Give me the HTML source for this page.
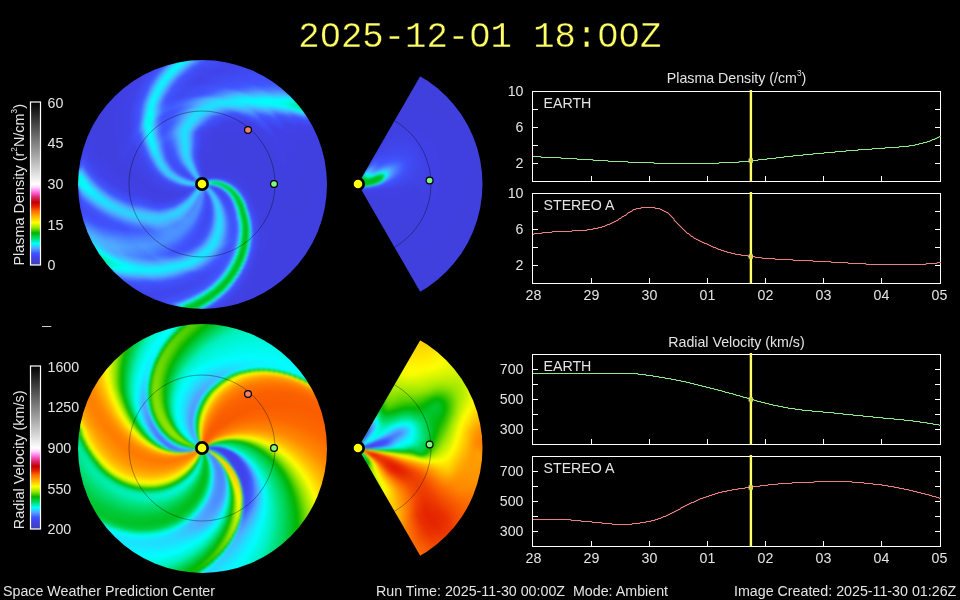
<!DOCTYPE html>
<html><head><meta charset="utf-8"><title>WSA-Enlil</title>
<style>
html,body{margin:0;padding:0;background:#000}
body{width:960px;height:600px;position:relative;overflow:hidden;font-family:"Liberation Sans", sans-serif}
.t{font-family:"Liberation Sans", sans-serif;font-size:14.2px;fill:#e4e4e4}
.f{font-family:"Liberation Sans", sans-serif;font-size:14.25px;fill:#e4e4e4}
.d{position:absolute;width:0;height:0}
.d i{position:absolute;border-radius:50%;width:calc(2*var(--r));height:calc(2*var(--r));left:calc(-1*var(--r));top:calc(-1*var(--r))}
.c{position:absolute;width:249px;height:249px;border-radius:50%;overflow:hidden}
.b{filter:blur(1.2px)}
.w{position:absolute;width:126px;height:250px;overflow:hidden;clip-path:circle(124.5px at 0 125px)}
.w>.d{clip-path:polygon(0 0,72.17px -125px,140px -125px,140px 125px,72.17px 125px)}

</style></head><body>
<div class="c" style="left:77.5px;top:59.5px"><div class="d b" style="left:124.5px;top:124.5px"><i style="--r:126.5px;background:conic-gradient(#4047ee 0deg,#4040e1 8deg,#4040df 14.5deg,#4042e9 32.5deg,#4157ff 43deg,#477aff 45.5deg,#4ea1ff 47deg,#48b3ff 47.5deg,#0bf3ff 49deg,#00fcf0 49.5deg,#00efb6 50.5deg,#00e794 51.5deg,#00e690 52deg,#00e899 52.5deg,#00efb5 53deg,#00f8e0 53.5deg,#0df1ff 54deg,#4fa6ff 55deg,#4469ff 56deg,#4053fe 56.5deg,#4041e7 59deg,#4040df 65.5deg,#4040e3 178deg,#404bf4 181.5deg,#4051fb 182deg,#4468ff 182.5deg,#4d98ff 183deg,#24d9ff 183.5deg,#00f3c8 184deg,#00db68 184.5deg,#00c836 185deg,#00be1c 185.5deg,#00bc16 186deg,#00bd19 186.5deg,#00c226 187deg,#00cc41 187.5deg,#00dc6a 188deg,#00edb0 188.5deg,#03fbff 189deg,#35c6ff 189.5deg,#4d99ff 190deg,#4676ff 190.5deg,#425cff 191deg,#404ef7 192deg,#4040e3 198deg,#4040df 205deg,#4043ea 220deg,#4052fd 225deg,#4364ff 226deg,#4ea1ff 228deg,#47b4ff 228.5deg,#01feff 230.5deg,#00f6d8 231.5deg,#00f2c5 232.5deg,#00f2c4 233deg,#00f6d8 234deg,#01feff 235deg,#4cafff 237.5deg,#4a8bff 239.5deg,#4a87ff 240deg,#4d9bff 245deg,#4b8fff 247.5deg,#4052fd 252deg,#4040e6 258deg,#4040e5 259.5deg,#4049f1 265deg,#4159ff 267deg,#4fa6ff 269deg,#01feff 271deg,#00f7dc 272deg,#00f6d7 272.5deg,#00f7dd 273deg,#05faff 274deg,#48b2ff 275.5deg,#4d9aff 276deg,#415bff 277.5deg,#404ef7 278.5deg,#4040e5 282.5deg,#4040df 299deg,#4040df 310deg,#4040e3 339deg,#404df6 345.5deg,#4053fe 346.5deg,#4984ff 348deg,#4bb0ff 349deg,#12ecff 350.5deg,#05faff 351.5deg,#10eeff 352.5deg,#42b9ff 354deg,#4fa4ff 354.5deg,#425dff 356.5deg,#4050fa 357.5deg,#4047ee 360deg)"></i><i style="--r:125px;background:conic-gradient(#425cff 0deg,#404ff9 2deg,#4042e8 13deg,#4041e7 15.5deg,#4050fa 34.5deg,#425cff 38.5deg,#4880ff 42deg,#4caeff 44.5deg,#00fffd 47.5deg,#00f2c3 49deg,#00e99e 50.5deg,#00e896 51.5deg,#00e899 52deg,#00efb7 53deg,#00fbee 54deg,#0af4ff 54.5deg,#4dadff 56deg,#425fff 58deg,#404ff9 59deg,#4040e5 63deg,#4040df 78deg,#4040e3 171.5deg,#404cf6 177.5deg,#4054ff 178.5deg,#487fff 179.5deg,#4d9bff 180deg,#3dbeff 180.5deg,#19e5ff 181deg,#00fae9 181.5deg,#00e074 182.5deg,#00c939 183.5deg,#00be1b 184.5deg,#00bc15 185.5deg,#00c021 187deg,#00ca3c 188deg,#00db68 189deg,#00e589 189.5deg,#00f9e3 190.5deg,#0cf3ff 191deg,#41baff 192deg,#4ea1ff 192.5deg,#446bff 194deg,#4054ff 195deg,#4046ed 201.5deg,#4043ea 206deg,#404df6 216.5deg,#415aff 219.5deg,#4e9eff 223.5deg,#50a8ff 224deg,#06f9ff 227.5deg,#00fef8 228deg,#00f2c4 230deg,#00eca9 232deg,#00eba7 232.5deg,#00eeb3 234.5deg,#00fbeb 237.5deg,#01feff 238.5deg,#23daff 241.5deg,#4ab0ff 247deg,#4fa5ff 248deg,#4052fd 254.5deg,#4044ec 261deg,#4044ec 261.5deg,#404df6 265.5deg,#4053fe 266.5deg,#4880ff 268deg,#50a9ff 269deg,#01feff 271deg,#00f8de 272deg,#00f7d9 272.5deg,#00f8df 273deg,#06f9ff 274deg,#47b3ff 275.5deg,#4d9bff 276deg,#425dff 277.5deg,#404ef7 278.5deg,#4040e4 283deg,#4040df 299.5deg,#4040e5 331deg,#4050fa 341deg,#415aff 342.5deg,#4fa5ff 346deg,#31cbff 347.5deg,#0df1ff 349.5deg,#05faff 351deg,#14eaff 353deg,#50aaff 356deg,#425cff 360deg)"></i><i style="--r:123.5px;background:conic-gradient(#4159ff 0deg,#404af2 5deg,#4043ea 14.5deg,#4053fe 34.5deg,#446cff 38.5deg,#4d9aff 42deg,#4dadff 43deg,#00fefb 46.5deg,#00f0bc 48.5deg,#00eba5 50deg,#00eaa3 50.5deg,#00edac 51.5deg,#00f4cd 52.5deg,#01feff 53.5deg,#4eacff 55.5deg,#4158ff 58deg,#4043ea 61.5deg,#4040df 70deg,#4040e3 168.5deg,#404af3 175deg,#4053fe 176.5deg,#4676ff 177.5deg,#4fabff 178.5deg,#0df1ff 179.5deg,#00f7dc 180deg,#00df73 181deg,#00cb3c 182deg,#00bf1e 183deg,#00bc16 184deg,#00be1b 185.5deg,#00ca3b 187deg,#00e27a 188.5deg,#00fdf5 190deg,#14eaff 190.5deg,#44b7ff 191.5deg,#4ea1ff 192deg,#456fff 193.5deg,#4158ff 194.5deg,#404af3 198.5deg,#4045ec 205.5deg,#404ef7 215.5deg,#4057ff 218deg,#4c97ff 222deg,#4fabff 223deg,#06f9ff 226.5deg,#00fbeb 227.5deg,#00f1c1 229.5deg,#00eeb3 231.5deg,#00f2c2 233.5deg,#00fefb 236.5deg,#29d3ff 240.5deg,#4bafff 246deg,#4ea0ff 247.5deg,#4052fd 254deg,#4047ef 259.5deg,#4051fb 264.5deg,#425dff 265.5deg,#4fa6ff 268deg,#05faff 270.5deg,#00f8e2 272deg,#00f8e0 272.5deg,#00fcf2 273.5deg,#03fcff 274deg,#46b5ff 276deg,#4ea1ff 276.5deg,#425eff 278.5deg,#4050fa 279.5deg,#4040e6 284.5deg,#4040df 301deg,#4040e6 329deg,#4052fc 339.5deg,#4363ff 341deg,#50a9ff 344.5deg,#15e8ff 347.5deg,#05faff 349.5deg,#0ef0ff 351.5deg,#35c7ff 354deg,#4fa7ff 355.5deg,#4260ff 359.5deg,#4159ff 360deg)"></i><i style="--r:122px;background:conic-gradient(#4052fc 0deg,#4044eb 10.5deg,#4043ea 13deg,#404ff9 30.5deg,#4158ff 35deg,#4881ff 39.5deg,#50aaff 42deg,#04fbff 45.5deg,#00f1bf 48deg,#00edaf 49.5deg,#00efb7 50.5deg,#00f5d3 51.5deg,#02fdff 52.5deg,#4ab0ff 54.5deg,#4a8cff 55.5deg,#4053fe 57.5deg,#4040e5 62.5deg,#4040df 80.5deg,#4040e3 167.5deg,#404ef7 174.5deg,#4158ff 175.5deg,#4d9aff 177deg,#42b9ff 177.5deg,#00fefd 178.5deg,#00e68d 179.5deg,#00da66 180deg,#00c734 181deg,#00be1b 182deg,#00bc16 183deg,#00bf1e 184.5deg,#00cd42 186deg,#00dd6c 187deg,#00e58c 187.5deg,#00f8df 188.5deg,#06f8ff 189deg,#4fabff 190.5deg,#4676ff 192deg,#4054ff 193.5deg,#4047ee 200.5deg,#4045ec 204deg,#404df6 214deg,#4159ff 217deg,#4d9aff 221deg,#4caeff 222deg,#06f9ff 225.5deg,#00fbed 226.5deg,#00f3c8 228.5deg,#00f1be 230deg,#00f3cb 232deg,#01feff 235deg,#2dcfff 239deg,#47b4ff 244.5deg,#4fa2ff 246.5deg,#4053fe 253.5deg,#404cf4 257.5deg,#4053fd 262deg,#4672ff 264deg,#4bafff 266.5deg,#0df1ff 269deg,#00fdf8 270deg,#00fae6 271.5deg,#00fbee 272.5deg,#05faff 273.5deg,#46b5ff 276deg,#4fa5ff 276.5deg,#4056ff 279.5deg,#4043ea 284.5deg,#4040df 297.5deg,#4040df 304deg,#4041e7 328.5deg,#4051fb 338deg,#425eff 339.5deg,#4fa2ff 343deg,#41baff 344deg,#13ebff 346.5deg,#05faff 348.5deg,#11edff 350.5deg,#43b8ff 353.5deg,#4fa3ff 354.5deg,#425dff 358.5deg,#4052fc 360deg)"></i><i style="--r:120.5px;background:conic-gradient(#404ef8 0deg,#4043ea 12deg,#4050f9 30deg,#4158ff 34deg,#477aff 38deg,#4fa7ff 41deg,#00ffff 45deg,#00f4cc 47deg,#00f0bc 48.5deg,#00f1c1 49.5deg,#00f7db 50.5deg,#03fbff 51.5deg,#47b4ff 53.5deg,#4ea2ff 54deg,#4056ff 56.5deg,#4041e8 61deg,#4040df 71.5deg,#4040e3 166deg,#404af2 172.5deg,#4053fd 174deg,#4673ff 175deg,#4fa7ff 176deg,#12ecff 177deg,#00f9e4 177.5deg,#00e178 178.5deg,#00cc3f 179.5deg,#00c020 180.5deg,#00bc16 182deg,#00c122 183.5deg,#00d04b 185deg,#00e178 186deg,#00fcf3 187.5deg,#12ebff 188deg,#43b8ff 189deg,#4ea1ff 189.5deg,#4363ff 191.5deg,#4053fe 192.5deg,#4045ec 201.5deg,#4045ec 203deg,#404ff8 213.5deg,#415bff 216deg,#4fa6ff 220.5deg,#2bd1ff 222.5deg,#00fefc 225deg,#00f6d6 227deg,#00f3ca 229deg,#00f7da 231deg,#00fefd 233deg,#34c8ff 238deg,#4bafff 244deg,#4b8eff 247.5deg,#4054ff 252.5deg,#404cf5 257deg,#4054ff 261.5deg,#4b8fff 264.5deg,#50a8ff 265.5deg,#0af4ff 268.5deg,#02fdff 269deg,#00fbed 270.5deg,#00fcf2 271.5deg,#04faff 272.5deg,#33c9ff 274.5deg,#50a9ff 275.5deg,#415aff 278.5deg,#4048f0 281.5deg,#4040e2 289.5deg,#4040df 303deg,#4041e7 327.5deg,#4052fc 337deg,#4261ff 338.5deg,#4fa7ff 342deg,#17e6ff 345deg,#06f9ff 347deg,#06f9ff 347.5deg,#13ebff 349.5deg,#50a8ff 353deg,#4261ff 357deg,#4052fd 358.5deg,#404ef8 360deg)"></i><i style="--r:119px;background:conic-gradient(#404cf5 0deg,#4043e9 11deg,#4050fa 29.5deg,#415aff 33.5deg,#487eff 37.5deg,#4daeff 40.5deg,#00fefc 44.5deg,#00f5d1 46.5deg,#00f3c8 48deg,#00f6d5 49deg,#06f9ff 50.5deg,#4fa5ff 53deg,#415bff 55.5deg,#404af3 57.5deg,#4040e2 63deg,#4040df 103deg,#4040df 103.5deg,#4040e3 165deg,#404ef7 172deg,#4158ff 173deg,#4d9aff 174.5deg,#43b8ff 175deg,#00ffff 176deg,#00e791 177deg,#00db68 177.5deg,#00c836 178.5deg,#00bf1c 179.5deg,#00bc16 180.5deg,#00bf1e 182deg,#00cc40 183.5deg,#00db69 184.5deg,#00e487 185deg,#02fdff 186.5deg,#4bb0ff 188deg,#4779ff 189.5deg,#4056ff 191deg,#4046ee 199deg,#4045ec 202deg,#404ef8 212deg,#4158ff 214.5deg,#4e9fff 219deg,#50a9ff 219.5deg,#07f7ff 223.5deg,#00ffff 224deg,#00f7dd 226deg,#00f6d4 227.5deg,#00fae8 230deg,#02fdff 231.5deg,#38c4ff 236.5deg,#4caeff 243deg,#4c94ff 246deg,#4053fe 252deg,#404cf5 256deg,#4053fe 260.5deg,#487fff 263deg,#4fa2ff 264.5deg,#4bafff 265deg,#11edff 267.5deg,#02fdff 268.5deg,#00fcf3 270deg,#05faff 271.5deg,#30ccff 273.5deg,#4caeff 274.5deg,#4054ff 278deg,#4042e8 283.5deg,#4040df 300deg,#4040df 302deg,#4041e7 326.5deg,#4050fb 335.5deg,#415cff 337deg,#4fabff 341deg,#15e9ff 344deg,#06f9ff 346deg,#10eeff 348deg,#42b9ff 351deg,#4fa4ff 352deg,#425eff 356deg,#4050fa 358deg,#404cf5 360deg)"></i><i style="--r:117.5px;background:conic-gradient(#404af2 0deg,#4042e9 10deg,#4050fa 28.5deg,#4159ff 32.5deg,#4983ff 37deg,#50aaff 39.5deg,#05faff 43.5deg,#00fbef 44.5deg,#00f6d5 46.5deg,#00f6d4 47deg,#00f8df 48deg,#00fefa 49deg,#15e8ff 50deg,#4fa7ff 52deg,#4054ff 55deg,#4041e7 60deg,#4040df 72deg,#4040df 104deg,#4040e3 163.5deg,#404df6 170.5deg,#4054ff 171.5deg,#4b91ff 173deg,#4dadff 173.5deg,#0df2ff 174.5deg,#00f7dc 175deg,#00e075 176deg,#00cb3f 177deg,#00c020 178deg,#00bc17 179.5deg,#00c021 181deg,#00cf48 182.5deg,#00df73 183.5deg,#00fae8 185deg,#0bf3ff 185.5deg,#50a9ff 187deg,#4675ff 188.5deg,#4054ff 190deg,#4046ed 198.5deg,#4045ec 200.5deg,#404ff8 211deg,#415aff 213.5deg,#4ea2ff 218deg,#4fabff 218.5deg,#08f6ff 222.5deg,#00fef8 223.5deg,#00f8e1 225.5deg,#00f8df 226deg,#00fae9 228deg,#00ffff 229.5deg,#3ebdff 235.5deg,#4dadff 242deg,#4880ff 247deg,#4054fe 251deg,#404cf5 255deg,#4057ff 260deg,#4b91ff 263deg,#50a9ff 264deg,#0fefff 267deg,#00fefc 268.5deg,#00fefa 269deg,#00ffff 270deg,#16e8ff 271.5deg,#48b3ff 273.5deg,#4fa4ff 274deg,#4158ff 277deg,#4042e9 282.5deg,#4040df 297.5deg,#4040df 301deg,#4041e7 325deg,#4051fb 334.5deg,#425fff 336deg,#4fa4ff 339.5deg,#40bbff 340.5deg,#12ebff 343deg,#06f9ff 345deg,#13ebff 347deg,#46b5ff 350deg,#50aaff 350.5deg,#4362ff 354.5deg,#4052fd 356deg,#404af2 360deg)"></i><i style="--r:116px;background:conic-gradient(#4048f0 0deg,#4042e9 9deg,#404ff9 27deg,#4159ff 31.5deg,#4881ff 36deg,#4fa7ff 38.5deg,#2fcdff 40.5deg,#04faff 43deg,#00fbeb 44.5deg,#00f8e1 46deg,#00fae9 47deg,#01feff 48deg,#33c9ff 50deg,#50a9ff 51deg,#4158ff 54deg,#4044ea 58deg,#4040df 69deg,#4040e3 162deg,#404cf5 169deg,#4052fd 170deg,#415cff 170.5deg,#4e9fff 172deg,#3dbeff 172.5deg,#00fdf7 173.5deg,#00e58b 174.5deg,#00da65 175deg,#00c835 176deg,#00bf1c 177deg,#00bd17 178deg,#00bf1e 179.5deg,#00cc40 181deg,#00db68 182deg,#00e485 182.5deg,#00ffff 184deg,#48b3ff 185.5deg,#4e9dff 186deg,#456dff 187.5deg,#4053fd 189deg,#4045ec 198.5deg,#4045ec 199.5deg,#404ef7 209.5deg,#4057ff 212deg,#4c92ff 216deg,#4dadff 217.5deg,#0af5ff 221.5deg,#00fffd 222.5deg,#00faea 224.5deg,#00fae9 225deg,#00fdf7 227deg,#04fbff 228deg,#41b9ff 234deg,#4facff 241deg,#4987ff 245.5deg,#4053fe 250.5deg,#404cf5 254.5deg,#4054ff 259deg,#4a8cff 262deg,#4fa3ff 263deg,#3fbcff 264deg,#0ef1ff 266.5deg,#01feff 268deg,#01feff 268.5deg,#0df1ff 270deg,#37c5ff 272deg,#50a8ff 273deg,#4054fe 276.5deg,#4041e8 282.5deg,#4040df 298deg,#4040df 300deg,#4041e7 324deg,#4052fc 333.5deg,#4362ff 335deg,#50a8ff 338.5deg,#17e7ff 341.5deg,#06f8ff 343.5deg,#10eeff 345.5deg,#36c5ff 348deg,#4fa5ff 349.5deg,#425eff 353.5deg,#4050fa 355.5deg,#4048f0 360deg)"></i><i style="--r:114.5px;background:conic-gradient(#4047ee 0deg,#4042e9 8deg,#404ef8 25.5deg,#4158ff 30.5deg,#4881ff 35deg,#4caeff 38deg,#01feff 42.5deg,#00fae7 44.5deg,#00f9e5 45deg,#00fdf5 46.5deg,#02fdff 47deg,#30ccff 49deg,#4daeff 50deg,#4053fe 53.5deg,#4040e6 59deg,#4040df 74.5deg,#4040e3 161deg,#404df7 168deg,#4054ff 169deg,#4c92ff 170.5deg,#4caeff 171deg,#0cf3ff 172deg,#00f7da 172.5deg,#00df74 173.5deg,#00cb3e 174.5deg,#00c020 175.5deg,#00bd17 177deg,#00c122 178.5deg,#00d04a 180deg,#00e075 181deg,#00fbec 182.5deg,#0ef0ff 183deg,#3ebdff 184deg,#4fa6ff 184.5deg,#4366ff 186.5deg,#4054ff 187.5deg,#4046ed 196deg,#4045ec 198deg,#404ef8 208.5deg,#4159ff 211deg,#4fa6ff 216deg,#12ecff 220deg,#00fefc 222deg,#00fcf3 223.5deg,#03fcff 226deg,#48b2ff 233deg,#4bafff 234deg,#4ab0ff 237deg,#4fa5ff 241deg,#4778ff 246deg,#4053fe 249.5deg,#404cf5 253.5deg,#4053fe 258deg,#4987ff 261deg,#50a9ff 262.5deg,#14eaff 265.5deg,#04faff 267.5deg,#0df1ff 269deg,#34c8ff 271deg,#4eacff 272deg,#4056ff 275.5deg,#4042e9 281deg,#4040df 296deg,#4040df 299.5deg,#4041e7 322.5deg,#4051fb 332deg,#425dff 333.5deg,#4eacff 337.5deg,#1ce2ff 340deg,#08f7ff 342deg,#07f8ff 342.5deg,#12ecff 344.5deg,#45b6ff 347.5deg,#4fabff 348deg,#415bff 352.5deg,#404bf4 356.5deg,#4047ee 360deg)"></i><i style="--r:113px;background:conic-gradient(#4046ed 0deg,#4043e9 6deg,#4052fc 26.5deg,#4260ff 30deg,#4b8dff 34.5deg,#50aaff 36.5deg,#08f7ff 41deg,#00fefa 42deg,#00fae8 44deg,#00fdf5 45.5deg,#00ffff 46deg,#28d5ff 48deg,#4fabff 49.5deg,#4056ff 53deg,#4040e6 59deg,#4040df 76.5deg,#4040df 105deg,#4040e3 159.5deg,#404cf5 166.5deg,#4052fd 167.5deg,#456fff 168.5deg,#4ea0ff 169.5deg,#3cbfff 170deg,#1ce2ff 170.5deg,#00fdf5 171deg,#00e589 172deg,#00d964 172.5deg,#00c834 173.5deg,#00bf1c 174.5deg,#00bd17 175.5deg,#00c01f 177deg,#00cd42 178.5deg,#00dc6b 179.5deg,#00e589 180deg,#03fcff 181.5deg,#4bb0ff 183deg,#4779ff 184.5deg,#4057ff 186deg,#4049f1 191deg,#4045ec 197deg,#404ef7 207deg,#415bff 210deg,#50a8ff 215deg,#13ebff 219deg,#00ffff 221.5deg,#00fefd 222.5deg,#07f7ff 224.5deg,#4bafff 231.5deg,#50a9ff 232.5deg,#4dadff 236.5deg,#4e9fff 241deg,#4053fe 249deg,#404cf6 253deg,#4157ff 257.5deg,#4b8dff 260.5deg,#4cafff 262deg,#1ae4ff 264.5deg,#08f6ff 266.5deg,#08f6ff 267deg,#1de0ff 269deg,#4ab0ff 271deg,#4c96ff 272deg,#415bff 274.5deg,#404ef8 276deg,#4040e5 282.5deg,#4040df 298.5deg,#4042e8 322.5deg,#4053fe 331.5deg,#4985ff 334.5deg,#4fa6ff 336deg,#19e5ff 339deg,#07f7ff 341deg,#07f8ff 341.5deg,#15e9ff 343.5deg,#49b2ff 346.5deg,#4e9dff 347.5deg,#4159ff 351.5deg,#404af2 356.5deg,#4046ed 360deg)"></i><i style="--r:111.5px;background:conic-gradient(#4045ed 0deg,#4044eb 4deg,#4052fc 24deg,#425eff 27.5deg,#4a8bff 32.5deg,#4daeff 35deg,#05faff 40deg,#00fef9 41deg,#00fbeb 43deg,#00fdf7 44.5deg,#00ffff 45deg,#2dcfff 47.5deg,#50a9ff 49deg,#4053fe 53deg,#4040e6 59.5deg,#4040df 78.5deg,#4040df 107.5deg,#4040e3 158deg,#404bf4 165deg,#4055ff 166.5deg,#4c93ff 168deg,#4bafff 168.5deg,#0af4ff 169.5deg,#00f6d8 170deg,#00df73 171deg,#00cb3e 172deg,#00c020 173deg,#00bd17 174.5deg,#00c123 176deg,#00d04c 177.5deg,#00e178 178.5deg,#00fcf1 180deg,#11edff 180.5deg,#41baff 181.5deg,#4fa4ff 182deg,#4571ff 183.5deg,#4053fe 185deg,#4046ed 193.5deg,#4045ec 195.5deg,#404ef8 206deg,#4157ff 208.5deg,#50a9ff 214deg,#15e9ff 218deg,#04fbff 221deg,#13ebff 224deg,#4fabff 230deg,#4fa4ff 231.5deg,#50aaff 236deg,#4e9fff 240deg,#4366ff 246deg,#4052fd 248.5deg,#404df6 252deg,#4055ff 256.5deg,#4a88ff 259.5deg,#50a8ff 261deg,#19e5ff 264deg,#0cf2ff 266deg,#16e8ff 267.5deg,#3bc0ff 269.5deg,#4fa6ff 270.5deg,#4055ff 274deg,#4042e8 280deg,#4040df 296.5deg,#4040df 298deg,#4041e7 320.5deg,#4050fa 329.5deg,#4159ff 331deg,#50a8ff 335deg,#16e7ff 338deg,#07f8ff 340deg,#11edff 342deg,#43b8ff 345deg,#4eadff 345.5deg,#425cff 350deg,#404ff9 352.5deg,#4045ed 360deg)"></i><i style="--r:110px;background:conic-gradient(#4045ec 0deg,#4044eb 2.5deg,#4050fa 21.5deg,#415cff 26deg,#4a87ff 31deg,#50a8ff 33.5deg,#0af4ff 38.5deg,#00fefa 40deg,#00fbee 42deg,#03fcff 44deg,#2fcdff 46.5deg,#50a8ff 48deg,#4054ff 52deg,#4041e8 58deg,#4040df 71.5deg,#4040df 106deg,#4040e3 157deg,#404cf5 164deg,#4052fd 165deg,#4570ff 166deg,#4ea1ff 167deg,#3bc0ff 167.5deg,#1ae3ff 168deg,#00fcf3 168.5deg,#00e487 169.5deg,#00d963 170deg,#00c734 171deg,#00bf1c 172deg,#00bd17 173deg,#00c020 174.5deg,#00cd43 176deg,#00dd6c 177deg,#00eeb3 178deg,#05faff 179deg,#4caeff 180.5deg,#4778ff 182deg,#4056ff 183.5deg,#4047ef 191deg,#4045ed 194deg,#404ff9 204.5deg,#415aff 207deg,#50a8ff 212.5deg,#1ae4ff 216.5deg,#08f7ff 219.5deg,#07f7ff 220deg,#1ce2ff 223.5deg,#4fabff 229deg,#4fa4ff 230.5deg,#50aaff 235.5deg,#4e9eff 239.5deg,#4365ff 245.5deg,#4052fd 248deg,#404df6 251.5deg,#4054ff 255.5deg,#4985ff 258.5deg,#4cafff 260.5deg,#1edfff 263deg,#0fefff 265deg,#16e8ff 266.5deg,#38c4ff 268.5deg,#50aaff 269.5deg,#4159ff 273deg,#4047ef 276.5deg,#4040e1 285.5deg,#4040df 297deg,#4041e7 319.5deg,#4050fa 328.5deg,#415aff 330deg,#50aaff 334deg,#1ce1ff 336.5deg,#08f7ff 338.5deg,#07f8ff 339deg,#13eaff 341deg,#48b3ff 344deg,#50a8ff 344.5deg,#4260ff 348.5deg,#4052fd 350deg,#4045ec 359.5deg,#4045ec 360deg)"></i><i style="--r:108.5px;background:conic-gradient(#4044eb 0deg,#4044eb 1.5deg,#4050fa 20.5deg,#4159ff 24.5deg,#4983ff 29.5deg,#50aaff 32.5deg,#0af4ff 37.5deg,#00fefb 39deg,#00fcf1 41deg,#00ffff 42.5deg,#27d6ff 45deg,#4fa7ff 47deg,#4054ff 51deg,#4041e7 57.5deg,#4040df 73.5deg,#4040df 103deg,#4040e3 155.5deg,#404bf4 162.5deg,#4056ff 164deg,#4c94ff 165.5deg,#4ab1ff 166deg,#09f6ff 167deg,#00f6d6 167.5deg,#00ea9f 168deg,#00de71 168.5deg,#00cb3c 169.5deg,#00c01f 170.5deg,#00bd17 172deg,#00c123 173.5deg,#00d14c 175deg,#00e179 176deg,#00fcf2 177.5deg,#12ecff 178deg,#41baff 179deg,#4fa3ff 179.5deg,#4672ff 181deg,#4054ff 182.5deg,#4047ef 190.5deg,#4047ee 192.5deg,#4051fb 203deg,#415cff 205deg,#4dadff 211deg,#1ae4ff 215deg,#09f5ff 218deg,#09f6ff 218.5deg,#16e8ff 221.5deg,#4dadff 228deg,#4fa5ff 230deg,#4eadff 234.5deg,#4ea2ff 238.5deg,#446aff 244.5deg,#4052fd 247.5deg,#404ef7 250.5deg,#4054ff 254.5deg,#4982ff 257.5deg,#50aaff 259.5deg,#1be2ff 262.5deg,#10eeff 264.5deg,#22dbff 266.5deg,#4bafff 268.5deg,#4c97ff 269.5deg,#4054ff 272.5deg,#4042e8 278.5deg,#4040df 295deg,#4040df 296deg,#4041e7 318.5deg,#4051fb 327.5deg,#425dff 329deg,#4fa2ff 332.5deg,#41baff 333.5deg,#13ebff 336deg,#07f7ff 338deg,#16e8ff 340deg,#4bafff 343deg,#4b90ff 344.5deg,#4057ff 348deg,#4046ed 356.5deg,#4044eb 360deg)"></i><i style="--r:107px;background:conic-gradient(#4044ea 0deg,#4044ea 0.5deg,#4052fc 21deg,#425dff 24deg,#4a8bff 29deg,#4eacff 31.5deg,#0af4ff 36.5deg,#00fef8 38.5deg,#00fdf4 39.5deg,#03fcff 41.5deg,#29d4ff 44deg,#4fa6ff 46deg,#4055ff 50deg,#4040e6 57deg,#4040df 78deg,#4040df 102.5deg,#4040e3 154.5deg,#404af2 161deg,#415aff 163deg,#4983ff 164deg,#4e9dff 164.5deg,#3fbcff 165deg,#00fef9 166deg,#00e58b 167deg,#00da64 167.5deg,#00c734 168.5deg,#00be1c 169.5deg,#00bd17 170.5deg,#00c020 172deg,#00c835 173deg,#00de71 174.5deg,#00f0bd 175.5deg,#00fae7 176deg,#0cf3ff 176.5deg,#3dbfff 177.5deg,#4fa7ff 178deg,#4467ff 180deg,#4054ff 181deg,#4047ee 189.5deg,#4046ee 191deg,#4050fa 201deg,#415bff 203.5deg,#4fabff 209.5deg,#1be2ff 213.5deg,#0af4ff 216.5deg,#0af4ff 217deg,#17e6ff 220deg,#50a9ff 226.5deg,#4e9fff 229deg,#50a9ff 234deg,#4e9eff 238deg,#4053fd 246.5deg,#404ef8 249.5deg,#4158ff 254deg,#4c92ff 257.5deg,#4fa6ff 258.5deg,#1fdeff 261.5deg,#12ecff 263.5deg,#20ddff 265.5deg,#50a7ff 268deg,#4159ff 271.5deg,#4047ef 275deg,#4040e1 284deg,#4040df 295.5deg,#4042e8 318deg,#4051fb 326.5deg,#425fff 328deg,#4fa6ff 331.5deg,#18e6ff 334.5deg,#08f7ff 336.5deg,#12ecff 338.5deg,#44b7ff 341.5deg,#4fabff 342deg,#4362ff 346deg,#4052fd 347.5deg,#4045ec 357deg,#4044ea 360deg)"></i><i style="--r:105.5px;background:conic-gradient(#4044ea 0deg,#4052fd 20deg,#4362ff 23.5deg,#4d99ff 29deg,#4daeff 30.5deg,#0af4ff 35.5deg,#00fefa 37.5deg,#00fdf7 38.5deg,#05f9ff 40.5deg,#35c7ff 43.5deg,#4fa5ff 45deg,#4057ff 49deg,#4042e9 55deg,#4040df 68.5deg,#4040df 102deg,#4040e3 154deg,#404bf4 160.5deg,#415aff 162deg,#4983ff 163deg,#4e9eff 163.5deg,#3dbfff 164deg,#1be3ff 164.5deg,#00fcf1 165deg,#00e381 166deg,#00cd43 167deg,#00c122 168deg,#00bd17 169deg,#00bd17 169.5deg,#00c224 171deg,#00d251 172.5deg,#00e486 173.5deg,#00f7db 174.5deg,#05faff 175deg,#50abff 176.5deg,#4675ff 178deg,#4054ff 179.5deg,#4046ee 188deg,#4046ee 189.5deg,#404ff9 199.5deg,#415aff 202deg,#50aaff 208deg,#1ce1ff 212deg,#0cf3ff 215deg,#0bf3ff 215.5deg,#19e5ff 218.5deg,#50a8ff 224.5deg,#4d99ff 227.5deg,#4fa6ff 233.5deg,#4d9bff 237.5deg,#4053fe 245.5deg,#404ef8 249deg,#4157ff 253deg,#4b8fff 256.5deg,#4eacff 258deg,#23daff 260.5deg,#14eaff 262.5deg,#1fdeff 264.5deg,#4facff 267deg,#4054ff 271deg,#4041e7 277.5deg,#4040df 294.5deg,#4042e8 317deg,#4053fe 326deg,#4c93ff 329.5deg,#50a9ff 330.5deg,#16e8ff 333.5deg,#08f7ff 335.5deg,#14eaff 337.5deg,#48b3ff 340.5deg,#50a8ff 341deg,#4260ff 345deg,#4052fc 346.5deg,#4044eb 357deg,#4043ea 359.5deg,#4044ea 360deg)"></i><i style="--r:104px;background:conic-gradient(#4044ea 0deg,#4054ff 20deg,#487dff 25.5deg,#50a8ff 29deg,#0bf4ff 34.5deg,#00fefc 36.5deg,#00fefa 37.5deg,#03fcff 39deg,#24d9ff 41.5deg,#4bafff 43.5deg,#4b90ff 45deg,#4158ff 48deg,#4043ea 53.5deg,#4040df 67deg,#4040df 101.5deg,#4040e3 152.5deg,#404cf6 159.5deg,#4053fe 160.5deg,#4675ff 161.5deg,#50a9ff 162.5deg,#0ef0ff 163.5deg,#00f7db 164deg,#00df72 165deg,#00ca3b 166deg,#00bf1e 167deg,#00bd17 168deg,#00c01f 169.5deg,#00c834 170.5deg,#00de71 172deg,#00f1c0 173deg,#00fbec 173.5deg,#0fefff 174deg,#41baff 175deg,#4fa3ff 175.5deg,#4570ff 177deg,#4053fe 178.5deg,#4046ee 187.5deg,#4046ee 188deg,#404ff9 198deg,#415aff 200.5deg,#50a9ff 206.5deg,#1ee0ff 210.5deg,#0df2ff 213.5deg,#0cf2ff 214deg,#1ae4ff 217deg,#50a9ff 222.5deg,#4c93ff 226.5deg,#4fa4ff 233deg,#4d97ff 237deg,#4053fe 245deg,#404ff8 248deg,#4056ff 252deg,#4982ff 255deg,#50a8ff 257deg,#20dcff 260deg,#15e8ff 262deg,#25d8ff 264deg,#4bb0ff 266deg,#4b8dff 267.5deg,#4158ff 270deg,#4044eb 275deg,#4040df 289deg,#4040df 293.5deg,#4042e8 315.5deg,#4052fd 324.5deg,#4364ff 326deg,#4dadff 329.5deg,#14eaff 332.5deg,#08f6ff 334.5deg,#16e8ff 336.5deg,#4bafff 339.5deg,#4b91ff 341deg,#4057ff 344.5deg,#4045ed 353.5deg,#4043ea 358deg,#4044ea 360deg)"></i><i style="--r:102.5px;background:conic-gradient(#4044eb 0deg,#4056ff 19.5deg,#4984ff 25deg,#50aaff 28deg,#10efff 33deg,#00fffd 36deg,#00fffd 36.5deg,#0af4ff 38.5deg,#38c3ff 41.5deg,#4caeff 42.5deg,#4673ff 45.5deg,#4053fe 47.5deg,#4041e7 54.5deg,#4040df 71.5deg,#4040df 101deg,#4040e3 151.5deg,#404df7 158.5deg,#4056ff 159.5deg,#487dff 160.5deg,#4c97ff 161deg,#45b5ff 161.5deg,#01feff 162.5deg,#00e68f 163.5deg,#00da66 164deg,#00c834 165deg,#00be1c 166deg,#00bd18 167deg,#00c122 168.5deg,#00d04c 170deg,#00e27c 171deg,#00fefc 172.5deg,#4ab1ff 174deg,#4779ff 175.5deg,#4056ff 177deg,#4047ef 184.5deg,#4046ee 187deg,#4051fc 197.5deg,#425eff 199.5deg,#50a8ff 205deg,#1fdeff 209deg,#0ef1ff 212deg,#0df1ff 212.5deg,#1be3ff 215.5deg,#50abff 220.5deg,#4b90ff 224.5deg,#4b8eff 225.5deg,#4ea2ff 232.5deg,#4b91ff 237deg,#4053fe 244deg,#404ff9 247.5deg,#4055ff 251deg,#4a88ff 254.5deg,#4caeff 256.5deg,#1fdeff 259.5deg,#17e6ff 261deg,#23daff 263deg,#50a8ff 265.5deg,#4054ff 269.5deg,#4042e8 275.5deg,#4040df 292.5deg,#4042e8 314.5deg,#4051fb 323deg,#425fff 324.5deg,#4fa5ff 328deg,#34c8ff 329.5deg,#0df1ff 332deg,#09f6ff 333deg,#12ebff 335deg,#3ac1ff 337.5deg,#4eacff 338.5deg,#415bff 343deg,#404ef8 345.5deg,#4043ea 357deg,#4044eb 360deg)"></i><i style="--r:101px;background:conic-gradient(#4046ee 0deg,#4056ff 16.5deg,#4983ff 22.5deg,#50aaff 26deg,#11edff 31.5deg,#01feff 34.5deg,#01feff 35deg,#0af4ff 37.5deg,#38c3ff 41deg,#50a7ff 42.5deg,#4055ff 47.5deg,#4040e6 56deg,#4040df 80.5deg,#4040df 105deg,#4040e3 150deg,#404af2 156.5deg,#4052fc 158deg,#415cff 158.5deg,#4ea1ff 160deg,#39c2ff 160.5deg,#17e6ff 161deg,#00fbeb 161.5deg,#00e27c 162.5deg,#00cc41 163.5deg,#00c021 164.5deg,#00bd18 165.5deg,#00bd18 166deg,#00c225 167.5deg,#00cc40 168.5deg,#00dc6b 169.5deg,#00e58b 170deg,#00f8e0 171deg,#08f6ff 171.5deg,#50a8ff 173deg,#4673ff 174.5deg,#4054ff 176deg,#4047ee 184.5deg,#4047ee 185.5deg,#4051fc 196deg,#425eff 198deg,#4caeff 204deg,#1be2ff 208deg,#0df1ff 211deg,#1ae3ff 214deg,#50aaff 219deg,#4b8eff 223deg,#4a8bff 224deg,#4ea0ff 232deg,#4b8eff 236.5deg,#4053fd 244deg,#4050fa 246.5deg,#4055ff 250deg,#4b8fff 254deg,#4fabff 255.5deg,#22dbff 258.5deg,#19e5ff 260.5deg,#29d4ff 262.5deg,#4eacff 264.5deg,#4157ff 268.5deg,#4042e9 274.5deg,#4040df 290.5deg,#4040df 292deg,#4042e8 313.5deg,#4054fe 322.5deg,#4c93ff 326deg,#50a9ff 327deg,#16e7ff 330deg,#08f7ff 332deg,#13ebff 334deg,#46b5ff 337deg,#50aaff 337.5deg,#4362ff 341.5deg,#4053fd 343deg,#4046ed 353deg,#4045ed 355deg,#4046ee 360deg)"></i><i style="--r:99.5px;background:conic-gradient(#404bf4 0deg,#4158ff 12deg,#4985ff 19deg,#4fabff 23deg,#11edff 29.5deg,#03fcff 33.5deg,#0df1ff 36.5deg,#39c3ff 40.5deg,#4eacff 42deg,#4054ff 48.5deg,#4040e6 58.5deg,#4040df 86.5deg,#4040df 111deg,#4040e3 149deg,#404df6 156deg,#4053fe 157deg,#4777ff 158deg,#4eadff 159deg,#0af4ff 160deg,#00f6d6 160.5deg,#00e99e 161deg,#00de6f 161.5deg,#00ca3a 162.5deg,#00bf1e 163.5deg,#00bd18 164.5deg,#00c020 166deg,#00cf47 167.5deg,#00e074 168.5deg,#00fcf1 170deg,#12ecff 170.5deg,#44b7ff 171.5deg,#4ea0ff 172deg,#456eff 173.5deg,#4053fe 175deg,#4047ef 183.5deg,#4047ef 184.5deg,#4050fa 194deg,#425dff 196.5deg,#4daeff 202.5deg,#1be2ff 206.5deg,#0df1ff 209.5deg,#19e5ff 212.5deg,#4fa7ff 218deg,#4a8cff 222deg,#4a89ff 223deg,#4e9eff 231deg,#4b8fff 235.5deg,#4053fe 243.5deg,#4051fb 246deg,#4157ff 249deg,#4985ff 252.5deg,#50a8ff 254.5deg,#25d8ff 257.5deg,#1ae3ff 259.5deg,#27d5ff 261.5deg,#4fa5ff 264deg,#4054fe 268deg,#4041e8 274.5deg,#4040df 291deg,#4042e8 312deg,#4053fd 321deg,#456fff 323deg,#4fa4ff 325.5deg,#40bbff 326.5deg,#11edff 329deg,#04faff 331deg,#11edff 333deg,#44b7ff 336deg,#4eacff 336.5deg,#4467ff 340.5deg,#4053fe 342.5deg,#4049f1 352deg,#4049f1 353deg,#404bf4 360deg)"></i><i style="--r:98px;background:conic-gradient(#404cf5 0deg,#4158ff 10.5deg,#4a8aff 18deg,#4eacff 21.5deg,#12ecff 28deg,#05faff 32deg,#10efff 35deg,#3ac1ff 39deg,#4fabff 40.5deg,#4054ff 47deg,#4041e7 56.5deg,#4040df 80.5deg,#4040df 110deg,#4040e3 148deg,#404ef7 155deg,#4158ff 156deg,#4d9aff 157.5deg,#42b9ff 158deg,#00fefb 159deg,#00e58a 160deg,#00d963 160.5deg,#00c733 161.5deg,#00be1c 162.5deg,#00bd18 163.5deg,#00c123 165deg,#00ca3c 166deg,#00da64 167deg,#00e380 167.5deg,#01feff 169deg,#4caeff 170.5deg,#4777ff 172deg,#4056ff 173.5deg,#4048f0 180.5deg,#4047ef 183deg,#4050fa 192.5deg,#425dff 195deg,#4eacff 201deg,#1ce1ff 205deg,#0ef0ff 208deg,#19e4ff 211deg,#4fabff 216deg,#4a8bff 220deg,#4985ff 221.5deg,#4d9cff 230deg,#4c92ff 234deg,#4054ff 242.5deg,#4051fb 245deg,#4056ff 248deg,#4982ff 251.5deg,#4dadff 254deg,#23d9ff 257deg,#1ce1ff 258.5deg,#26d6ff 260.5deg,#50a9ff 263deg,#4157ff 267deg,#4043ea 272.5deg,#4040df 287.5deg,#4040df 290.5deg,#4042e8 311deg,#4052fd 320deg,#456fff 322deg,#4fa5ff 324.5deg,#3ebdff 325.5deg,#10eeff 328deg,#05faff 330deg,#13eaff 332deg,#4fa7ff 335.5deg,#4362ff 339.5deg,#4052fc 341.5deg,#4049f1 351.5deg,#404cf5 360deg)"></i><i style="--r:96.5px;background:conic-gradient(#404cf6 0deg,#4158ff 9deg,#4a8bff 16.5deg,#4eacff 20deg,#16e7ff 26deg,#07f8ff 30deg,#07f8ff 30.5deg,#16e8ff 34deg,#49b1ff 38.5deg,#4fa3ff 39.5deg,#4055ff 45.5deg,#4040e6 56.5deg,#4040df 84.5deg,#4040df 109deg,#4040e3 146.5deg,#404cf5 153.5deg,#4053fd 154.5deg,#425eff 155deg,#4fa5ff 156.5deg,#13ebff 157.5deg,#00f9e5 158deg,#00e178 159deg,#00cc3f 160deg,#00c021 161deg,#00bd18 162deg,#00bf1f 163.5deg,#00c732 164.5deg,#00dd6d 166deg,#00efb9 167deg,#00f9e5 167.5deg,#0bf4ff 168deg,#3dbeff 169deg,#4fa6ff 169.5deg,#4672ff 171deg,#4054ff 172.5deg,#4047ef 181deg,#4047ef 181.5deg,#4051fb 191.5deg,#425dff 193.5deg,#4fabff 199.5deg,#1de0ff 203.5deg,#0ef0ff 206.5deg,#0ef0ff 207deg,#22dbff 210.5deg,#50aaff 214.5deg,#4986ff 219deg,#4881ff 220.5deg,#4d9bff 229deg,#4d9bff 229.5deg,#4a8cff 234deg,#4053fe 242deg,#4051fb 244deg,#415aff 247.5deg,#4a88ff 251deg,#50a9ff 253deg,#27d6ff 256deg,#1edfff 258deg,#2bd1ff 260deg,#4eacff 262deg,#4054fe 266.5deg,#4041e7 273.5deg,#4040df 290deg,#4042e8 311deg,#4053fe 319.5deg,#4a8bff 322.5deg,#4caeff 324deg,#17e7ff 326.5deg,#05faff 328.5deg,#0fefff 330.5deg,#44b7ff 333.5deg,#4fabff 334deg,#4363ff 338deg,#4053fe 339.5deg,#4049f1 348.5deg,#4049f1 350deg,#404cf6 360deg)"></i><i style="--r:95px;background:conic-gradient(#404ef7 0deg,#4159ff 7.5deg,#4a88ff 14.5deg,#4dadff 18.5deg,#17e6ff 24.5deg,#09f6ff 28.5deg,#09f6ff 29deg,#18e5ff 32.5deg,#4ab0ff 37deg,#4fa2ff 38deg,#4053fe 44.5deg,#4040e6 55deg,#4040df 84.5deg,#4040df 108.5deg,#4040e3 145.5deg,#404df7 152.5deg,#4054ff 153.5deg,#477bff 154.5deg,#49b1ff 155.5deg,#06f8ff 156.5deg,#00e898 157.5deg,#00dc6c 158deg,#00c938 159deg,#00bf1e 160deg,#00bd18 161deg,#00c021 162.5deg,#00c938 163.5deg,#00e077 165deg,#00fdf5 166.5deg,#14eaff 167deg,#46b5ff 168deg,#4e9fff 168.5deg,#456eff 170deg,#4053fe 171.5deg,#4048ef 180.5deg,#4052fd 190.5deg,#456dff 193.5deg,#50aaff 198deg,#1edfff 202deg,#0fefff 205deg,#0fefff 205.5deg,#1ee0ff 208.5deg,#50a9ff 213deg,#4983ff 217.5deg,#487dff 219.5deg,#4d9aff 228.5deg,#4a8cff 233deg,#4054ff 241deg,#4051fc 243.5deg,#4159ff 246.5deg,#4b8dff 250.5deg,#4caeff 252.5deg,#26d7ff 255.5deg,#20deff 257deg,#2bd2ff 259deg,#4fa6ff 261.5deg,#4056ff 265.5deg,#4041e8 272.5deg,#4040df 289.5deg,#4042e8 309.5deg,#4052fc 318deg,#4363ff 319.5deg,#4fa3ff 322.5deg,#3fbcff 323.5deg,#0fefff 326deg,#05faff 327.5deg,#10eeff 329.5deg,#3ac1ff 332deg,#4fabff 333deg,#4363ff 337deg,#4052fc 339deg,#4049f1 348.5deg,#404ef7 360deg)"></i><i style="--r:93.5px;background:conic-gradient(#404ff9 0deg,#415cff 6.5deg,#4b91ff 14deg,#50a9ff 16.5deg,#18e5ff 23deg,#0bf3ff 27deg,#1be3ff 31deg,#50a8ff 36deg,#4053fe 43deg,#4040e6 54deg,#4040df 83.5deg,#4040df 107.5deg,#4040e3 144deg,#404cf5 151deg,#415bff 152.5deg,#4984ff 153.5deg,#4e9eff 154deg,#3dbeff 154.5deg,#1ce1ff 155deg,#00fcf4 155.5deg,#00e485 156.5deg,#00d860 157deg,#00c631 158deg,#00be1c 159deg,#00bd18 160deg,#00c224 161.5deg,#00cb3d 162.5deg,#00da67 163.5deg,#00e484 164deg,#03fbff 165.5deg,#4eadff 167deg,#4677ff 168.5deg,#4056ff 170deg,#4048f0 178deg,#4048f0 179deg,#4051fb 188.5deg,#415cff 190.5deg,#50a9ff 196.5deg,#1fdeff 200.5deg,#0fefff 203.5deg,#0fefff 204deg,#1ee0ff 207deg,#50a9ff 211.5deg,#4881ff 216deg,#477aff 218deg,#4d98ff 227.5deg,#4d98ff 228deg,#4a89ff 232.5deg,#4053fe 240.5deg,#4051fc 242.5deg,#4159ff 245.5deg,#4983ff 249deg,#4fabff 251.5deg,#29d4ff 254.5deg,#21dcff 256.5deg,#30ccff 258.5deg,#50a9ff 260.5deg,#4053fe 265deg,#4041e7 272deg,#4040df 288.5deg,#4042e8 308.5deg,#4052fc 317deg,#4364ff 318.5deg,#4fa4ff 321.5deg,#3ebdff 322.5deg,#0fefff 325deg,#05faff 326.5deg,#10eeff 328.5deg,#45b5ff 331.5deg,#50aaff 332deg,#4363ff 336deg,#4052fc 338deg,#4049f1 347.5deg,#404ff9 360deg)"></i><i style="--r:92px;background:conic-gradient(#4050fa 0deg,#415aff 4.5deg,#4c92ff 12.5deg,#4cafff 15.5deg,#19e4ff 21.5deg,#0df1ff 25.5deg,#19e4ff 29deg,#4daeff 34deg,#4054ff 41.5deg,#4040e6 52.5deg,#4040df 84deg,#4040df 106.5deg,#4040e3 143deg,#404df6 150deg,#4053fe 151deg,#4675ff 152deg,#50a9ff 153deg,#0fefff 154deg,#00f8de 154.5deg,#00e074 155.5deg,#00cb3d 156.5deg,#00c020 157.5deg,#00bd18 158.5deg,#00c01f 160deg,#00cd44 161.5deg,#00de6f 162.5deg,#00f0bc 163.5deg,#00fae8 164deg,#0df2ff 164.5deg,#3fbcff 165.5deg,#4fa5ff 166deg,#4672ff 167.5deg,#4054ff 169deg,#4048f0 177.5deg,#4048f0 178deg,#4053fe 188deg,#4986ff 192.5deg,#50a8ff 195deg,#20ddff 199deg,#10eeff 202deg,#10eeff 202.5deg,#1ee0ff 205.5deg,#50a9ff 210deg,#487fff 214.5deg,#4676ff 217deg,#4c97ff 226.5deg,#4c97ff 227deg,#4987ff 232deg,#4054ff 239.5deg,#4052fc 241.5deg,#4158ff 244.5deg,#4a88ff 248.5deg,#50a7ff 250.5deg,#2cd1ff 253.5deg,#23daff 255.5deg,#2fcdff 257.5deg,#4eacff 259.5deg,#4056ff 264deg,#4041e8 271deg,#4040df 287.5deg,#4042e9 308deg,#4052fd 316deg,#4366ff 317.5deg,#4fa6ff 320.5deg,#15e9ff 323.5deg,#05faff 325.5deg,#11edff 327.5deg,#46b5ff 330.5deg,#50aaff 331deg,#4363ff 335deg,#4052fd 337deg,#4049f2 346deg,#4049f2 346.5deg,#4050fa 360deg)"></i><i style="--r:90.5px;background:conic-gradient(#4052fd 0deg,#4366ff 5deg,#50aaff 13.5deg,#1ae3ff 20deg,#0fefff 24deg,#1fdeff 28deg,#4fa6ff 33deg,#4054ff 40deg,#4041e7 50.5deg,#4040df 77deg,#4040df 105.5deg,#4040e3 141.5deg,#404bf4 148.5deg,#4057ff 150deg,#487eff 151deg,#4c97ff 151.5deg,#46b5ff 152deg,#03fcff 153deg,#00e793 154deg,#00db69 154.5deg,#00c836 155.5deg,#00bf1e 156.5deg,#00bd18 157.5deg,#00c122 159deg,#00c939 160deg,#00d860 161deg,#00e17a 161.5deg,#00fef9 163deg,#48b3ff 164.5deg,#4e9dff 165deg,#456dff 166.5deg,#4053fe 168deg,#4048f0 176.5deg,#4053fe 186.5deg,#4985ff 191deg,#50a8ff 193.5deg,#1de1ff 198deg,#10eeff 201deg,#1de0ff 204deg,#50a9ff 208.5deg,#487dff 213deg,#4673ff 216deg,#4c96ff 225.5deg,#4c96ff 226deg,#4987ff 231deg,#4053fe 239deg,#4052fc 241deg,#425cff 244deg,#4b8eff 248deg,#4eacff 250deg,#2bd2ff 253deg,#25d8ff 254.5deg,#2eceff 256.5deg,#4fa6ff 259deg,#4053fe 263.5deg,#4041e8 270.5deg,#4040df 287deg,#4042e9 307deg,#4053fd 315deg,#4467ff 316.5deg,#4fa7ff 319.5deg,#14e9ff 322.5deg,#05faff 324.5deg,#11edff 326.5deg,#46b4ff 329.5deg,#50a9ff 330deg,#4363ff 334deg,#4052fd 336deg,#404af2 345deg,#4052fd 360deg)"></i><i style="--r:89px;background:conic-gradient(#4363ff 0deg,#4fa7ff 10deg,#1ee0ff 17.5deg,#11edff 22.5deg,#21dcff 27deg,#50a8ff 32.5deg,#4054ff 41deg,#4040e6 54deg,#4040df 90.5deg,#4040df 109deg,#4040e4 141deg,#404cf5 147.5deg,#4052fd 148.5deg,#4570ff 149.5deg,#4ea1ff 150.5deg,#3ac1ff 151deg,#19e5ff 151.5deg,#00fbee 152deg,#00e380 153deg,#00cd43 154deg,#00c122 155deg,#00bd18 156.5deg,#00c124 158deg,#00d251 159.5deg,#00db67 160deg,#00e486 160.5deg,#00f7da 161.5deg,#04faff 162deg,#4eacff 163.5deg,#4777ff 165deg,#4158ff 166.5deg,#404cf5 171deg,#4049f2 175deg,#4052fd 184deg,#4571ff 187.5deg,#4fabff 192deg,#1de1ff 196.5deg,#10eeff 199.5deg,#1ce1ff 202.5deg,#50a8ff 207.5deg,#477cff 212.5deg,#4674ff 215deg,#4c97ff 224.5deg,#4c97ff 225.5deg,#4986ff 230.5deg,#4054ff 238deg,#4052fd 240deg,#425cff 243deg,#4c93ff 247.5deg,#50aaff 249deg,#2cd0ff 252deg,#25d8ff 254deg,#31cbff 256deg,#50aaff 258deg,#4056ff 262.5deg,#4042e8 269.5deg,#4040df 285deg,#4043e9 305.5deg,#4054ff 314deg,#4a8bff 317deg,#4caeff 318.5deg,#0ef0ff 321.5deg,#00fffe 323deg,#00fefd 323.5deg,#0bf4ff 325.5deg,#3fbcff 328.5deg,#4fa7ff 329.5deg,#446cff 333deg,#4054fe 335.5deg,#404df7 344deg,#4158ff 357.5deg,#4363ff 360deg)"></i><i style="--r:87.5px;background:conic-gradient(#4a89ff 0deg,#4fabff 5.5deg,#1ee0ff 14.5deg,#13eaff 20deg,#1fdeff 25deg,#50a8ff 32.5deg,#4054ff 43deg,#4041e7 58.5deg,#4040df 95.5deg,#4040df 112deg,#4040e4 140deg,#404ef7 146.5deg,#4054ff 147.5deg,#4b91ff 149deg,#4caeff 149.5deg,#0af4ff 150.5deg,#00f6d6 151deg,#00e99e 151.5deg,#00de6f 152deg,#00c939 153deg,#00bf1c 154deg,#00bc15 155deg,#00be1b 156.5deg,#00cc40 158deg,#00dc6c 159deg,#00e68d 159.5deg,#00f9e2 160.5deg,#09f5ff 161deg,#50a9ff 162.5deg,#4778ff 164deg,#415bff 165.5deg,#4050fa 168deg,#404cf5 173deg,#4157ff 181.5deg,#4d99ff 188deg,#4fabff 189.5deg,#1de0ff 194.5deg,#11edff 198deg,#1edfff 201.5deg,#4fabff 206.5deg,#4982ff 212deg,#477cff 214.5deg,#4d9bff 223.5deg,#4d9bff 224.5deg,#4b8dff 229deg,#4055ff 238deg,#4054ff 239deg,#4364ff 242.5deg,#50aaff 248deg,#2dcfff 251deg,#25d7ff 253deg,#2fcdff 255deg,#4fa7ff 257.5deg,#4056ff 262deg,#4041e8 269.5deg,#4040e0 282deg,#4044eb 304deg,#4053fe 312deg,#4982ff 315deg,#4fa3ff 316.5deg,#3fbdff 317.5deg,#08f7ff 320deg,#00ffff 320.5deg,#00fae7 322deg,#00f9e5 322.5deg,#00fcf0 324deg,#03fcff 325deg,#4eacff 329deg,#4675ff 332.5deg,#415bff 336deg,#4054fe 342deg,#425dff 350deg,#4a89ff 360deg)"></i><i style="--r:86px;background:conic-gradient(#4d97ff 0deg,#4dadff 3.5deg,#1fdeff 12deg,#15e8ff 17.5deg,#24d9ff 23deg,#50aaff 29.5deg,#4054ff 40.5deg,#4041e7 56deg,#4040df 93deg,#4040df 109.5deg,#4040e4 138.5deg,#404ff8 145.5deg,#415bff 146.5deg,#4982ff 147.5deg,#4d9cff 148deg,#40bbff 148.5deg,#00fefa 149.5deg,#00e58b 150.5deg,#00d964 151deg,#00c732 152deg,#00be1a 153deg,#00bc14 154deg,#00bf1e 155.5deg,#00c834 156.5deg,#00df74 158deg,#00fcf0 159.5deg,#11edff 160deg,#41baff 161deg,#4fa4ff 161.5deg,#4675ff 163deg,#4054ff 165deg,#404df6 171.5deg,#4056ff 179.5deg,#4d9cff 186.5deg,#4caeff 188deg,#1ce2ff 193deg,#11edff 196deg,#1de0ff 199.5deg,#4fa7ff 205deg,#4880ff 210deg,#4677ff 213deg,#4d9aff 223deg,#4d9aff 223.5deg,#4a8bff 228.5deg,#4157ff 237deg,#4055ff 238deg,#446bff 242deg,#50a9ff 247deg,#2fcdff 250deg,#26d7ff 252deg,#33c9ff 254.5deg,#50aaff 256.5deg,#4054ff 261.5deg,#4042e8 268.5deg,#4040e1 281.5deg,#4044eb 302.5deg,#4054ff 311deg,#4985ff 314deg,#4fa5ff 315.5deg,#3cbfff 316.5deg,#06f9ff 319deg,#00fcf2 320deg,#00f9e4 321.5deg,#00fcf0 323deg,#03fcff 324deg,#4dadff 328deg,#4677ff 331.5deg,#425fff 334.5deg,#4055ff 340.5deg,#4364ff 349.5deg,#4d97ff 360deg)"></i><i style="--r:84.5px;background:conic-gradient(#4fa6ff 0deg,#36c6ff 5deg,#19e4ff 12.5deg,#18e6ff 15deg,#26d7ff 20.5deg,#4fa5ff 27.5deg,#4054fe 38deg,#4040e5 55.5deg,#4040df 107.5deg,#4040e4 137deg,#404df7 144deg,#4053fe 145deg,#4675ff 146deg,#4fa7ff 147deg,#13ebff 148deg,#00f9e4 148.5deg,#00e178 149.5deg,#00cc3f 150.5deg,#00bf1f 151.5deg,#00bc14 152.5deg,#00bc14 153deg,#00c020 154.5deg,#00ca39 155.5deg,#00d962 156.5deg,#00e27e 157deg,#00fffd 158.5deg,#48b3ff 160deg,#4e9eff 160.5deg,#4672ff 162deg,#4054ff 164deg,#404df7 170deg,#4055ff 177.5deg,#4b8eff 183.5deg,#4fabff 186deg,#1ee0ff 191deg,#12ecff 194.5deg,#20ddff 198deg,#50a8ff 203deg,#4778ff 209deg,#4571ff 212deg,#4d98ff 222deg,#4d98ff 223deg,#4a88ff 228deg,#4159ff 236deg,#4056ff 237deg,#446bff 241deg,#50a8ff 246deg,#2cd0ff 249.5deg,#27d6ff 251.5deg,#32caff 253.5deg,#4eadff 255.5deg,#4056ff 260.5deg,#4042e8 268deg,#4040e1 280.5deg,#4044eb 301.5deg,#4055ff 310deg,#4987ff 313deg,#50a8ff 314.5deg,#04faff 318deg,#00fae8 319.5deg,#00f9e3 320.5deg,#00fbef 322deg,#02fdff 323deg,#4caeff 327deg,#4778ff 330.5deg,#425fff 334deg,#4158ff 339deg,#4468ff 348deg,#4d9aff 358deg,#4fa6ff 360deg)"></i><i style="--r:83px;background:conic-gradient(#46b5ff 0deg,#20ddff 8deg,#1ae4ff 12.5deg,#2ad2ff 18.5deg,#4fa7ff 24.5deg,#4053fe 35.5deg,#4040e6 52.5deg,#4040df 96deg,#4040df 105.5deg,#4040e4 136deg,#404ef8 143deg,#4158ff 144deg,#487dff 145deg,#4c96ff 145.5deg,#47b3ff 146deg,#05f9ff 147deg,#00e898 148deg,#00dc6c 148.5deg,#00c937 149.5deg,#00be1b 150.5deg,#00bb14 152deg,#00c123 153.5deg,#00d353 155deg,#00dc6a 155.5deg,#00e58a 156deg,#00f8df 157deg,#07f8ff 157.5deg,#4eacff 159deg,#477bff 160.5deg,#4158ff 162.5deg,#404ef8 168.5deg,#4158ff 176deg,#4b91ff 182deg,#50a8ff 184deg,#20deff 189deg,#12ecff 192.5deg,#1edfff 196deg,#50aaff 201deg,#4779ff 206.5deg,#456cff 210.5deg,#4c97ff 221.5deg,#4c97ff 222deg,#4a88ff 227deg,#4159ff 235.5deg,#4158ff 236deg,#446cff 240deg,#50a7ff 245deg,#2eceff 248.5deg,#27d5ff 250.5deg,#36c5ff 253deg,#4fa7ff 255deg,#4053fe 260deg,#4041e7 268deg,#4040e1 279.5deg,#4044eb 300.5deg,#4057ff 309deg,#4a89ff 312deg,#50aaff 313.5deg,#0cf3ff 316.5deg,#00fdf7 317.5deg,#00f9e2 319deg,#00f8e1 319.5deg,#00fbee 321deg,#02fdff 322deg,#4bafff 326deg,#4b8dff 328deg,#4365ff 332deg,#415cff 337.5deg,#446aff 346deg,#4ea2ff 357deg,#49b1ff 359.5deg,#46b5ff 360deg)"></i><i style="--r:81.5px;background:conic-gradient(#3bc1ff 0deg,#1edfff 7deg,#1ce2ff 9.5deg,#2ad2ff 15.5deg,#4fa7ff 21.5deg,#4053fe 32.5deg,#4040e6 48.5deg,#4040df 94deg,#4040df 102.5deg,#4040e4 134.5deg,#404df6 141.5deg,#4053fd 142.5deg,#4571ff 143.5deg,#4ea1ff 144.5deg,#3bc0ff 145deg,#1ae3ff 145.5deg,#00fcf2 146deg,#00e484 147deg,#00d860 147.5deg,#00c630 148.5deg,#00bd18 149.5deg,#00bb13 150.5deg,#00bf1d 152deg,#00c733 153deg,#00df72 154.5deg,#00fbec 156deg,#0ef0ff 156.5deg,#3ebdff 157.5deg,#4fa7ff 158deg,#4778ff 159.5deg,#4157ff 161.5deg,#404ff8 167deg,#4157ff 174deg,#4b8eff 180deg,#4fabff 182.5deg,#1edfff 187.5deg,#12ecff 191deg,#20ddff 194.5deg,#4fa6ff 199.5deg,#4674ff 205deg,#4467ff 209.5deg,#4c94ff 220deg,#4c95ff 221.5deg,#4986ff 226.5deg,#425cff 234deg,#415aff 235deg,#4469ff 238.5deg,#4ea0ff 243.5deg,#47b3ff 245deg,#2cd0ff 248deg,#28d5ff 249.5deg,#35c6ff 252deg,#50a9ff 254deg,#4055ff 259deg,#4042e8 266.5deg,#4040e1 279.5deg,#4044eb 300deg,#4054ff 308deg,#4985ff 311deg,#4fa6ff 312.5deg,#04fbff 316deg,#00f9e4 318deg,#00f9e3 318.5deg,#00fcf1 320deg,#04faff 321deg,#50a9ff 325deg,#4675ff 328.5deg,#4261ff 331.5deg,#415bff 336deg,#4469ff 344deg,#4ea1ff 355deg,#4daeff 357deg,#3bc1ff 360deg)"></i><i style="--r:80px;background:conic-gradient(#38c4ff 0deg,#1fdeff 5.5deg,#1de0ff 7.5deg,#29d3ff 12deg,#50aaff 17deg,#4053fe 26.5deg,#4040e6 40deg,#4040df 78.5deg,#4040df 93.5deg,#4040e3 132.5deg,#404cf5 140deg,#4055ff 141.5deg,#4b90ff 143deg,#4eacff 143.5deg,#0ef0ff 144.5deg,#00f7dd 145deg,#00e074 146deg,#00cb3d 147deg,#00bf1e 148deg,#00bc14 149.5deg,#00c020 151deg,#00c939 152deg,#00d962 153deg,#00e27d 153.5deg,#00fefb 155deg,#46b5ff 156.5deg,#4ea0ff 157deg,#4674ff 158.5deg,#4056ff 160.5deg,#404ff8 165.5deg,#4056ff 172.5deg,#4b8eff 178.5deg,#4fabff 181deg,#1ee0ff 186deg,#13ebff 189deg,#1fdeff 192.5deg,#4fa6ff 197.5deg,#4570ff 203deg,#4260ff 207.5deg,#4260ff 208deg,#4b92ff 219deg,#4c93ff 220.5deg,#4985ff 225.5deg,#415bff 234deg,#415bff 234.5deg,#4676ff 239deg,#4eacff 243.5deg,#2dcfff 247deg,#29d4ff 248.5deg,#34c7ff 251deg,#4fabff 253deg,#4053fe 258.5deg,#4041e8 266deg,#4040e0 281deg,#4042e8 299deg,#4053fd 308deg,#4672ff 310deg,#4eacff 312.5deg,#13ebff 315deg,#00fefd 316.5deg,#00fdf6 317.5deg,#03fcff 319deg,#2dcfff 321.5deg,#4dadff 323deg,#4677ff 326deg,#4054ff 329.5deg,#4051fb 335deg,#4158ff 343deg,#4982ff 351deg,#4daeff 357deg,#38c4ff 360deg)"></i><i style="--r:78.5px;background:conic-gradient(#2dcfff 0deg,#1de0ff 5deg,#1de0ff 5.5deg,#27d6ff 9.5deg,#50a9ff 15deg,#4053fe 24deg,#4040e6 37.5deg,#4040df 72.5deg,#4040df 90.5deg,#4040e3 131.5deg,#404bf3 138.5deg,#4052fd 140deg,#415bff 140.5deg,#4d9bff 142deg,#42b9ff 142.5deg,#01feff 143.5deg,#00e792 144.5deg,#00db68 145deg,#00c836 146deg,#00be1b 147deg,#00bc14 148.5deg,#00c123 150deg,#00d352 151.5deg,#00dc69 152deg,#00e589 152.5deg,#00f7dc 153.5deg,#05faff 154deg,#4cafff 155.5deg,#487dff 157deg,#415aff 159deg,#4051fb 162deg,#404ff9 164deg,#4158ff 171deg,#4b90ff 177deg,#4dadff 179.5deg,#20ddff 184deg,#13ebff 187.5deg,#21dcff 191deg,#50aaff 195.5deg,#4571ff 201deg,#425cff 205.5deg,#415cff 206.5deg,#477bff 213deg,#4b92ff 219deg,#4c92ff 220deg,#4881ff 225.5deg,#425dff 233deg,#425dff 233.5deg,#4673ff 237.5deg,#4fabff 242.5deg,#2eceff 246deg,#29d3ff 248deg,#39c3ff 250.5deg,#4fa6ff 252.5deg,#4054ff 257.5deg,#4041e7 265.5deg,#4040e0 280.5deg,#4042e9 299deg,#4052fd 307deg,#425cff 308deg,#50a7ff 311.5deg,#0ef0ff 314.5deg,#00fefc 316deg,#00fef9 316.5deg,#03fcff 318deg,#2bd2ff 320.5deg,#4fa5ff 322.5deg,#446bff 326deg,#4053fe 329deg,#4051fb 334deg,#4158ff 342deg,#4a88ff 350.5deg,#50aaff 355deg,#2dcfff 360deg)"></i><i style="--r:77px;background:conic-gradient(#24d8ff 0deg,#1de0ff 4deg,#2bd1ff 8.5deg,#50aaff 13deg,#4054ff 22deg,#4040e6 35.5deg,#4040df 72deg,#4040df 88.5deg,#4040e3 130deg,#404cf4 137.5deg,#4054ff 139deg,#4675ff 140deg,#4fa6ff 141deg,#15e9ff 142deg,#00faea 142.5deg,#00e27e 143.5deg,#00cd43 144.5deg,#00c021 145.5deg,#00bc14 146.5deg,#00bb13 147deg,#00bf1d 148.5deg,#00ce44 150deg,#00de71 151deg,#00f1be 152deg,#00fae9 152.5deg,#0cf2ff 153deg,#50a9ff 154.5deg,#477bff 156deg,#415aff 158deg,#4051fb 161deg,#4050fa 162.5deg,#4158ff 169deg,#4a87ff 174.5deg,#50a9ff 177.5deg,#1fdeff 182.5deg,#13eaff 186deg,#22dbff 189.5deg,#50a7ff 194deg,#446bff 200deg,#4158ff 204.5deg,#4158ff 205deg,#4676ff 211.5deg,#4b91ff 218deg,#4b91ff 219deg,#4982ff 224.5deg,#425fff 232deg,#425fff 232.5deg,#4674ff 236.5deg,#50aaff 241.5deg,#2fcdff 245deg,#2ad3ff 247deg,#37c4ff 249.5deg,#50a8ff 251.5deg,#4053fe 257deg,#4041e7 265deg,#4040e0 280deg,#4042e9 298deg,#4052fc 306deg,#4364ff 307.5deg,#4fa5ff 310.5deg,#3cbfff 311.5deg,#09f6ff 314deg,#00fef9 315.5deg,#00fef9 316deg,#06f8ff 317.5deg,#30ccff 320deg,#50aaff 321.5deg,#456fff 325deg,#4053fe 328.5deg,#4052fc 332.5deg,#4158ff 340deg,#4984ff 348deg,#4dadff 353.5deg,#24d8ff 360deg)"></i><i style="--r:75.5px;background:conic-gradient(#1fdeff 0deg,#1de0ff 2deg,#2ad2ff 6.5deg,#4fa7ff 11.5deg,#4053fe 20.5deg,#4040e6 34deg,#4040df 70.5deg,#4040df 87deg,#4040e3 129deg,#404df6 136.5deg,#4159ff 138deg,#4c96ff 139.5deg,#48b3ff 140deg,#08f7ff 141deg,#00f5d4 141.5deg,#00de70 142.5deg,#00ca3a 143.5deg,#00bf1d 144.5deg,#00bb13 146deg,#00c01f 147.5deg,#00c938 148.5deg,#00e179 150deg,#00fdf5 151.5deg,#13ebff 152deg,#41baff 153deg,#4fa5ff 153.5deg,#4778ff 155deg,#415aff 157deg,#4051fb 161deg,#4157ff 167deg,#4985ff 172.5deg,#4eacff 176deg,#1edfff 181deg,#14eaff 184deg,#20ddff 187.5deg,#4facff 192deg,#446cff 198deg,#4056ff 202.5deg,#4055ff 204deg,#487dff 212deg,#4b91ff 218deg,#4b91ff 218.5deg,#487eff 224.5deg,#4361ff 231deg,#4261ff 231.5deg,#4675ff 235.5deg,#50aaff 240.5deg,#2eceff 244.5deg,#2ad2ff 246deg,#36c5ff 248.5deg,#4fabff 250.5deg,#4054ff 256deg,#4042e8 263.5deg,#4040e0 279.5deg,#4044ea 298deg,#4054ff 305.5deg,#4880ff 308deg,#4fa3ff 309.5deg,#3fbdff 310.5deg,#0af4ff 313deg,#00fffd 314deg,#00fdf8 315deg,#04fbff 316.5deg,#2cd1ff 319deg,#4bb0ff 320.5deg,#4c92ff 322deg,#4468ff 325deg,#4054fe 328deg,#4052fd 331.5deg,#4159ff 338deg,#4983ff 346deg,#4eacff 351.5deg,#25d8ff 358deg,#1fdeff 360deg)"></i><i style="--r:74px;background:conic-gradient(#1de1ff 0deg,#2ad3ff 4.5deg,#50a9ff 9.5deg,#4054ff 18.5deg,#4040e6 32deg,#4040df 68.5deg,#4040df 85.5deg,#4040e3 127deg,#404cf5 135deg,#4056ff 136.5deg,#4b8fff 138deg,#50a8ff 138.5deg,#14e9ff 139.5deg,#00faea 140deg,#00e382 141deg,#00ce45 142deg,#00c122 143deg,#00bb13 144.5deg,#00bb13 145deg,#00c021 146.5deg,#00d14d 148deg,#00e27e 149deg,#00fdf7 150.5deg,#2bd1ff 151.5deg,#4fa6ff 152.5deg,#477bff 154deg,#425dff 156deg,#4053fd 158.5deg,#4052fc 160deg,#4159ff 165deg,#487eff 170deg,#50a9ff 174deg,#1de0ff 179.5deg,#14eaff 182.5deg,#21dcff 186deg,#50aaff 190.5deg,#446aff 196.5deg,#4054ff 201deg,#4053fe 202.5deg,#4367ff 207.5deg,#4b8dff 215deg,#4b90ff 217.5deg,#4881ff 223deg,#4363ff 230.5deg,#4676ff 234.5deg,#50a9ff 239.5deg,#2fcdff 243.5deg,#2bd1ff 245deg,#35c6ff 247.5deg,#4fa6ff 250deg,#4157ff 255deg,#4042e9 262.5deg,#4040e0 278.5deg,#4044ea 297deg,#4053fe 304.5deg,#4a89ff 307.5deg,#4eadff 309deg,#0cf2ff 312deg,#00ffff 313deg,#00fdf7 314deg,#07f8ff 316deg,#3bc0ff 319deg,#50aaff 320deg,#4571ff 323.5deg,#4055ff 327deg,#4053fe 330.5deg,#425dff 337deg,#4b8dff 345.5deg,#4facff 349.5deg,#25d7ff 356deg,#1de1ff 360deg)"></i><i style="--r:72.5px;background:conic-gradient(#1fdeff 0deg,#3ac2ff 5deg,#4fa6ff 8deg,#4053fe 17deg,#4040e6 30.5deg,#4040df 67deg,#4040df 83.5deg,#4040e3 125.5deg,#404cf5 133.5deg,#4054ff 135deg,#4a88ff 136.5deg,#4ea1ff 137deg,#3ebeff 137.5deg,#00fffd 138.5deg,#00e794 139.5deg,#00dc6b 140deg,#00c939 141deg,#00bf1c 142deg,#00bb12 143.5deg,#00be1b 145deg,#00cc41 146.5deg,#00dc6b 147.5deg,#00eeb1 148.5deg,#02fdff 149.5deg,#45b6ff 151deg,#4fa3ff 151.5deg,#477aff 153deg,#425eff 155deg,#4053fe 158deg,#4053fe 158.5deg,#415aff 163deg,#4881ff 168.5deg,#4facff 172.5deg,#20ddff 177.5deg,#14e9ff 181deg,#23daff 184.5deg,#50a8ff 189deg,#4469ff 195deg,#4054ff 199deg,#4053fe 201.5deg,#4469ff 207deg,#4b8dff 214.5deg,#4b90ff 216.5deg,#4881ff 222.5deg,#4366ff 229.5deg,#4366ff 230deg,#4881ff 234.5deg,#50aaff 238.5deg,#2fcdff 242.5deg,#2bd1ff 244deg,#39c3ff 247deg,#50a8ff 249deg,#4054ff 254.5deg,#4042e8 262.5deg,#4040e0 278deg,#4044eb 296.5deg,#4053fe 303.5deg,#487dff 306deg,#50aaff 308deg,#0ef1ff 311deg,#01feff 312deg,#00fdf6 313.5deg,#04fbff 315deg,#36c6ff 318deg,#4fa6ff 319.5deg,#4570ff 323deg,#4157ff 326.5deg,#4054ff 329deg,#4364ff 336.5deg,#4d98ff 345deg,#4bafff 348deg,#24d9ff 354.5deg,#1de1ff 358deg,#1fdeff 360deg)"></i><i style="--r:71px;background:conic-gradient(#26d6ff 0deg,#50a8ff 5.5deg,#4054ff 14deg,#4040e6 27deg,#4040df 62deg,#4040df 80.5deg,#4040e3 124.5deg,#404df6 132.5deg,#4052fd 133.5deg,#446bff 134.5deg,#4bb0ff 136deg,#0ef0ff 137deg,#00f8e1 137.5deg,#00e27b 138.5deg,#00cd44 139.5deg,#00c122 140.5deg,#00bb13 142deg,#00bb13 142.5deg,#00c020 144deg,#00d04a 145.5deg,#00e177 146.5deg,#00fbec 148deg,#0df1ff 148.5deg,#4eadff 150deg,#4880ff 151.5deg,#4261ff 153.5deg,#4053fe 156.5deg,#4053fe 157deg,#415aff 161.5deg,#4881ff 167deg,#4eacff 171deg,#1fdeff 176deg,#15e9ff 179.5deg,#25d8ff 183deg,#50aaff 187deg,#4364ff 193.5deg,#4053fe 197deg,#4052fc 200deg,#415bff 204deg,#4a8aff 213deg,#4b8fff 216deg,#477bff 223deg,#4468ff 229deg,#4986ff 234deg,#50a9ff 237.5deg,#30ccff 241.5deg,#2cd1ff 243.5deg,#38c4ff 246deg,#50aaff 248deg,#4053fe 254deg,#4041e8 262deg,#4040e0 277.5deg,#4043ea 295deg,#4052fd 302.5deg,#456fff 304.5deg,#4fa5ff 307deg,#31cbff 308.5deg,#0bf3ff 310.5deg,#00ffff 311.5deg,#00fefb 312.5deg,#05faff 314deg,#35c7ff 317deg,#50a7ff 318.5deg,#4570ff 322deg,#4056ff 325.5deg,#4054fe 328deg,#425dff 334deg,#4987ff 341.5deg,#50aaff 346deg,#25d8ff 352.5deg,#1de1ff 356.5deg,#26d6ff 360deg)"></i><i style="--r:69.5px;background:conic-gradient(#33c8ff 0deg,#50aaff 3deg,#4054ff 11deg,#4040e5 24deg,#4040df 64.5deg,#4040df 76.5deg,#4040e3 123deg,#404ef8 131.5deg,#4055ff 132.5deg,#4a8bff 134deg,#4fa3ff 134.5deg,#3bc0ff 135deg,#00fefa 136deg,#00e793 137deg,#00dc6b 137.5deg,#00ca3a 138.5deg,#00bf1e 139.5deg,#00bb14 141deg,#00bf1d 142.5deg,#00cd42 144deg,#00dc6b 145deg,#00e589 145.5deg,#01feff 147deg,#44b7ff 148.5deg,#4fa4ff 149deg,#477aff 150.5deg,#425eff 152.5deg,#4053fe 155deg,#4052fd 156deg,#415cff 161deg,#4a88ff 166.5deg,#50a9ff 169.5deg,#20ddff 174.5deg,#15e9ff 177.5deg,#22dbff 181deg,#4fa7ff 185.5deg,#4363ff 191.5deg,#4053fe 194deg,#4050fa 198.5deg,#415bff 203.5deg,#4a88ff 212deg,#4b8dff 215deg,#4880ff 221deg,#446aff 228deg,#4a87ff 233deg,#50a9ff 236.5deg,#2fcdff 241deg,#2cd0ff 242.5deg,#3cc0ff 245.5deg,#4fa6ff 247.5deg,#4054ff 253deg,#4042e8 261deg,#4040e0 277deg,#4044eb 295deg,#4053fe 302deg,#4a88ff 305deg,#50aaff 306.5deg,#1ae3ff 309deg,#05faff 311deg,#03fbff 311.5deg,#0fefff 313.5deg,#41baff 316.5deg,#4fa6ff 317.5deg,#456eff 321deg,#4054ff 324deg,#4052fc 327.5deg,#4159ff 334deg,#4985ff 341deg,#4facff 345.5deg,#26d7ff 351deg,#1de1ff 354.5deg,#29d4ff 358.5deg,#33c8ff 360deg)"></i><i style="--r:68px;background:conic-gradient(#40bbff 0deg,#50aaff 1.5deg,#4053fe 10deg,#4040e5 22.5deg,#4040df 64.5deg,#4040df 75deg,#4040e3 121.5deg,#404cf5 129.5deg,#4053fe 131deg,#456eff 132deg,#4d98ff 133deg,#47b3ff 133.5deg,#0bf3ff 134.5deg,#00f7dd 135deg,#00e179 136deg,#00cd43 137deg,#00c123 138deg,#00bb14 139.5deg,#00bb14 140deg,#00c020 141.5deg,#00d049 143deg,#00e075 144deg,#00fae8 145.5deg,#0af4ff 146deg,#4bafff 147.5deg,#4777ff 149.5deg,#425dff 151.5deg,#4053fe 154.5deg,#415bff 159deg,#4984ff 164.5deg,#50aaff 168deg,#20ddff 173deg,#15e8ff 176deg,#22dbff 179.5deg,#4fa7ff 184deg,#4363ff 190deg,#4053fe 192.5deg,#4050fa 197deg,#415bff 202.5deg,#4a8bff 211.5deg,#4b8fff 214.5deg,#487eff 222deg,#4673ff 226.5deg,#4a88ff 231deg,#50a9ff 235deg,#30cbff 239.5deg,#2cd0ff 241.5deg,#39c2ff 244.5deg,#4fabff 246.5deg,#4053fe 253deg,#4041e7 262deg,#4040e0 277deg,#4045ec 294.5deg,#4053fe 301deg,#477cff 303.5deg,#4fa7ff 305.5deg,#15e8ff 308.5deg,#05faff 310.5deg,#0ef0ff 312.5deg,#3dbeff 315.5deg,#50aaff 316.5deg,#4572ff 320deg,#4056ff 323deg,#4052fd 326.5deg,#415bff 332.5deg,#4986ff 339.5deg,#4eacff 344deg,#24d9ff 350deg,#1de1ff 353deg,#28d4ff 357deg,#40bbff 360deg)"></i><i style="--r:66.5px;background:conic-gradient(#4fabff 0deg,#4053fe 8.5deg,#4040e5 21.5deg,#4040df 63.5deg,#4040df 74deg,#4040e3 120deg,#404bf4 128deg,#4158ff 130deg,#4b8fff 131.5deg,#4fa7ff 132deg,#19e5ff 133deg,#00fdf4 133.5deg,#00e68e 134.5deg,#00db69 135deg,#00c939 136deg,#00bf1d 137deg,#00bb13 138.5deg,#00be1c 140deg,#00cc3f 141.5deg,#00db67 142.5deg,#00e383 143deg,#00fef9 144.5deg,#3fbcff 146deg,#50a8ff 146.5deg,#487eff 148deg,#4261ff 150deg,#4054ff 153.5deg,#4362ff 158.5deg,#4c96ff 164.5deg,#4fabff 166.5deg,#20ddff 171.5deg,#16e8ff 174.5deg,#1fdeff 177.5deg,#46b5ff 181.5deg,#50a8ff 182.5deg,#4364ff 188.5deg,#4053fd 191.5deg,#404ff9 196deg,#415bff 201.5deg,#4a8aff 210deg,#4b92ff 214deg,#477bff 225deg,#4b91ff 230deg,#4facff 233.5deg,#2fcdff 238.5deg,#2dd0ff 240.5deg,#3ac2ff 243.5deg,#4fa6ff 246deg,#4053fe 252.5deg,#4040e6 263deg,#4040e0 276.5deg,#4045ec 293.5deg,#4053fe 300deg,#477aff 302.5deg,#4fa4ff 304.5deg,#34c8ff 306deg,#0cf2ff 308.5deg,#06f9ff 310deg,#12ecff 312deg,#4caeff 315.5deg,#4676ff 319deg,#4056ff 322.5deg,#4053fe 325.5deg,#425cff 331deg,#4987ff 338deg,#4dadff 342.5deg,#26d7ff 348deg,#1de1ff 351.5deg,#28d4ff 355.5deg,#4fabff 360deg)"></i><i style="--r:65px;background:conic-gradient(#4d9cff 0deg,#4054ff 7deg,#4040e5 20deg,#4040df 63.5deg,#4040df 72.5deg,#4040e3 118.5deg,#404cf5 127deg,#4054ff 128.5deg,#4986ff 130deg,#4e9dff 130.5deg,#43b8ff 131deg,#07f8ff 132deg,#00f6d6 132.5deg,#00e076 133.5deg,#00cd42 134.5deg,#00c122 135.5deg,#00bb13 137deg,#00bb13 137.5deg,#00c01f 139deg,#00ce47 140.5deg,#00de71 141.5deg,#00f8e0 143deg,#05f9ff 143.5deg,#46b5ff 145deg,#4fa3ff 145.5deg,#4673ff 147.5deg,#415bff 150deg,#4056ff 152deg,#4365ff 157deg,#4c92ff 162.5deg,#4eacff 165deg,#20ddff 170deg,#16e8ff 173deg,#22dbff 176.5deg,#50a8ff 181deg,#4260ff 187.5deg,#4052fc 190.5deg,#404ff9 194.5deg,#415bff 200.5deg,#4a8aff 209deg,#4c92ff 213.5deg,#487fff 224deg,#4c95ff 229deg,#4bafff 232.5deg,#2fcdff 237.5deg,#2dd0ff 239deg,#3ac1ff 242.5deg,#4fabff 244.5deg,#4053fe 251.5deg,#4040e6 262deg,#4040e0 275.5deg,#4045ed 293deg,#4056ff 299.5deg,#4ea2ff 303.5deg,#4dadff 304deg,#14e9ff 307deg,#07f8ff 309deg,#11edff 311deg,#48b3ff 314.5deg,#50a9ff 315deg,#456eff 319deg,#4055ff 322.5deg,#4054ff 324.5deg,#4362ff 330.5deg,#4d98ff 338.5deg,#4caeff 341deg,#23daff 347deg,#1ce1ff 350deg,#28d5ff 354deg,#4fa7ff 359deg,#4d9cff 360deg)"></i><i style="--r:63.5px;background:conic-gradient(#4b8dff 0deg,#4053fe 6deg,#4040e5 19deg,#4040df 62.5deg,#4040df 72deg,#4040e3 117.5deg,#404cf5 125.5deg,#4053fd 127deg,#446bff 128deg,#4eacff 129.5deg,#14eaff 130.5deg,#00fbed 131deg,#00e58a 132deg,#00da66 132.5deg,#00c938 133.5deg,#00bf1d 134.5deg,#00bb13 136deg,#00be1b 137.5deg,#00cb3d 139deg,#00da64 140deg,#00e27e 140.5deg,#00fcf1 142deg,#0fefff 142.5deg,#4dadff 144deg,#4779ff 146deg,#425dff 148.5deg,#4057ff 150.5deg,#4365ff 155.5deg,#4b92ff 161deg,#4eacff 163.5deg,#20ddff 168.5deg,#16e8ff 171.5deg,#23daff 175deg,#50a7ff 179.5deg,#425fff 186deg,#4051fc 189deg,#404ff8 193deg,#4158ff 199deg,#4a8cff 208.5deg,#4c93ff 213deg,#4983ff 223deg,#4fa3ff 229.5deg,#45b6ff 232deg,#2dcfff 237deg,#2cd0ff 238deg,#37c4ff 241deg,#50aaff 243.5deg,#4053fe 250.5deg,#4041e7 260.5deg,#4040e0 274.5deg,#4045ed 292deg,#4056ff 298.5deg,#4c95ff 302deg,#50aaff 303deg,#17e7ff 306deg,#08f7ff 308deg,#10eeff 310deg,#3bc0ff 313deg,#4dadff 314deg,#4672ff 318deg,#4159ff 321.5deg,#4157ff 323.5deg,#4366ff 329.5deg,#4e9eff 337.5deg,#50aaff 339deg,#25d7ff 345deg,#1ce1ff 348.5deg,#28d5ff 352.5deg,#50a8ff 357.5deg,#4b8dff 360deg)"></i><i style="--r:62px;background:conic-gradient(#487fff 0deg,#4053fe 4.5deg,#4040e6 17deg,#4040df 50deg,#4040df 74.5deg,#4040e3 116deg,#404df6 124.5deg,#4056ff 126deg,#4a89ff 127.5deg,#4ea0ff 128deg,#40bcff 128.5deg,#04faff 129.5deg,#00e076 131deg,#00cd44 132deg,#00c225 133deg,#00bd18 134deg,#00bc17 135deg,#00c122 136.5deg,#00cf49 138deg,#00df73 139deg,#00f8e1 140.5deg,#05f9ff 141deg,#46b5ff 142.5deg,#4fa2ff 143deg,#477aff 144.5deg,#425eff 146.5deg,#4053fe 149.5deg,#4053fd 150deg,#415aff 154deg,#4986ff 159.5deg,#50a8ff 162.5deg,#23daff 167deg,#16e7ff 170.5deg,#24d9ff 173.5deg,#50a8ff 177.5deg,#4159ff 184deg,#404df6 190deg,#404cf5 191deg,#4157ff 198.5deg,#4a8aff 207.5deg,#4c93ff 212.5deg,#4987ff 222deg,#4fa7ff 228.5deg,#2eceff 235deg,#2cd0ff 236.5deg,#35c7ff 239.5deg,#50aaff 242.5deg,#4054fe 249.5deg,#4041e7 259.5deg,#4040e0 273deg,#4045ed 290.5deg,#4053fe 297deg,#4a8bff 300.5deg,#50aaff 302deg,#19e4ff 305deg,#09f5ff 307deg,#09f6ff 307.5deg,#19e5ff 310deg,#4eacff 313.5deg,#4674ff 317.5deg,#425cff 321.5deg,#415cff 322.5deg,#446cff 328.5deg,#4fa4ff 336.5deg,#46b5ff 338.5deg,#23daff 344deg,#1ce1ff 347deg,#27d5ff 351deg,#50a9ff 356deg,#487fff 360deg)"></i><i style="--r:60.5px;background:conic-gradient(#4570ff 0deg,#4052fd 3.5deg,#4040e5 16.5deg,#4040df 60deg,#4040df 74deg,#4040e3 114.5deg,#404cf5 123deg,#4053fe 124.5deg,#456eff 125.5deg,#4bb0ff 127deg,#11edff 128deg,#00faea 128.5deg,#00e589 129.5deg,#00db67 130deg,#00ca3a 131deg,#00c020 132deg,#00bd17 133.5deg,#00c01f 135deg,#00cc40 136.5deg,#00da66 137.5deg,#00e380 138deg,#00fcf1 139.5deg,#0fefff 140deg,#4dadff 141.5deg,#4881ff 143deg,#4261ff 145deg,#4053fe 148deg,#4053fd 149deg,#415aff 153deg,#4a87ff 158.5deg,#50aaff 161.5deg,#1fdeff 166.5deg,#17e7ff 169deg,#21dcff 172deg,#4eacff 176deg,#415cff 182.5deg,#4050fa 185.5deg,#404cf5 190deg,#4157ff 197.5deg,#4a8cff 207deg,#4c94ff 212deg,#4a8bff 221deg,#4fabff 227.5deg,#2fcdff 233.5deg,#2cd0ff 235.5deg,#39c3ff 239deg,#50a9ff 241.5deg,#4054ff 248.5deg,#4041e8 258.5deg,#4040e1 271.5deg,#4045ec 288.5deg,#4157ff 296deg,#4fa4ff 300.5deg,#42b9ff 301.5deg,#14eaff 304.5deg,#0af5ff 306.5deg,#18e6ff 309deg,#50a9ff 313deg,#4672ff 317.5deg,#4362ff 320.5deg,#4362ff 321.5deg,#4672ff 327.5deg,#50aaff 335.5deg,#24d9ff 342deg,#1ce1ff 345.5deg,#27d6ff 349.5deg,#50aaff 354.5deg,#4570ff 360deg)"></i><i style="--r:59px;background:conic-gradient(#4159ff 0deg,#4046ee 7deg,#4040e0 23.5deg,#4040df 70deg,#4040e3 113.5deg,#404df6 122deg,#4159ff 123.5deg,#4b8dff 125deg,#4fa5ff 125.5deg,#3bc1ff 126deg,#00ffff 127deg,#00e99e 128deg,#00df74 128.5deg,#00cd43 129.5deg,#00c225 130.5deg,#00bd18 132deg,#00bd18 132.5deg,#00c123 134deg,#00cf48 135.5deg,#00de70 136.5deg,#02fdff 138.5deg,#42b9ff 140deg,#4fa5ff 140.5deg,#4672ff 142.5deg,#415aff 144.5deg,#4052fd 148deg,#415aff 152deg,#4983ff 157deg,#4fabff 160.5deg,#1edfff 165.5deg,#17e7ff 168deg,#23daff 171deg,#50a9ff 175deg,#4159ff 181.5deg,#404cf5 188deg,#404cf5 189deg,#4056ff 196.5deg,#4a8cff 206deg,#4c94ff 211deg,#4a8cff 220deg,#4eacff 226.5deg,#2fcdff 232.5deg,#2dd0ff 234.5deg,#3ac1ff 238deg,#4fa7ff 240.5deg,#4053fe 247.5deg,#4041e7 257.5deg,#4040e1 270.5deg,#4045ed 288deg,#4056ff 295deg,#4fa2ff 299.5deg,#4eacff 300deg,#1ce1ff 303deg,#0ef0ff 305.5deg,#1ce2ff 308deg,#4daeff 311.5deg,#4673ff 316deg,#425fff 319.5deg,#425eff 320.5deg,#4570ff 326.5deg,#4fabff 334.5deg,#22dbff 341deg,#1ce1ff 344deg,#25d8ff 347.5deg,#50aaff 352.5deg,#4159ff 360deg)"></i><i style="--r:57.5px;background:conic-gradient(#404ff8 0deg,#4040e4 11.5deg,#4040df 65.5deg,#4040e3 112deg,#404df6 120.5deg,#4056ff 122deg,#4a88ff 123.5deg,#4e9eff 124deg,#43b8ff 124.5deg,#0af4ff 125.5deg,#00f8df 126deg,#00e382 127deg,#00d04c 128deg,#00c42b 129deg,#00bd19 130.5deg,#00bd18 131deg,#00c020 132.5deg,#00cc3f 134deg,#00e17a 135.5deg,#00fae8 137deg,#09f6ff 137.5deg,#48b3ff 139deg,#4c92ff 140deg,#4468ff 142deg,#4054ff 144.5deg,#4052fd 146.5deg,#415aff 151deg,#4a89ff 156.5deg,#4eacff 159.5deg,#21dcff 164deg,#17e6ff 167deg,#25d8ff 170deg,#4fa6ff 174deg,#4057ff 180.5deg,#404bf4 188deg,#4158ff 196deg,#4a8cff 205deg,#4c95ff 210deg,#4b8dff 219deg,#4eadff 225.5deg,#2fcdff 231.5deg,#2dcfff 233deg,#38c4ff 236.5deg,#4fa5ff 239.5deg,#4053fe 246.5deg,#4041e7 256.5deg,#4040e1 269.5deg,#4045ed 287deg,#4055ff 294deg,#4c96ff 298deg,#50a9ff 299deg,#21dcff 302deg,#13eaff 304deg,#13ebff 304.5deg,#22dbff 307deg,#50a7ff 310.5deg,#456dff 315deg,#4056ff 319deg,#4056ff 319.5deg,#4365ff 325deg,#4d99ff 332deg,#4bb0ff 334.5deg,#25d8ff 339.5deg,#1ce2ff 343deg,#2bd1ff 347deg,#4fa6ff 351deg,#4054ff 358deg,#404ff8 360deg)"></i><i style="--r:56px;background:conic-gradient(#404cf5 0deg,#4040e3 12deg,#4040df 64.5deg,#4040e3 110.5deg,#404cf5 119deg,#4054ff 120.5deg,#4983ff 122deg,#4ab1ff 123deg,#12ecff 124deg,#00fbed 124.5deg,#00e690 125.5deg,#00dd6c 126deg,#00cc40 127deg,#00c225 128deg,#00bd19 129.5deg,#00bd19 130deg,#00c124 131.5deg,#00cf47 133deg,#00dd6e 134deg,#00edad 135deg,#00fef8 136deg,#28d5ff 137deg,#4fabff 138deg,#4676ff 140deg,#415bff 142deg,#4052fd 145deg,#4052fc 145.5deg,#415bff 150deg,#4985ff 155deg,#50a8ff 158deg,#20ddff 163deg,#18e6ff 165.5deg,#23daff 168.5deg,#50aaff 172.5deg,#4054ff 179.5deg,#404bf4 187deg,#4056ff 195deg,#4a8bff 204deg,#4c95ff 209.5deg,#4b8eff 218deg,#4daeff 224.5deg,#2fcdff 230.5deg,#2dcfff 232deg,#39c2ff 235.5deg,#50a9ff 238deg,#4054ff 245deg,#4041e7 255.5deg,#4040e1 268.5deg,#4045ed 286deg,#4055ff 293deg,#50a9ff 298deg,#22dbff 301deg,#15e9ff 303deg,#15e9ff 303.5deg,#23daff 306deg,#4fa7ff 309.5deg,#456eff 314deg,#4157ff 318deg,#4157ff 318.5deg,#4467ff 324deg,#4e9fff 331.5deg,#4dadff 333deg,#24d9ff 338.5deg,#1ce2ff 342deg,#2cd0ff 346deg,#4fabff 349.5deg,#4054ff 357deg,#404cf5 360deg)"></i><i style="--r:54.5px;background:conic-gradient(#4046ee 0deg,#4040e0 13.5deg,#4040df 59deg,#4040e3 109deg,#404cf4 117.5deg,#4053fd 119deg,#446bff 120deg,#50a9ff 121.5deg,#00fffd 123deg,#00e076 124.5deg,#00cf47 125.5deg,#00c329 126.5deg,#00be1a 128deg,#00bd19 128.5deg,#00c021 130deg,#00cc40 131.5deg,#00e17a 133deg,#00f9e5 134.5deg,#07f8ff 135deg,#45b6ff 136.5deg,#4fa3ff 137deg,#4571ff 139deg,#4055ff 141.5deg,#4052fc 144.5deg,#415aff 149deg,#4985ff 154deg,#50a9ff 157deg,#20ddff 162deg,#18e5ff 164.5deg,#24d8ff 167.5deg,#50a8ff 171.5deg,#4056ff 178deg,#404af3 186deg,#4158ff 194.5deg,#4b8dff 203.5deg,#4c96ff 208.5deg,#4b8fff 217deg,#4fabff 223deg,#30ccff 229deg,#2eceff 231deg,#3ac1ff 234.5deg,#50a8ff 237deg,#4054ff 244deg,#4041e8 254deg,#4040e1 267.5deg,#4046ed 285.5deg,#4055ff 292deg,#50a7ff 297deg,#25d7ff 300deg,#1ae4ff 302deg,#24d9ff 304.5deg,#50a9ff 308deg,#4467ff 313deg,#4053fe 316.5deg,#4052fd 318deg,#4159ff 322.5deg,#4983ff 328.5deg,#50aaff 332.5deg,#25d7ff 337.5deg,#1ce2ff 341deg,#28d5ff 344deg,#50a8ff 348deg,#4054ff 354.5deg,#4046ee 360deg)"></i><i style="--r:53px;background:conic-gradient(#4044eb 0deg,#4040df 15.5deg,#4040df 57.5deg,#4040e3 108deg,#404df6 116.5deg,#4158ff 118deg,#4a8bff 119.5deg,#4ea2ff 120deg,#3fbcff 120.5deg,#08f6ff 121.5deg,#00f8de 122deg,#00e485 123deg,#00d24f 124deg,#00c52e 125deg,#00be1b 126.5deg,#00be1a 127deg,#00c226 129deg,#00d049 130.5deg,#00de6f 131.5deg,#00edaf 132.5deg,#00fdf8 133.5deg,#27d5ff 134.5deg,#4eacff 135.5deg,#4675ff 137.5deg,#4159ff 139.5deg,#4051fb 143.5deg,#415bff 148.5deg,#4a8aff 153.5deg,#50a8ff 156deg,#23daff 160.5deg,#18e5ff 163.5deg,#26d6ff 166.5deg,#4fabff 170deg,#4157ff 176.5deg,#404af2 184deg,#404af2 184.5deg,#4056ff 193.5deg,#4a8bff 202.5deg,#4c93ff 207.5deg,#4a8cff 216deg,#4eacff 222.5deg,#30ccff 228.5deg,#2eceff 230deg,#3cbfff 233.5deg,#50aaff 235.5deg,#4054ff 242.5deg,#4042e8 251.5deg,#4040e1 265deg,#4045ec 283deg,#4056ff 290.5deg,#4eacff 296deg,#26d7ff 299deg,#1ce1ff 301deg,#2cd1ff 304deg,#50a8ff 307deg,#4468ff 312deg,#4053fe 315.5deg,#4051fc 317.5deg,#415aff 323deg,#4b8fff 329.5deg,#50a9ff 332deg,#25d7ff 337deg,#1be2ff 340deg,#29d4ff 343.5deg,#50aaff 347deg,#4053fe 353.5deg,#4044eb 360deg)"></i><i style="--r:51.5px;background:conic-gradient(#4043ea 0deg,#4040df 17.5deg,#4040df 57deg,#4040e3 106.5deg,#404df6 115deg,#4158ff 116.5deg,#4a8aff 118deg,#4e9fff 118.5deg,#42b8ff 119deg,#0df1ff 120deg,#00fae6 120.5deg,#00e68f 121.5deg,#00dd6d 122deg,#00cd42 123deg,#00c328 124deg,#00be1b 125.5deg,#00be1b 126deg,#00c123 127.5deg,#00cc41 129deg,#00e177 130.5deg,#02fdff 132.5deg,#50a8ff 134.5deg,#4674ff 136.5deg,#4158ff 138.5deg,#4051fb 142.5deg,#415bff 147.5deg,#4a8aff 152.5deg,#50a9ff 155deg,#23daff 159.5deg,#19e5ff 162.5deg,#27d5ff 165.5deg,#50a9ff 169deg,#4056ff 175.5deg,#4049f2 183.5deg,#4158ff 193deg,#4a8aff 201.5deg,#4c92ff 206.5deg,#4a8aff 215.5deg,#4eacff 222deg,#31cbff 227.5deg,#2fcdff 229deg,#3cbfff 232.5deg,#50aaff 234.5deg,#4053fe 241.5deg,#4040e6 252deg,#4040e1 263.5deg,#4045ed 282deg,#4054ff 289deg,#50a8ff 294.5deg,#29d4ff 297.5deg,#1edfff 300deg,#2fcdff 303deg,#4fabff 305.5deg,#4366ff 311deg,#4053fe 314deg,#4051fb 316.5deg,#4159ff 322deg,#4b91ff 329deg,#4fabff 331.5deg,#25d8ff 336.5deg,#1ce2ff 339.5deg,#25d7ff 342.5deg,#50aaff 346.5deg,#4054fe 353deg,#4043ea 360deg)"></i><i style="--r:50px;background:conic-gradient(#4043e9 0deg,#4040df 18.5deg,#4040df 56.5deg,#4040e3 103deg,#404bf4 112deg,#4054ff 114deg,#4b90ff 116deg,#4fa5ff 116.5deg,#27d6ff 117.5deg,#0ef1ff 118deg,#00fbec 118.5deg,#00e076 120deg,#00cb3c 121.5deg,#00c021 123deg,#00be1b 124.5deg,#00c327 126.5deg,#00ce46 128deg,#00e179 129.5deg,#00fdf8 131.5deg,#23daff 132.5deg,#46b4ff 133.5deg,#4fa4ff 134deg,#4675ff 136deg,#4157ff 138.5deg,#4052fc 141.5deg,#4159ff 145.5deg,#4982ff 150.5deg,#4fabff 154deg,#21dcff 158.5deg,#18e5ff 161deg,#24d9ff 164deg,#50a8ff 168deg,#4054ff 174.5deg,#4049f1 182.5deg,#4157ff 192deg,#4a89ff 200.5deg,#4c92ff 205.5deg,#4a8aff 214.5deg,#4eacff 221deg,#31cbff 226.5deg,#2fcdff 228deg,#38c4ff 231deg,#4fa6ff 234deg,#4054ff 240.5deg,#4042e8 249.5deg,#4040e1 262.5deg,#4045ec 280.5deg,#4157ff 288deg,#4eacff 293.5deg,#28d5ff 296.5deg,#1fdeff 298.5deg,#2eceff 301.5deg,#4fa7ff 304.5deg,#4363ff 310deg,#4052fd 313deg,#4050fa 315.5deg,#4159ff 321.5deg,#4b8dff 328deg,#4eacff 331deg,#24d8ff 336deg,#1ce2ff 339deg,#29d3ff 342.5deg,#50aaff 346deg,#4054ff 352.5deg,#4043e9 360deg)"></i><i style="--r:48.5px;background:conic-gradient(#4042e9 0deg,#4040df 17.5deg,#4040df 56deg,#4040e3 101.5deg,#404cf5 110.5deg,#4053fe 112deg,#4778ff 113.5deg,#4e9dff 114.5deg,#48b3ff 115deg,#00fffe 116.5deg,#00e588 118deg,#00d557 119deg,#00c52c 120.5deg,#00bf1c 122.5deg,#00bf1c 123deg,#00c429 125deg,#00d557 127deg,#00e27c 128deg,#00fef9 130deg,#35c7ff 131.5deg,#4fa4ff 132.5deg,#456dff 135deg,#4054ff 137.5deg,#4051fc 140.5deg,#415bff 145deg,#4a88ff 150deg,#4eacff 153deg,#21dcff 157.5deg,#19e5ff 160deg,#25d8ff 163deg,#4fa6ff 167deg,#4054ff 173.5deg,#4049f1 181.5deg,#4056ff 191deg,#4a89ff 199.5deg,#4c93ff 204.5deg,#4a8bff 213.5deg,#4dadff 220deg,#30ccff 225.5deg,#2ecfff 227deg,#39c3ff 230.5deg,#50a9ff 233deg,#4053fe 240deg,#4040e6 250.5deg,#4040e1 261.5deg,#4045ed 279.5deg,#4054ff 286.5deg,#4fa7ff 292deg,#2bd1ff 295deg,#21dcff 297.5deg,#32caff 300.5deg,#50a9ff 303deg,#425fff 309deg,#4052fd 311.5deg,#404ff9 314.5deg,#4158ff 321deg,#4c92ff 328deg,#4eacff 330.5deg,#24d8ff 335.5deg,#1ce2ff 338.5deg,#29d3ff 342deg,#50aaff 345.5deg,#4054ff 352deg,#4042e9 360deg)"></i><i style="--r:47px;background:conic-gradient(#4042e8 0deg,#4040df 19.5deg,#4040df 55.5deg,#4040e3 99.5deg,#404bf4 108.5deg,#4055ff 110.5deg,#4c93ff 112.5deg,#4fa7ff 113deg,#0ef1ff 114.5deg,#00fbed 115deg,#00e27b 116.5deg,#00cc41 118deg,#00c123 119.5deg,#00bf1d 121deg,#00c225 123deg,#00d14d 125deg,#00e483 126.5deg,#01feff 128.5deg,#49b1ff 130.5deg,#4c94ff 131.5deg,#446aff 133.5deg,#4054ff 135.5deg,#4051fb 139deg,#4157ff 143.5deg,#4982ff 148.5deg,#4eacff 152deg,#21dcff 156.5deg,#19e4ff 159deg,#26d7ff 162deg,#4eacff 165.5deg,#4158ff 172deg,#4049f1 179.5deg,#4049f1 181deg,#4158ff 190.5deg,#4a8bff 199deg,#4c93ff 204deg,#4a8bff 212.5deg,#50a9ff 218.5deg,#2fcdff 224.5deg,#2dd0ff 226.5deg,#37c5ff 229.5deg,#4fa5ff 232.5deg,#4054fe 239deg,#4041e7 249deg,#4040e1 260.5deg,#4046ee 279deg,#4157ff 285.5deg,#50abff 291deg,#2ad2ff 294deg,#22dbff 296deg,#30ccff 299deg,#4eacff 301.5deg,#4261ff 307.5deg,#4052fd 310deg,#404ff8 313.5deg,#4157ff 320.5deg,#4b8eff 327deg,#4eacff 330deg,#24d8ff 335deg,#1ce1ff 338deg,#2ad3ff 341.5deg,#50aaff 345deg,#4054ff 351.5deg,#4042e8 360deg)"></i><i style="--r:45.5px;background:conic-gradient(#4041e7 0deg,#4040df 22.5deg,#4040df 54.5deg,#4040e3 98deg,#404cf5 107deg,#4053fe 108.5deg,#4469ff 109.5deg,#4d9cff 111deg,#49b1ff 111.5deg,#03fcff 113deg,#00e690 114.5deg,#00de71 115deg,#00cb3c 116.5deg,#00c122 118deg,#00bf1d 119.5deg,#00c328 121.5deg,#00cd43 123deg,#00df71 124.5deg,#00f2c6 126deg,#04faff 127deg,#4caeff 129deg,#477aff 131deg,#4056ff 133.5deg,#4050fa 137.5deg,#4159ff 143deg,#4a88ff 148deg,#4dadff 151deg,#21dcff 155.5deg,#1ae3ff 158deg,#27d5ff 161deg,#4fabff 164.5deg,#4056ff 171deg,#4048f0 179.5deg,#4048f0 180deg,#4056ff 189.5deg,#4a8cff 198.5deg,#4c93ff 203deg,#4a8bff 211.5deg,#4eadff 218deg,#2dcfff 224deg,#2cd1ff 225.5deg,#39c3ff 229deg,#50a8ff 231.5deg,#4055ff 238deg,#4041e7 248deg,#4040e1 260deg,#4046ed 277.5deg,#4054ff 284deg,#4caeff 290deg,#29d3ff 293deg,#23daff 295deg,#34c8ff 298deg,#50a8ff 300.5deg,#425dff 306.5deg,#4051fb 309.5deg,#404ef7 313deg,#4056ff 320deg,#4b8eff 326.5deg,#4eadff 329.5deg,#24d9ff 334.5deg,#1ce1ff 337.5deg,#2ad3ff 341deg,#50aaff 344.5deg,#4055ff 351deg,#4041e7 360deg)"></i><i style="--r:44px;background:conic-gradient(#4041e7 0deg,#4040df 24deg,#4040df 54deg,#4040e4 97deg,#404df6 105.5deg,#4056ff 107deg,#4c92ff 109deg,#4fa6ff 109.5deg,#10eeff 111deg,#00fcf2 111.5deg,#00e382 113deg,#00d456 114deg,#00c52e 115.5deg,#00bf1e 117.5deg,#00bf1e 118deg,#00c42a 120deg,#00d454 122deg,#00e075 123deg,#00fbec 125deg,#08f7ff 125.5deg,#4eacff 127.5deg,#4778ff 129.5deg,#4055ff 132deg,#404ff9 136.5deg,#4158ff 142deg,#4b8fff 147.5deg,#4dadff 150deg,#24d8ff 154deg,#1be3ff 157deg,#28d4ff 160deg,#50a9ff 163.5deg,#4056ff 170deg,#4048f0 178deg,#4048f0 179deg,#4054ff 188.5deg,#4a8aff 197deg,#4c94ff 202.5deg,#4b8dff 210.5deg,#4fabff 216.5deg,#2dcfff 222.5deg,#2ad2ff 224.5deg,#33c9ff 227.5deg,#4fa5ff 231deg,#4053fe 237.5deg,#4041e7 247.5deg,#4040e1 259deg,#4046ed 276.5deg,#4055ff 283deg,#50a8ff 288.5deg,#2cd0ff 291.5deg,#24d9ff 293.5deg,#32caff 296.5deg,#50aaff 299deg,#415aff 305.5deg,#404ff9 309deg,#404df7 311.5deg,#4157ff 319.5deg,#4e9fff 327.5deg,#4caeff 329deg,#24d9ff 334deg,#1ce1ff 337deg,#2ad3ff 340.5deg,#4fa6ff 344.5deg,#4054ff 351deg,#4041e7 360deg)"></i><i style="--r:42.5px;background:conic-gradient(#4041e8 0deg,#4040df 21deg,#4040df 54deg,#4040e4 95.5deg,#404cf5 103.5deg,#4053fe 105deg,#4779ff 106.5deg,#4d9cff 107.5deg,#49b1ff 108deg,#05faff 109.5deg,#00e896 111deg,#00e076 111.5deg,#00cc40 113deg,#00c225 114.5deg,#00bf1f 116deg,#00c226 118deg,#00d04a 120deg,#00e17a 121.5deg,#00fcf1 123.5deg,#0af4ff 124deg,#50aaff 126deg,#456eff 128.5deg,#4054ff 130.5deg,#404ff8 135deg,#4158ff 141deg,#4b8fff 146.5deg,#4daeff 149deg,#21dcff 153.5deg,#1be2ff 156deg,#29d3ff 159deg,#50a8ff 162.5deg,#4055ff 169deg,#4048f0 177deg,#4048f0 178deg,#4056ff 188deg,#4a89ff 196deg,#4c95ff 202deg,#4b90ff 209.5deg,#4dadff 215.5deg,#2cd1ff 221.5deg,#28d4ff 223.5deg,#30ccff 226.5deg,#50a8ff 230deg,#4055ff 236.5deg,#4041e8 246.5deg,#4040e1 258deg,#4045ec 274.5deg,#4053fe 281.5deg,#4fabff 287.5deg,#2cd1ff 290.5deg,#24d8ff 292.5deg,#34c8ff 295.5deg,#50a9ff 298deg,#415bff 304.5deg,#404ff9 308.5deg,#404ef7 310deg,#4157ff 318deg,#4d9bff 326deg,#50aaff 327.5deg,#27d6ff 332.5deg,#1ce1ff 336deg,#27d5ff 339.5deg,#4fa6ff 344deg,#4053fe 351deg,#4041e8 360deg)"></i><i style="--r:41px;background:conic-gradient(#4041e7 0deg,#4040df 22.5deg,#4040df 52.5deg,#4040e4 93.5deg,#404cf5 101.5deg,#4159ff 103.5deg,#4c96ff 105.5deg,#50a9ff 106deg,#0ef0ff 107.5deg,#00fcf1 108deg,#00e485 109.5deg,#00d559 110.5deg,#00c631 112deg,#00c01f 114deg,#00c01f 114.5deg,#00c52e 117deg,#00d65a 119deg,#00e27d 120deg,#00fcf2 122deg,#0bf4ff 122.5deg,#50aaff 124.5deg,#456eff 127deg,#4054ff 129deg,#404ef8 133.5deg,#4157ff 140deg,#4b8fff 145.5deg,#50a8ff 147.5deg,#24d8ff 152deg,#1be2ff 154.5deg,#26d7ff 157.5deg,#50a8ff 161.5deg,#4055ff 168deg,#4047ef 177deg,#4055ff 187deg,#4b8dff 196deg,#4c96ff 201.5deg,#4c92ff 208.5deg,#4eacff 214deg,#2ad3ff 220.5deg,#26d6ff 222.5deg,#31cbff 226deg,#4fabff 229deg,#4053fe 236deg,#4041e7 246deg,#4040e1 257.5deg,#4046ed 274deg,#4055ff 280.5deg,#4dadff 286.5deg,#2bd1ff 289.5deg,#26d7ff 291deg,#32caff 294deg,#4fa7ff 297deg,#425eff 303deg,#4051fc 305.5deg,#404ef7 309deg,#4056ff 317deg,#4c95ff 324.5deg,#4daeff 327deg,#25d8ff 332deg,#1ce1ff 335.5deg,#29d3ff 339deg,#50a8ff 343deg,#4054ff 350deg,#4041e7 360deg)"></i><i style="--r:39.5px;background:conic-gradient(#4040e6 0deg,#4040df 28deg,#4040df 51deg,#4040e4 91.5deg,#404df6 100deg,#4056ff 101.5deg,#4b90ff 103.5deg,#4fa2ff 104deg,#44b7ff 104.5deg,#02fdff 106deg,#00e077 108deg,#00cd44 109.5deg,#00c329 111deg,#00c122 113deg,#00c52d 115deg,#00d353 117deg,#00df72 118deg,#00eba4 119deg,#00fffd 120.5deg,#45b6ff 122.5deg,#4fa6ff 123deg,#4674ff 125deg,#4056ff 127deg,#404df7 132.5deg,#4057ff 139deg,#4a89ff 144deg,#50a8ff 146.5deg,#25d8ff 151deg,#1ce1ff 153.5deg,#27d5ff 156.5deg,#4fa6ff 160.5deg,#4054ff 167deg,#4047ef 175.5deg,#4047ef 176.5deg,#4157ff 186.5deg,#4a8cff 195deg,#4c97ff 201deg,#4c93ff 208deg,#4eacff 213deg,#2ad3ff 219.5deg,#26d7ff 221.5deg,#30ccff 225deg,#4fa7ff 228.5deg,#4054ff 235deg,#4041e8 245deg,#4040e1 256.5deg,#4046ee 273deg,#4157ff 279.5deg,#50a8ff 285deg,#2fcdff 288deg,#27d5ff 290deg,#34c7ff 293deg,#50aaff 295.5deg,#425cff 302deg,#4050fa 305deg,#404df7 308.5deg,#4157ff 316.5deg,#4d9cff 324.5deg,#4fabff 326deg,#27d6ff 331deg,#1de0ff 334.5deg,#29d3ff 338deg,#50aaff 342deg,#4055ff 349deg,#4040e6 360deg)"></i><i style="--r:38px;background:conic-gradient(#4040e5 0deg,#4040df 36deg,#4040df 49.5deg,#4040e4 89.5deg,#404cf5 98deg,#4053fe 99.5deg,#4676ff 101deg,#4fabff 102.5deg,#0ef0ff 104deg,#00fcf2 104.5deg,#00e589 106deg,#00d75d 107deg,#00c836 108.5deg,#00c226 110deg,#00c224 111deg,#00c732 113.5deg,#00d75c 115.5deg,#00e27e 116.5deg,#00fcf1 118.5deg,#0af5ff 119deg,#4facff 121deg,#456dff 123.5deg,#4053fe 125.5deg,#404cf5 131deg,#4055ff 138deg,#4ea2ff 145deg,#4caeff 146deg,#25d7ff 150deg,#1de0ff 152.5deg,#29d4ff 155.5deg,#4fa5ff 159.5deg,#4054ff 166deg,#4047ef 174.5deg,#4047ef 175.5deg,#4055ff 185.5deg,#4a8aff 194deg,#4c95ff 200deg,#4b90ff 207deg,#4eacff 212.5deg,#29d4ff 219deg,#26d7ff 221deg,#33c9ff 224.5deg,#4fa7ff 227.5deg,#4054ff 234deg,#4041e7 244deg,#4040e1 255deg,#4046ee 272deg,#4054ff 278deg,#50aaff 284deg,#2fcdff 287deg,#29d3ff 289deg,#37c5ff 292deg,#50a8ff 294.5deg,#415bff 301deg,#4051fb 303.5deg,#404df6 307.5deg,#4055ff 315.5deg,#4c95ff 323deg,#4caeff 325.5deg,#26d7ff 330.5deg,#1edfff 333.5deg,#29d4ff 337deg,#4fabff 341deg,#4054fe 348.5deg,#4040e6 359deg,#4040e5 360deg)"></i><i style="--r:36.5px;background:conic-gradient(#4040e4 0deg,#4040df 48.5deg,#4040e4 88deg,#404df6 96.5deg,#4055ff 98deg,#4b8fff 100deg,#4ea1ff 100.5deg,#45b5ff 101deg,#04faff 102.5deg,#00e27d 104.5deg,#00cf49 106deg,#00c52f 107.5deg,#00c327 109.5deg,#00c732 111.5deg,#00d558 113.5deg,#00e075 114.5deg,#02fdff 117deg,#48b3ff 119deg,#4fa3ff 119.5deg,#4467ff 122deg,#4053fe 123.5deg,#404bf4 129.5deg,#4055ff 137deg,#4fa2ff 144deg,#46b5ff 145.5deg,#23d9ff 149.5deg,#1fdfff 151.5deg,#2eceff 155deg,#4fabff 158deg,#4054ff 165deg,#4047ee 174deg,#4047ee 174.5deg,#4157ff 185deg,#4a8aff 193.5deg,#4c93ff 198.5deg,#4b8dff 206.5deg,#4fabff 212deg,#29d3ff 218.5deg,#27d6ff 220.5deg,#34c7ff 224deg,#4fa6ff 227deg,#4053fe 233.5deg,#4041e7 243.5deg,#4040e1 254deg,#4046ee 270.5deg,#4056ff 277deg,#4fabff 283deg,#30ccff 286deg,#2bd2ff 287.5deg,#36c6ff 290.5deg,#4fabff 293deg,#4054ff 300.5deg,#404cf5 306.5deg,#4056ff 315deg,#4d98ff 322.5deg,#4fabff 324.5deg,#28d5ff 329.5deg,#1fdeff 333deg,#2cd0ff 336.5deg,#4fa7ff 340.5deg,#4055ff 347.5deg,#4040e6 358.5deg,#4040e4 360deg)"></i><i style="--r:35px;background:conic-gradient(#4040e4 0deg,#4040df 47deg,#4040e4 86deg,#404ef7 95deg,#415bff 96.5deg,#4d98ff 98.5deg,#50aaff 99deg,#10eeff 100.5deg,#00fdf5 101deg,#00e68f 102.5deg,#00df74 103deg,#00ce46 104.5deg,#00c62f 106deg,#00c42a 107.5deg,#00c937 110deg,#00d860 112deg,#00e383 113deg,#00fcf4 115deg,#0bf3ff 115.5deg,#50aaff 117.5deg,#4675ff 119.5deg,#4054ff 121.5deg,#404af3 128deg,#4054ff 136deg,#50a8ff 143.5deg,#27d6ff 148deg,#20ddff 150.5deg,#2bd1ff 153.5deg,#50aaff 157deg,#4054ff 164deg,#4046ee 173deg,#4046ee 173.5deg,#4056ff 184deg,#4a89ff 192.5deg,#4c93ff 198deg,#4a8cff 206deg,#4eacff 211.5deg,#29d3ff 218deg,#27d5ff 220deg,#32caff 223deg,#4fabff 226deg,#4054fe 233deg,#4041e7 243deg,#4040e1 254deg,#4046ee 270deg,#4055ff 276deg,#50aaff 282deg,#31cbff 285deg,#2cd0ff 286.5deg,#38c4ff 289.5deg,#50a8ff 292deg,#4055ff 299deg,#404bf4 305.5deg,#4056ff 314.5deg,#4daeff 324deg,#27d6ff 329deg,#20ddff 332deg,#2fcdff 336deg,#50a9ff 339.5deg,#4053fe 347deg,#4040e6 357.5deg,#4040e4 360deg)"></i><i style="--r:33.5px;background:conic-gradient(#4040e3 0deg,#4040df 45.5deg,#4040e4 84deg,#404df6 93deg,#4056ff 94.5deg,#4ea1ff 97deg,#45b6ff 97.5deg,#05f9ff 99deg,#00f1c2 100deg,#00e383 101deg,#00d75c 102deg,#00ca3a 103.5deg,#00c52d 105.5deg,#00c52d 106deg,#00c937 108deg,#00d65b 110deg,#00e178 111deg,#02fcff 113.5deg,#48b2ff 115.5deg,#4fa2ff 116deg,#4366ff 118.5deg,#4055ff 119.5deg,#4049f2 126.5deg,#4054ff 135deg,#50a9ff 142.5deg,#27d5ff 147deg,#21dcff 149.5deg,#2dcfff 152.5deg,#50a9ff 156deg,#4054ff 163deg,#4046ee 172deg,#4046ee 172.5deg,#4158ff 183.5deg,#4a88ff 191.5deg,#4c93ff 197deg,#4a8bff 205deg,#4dadff 211deg,#2bd1ff 217deg,#27d5ff 219deg,#32caff 222.5deg,#4fabff 225.5deg,#4054ff 232.5deg,#4041e8 242.5deg,#4040e2 253.5deg,#4046ee 269deg,#4055ff 275deg,#50a8ff 281deg,#33c9ff 284deg,#2eceff 286deg,#3cbfff 289deg,#50a9ff 291deg,#4157ff 298deg,#404bf4 304.5deg,#4055ff 313.5deg,#4fabff 323deg,#29d4ff 328deg,#21dcff 331deg,#2fcdff 335deg,#4fa5ff 339deg,#4053fe 346.5deg,#4040e6 357deg,#4040e3 360deg)"></i><i style="--r:32px;background:conic-gradient(#4040e3 0deg,#4040df 44deg,#4040e4 82deg,#404cf5 91deg,#4053fe 92.5deg,#4a88ff 94.5deg,#4eacff 95.5deg,#10eeff 97deg,#00fdf6 97.5deg,#00e793 99deg,#00e177 99.5deg,#00d04b 101deg,#00c731 103deg,#00c630 104deg,#00c937 106deg,#00d456 108deg,#00de71 109deg,#00ea9f 110deg,#00fcf3 111.5deg,#0bf3ff 112deg,#50aaff 114deg,#446aff 116.5deg,#4053fe 118deg,#4049f1 125deg,#4055ff 134deg,#50a9ff 141.5deg,#28d5ff 146deg,#22dbff 148.5deg,#32caff 152deg,#50a8ff 155deg,#4054ff 162deg,#4046ee 171deg,#4046ee 171.5deg,#4157ff 182.5deg,#4a89ff 191deg,#4c93ff 196.5deg,#4a8aff 204.5deg,#50aaff 210deg,#2bd1ff 216.5deg,#28d5ff 218.5deg,#33c9ff 222deg,#50aaff 225deg,#4054ff 232deg,#4041e7 242.5deg,#4040e2 252.5deg,#4046ed 267.5deg,#4056ff 274deg,#50a7ff 280deg,#32caff 283.5deg,#2fcdff 285deg,#3cbfff 288deg,#50aaff 290deg,#4055ff 297.5deg,#404bf4 304deg,#4157ff 313deg,#50a9ff 322deg,#28d5ff 327.5deg,#22dbff 330.5deg,#32caff 334.5deg,#4fa7ff 338deg,#4054ff 345.5deg,#4040e5 357deg,#4040e3 360deg)"></i><i style="--r:30.5px;background:conic-gradient(#4040e2 0deg,#4040df 42.5deg,#4040e4 80deg,#404cf5 89deg,#4159ff 91deg,#4fa4ff 93.5deg,#2eceff 94.5deg,#04faff 95.5deg,#00eba3 97deg,#00de70 98deg,#00cf48 99.5deg,#00c835 101deg,#00c732 102.5deg,#00cc41 105deg,#00dc6b 107deg,#00e17a 107.5deg,#01feff 110deg,#46b4ff 112deg,#4fa4ff 112.5deg,#4366ff 115deg,#4052fd 116.5deg,#4048f0 123.5deg,#4056ff 133deg,#50aaff 140.5deg,#28d4ff 145deg,#23daff 147deg,#2fcdff 150.5deg,#50a8ff 154deg,#4054ff 161deg,#4046ee 170deg,#4046ee 170.5deg,#4056ff 181.5deg,#4a89ff 190deg,#4c93ff 195.5deg,#4a8aff 203.5deg,#4eacff 209.5deg,#2bd2ff 216deg,#28d4ff 218deg,#34c8ff 221.5deg,#50aaff 224.5deg,#4053fe 232deg,#4042e8 241.5deg,#4040e2 252deg,#4047ef 267deg,#4157ff 273deg,#4dadff 279.5deg,#34c8ff 282.5deg,#30ccff 284deg,#40bbff 287.5deg,#4fa6ff 289.5deg,#4054ff 297deg,#404bf3 303deg,#4055ff 312deg,#4eacff 321.5deg,#2ad3ff 326.5deg,#23daff 329.5deg,#32caff 333.5deg,#50a9ff 337deg,#4053fe 345deg,#4040e6 355.5deg,#4040e2 360deg)"></i><i style="--r:29px;background:conic-gradient(#4040e2 0deg,#4040df 40.5deg,#4040e4 78deg,#404df6 87.5deg,#4056ff 89deg,#4b8dff 91deg,#4ab1ff 92deg,#0df1ff 93.5deg,#00fcf3 94deg,#00e795 95.5deg,#00e17a 96deg,#00d24f 97.5deg,#00c937 99.5deg,#00c835 100.5deg,#00cc40 103deg,#00da65 105deg,#00e486 106deg,#00fcf0 108deg,#08f6ff 108.5deg,#4caeff 110.5deg,#456cff 113deg,#4054fe 114.5deg,#4048f0 122deg,#4048f0 122.5deg,#4053fe 131.5deg,#50aaff 139.5deg,#2cd1ff 143.5deg,#24d9ff 146deg,#30ccff 149.5deg,#4fa7ff 153deg,#4055ff 160deg,#4046ee 169deg,#4046ee 169.5deg,#4056ff 180.5deg,#4a88ff 189deg,#4c92ff 194.5deg,#4a88ff 203deg,#4eadff 209deg,#2cd0ff 215deg,#28d4ff 217.5deg,#38c4ff 221.5deg,#50aaff 224deg,#4053fe 231.5deg,#4041e7 242.5deg,#4040e3 251deg,#4047ef 266deg,#4158ff 272deg,#50a7ff 278deg,#33c9ff 281.5deg,#30cdff 283deg,#3bc0ff 286deg,#50a8ff 288.5deg,#4054ff 296deg,#404af2 302.5deg,#4056ff 312deg,#50aaff 321deg,#2ad2ff 326deg,#24d9ff 329deg,#34c8ff 333deg,#4fa6ff 336.5deg,#4053fe 344deg,#4040e6 355deg,#4040e2 360deg)"></i><i style="--r:27.5px;background:conic-gradient(#4040e2 0deg,#4040df 39.5deg,#4040e4 76deg,#404df6 85.5deg,#4054ff 87deg,#4a88ff 89deg,#50aaff 90deg,#01feff 92deg,#00e487 94deg,#00d963 95deg,#00ce44 96.5deg,#00c938 98.5deg,#00c938 99deg,#00cc40 101deg,#00d85f 103deg,#00e17a 104deg,#00f8de 106deg,#00fefb 106.5deg,#50a9ff 109deg,#4469ff 111.5deg,#4053fe 113deg,#4047ef 120.5deg,#4047ef 121deg,#4054ff 130.5deg,#4eacff 138.5deg,#2cd1ff 142.5deg,#25d8ff 145deg,#32caff 148.5deg,#4fabff 151.5deg,#4055ff 159deg,#4046ee 168deg,#4046ee 168.5deg,#4056ff 179.5deg,#4a89ff 188.5deg,#4c92ff 194deg,#4a88ff 202deg,#50aaff 208deg,#2cd0ff 214.5deg,#29d4ff 216.5deg,#32caff 220deg,#50aaff 223.5deg,#4054ff 231deg,#4042e8 241deg,#4040e3 250.5deg,#4048f0 265.5deg,#4054ff 270.5deg,#50a8ff 277deg,#32caff 280.5deg,#2eceff 282deg,#3dbfff 285.5deg,#50aaff 287.5deg,#4056ff 295deg,#404af2 302deg,#4054ff 311.5deg,#4eadff 321deg,#2ad2ff 326deg,#25d8ff 328.5deg,#33c9ff 332.5deg,#50a7ff 336deg,#4054ff 343.5deg,#4040e6 354.5deg,#4040e2 360deg)"></i><i style="--r:26px;background:conic-gradient(#4040e2 0deg,#4040df 38deg,#4040e4 74deg,#404df6 83.5deg,#4053fe 85deg,#4985ff 87deg,#4fa5ff 88deg,#2fcdff 89deg,#08f7ff 90deg,#00fbec 90.5deg,#00e27a 92.5deg,#00d04a 94.5deg,#00ca3b 96.5deg,#00ca3a 97deg,#00ce44 99.5deg,#00da66 101.5deg,#00e484 102.5deg,#03fcff 105deg,#46b5ff 107deg,#4fa5ff 107.5deg,#4467ff 110deg,#4052fd 111.5deg,#4047ef 119deg,#4047ef 119.5deg,#4056ff 129.5deg,#4daeff 137.5deg,#2cd0ff 141.5deg,#26d7ff 144deg,#34c8ff 147.5deg,#50aaff 150.5deg,#4054ff 158deg,#4046ee 167deg,#4046ee 167.5deg,#4055ff 178.5deg,#4a88ff 187.5deg,#4c92ff 193deg,#4a87ff 201.5deg,#4eacff 207.5deg,#2cd1ff 214deg,#29d4ff 216deg,#35c6ff 220deg,#50aaff 223deg,#4054ff 230.5deg,#4041e7 242deg,#4040e4 250deg,#4048f0 264deg,#4056ff 269.5deg,#50aaff 276deg,#31cbff 279.5deg,#2dcfff 281deg,#3ac1ff 284.5deg,#50a8ff 287deg,#4054ff 294.5deg,#4049f2 301.5deg,#4057ff 311.5deg,#50aaff 320.5deg,#2cd1ff 325.5deg,#26d7ff 328deg,#32c9ff 332deg,#50a9ff 335.5deg,#4054fe 343.5deg,#4040e5 355.5deg,#4040e2 360deg)"></i><i style="--r:24.5px;background:conic-gradient(#4040e2 0deg,#4040df 37deg,#4040e5 72.5deg,#404ef8 82deg,#4053fe 83deg,#4982ff 85deg,#4fa2ff 86deg,#46b4ff 86.5deg,#0ef1ff 88deg,#00fdf6 88.5deg,#00e486 90.5deg,#00da65 91.5deg,#00cd43 93.5deg,#00cb3d 95.5deg,#00cd44 97.5deg,#00d860 99.5deg,#00e178 100.5deg,#00fcf0 103deg,#08f7ff 103.5deg,#49b2ff 105.5deg,#4fa2ff 106deg,#4366ff 108.5deg,#4052fd 110deg,#4047ee 118deg,#4054ff 128deg,#50a9ff 136deg,#2eceff 140deg,#27d6ff 142.5deg,#35c6ff 146.5deg,#50a8ff 149.5deg,#4054ff 157deg,#4046ee 166.5deg,#4056ff 177.5deg,#4a8aff 187deg,#4c92ff 192.5deg,#4a88ff 200.5deg,#4dadff 207deg,#2dd0ff 213deg,#29d4ff 215.5deg,#32c9ff 219deg,#50aaff 222.5deg,#4053fe 230.5deg,#4041e7 242.5deg,#4040e4 249deg,#404af3 264deg,#4158ff 268.5deg,#4fabff 275deg,#30ccff 278.5deg,#2cd0ff 280deg,#35c7ff 283deg,#50abff 286deg,#4157ff 293.5deg,#4049f1 301deg,#4056ff 311deg,#4dadff 320.5deg,#2bd1ff 325.5deg,#27d6ff 328deg,#35c7ff 332deg,#4fa7ff 335.5deg,#4053fe 343.5deg,#4040e5 356deg,#4040e2 360deg)"></i><i style="--r:23px;background:conic-gradient(#4040e2 0deg,#4040df 35.5deg,#4040e5 70.5deg,#404df6 79.5deg,#4053fe 81deg,#4882ff 83deg,#4ea0ff 84deg,#49b2ff 84.5deg,#00fffe 86.5deg,#00e690 88.5deg,#00e179 89deg,#00d456 90.5deg,#00cc41 92.5deg,#00cc3f 93.5deg,#00cf48 96deg,#00da66 98deg,#00e380 99deg,#00f7dd 101deg,#00fdf7 101.5deg,#1be2ff 102.5deg,#4bb0ff 104deg,#477bff 106deg,#4055ff 108deg,#4047ef 115deg,#4047ee 116.5deg,#4053fe 126.5deg,#4fabff 135deg,#2eceff 139deg,#28d5ff 141.5deg,#37c5ff 145.5deg,#4fa7ff 148.5deg,#4055ff 156deg,#4047ee 165.5deg,#4056ff 176.5deg,#4a87ff 185.5deg,#4c92ff 191.5deg,#4a87ff 200deg,#4eacff 206deg,#2cd0ff 212.5deg,#29d4ff 215deg,#36c6ff 219deg,#4fa6ff 222.5deg,#4054ff 230deg,#4042e8 241.5deg,#4040e5 248.5deg,#404bf3 263deg,#4056ff 267deg,#4dadff 274deg,#2fcdff 277.5deg,#2ad2ff 279.5deg,#3ac2ff 283deg,#50a8ff 285.5deg,#4056ff 293deg,#4049f1 301deg,#4055ff 310.5deg,#4fabff 320deg,#2dcfff 325deg,#28d5ff 327.5deg,#34c7ff 331.5deg,#50a9ff 335deg,#4053fe 343.5deg,#4040e5 356deg,#4040e2 360deg)"></i><i style="--r:21.5px;background:conic-gradient(#4040e2 0deg,#4040df 34.5deg,#4040e5 68deg,#404df6 77.5deg,#4054ff 79deg,#4982ff 81deg,#4ea0ff 82deg,#4ab1ff 82.5deg,#03fcff 84.5deg,#00e382 87deg,#00d65b 88.5deg,#00ce45 90.5deg,#00cd42 92deg,#00d04c 94.5deg,#00dc6a 96.5deg,#00e487 97.5deg,#00f9e2 99.5deg,#00fefc 100deg,#4bafff 102.5deg,#477bff 104.5deg,#4055ff 106.5deg,#4047ef 114deg,#4047ee 115deg,#4055ff 125.5deg,#4dadff 134deg,#2cd0ff 138.5deg,#29d4ff 140.5deg,#38c3ff 144.5deg,#4fa6ff 147.5deg,#4053fe 155.5deg,#4047ee 164.5deg,#4157ff 175.5deg,#4a89ff 185deg,#4c92ff 191deg,#4a88ff 199deg,#4caeff 205.5deg,#2bd1ff 212deg,#29d4ff 214deg,#33c9ff 218deg,#4fa6ff 222deg,#4054fe 230deg,#4042e9 241deg,#4040e6 247.5deg,#404cf4 262deg,#4159ff 266deg,#50a9ff 272.5deg,#2ecfff 276.5deg,#29d3ff 278.5deg,#37c4ff 282deg,#4fa6ff 285deg,#4055ff 292.5deg,#4049f1 300.5deg,#4055ff 310deg,#50aaff 319.5deg,#2eceff 324.5deg,#29d4ff 327deg,#34c8ff 331deg,#4fa6ff 335deg,#4053fe 343.5deg,#4040e5 356deg,#4040e2 360deg)"></i><i style="--r:20px;background:conic-gradient(#4040e3 0deg,#4040df 33.5deg,#4040e6 66.5deg,#404ff9 76deg,#4054ff 77deg,#4b90ff 79.5deg,#4bafff 80.5deg,#07f8ff 82.5deg,#00fbef 83deg,#00e58b 85deg,#00dc6c 86deg,#00d14d 88deg,#00ce44 90.5deg,#00d24f 93deg,#00dd6e 95deg,#00e58c 96deg,#00f9e4 98deg,#00fffd 98.5deg,#4ab0ff 101deg,#4a88ff 102.5deg,#4157ff 105deg,#4048f0 111deg,#4047ee 114deg,#4054ff 124deg,#50aaff 132.5deg,#2fceff 137deg,#2ad3ff 139.5deg,#3ac2ff 143.5deg,#50aaff 146deg,#4054fe 154.5deg,#4047ef 163.5deg,#4158ff 174.5deg,#4a8aff 184.5deg,#4c92ff 190deg,#4a88ff 198.5deg,#4fabff 204.5deg,#2dd0ff 211deg,#28d4ff 213.5deg,#32caff 217.5deg,#50a9ff 221.5deg,#4053fe 230deg,#4042e8 242.5deg,#4040e6 247deg,#404cf4 260.5deg,#4158ff 264.5deg,#4fabff 271.5deg,#2cd0ff 275.5deg,#28d5ff 277.5deg,#34c7ff 281deg,#50aaff 284deg,#4053fe 292.5deg,#4049f1 300deg,#4055ff 309.5deg,#4dadff 319.5deg,#2eceff 324.5deg,#2ad3ff 327deg,#39c2ff 331.5deg,#50a9ff 334.5deg,#4054ff 343deg,#4040e5 356.5deg,#4040e3 360deg)"></i><i style="--r:18.5px;background:conic-gradient(#4040e3 0deg,#4040df 32deg,#4040e6 64deg,#404df6 73deg,#4157ff 75deg,#4ea1ff 78deg,#4ab0ff 78.5deg,#09f5ff 80.5deg,#00fcf4 81deg,#00e794 83deg,#00df72 84deg,#00d251 86deg,#00cf47 88.5deg,#00d352 91.5deg,#00de70 93.5deg,#00eaa0 95deg,#00fef9 97deg,#28d4ff 98.5deg,#4fa7ff 100deg,#4364ff 103deg,#4052fd 104.5deg,#4047ee 112.5deg,#4054ff 122.5deg,#4eadff 131.5deg,#2fcdff 136deg,#2bd2ff 138deg,#37c4ff 142deg,#50aaff 145deg,#4055ff 153.5deg,#4048f0 162.5deg,#4056ff 173deg,#4a8aff 183.5deg,#4c92ff 189.5deg,#4a87ff 198deg,#4eacff 204deg,#2cd1ff 211deg,#28d4ff 213.5deg,#36c6ff 218deg,#50a8ff 221.5deg,#4053fe 230.5deg,#4043e9 242.5deg,#4041e7 246.5deg,#404ff8 260.5deg,#425cff 263.5deg,#50a8ff 270deg,#2ecfff 274deg,#26d6ff 276.5deg,#35c6ff 280.5deg,#50a9ff 283.5deg,#4054fe 292deg,#4049f1 299.5deg,#4056ff 309deg,#4eacff 319deg,#2fcdff 324deg,#2bd2ff 326.5deg,#38c3ff 331deg,#4fa7ff 334.5deg,#4053fe 343.5deg,#4040e6 356deg,#4040e3 360deg)"></i><i style="--r:17px;background:conic-gradient(#4040e4 0deg,#4040df 30.5deg,#4041e7 62deg,#404ef7 71deg,#4054ff 72.5deg,#4c97ff 75.5deg,#4fa5ff 76deg,#37c4ff 77deg,#09f6ff 78.5deg,#00fdf4 79deg,#00e899 81deg,#00e076 82deg,#00d456 84deg,#00d049 87deg,#00d455 90deg,#00de71 92deg,#00e99e 93.5deg,#00fcf2 95.5deg,#06f9ff 96deg,#4bafff 98.5deg,#4c96ff 99.5deg,#415bff 102.5deg,#404ff9 104.5deg,#4047ef 111deg,#4055ff 121deg,#50aaff 130deg,#31cbff 134.5deg,#2bd1ff 137deg,#3cc0ff 141.5deg,#50aaff 144deg,#4054ff 153deg,#4049f1 161.5deg,#4158ff 172deg,#4a8aff 182.5deg,#4c93ff 188.5deg,#4a89ff 197deg,#4dadff 203.5deg,#2cd1ff 210.5deg,#28d4ff 213deg,#34c8ff 217.5deg,#4fa4ff 222deg,#4053fe 231deg,#4043ea 243.5deg,#4042e9 246deg,#404ef7 258.5deg,#415cff 262deg,#50abff 269deg,#2cd0ff 273deg,#25d8ff 275.5deg,#32caff 279.5deg,#50aaff 283deg,#4055ff 291.5deg,#404af2 299deg,#4054ff 308deg,#4fabff 318.5deg,#2fcdff 324deg,#2cd1ff 326.5deg,#3ac1ff 331deg,#4fa5ff 334.5deg,#4053fe 343.5deg,#4040e6 357deg,#4040e4 360deg)"></i><i style="--r:15.5px;background:conic-gradient(#4040e4 0deg,#4040df 29deg,#4042e8 60.5deg,#4050fa 69deg,#415cff 70.5deg,#4e9eff 73.5deg,#4eacff 74deg,#06f9ff 76.5deg,#00fcf1 77deg,#00e99c 79deg,#00de70 80.5deg,#00d352 83deg,#00d04c 85.5deg,#00d557 88.5deg,#00e27b 91deg,#00f5d3 93.5deg,#00fffd 94.5deg,#4eacff 97.5deg,#4364ff 101deg,#4053fd 102.5deg,#4048f0 109.5deg,#4157ff 119.5deg,#4daeff 129deg,#2fcdff 134deg,#2cd0ff 136deg,#3fbcff 141deg,#50aaff 143deg,#4054ff 152.5deg,#404af2 160.5deg,#4158ff 170.5deg,#4a8aff 181.5deg,#4c93ff 188deg,#4a89ff 196.5deg,#4eacff 202.5deg,#2bd1ff 210deg,#28d5ff 212.5deg,#34c7ff 217.5deg,#4fa5ff 222deg,#4053fe 231.5deg,#4044eb 244.5deg,#4043ea 245.5deg,#4050fb 258deg,#425cff 260.5deg,#4dadff 268deg,#29d4ff 272.5deg,#23daff 275deg,#34c8ff 279.5deg,#4fa7ff 283deg,#4055ff 291.5deg,#404af3 299deg,#4056ff 307.5deg,#4fabff 318deg,#30ccff 323.5deg,#2dd0ff 326deg,#3cbfff 331deg,#50a8ff 334deg,#4054ff 343.5deg,#4042e8 355.5deg,#4040e4 360deg)"></i><i style="--r:14px;background:conic-gradient(#4040e5 0deg,#4040df 27.5deg,#4043e9 58deg,#4051fb 66.5deg,#425eff 68deg,#50a9ff 71.5deg,#01feff 74.5deg,#00e99c 77deg,#00df72 78.5deg,#00d352 81.5deg,#00d14e 84deg,#00d559 87deg,#00e179 89.5deg,#00f3c8 92deg,#02fcff 93.5deg,#4caeff 96.5deg,#477aff 99deg,#4054ff 101.5deg,#4049f1 108.5deg,#4056ff 117.5deg,#4dadff 127.5deg,#30ccff 132.5deg,#2dcfff 134.5deg,#37c5ff 138.5deg,#50a8ff 142.5deg,#4056ff 152deg,#404bf4 159.5deg,#4157ff 168.5deg,#4a8bff 180.5deg,#4c94ff 187.5deg,#4a8cff 196deg,#4fabff 201.5deg,#2dcfff 208.5deg,#27d5ff 212.5deg,#34c8ff 217.5deg,#50a7ff 222deg,#4053fe 232.5deg,#4045ec 245deg,#4054fe 257.5deg,#4d9cff 265deg,#4fabff 266.5deg,#2ad2ff 271deg,#21dcff 274deg,#2fcdff 278.5deg,#50aaff 282.5deg,#4054ff 292deg,#404bf4 298.5deg,#4057ff 306.5deg,#4fabff 317.5deg,#31cbff 323deg,#2dcfff 325.5deg,#3bc0ff 330.5deg,#4fa7ff 334deg,#4053fe 344deg,#4040e6 358.5deg,#4040e5 360deg)"></i><i style="--r:12.5px;background:conic-gradient(#4040e6 0deg,#4040df 25.5deg,#4044eb 56.5deg,#4055ff 64.5deg,#4c94ff 68deg,#50aaff 69deg,#07f8ff 72deg,#00fdf6 72.5deg,#00ea9e 75deg,#00e177 76.5deg,#00d65a 79.5deg,#00d455 82deg,#00d75f 85.5deg,#00e27b 88deg,#00f1c0 90.5deg,#00fcf4 92deg,#04fbff 92.5deg,#4fa7ff 96deg,#4362ff 100deg,#4052fc 102deg,#404af3 107deg,#4158ff 115.5deg,#4dadff 126deg,#31cbff 131deg,#2dcfff 133.5deg,#3cc0ff 138.5deg,#4fa6ff 142deg,#4054ff 152.5deg,#404df6 158.5deg,#415aff 167deg,#4b8dff 180deg,#4c95ff 187deg,#4b8eff 195deg,#4eadff 200.5deg,#2ad2ff 208.5deg,#26d6ff 212deg,#31cbff 217deg,#4fa7ff 222.5deg,#4054ff 233.5deg,#4047ef 245deg,#4054ff 255.5deg,#4facff 265deg,#28d5ff 270deg,#1fdeff 273.5deg,#2dcfff 278deg,#50aaff 282.5deg,#4055ff 292.5deg,#404df6 298.5deg,#4158ff 305.5deg,#4eacff 317deg,#32caff 322.5deg,#2eceff 325.5deg,#3cbfff 330.5deg,#4fa7ff 334deg,#4053fe 344.5deg,#4041e7 359deg,#4040e6 360deg)"></i><i style="--r:11px;background:conic-gradient(#4041e8 0deg,#4040e0 24deg,#4045ec 53.5deg,#4056ff 61.5deg,#4c96ff 65.5deg,#50a9ff 66.5deg,#00ffff 70.5deg,#00edae 73.5deg,#00e484 76deg,#00df73 78.5deg,#00df72 80.5deg,#00e17a 84deg,#00eaa2 87deg,#00fae9 90deg,#05faff 91deg,#50aaff 95deg,#4365ff 99.5deg,#4053fe 101.5deg,#404cf5 106deg,#4158ff 113deg,#4fabff 124deg,#31cbff 129.5deg,#2dcfff 132.5deg,#3ac1ff 137.5deg,#4fa6ff 141.5deg,#4054ff 153deg,#404ff9 157.5deg,#415aff 164.5deg,#4b8fff 179deg,#4d97ff 187deg,#4c92ff 194deg,#4eacff 199deg,#2ad3ff 207.5deg,#25d8ff 211.5deg,#32caff 217.5deg,#4fa5ff 223.5deg,#4054ff 235.5deg,#404af3 244.5deg,#4159ff 253.5deg,#50a9ff 263deg,#28d5ff 268.5deg,#1de0ff 272.5deg,#2ad2ff 277.5deg,#50a7ff 283deg,#4056ff 293.5deg,#404ff9 298.5deg,#4159ff 304deg,#4fabff 316deg,#31cbff 322.5deg,#2eceff 325deg,#3fbcff 331deg,#50a8ff 334deg,#4054ff 345deg,#4042e8 359.5deg,#4041e8 360deg)"></i><i style="--r:9.5px;background:conic-gradient(#4043ea 0deg,#4040e1 21.5deg,#4046ee 50deg,#4054ff 57.5deg,#4c97ff 62.5deg,#4bafff 64deg,#03fcff 68.5deg,#00efb9 72.5deg,#00e99c 76deg,#00e898 79deg,#00eba4 83deg,#00f4ce 86.5deg,#00ffff 89deg,#4fa7ff 94.5deg,#4363ff 100deg,#4053fd 102.5deg,#4050fa 105deg,#415aff 110deg,#4dadff 122deg,#2fcdff 128.5deg,#2cd1ff 131deg,#38c4ff 136.5deg,#4fa6ff 141.5deg,#415aff 153.5deg,#4053fd 156.5deg,#4364ff 163.5deg,#4c93ff 178.5deg,#4d9cff 187deg,#4d99ff 192.5deg,#4caeff 197deg,#28d5ff 206deg,#21dcff 211deg,#2eceff 217.5deg,#4fa7ff 224.5deg,#4054ff 238.5deg,#404ff9 244deg,#415aff 250deg,#4fabff 261deg,#24d9ff 267.5deg,#1ae4ff 272deg,#28d4ff 277.5deg,#4fa5ff 284deg,#425fff 294deg,#4052fd 298.5deg,#4363ff 303.5deg,#4fabff 315deg,#32caff 321.5deg,#2eceff 324.5deg,#3ac1ff 330deg,#4fa6ff 334.5deg,#4053fe 346.5deg,#4043ea 360deg)"></i><i style="--r:8px;background:conic-gradient(#4045ed 0deg,#4040e4 19.5deg,#4049f2 47deg,#4159ff 53.5deg,#50aaff 60.5deg,#07f7ff 66.5deg,#00fdf5 68deg,#00f4cd 72deg,#00f1c0 77deg,#00f1c0 77.5deg,#00f4cc 82deg,#00fcf2 86deg,#01feff 87deg,#4eacff 94deg,#4467ff 101deg,#4158ff 104deg,#4985ff 113deg,#4fabff 119deg,#2eceff 126deg,#28d4ff 130deg,#36c6ff 136.5deg,#50a8ff 142deg,#4362ff 155deg,#4260ff 155.5deg,#4e9dff 180deg,#4fa3ff 188deg,#4fa2ff 191deg,#48b2ff 194.5deg,#22dbff 205deg,#1ce2ff 210.5deg,#2bd1ff 218.5deg,#50a9ff 226.5deg,#4363ff 240.5deg,#415aff 243.5deg,#4986ff 252.5deg,#4eacff 258deg,#1fdeff 266deg,#15e8ff 271deg,#22dbff 277deg,#50a8ff 285deg,#446aff 295.5deg,#4260ff 298.5deg,#4c93ff 309deg,#4eacff 313.5deg,#31cbff 320.5deg,#2dcfff 324deg,#39c2ff 330deg,#4fa7ff 335deg,#4053fe 348deg,#4045ed 360deg)"></i><i style="--r:6.5px;background:conic-gradient(#4049f2 0deg,#4041e8 17deg,#404bf4 41deg,#4159ff 47.5deg,#50a9ff 56.5deg,#11edff 64deg,#00fffe 67.5deg,#00fae9 73deg,#00fae7 76.5deg,#00fcf3 82deg,#02fdff 84.5deg,#35c7ff 92deg,#50a8ff 95.5deg,#4675ff 103deg,#4fabff 115deg,#29d4ff 124deg,#22dbff 129deg,#2dd0ff 136deg,#4fa6ff 145deg,#4779ff 155.5deg,#4fabff 182.5deg,#49b2ff 189.5deg,#1be2ff 202.5deg,#13ebff 209.5deg,#21dcff 219deg,#4fa7ff 231.5deg,#487eff 242.5deg,#4dadff 253deg,#19e5ff 264deg,#0ef0ff 270deg,#1ce1ff 277.5deg,#4fa7ff 288.5deg,#4779ff 298.5deg,#4eadff 310.5deg,#2eceff 319.5deg,#2ad2ff 323.5deg,#39c2ff 331deg,#4fa6ff 336.5deg,#4054ff 351deg,#4049f2 360deg)"></i></div></div><div class="c" style="left:77.5px;top:323.5px"><div class="d b" style="left:124.5px;top:124.5px"><i style="--r:126.5px;background:conic-gradient(#31c400 0deg,#00b502 3deg,#00e99c 15.5deg,#00f0ba 18.5deg,#00f6d4 27.5deg,#02fdff 53deg,#02fcff 53.5deg,#00fefd 55.5deg,#00faea 56.5deg,#00f6d8 57deg,#00f0bc 57.5deg,#00e075 58deg,#00c731 58.5deg,#26c100 59deg,#95e600 59.5deg,#ddf700 60deg,#ffee00 60.5deg,#ffb900 61.5deg,#ff9a00 62.5deg,#ff7800 65deg,#fb6200 69deg,#f95d00 75deg,#fd6900 87deg,#ff8c00 98.5deg,#ffc300 107.5deg,#fcfe00 115deg,#89e200 123deg,#07b600 130.5deg,#00b606 131.5deg,#00d455 140.5deg,#00e486 147deg,#00f0bd 153deg,#01feff 166deg,#25d8ff 178deg,#19e4ff 180deg,#00fffd 181deg,#00efb7 182deg,#00de70 182.5deg,#00ce45 183deg,#00c224 183.5deg,#00b400 184.5deg,#0cb800 185.5deg,#00b708 187.5deg,#00e484 196deg,#00f0ba 199deg,#00ffff 210.5deg,#17e6ff 222.5deg,#18e6ff 224.5deg,#0fefff 228.5deg,#00fffd 230.5deg,#00eeb3 233.5deg,#00de71 235deg,#00cf48 237deg,#00c630 240deg,#00c52e 242deg,#00cc3f 249.5deg,#00e588 266deg,#00e99d 271deg,#00e792 273.5deg,#00dd6e 275.5deg,#00bd17 279deg,#06b600 279.5deg,#85e000 280.5deg,#b5ed00 281deg,#fdff00 282deg,#ffd300 283.5deg,#ffac00 286deg,#ff8b00 290.5deg,#ff8000 295deg,#ff8c00 299.5deg,#ffb900 304.5deg,#fff700 310deg,#fcfe00 311deg,#8be200 317.5deg,#01b400 323.5deg,#00e380 332.5deg,#00f0bb 336deg,#00fdf6 345deg,#00fefa 346.5deg,#00fcf1 348.5deg,#00f4cd 350deg,#00efb9 350.5deg,#00da66 351.5deg,#00b90e 353deg,#0ab700 353.5deg,#33c500 354.5deg,#4dce00 356deg,#50cf00 357deg,#38c700 359.5deg,#31c400 360deg)"></i><i style="--r:125px;background:conic-gradient(#26c100 0deg,#03b500 2deg,#00edad 16deg,#00f2c2 19.5deg,#00f8de 31.5deg,#03fcff 51.5deg,#03fcff 52.5deg,#00fefd 54.5deg,#00fae9 55.5deg,#00f6d7 56deg,#00f0bb 56.5deg,#00c52e 57.5deg,#28c100 58deg,#91e400 58.5deg,#d7f600 59deg,#fff300 59.5deg,#ffbf00 60.5deg,#ff9500 62deg,#ff7300 65deg,#fa5f00 70deg,#f95d00 74.5deg,#fd6900 86.5deg,#ff8c00 98deg,#ffc800 107.5deg,#fffe00 114deg,#8de300 122deg,#01b400 130deg,#00d454 139.5deg,#00e58a 146.5deg,#00f0bd 152deg,#02fdff 165deg,#26d7ff 177deg,#21dcff 178.5deg,#0fefff 179.5deg,#00fffe 180deg,#00efb5 181deg,#00dd6d 181.5deg,#00cc41 182deg,#00c020 182.5deg,#00b80a 183deg,#05b600 183.5deg,#11ba00 184.5deg,#00b605 186.5deg,#00e483 195deg,#00f0ba 198deg,#00fefc 208.5deg,#18e5ff 222deg,#18e5ff 223deg,#0ef0ff 227.5deg,#01feff 229deg,#00f3c8 231.5deg,#00f0bb 232deg,#00e177 233.5deg,#00d04b 235.5deg,#00c631 238.5deg,#00c52d 241deg,#00cd42 249deg,#00e793 266.5deg,#00e99e 270deg,#00e791 272.5deg,#00d75e 275deg,#00b80a 277.5deg,#05b600 278deg,#2fc400 279deg,#a0e800 280deg,#ecfa00 281deg,#fff800 281.5deg,#ffcf00 283deg,#ffaa00 285.5deg,#ff8b00 290deg,#ff8000 294.5deg,#ff8c00 299deg,#ffb900 304deg,#fff500 309deg,#ffff00 310deg,#8fe400 316.5deg,#02b500 322.5deg,#00e382 331.5deg,#00f0bc 335deg,#00fdf8 344deg,#00fefc 345.5deg,#00fcf1 347.5deg,#00f7dc 348.5deg,#00efb6 349.5deg,#00d962 350.5deg,#00c124 351.5deg,#00b80b 352deg,#0fb900 352.5deg,#37c600 353.5deg,#4fce00 355deg,#51cf00 356deg,#43ca00 358deg,#26c100 360deg)"></i><i style="--r:123.5px;background:conic-gradient(#18bc00 0deg,#00b502 1.5deg,#00ea9f 14deg,#00f0bc 17deg,#00f6d8 26.5deg,#02fcff 49.5deg,#04fbff 51.5deg,#00fefb 53.5deg,#00f9e4 54.5deg,#00f4ce 55deg,#00eaa2 55.5deg,#00bb13 56.5deg,#4fce00 57deg,#aceb00 57.5deg,#ecfb00 58deg,#ffe900 58.5deg,#ffba00 59.5deg,#ff9400 61deg,#ff7300 64deg,#fa5f00 69deg,#f95d00 74deg,#fd6900 86deg,#ff8f00 98deg,#ffc900 107deg,#fdff00 113.5deg,#88e100 121.5deg,#04b500 129deg,#00d65b 139.5deg,#00e68f 146deg,#00f0bd 151deg,#01feff 163.5deg,#27d5ff 176deg,#22daff 177.5deg,#10eeff 178.5deg,#00ffff 179deg,#00eeb2 180deg,#00dc6a 180.5deg,#00cb3d 181deg,#00bf1c 181.5deg,#00b606 182deg,#13ba00 183deg,#15bb00 183.5deg,#00b503 185.5deg,#00e383 194deg,#00f0ba 197deg,#00fdf6 206deg,#04fbff 209deg,#19e5ff 220.5deg,#19e5ff 221.5deg,#0fefff 226deg,#00fefb 228deg,#00f1c0 230.5deg,#00e27e 232deg,#00d14e 234deg,#00c734 236.5deg,#00c52d 239.5deg,#00cc41 247.5deg,#00ea9f 268deg,#00ea9f 268.5deg,#00e794 271deg,#00de70 273deg,#00ce45 274.5deg,#00b504 276deg,#1fbe00 276.5deg,#76db00 278.5deg,#e4f900 280deg,#fffc00 280.5deg,#ffc800 282.5deg,#ff9e00 286deg,#ff8300 291.5deg,#ff7f00 294deg,#ff8f00 299deg,#ffc000 304deg,#fff800 308.5deg,#fafe00 309.5deg,#91e400 315.5deg,#02b500 321.5deg,#00e484 330.5deg,#00f0ba 333.5deg,#00fefa 343deg,#00fffe 344.5deg,#00fdf8 346deg,#00f7da 347.5deg,#00edae 348.5deg,#00e27e 349deg,#00bf1c 350.5deg,#00b504 351deg,#3cc800 352.5deg,#52cf00 354deg,#53d000 354.5deg,#46cb00 357deg,#18bc00 360deg)"></i><i style="--r:122px;background:conic-gradient(#0ab700 0deg,#00b606 1deg,#00e897 12.5deg,#00efb9 15.5deg,#00f7d9 25.5deg,#03fcff 48deg,#05faff 50deg,#00fefa 52.5deg,#00f7dd 53.5deg,#00f2c3 54deg,#00cc3f 55deg,#0db800 55.5deg,#75db00 56deg,#c4f100 56.5deg,#ffff00 57deg,#ffc900 58deg,#ffa800 59deg,#ff8600 61deg,#fd6800 65deg,#f95d00 71.5deg,#f95d00 73.5deg,#fd6800 85deg,#ff8b00 96.5deg,#ffbf00 105deg,#fffe00 112.5deg,#8ce300 120.5deg,#06b600 128deg,#00b90c 129.5deg,#00d65b 138.5deg,#00e793 145.5deg,#00f0bd 150deg,#02fdff 162.5deg,#29d3ff 175deg,#24d9ff 176.5deg,#12ecff 177.5deg,#01feff 178deg,#00f7dc 178.5deg,#00edaf 179deg,#00db67 179.5deg,#00c939 180deg,#00bd18 180.5deg,#00b502 181deg,#19bc00 182deg,#1abd00 182.5deg,#00b400 184.5deg,#00e382 193deg,#00f0ba 196deg,#00fcf2 204deg,#04fbff 207.5deg,#19e4ff 219deg,#1ae4ff 220deg,#11edff 224.5deg,#00ffff 226.5deg,#00efb7 229.5deg,#00df73 231deg,#00cf49 233deg,#00c732 235.5deg,#00c52c 238deg,#00cc40 246deg,#00eaa0 266.5deg,#00eaa0 267.5deg,#00e791 270deg,#00dc69 272deg,#00ca3a 273.5deg,#00b90f 274.5deg,#0eb900 275deg,#59d200 276deg,#78dc00 276.5deg,#aeec00 278deg,#bcef00 278.5deg,#fdff00 279.5deg,#ffcb00 281.5deg,#ffa400 284.5deg,#ff8500 290deg,#ff7f00 293.5deg,#ff8d00 298deg,#ffb500 302.5deg,#fffb00 308deg,#ebfa00 309.5deg,#86e100 315deg,#03b500 320.5deg,#00e486 329.5deg,#00f0bb 332.5deg,#00fefc 342deg,#00ffff 343.5deg,#00fdf8 345deg,#00f6d7 346.5deg,#00f2c5 347deg,#00eba4 347.5deg,#00df74 348deg,#00bc15 349.5deg,#03b500 350deg,#32c500 351deg,#4acd00 352deg,#55d000 353.5deg,#43ca00 356.5deg,#0ab700 360deg)"></i><i style="--r:120.5px;background:conic-gradient(#00b503 0deg,#00dd6e 8.5deg,#00efb8 14.5deg,#00f7da 24.5deg,#03fcff 46deg,#05f9ff 49deg,#00ffff 51deg,#00fae9 52deg,#00f5d4 52.5deg,#00eeb4 53deg,#00c124 54deg,#35c600 54.5deg,#99e700 55deg,#daf600 55.5deg,#fff400 56deg,#ffc400 57deg,#ff9b00 58.5deg,#ff7700 61.5deg,#fa6000 66.5deg,#f95d00 72.5deg,#fd6900 84.5deg,#ff8c00 96deg,#ffc000 104.5deg,#feff00 112deg,#86e100 120deg,#00b400 127.5deg,#00d24f 136deg,#00e589 143.5deg,#00f0bd 149deg,#03fcff 161.5deg,#2bd2ff 174deg,#26d7ff 175.5deg,#13ebff 176.5deg,#01feff 177deg,#00f7dc 177.5deg,#00edac 178deg,#00d964 178.5deg,#00c835 179deg,#00bb14 179.5deg,#04b500 180deg,#16bb00 180.5deg,#1fbe00 181.5deg,#0db800 183deg,#00b605 184deg,#00e382 192deg,#00f0ba 195deg,#00fdf4 203deg,#03fbff 206deg,#1ae3ff 218deg,#1ae3ff 219deg,#10eeff 223.5deg,#00fefa 225.5deg,#00f0bd 228deg,#00e179 229.5deg,#00d14c 231.5deg,#00c630 234.5deg,#00c42c 237deg,#00cc41 245deg,#00ea9f 264.5deg,#00eaa1 266deg,#00e795 268.5deg,#00d962 271deg,#00c52f 272.5deg,#00b401 273.5deg,#91e400 275.5deg,#abeb00 276deg,#e2f800 278deg,#f7fd00 278.5deg,#ffe500 279.5deg,#ffbe00 281.5deg,#ff9a00 285deg,#ff8000 291.5deg,#ff7f00 293deg,#ff8d00 297.5deg,#ffbc00 302.5deg,#ffff00 307.5deg,#88e100 314deg,#03b500 319.5deg,#00e588 328.5deg,#00f0bc 331.5deg,#00fefc 340.5deg,#01feff 342.5deg,#00fef8 344deg,#00f5d4 345.5deg,#00f1c0 346deg,#00dc6b 347deg,#00b90e 348.5deg,#0cb800 349deg,#38c700 350deg,#53d000 351.5deg,#57d100 352.5deg,#43ca00 355.5deg,#17bc00 358.5deg,#00b503 360deg)"></i><i style="--r:119px;background:conic-gradient(#00b90e 0deg,#00df72 8deg,#00f0bb 14deg,#00f7dc 24.5deg,#03fcff 44.5deg,#06f9ff 48deg,#00fffd 50deg,#00f9e2 51deg,#00f3ca 51.5deg,#00e795 52deg,#00b708 53deg,#b1ec00 54deg,#edfb00 54.5deg,#ffeb00 55deg,#ffbf00 56deg,#ff9a00 57.5deg,#ff7800 60.5deg,#fb6200 65deg,#f95d00 72deg,#fd6900 84deg,#ff8c00 95.5deg,#ffc500 104.5deg,#fbfe00 111.5deg,#8ae200 119deg,#02b500 126.5deg,#00d65a 136.5deg,#00e68e 143deg,#00f0bd 148deg,#02fdff 160deg,#2cd0ff 173.5deg,#20ddff 175deg,#02fdff 176deg,#00f7db 176.5deg,#00eca9 177deg,#00d860 177.5deg,#00c631 178deg,#00ba0f 178.5deg,#0ab700 179deg,#1cbd00 179.5deg,#25c000 180.5deg,#00b503 183deg,#00e58b 191.5deg,#00f0ba 194deg,#00fdf6 202deg,#03fcff 204.5deg,#1ae3ff 215.5deg,#1be2ff 217.5deg,#11edff 222deg,#00fffe 224deg,#00eeb2 227deg,#00e382 228deg,#00d559 229.5deg,#00c937 232deg,#00c42b 235.5deg,#00cb3e 243deg,#00e487 257.5deg,#00eaa3 264.5deg,#00e898 267deg,#00df73 269deg,#00d04a 270.5deg,#00b80c 272deg,#12ba00 272.5deg,#a0e800 274.5deg,#e0f800 276deg,#fffd00 277.5deg,#fff700 278deg,#ffc800 280deg,#ffa400 283deg,#ff8500 288.5deg,#ff7f00 292deg,#ff8b00 296.5deg,#ffb700 301.5deg,#fffd00 306.5deg,#8be200 313deg,#03b500 318.5deg,#00e381 327deg,#00efb9 330deg,#00fefc 339deg,#02fcff 341.5deg,#00fef8 343deg,#00f5d1 344.5deg,#00f0ba 345deg,#00d963 346deg,#00c021 347deg,#00b707 347.5deg,#2cc300 348.5deg,#49cc00 349.5deg,#58d100 351deg,#58d100 351.5deg,#44cb00 354.5deg,#1abd00 357.5deg,#00b401 359deg,#00b90e 360deg)"></i><i style="--r:117.5px;background:conic-gradient(#00bd19 0deg,#00ea9f 10.5deg,#00f0bd 13.5deg,#00f8e1 25.5deg,#03fcff 42.5deg,#07f8ff 46.5deg,#00fefa 49deg,#00f7da 50deg,#00f0bd 50.5deg,#00e075 51deg,#00c733 51.5deg,#1cbd00 52deg,#81df00 52.5deg,#c8f200 53deg,#ffff00 53.5deg,#ffcd00 54.5deg,#ffa200 56deg,#ff7c00 59deg,#fb6200 64deg,#f95d00 71.5deg,#fd6900 83.5deg,#ff8d00 95deg,#ffc200 103.5deg,#ffff00 110.5deg,#8ee300 118deg,#0db800 125deg,#00b502 126deg,#00d14e 134deg,#00e68e 142deg,#00f0bd 147deg,#02fdff 159deg,#2eceff 172.5deg,#22dbff 174deg,#03fcff 175deg,#00f7db 175.5deg,#00eba6 176deg,#00d75d 176.5deg,#00c52d 177deg,#00b80b 177.5deg,#10b900 178deg,#22bf00 178.5deg,#2ac200 179.5deg,#15bb00 181deg,#00b400 182deg,#00e380 190deg,#00f0bb 193deg,#00fffe 202deg,#1be3ff 214deg,#1ce2ff 216deg,#13ebff 220.5deg,#02fdff 222.5deg,#00f8e1 224deg,#00f0ba 225.5deg,#00e177 227deg,#00d04b 229deg,#00c62f 232deg,#00c42b 234.5deg,#00cc3f 242deg,#00e484 255.5deg,#00eaa1 261.5deg,#00eba4 263deg,#00e99b 265.5deg,#00e177 267.5deg,#00d251 269deg,#03b500 271deg,#93e500 273deg,#ebfa00 275deg,#fdff00 275.5deg,#ffde00 278deg,#ffb500 280.5deg,#ff9100 285deg,#ff7f00 291deg,#ff7f00 291.5deg,#ff8e00 296.5deg,#ffb900 301deg,#ffff00 306deg,#8de300 312deg,#03b500 317.5deg,#00e383 326deg,#00f0bb 329deg,#00fffe 338deg,#04fbff 340deg,#00ffff 341.5deg,#00fbee 342.5deg,#00f4cd 343.5deg,#00eeb4 344deg,#00e381 344.5deg,#00c938 345.5deg,#00b400 346.5deg,#32c500 347.5deg,#4dce00 348.5deg,#5ad200 350deg,#4ece00 352.5deg,#1ebe00 356.5deg,#02b500 358deg,#00bd19 360deg)"></i><i style="--r:116px;background:conic-gradient(#00c224 0deg,#00ecaa 10.5deg,#00f1bf 13deg,#00f9e3 25deg,#03fcff 41deg,#08f7ff 45.5deg,#01feff 47.5deg,#00fae7 48.5deg,#00f4d0 49deg,#00eba5 49.5deg,#00bd18 50.5deg,#44cb00 51deg,#a0e800 51.5deg,#dcf700 52deg,#fff500 52.5deg,#ffc800 53.5deg,#ffa100 55deg,#ff7c00 58deg,#fb6100 63.5deg,#f95d00 71deg,#fd6900 83deg,#ff8d00 94.5deg,#ffc400 103deg,#fcfe00 110deg,#89e200 117.5deg,#07b600 124.5deg,#00b606 125.5deg,#00d251 133.5deg,#00e68d 141deg,#00f0bd 146deg,#01feff 157.5deg,#2fcdff 171deg,#2fcdff 171.5deg,#23d9ff 173deg,#03fbff 174deg,#00f7db 174.5deg,#00eba3 175deg,#00d559 175.5deg,#00c329 176deg,#00b606 176.5deg,#28c100 177.5deg,#2fc400 178.5deg,#0fb900 180.5deg,#00b605 181.5deg,#00e58a 189.5deg,#00f0bb 192deg,#00fffd 200.5deg,#1be2ff 212.5deg,#1ce1ff 215deg,#12ecff 219.5deg,#00fffe 221.5deg,#00f1c1 224deg,#00de6f 226deg,#00cf47 228deg,#00c630 230.5deg,#00c42b 233deg,#00ca3a 239.5deg,#00e383 254deg,#00eaa3 260deg,#00eba5 261.5deg,#00e898 264.5deg,#00df71 266.5deg,#00ce47 268deg,#00b708 269.5deg,#17bc00 270deg,#83e000 271.5deg,#b8ee00 272.5deg,#f4fc00 274deg,#fffc00 274.5deg,#ffe000 276.5deg,#ffa700 281deg,#ff8700 286.5deg,#ff7f00 291deg,#ff8c00 295.5deg,#ffb400 300deg,#fcfe00 305.5deg,#b6ee00 309deg,#82df00 311.5deg,#04b500 316.5deg,#00e485 325deg,#00efb7 327.5deg,#00fffe 336.5deg,#05faff 339deg,#00ffff 340.5deg,#00fbed 341.5deg,#00f3c9 342.5deg,#00eca9 343deg,#00e076 343.5deg,#00bb12 345deg,#08b700 345.5deg,#38c700 346.5deg,#51cf00 347.5deg,#5cd300 349deg,#4acd00 352deg,#0fb900 356.5deg,#00b503 357.5deg,#00c224 360deg)"></i><i style="--r:114.5px;background:conic-gradient(#00c630 0deg,#00edaf 10deg,#00f3c7 14deg,#00fae9 27deg,#03fcff 39.5deg,#08f6ff 44deg,#00fffe 46.5deg,#00f8df 47.5deg,#00f2c4 48deg,#00e484 48.5deg,#06b600 49.5deg,#69d700 50deg,#b7ee00 50.5deg,#effb00 51deg,#ffed00 51.5deg,#ffc400 52.5deg,#ff9800 54.5deg,#ff7500 58deg,#fa6000 63.5deg,#f95d00 70.5deg,#fd6900 82.5deg,#ff8e00 94deg,#ffc100 102deg,#fffe00 109deg,#8de300 116.5deg,#09b700 123.5deg,#00b605 124.5deg,#00d251 132.5deg,#00e68d 140deg,#00f0bd 145deg,#02fdff 156.5deg,#31cbff 170deg,#31cbff 170.5deg,#25d8ff 172deg,#18e5ff 172.5deg,#04fbff 173deg,#00f7db 173.5deg,#00eaa0 174deg,#00d456 174.5deg,#00c225 175deg,#00b502 175.5deg,#1dbe00 176deg,#2ec300 176.5deg,#35c600 177deg,#30c400 178deg,#00b503 180.5deg,#00e37f 188deg,#00f0bb 191deg,#00ffff 199.5deg,#1be2ff 210.5deg,#1de0ff 213.5deg,#13eaff 218deg,#02fdff 220deg,#00f5d4 222deg,#00efb9 223deg,#00e076 224.5deg,#00d04a 226.5deg,#00c631 229deg,#00c42a 232deg,#00ca3b 238.5deg,#00e382 252.5deg,#00eba4 258.5deg,#00eba6 260deg,#00e89a 263deg,#00e382 264.5deg,#00d14e 266.5deg,#00bb12 268deg,#09b700 268.5deg,#96e600 270.5deg,#eafa00 272.5deg,#fcfe00 273deg,#ffd500 276deg,#ff9900 282deg,#ff8000 288.5deg,#ff7f00 290deg,#ff8a00 294.5deg,#ffaf00 299deg,#fffb00 304.5deg,#ecfb00 305.5deg,#84e000 310.5deg,#04b500 315.5deg,#00e487 324deg,#00efb9 326.5deg,#00fffd 335deg,#06f9ff 338deg,#01feff 339.5deg,#00fbeb 340.5deg,#00f2c5 341.5deg,#00ea9f 342deg,#00dd6d 342.5deg,#00b80b 344deg,#11ba00 344.5deg,#3ec900 345.5deg,#5ad200 347deg,#5ed300 348deg,#4bcd00 351deg,#09b700 356deg,#00b400 356.5deg,#00c630 360deg)"></i><i style="--r:113px;background:conic-gradient(#00ca3b 0deg,#00edae 9deg,#00f2c3 12deg,#00f9e6 24deg,#03fcff 37.5deg,#09f5ff 43deg,#00fefa 45.5deg,#00f6d5 46.5deg,#00eeb1 47deg,#00c225 48deg,#2dc300 48.5deg,#8de300 49deg,#ccf300 49.5deg,#ffff00 50deg,#ffd100 51deg,#ffa800 52.5deg,#ff8100 55.5deg,#fb6300 61deg,#f95d00 69.5deg,#fd6700 81deg,#ff8e00 93.5deg,#ffca00 102.5deg,#fdfe00 108.5deg,#87e100 116deg,#03b500 123deg,#00d65c 133deg,#00e487 138.5deg,#00f0bd 144deg,#01feff 155deg,#33c9ff 169.5deg,#27d6ff 171deg,#05faff 172deg,#00f7db 172.5deg,#00e99d 173deg,#00d352 173.5deg,#00c020 174deg,#04b500 174.5deg,#24c000 175deg,#35c600 175.5deg,#3bc800 176deg,#2dc300 177.5deg,#00b400 179.5deg,#00e589 187.5deg,#00f0bb 190deg,#01feff 198.5deg,#1ce1ff 209.5deg,#1ee0ff 212.5deg,#15e9ff 216.5deg,#00fffe 219deg,#00f1c0 221.5deg,#00e27f 223deg,#00d557 224.5deg,#00c836 227deg,#00c42a 230.5deg,#00c42a 231deg,#00cb3d 238deg,#00e588 252deg,#00eba6 257.5deg,#00eba7 258.5deg,#00e99b 261.5deg,#00e179 263.5deg,#00d454 265deg,#00b604 267deg,#63d500 268.5deg,#a2e900 269.5deg,#f3fc00 271.5deg,#fffd00 272deg,#ffd000 275deg,#ff9400 282deg,#ff7f00 288.5deg,#ff7f00 289.5deg,#ff8d00 294.5deg,#ffb700 299deg,#fffd00 304deg,#b1ec00 307.5deg,#87e100 309.5deg,#04b500 314.5deg,#00e58a 323deg,#00f0ba 325.5deg,#00ffff 334deg,#07f7ff 337deg,#01feff 338.5deg,#00fae9 339.5deg,#00f1c0 340.5deg,#00da65 341.5deg,#00c020 342.5deg,#00b605 343deg,#31c400 344deg,#4fce00 345deg,#5fd400 346.5deg,#5fd400 347deg,#4ccd00 350deg,#02b500 355.5deg,#00ca3b 360deg)"></i><i style="--r:111.5px;background:conic-gradient(#00cf47 0deg,#00efb9 9deg,#00f7dc 18.5deg,#03fcff 36deg,#0af4ff 41.5deg,#01fdff 44deg,#00fdf6 44.5deg,#00f3ca 45.5deg,#00e795 46deg,#00b90d 47deg,#50cf00 47.5deg,#a5e900 48deg,#ddf700 48.5deg,#fff700 49deg,#ffbe00 50.5deg,#ff9700 52.5deg,#ff7300 56.5deg,#fa5f00 62.5deg,#f95d00 69deg,#fc6600 80deg,#ff8a00 92deg,#ffc000 100.5deg,#fffe00 107.5deg,#8be200 115deg,#0eb900 121.5deg,#00b502 122.5deg,#00d24f 130.5deg,#00e58c 138deg,#00f0bd 143deg,#02fdff 154deg,#35c7ff 168.5deg,#29d4ff 170deg,#1be2ff 170.5deg,#06f9ff 171deg,#00f7db 171.5deg,#00e89a 172deg,#00d14f 172.5deg,#00be1c 173deg,#0bb800 173.5deg,#2bc200 174deg,#3bc800 174.5deg,#41ca00 175deg,#32c500 176.5deg,#03b500 178.5deg,#00e589 186.5deg,#00f0bb 189deg,#00fffe 197deg,#1be2ff 207deg,#1edfff 211deg,#17e7ff 215deg,#02fcff 217.5deg,#00fbed 218.5deg,#00efb8 220.5deg,#00e076 222deg,#00d04a 224deg,#00c52e 227deg,#00c329 229.5deg,#00ca3a 236deg,#00e484 250deg,#00eba6 256deg,#00eca8 257deg,#00e99c 260deg,#00e27b 262deg,#00d04a 264deg,#00b90e 265.5deg,#0eb900 266deg,#98e600 268deg,#eafa00 270deg,#fafe00 270.5deg,#ffda00 273deg,#ffbf00 276deg,#ff9300 281.5deg,#ff7f00 287.5deg,#ff7e00 289deg,#ff8e00 294deg,#ffb800 298.5deg,#feff00 303.5deg,#aaeb00 307deg,#7cdd00 309deg,#05b600 313.5deg,#00c328 316deg,#00e381 321.5deg,#00f0bc 324.5deg,#00fffe 332.5deg,#08f6ff 335.5deg,#01feff 337.5deg,#00fae7 338.5deg,#00f0ba 339.5deg,#00d75c 340.5deg,#00bd19 341.5deg,#02b500 342deg,#37c600 343deg,#53d000 344deg,#61d400 345.5deg,#61d400 346deg,#4ccd00 349deg,#09b700 354deg,#00b604 355deg,#00cf47 360deg)"></i><i style="--r:110px;background:conic-gradient(#00d353 0deg,#00efb9 8deg,#00f8de 18deg,#03fcff 34.5deg,#0bf4ff 40.5deg,#00fffe 43deg,#00f7db 44deg,#00f0bc 44.5deg,#00c938 45.5deg,#11ba00 46deg,#6fd900 46.5deg,#b7ee00 47deg,#ebfa00 47.5deg,#fff100 48deg,#ffca00 49deg,#ff9f00 51deg,#ff7e00 54deg,#fb6200 60deg,#f95d00 68.5deg,#fc6700 79.5deg,#ff8b00 91.5deg,#ffbd00 99.5deg,#feff00 107deg,#85e000 114.5deg,#08b700 121deg,#00b606 122deg,#00d353 130deg,#00e58c 137deg,#00f0bd 142deg,#02fcff 153deg,#37c5ff 167.5deg,#2bd2ff 169deg,#07f8ff 170deg,#00f7db 170.5deg,#00e896 171deg,#00d04b 171.5deg,#00bd17 172deg,#12ba00 172.5deg,#32c500 173deg,#42ca00 173.5deg,#48cc00 174deg,#37c600 175.5deg,#00b504 178deg,#00e588 185.5deg,#00f0bb 188deg,#00ffff 196deg,#1be3ff 205deg,#1fdeff 209.5deg,#16e7ff 214deg,#00fffe 216.5deg,#00f1c0 219deg,#00e37f 220.5deg,#00d14f 222.5deg,#00c732 225deg,#00c329 228.5deg,#00cb3c 235.5deg,#00e383 248.5deg,#00eba7 254.5deg,#00eca9 256deg,#00e99e 258.5deg,#00e27d 260.5deg,#00d14d 262.5deg,#00b401 264.5deg,#89e200 266.5deg,#b9ee00 267.5deg,#f2fc00 269deg,#fffd00 269.5deg,#ffcd00 273deg,#ff9100 281deg,#ff7e00 287.5deg,#ff7e00 288deg,#ff8c00 293deg,#ffae00 297deg,#fffa00 302.5deg,#edfb00 303.5deg,#a2e900 306.5deg,#06b600 312.5deg,#00bc17 314deg,#00e68e 321deg,#00efb8 323deg,#00fffd 331deg,#0af5ff 334.5deg,#01feff 336.5deg,#00f9e4 337.5deg,#00eeb2 338.5deg,#00e27b 339deg,#00c630 340deg,#00bb12 340.5deg,#0bb800 341deg,#3dc800 342deg,#56d100 343deg,#63d500 344.5deg,#52cf00 347.5deg,#11ba00 352.5deg,#01b400 353.5deg,#00c938 358deg,#00d353 360deg)"></i><i style="--r:108.5px;background:conic-gradient(#00d75e 0deg,#00efb9 7deg,#00f7dd 16.5deg,#03fcff 32.5deg,#0bf3ff 39deg,#04fbff 41.5deg,#00fefb 42deg,#00f5d1 43deg,#00eba7 43.5deg,#00c01f 44.5deg,#32c500 45deg,#8de300 45.5deg,#c8f200 46deg,#f8fd00 46.5deg,#ffd700 47.5deg,#ffa600 49.5deg,#ff7e00 53deg,#fb6200 59deg,#f95d00 68deg,#fd6900 80deg,#ff8b00 91deg,#ffbe00 99deg,#fffd00 106deg,#8ae200 113.5deg,#0ab700 120deg,#00b605 121deg,#00d352 129deg,#00e486 135.5deg,#00f0bd 141deg,#01feff 151.5deg,#39c3ff 166.5deg,#34c7ff 167.5deg,#1edfff 168.5deg,#08f7ff 169deg,#00f7db 169.5deg,#00cf47 170.5deg,#00bb13 171deg,#19bc00 171.5deg,#39c700 172deg,#49cc00 172.5deg,#4ece00 173deg,#3cc800 174.5deg,#00b401 177deg,#00e488 184.5deg,#00f0bb 187deg,#00fffd 194.5deg,#1ce1ff 204.5deg,#20ddff 208.5deg,#16e8ff 213deg,#00fefa 215.5deg,#00f0ba 218deg,#00e076 219.5deg,#00cd43 222deg,#00c42c 225deg,#00c328 227deg,#00c938 233.5deg,#00e485 247.5deg,#00eca9 253.5deg,#00ecaa 254.5deg,#00eaa0 257deg,#00e380 259deg,#00cc41 261.5deg,#00b707 263deg,#15bb00 263.5deg,#99e700 265.5deg,#e9fa00 267.5deg,#f9fe00 268deg,#ffe900 269.5deg,#ffbe00 273.5deg,#ff8900 282deg,#ff7e00 287.5deg,#ff8c00 292.5deg,#ffbb00 297.5deg,#fffd00 302deg,#65d600 308deg,#06b600 311.5deg,#00bc17 313deg,#00e486 319.5deg,#00f0ba 322deg,#01feff 330deg,#0bf4ff 333.5deg,#01feff 335.5deg,#00f8e1 336.5deg,#00f3ca 337deg,#00eba7 337.5deg,#00df72 338deg,#00c329 339deg,#00b80b 339.5deg,#13ba00 340deg,#42ca00 341deg,#60d400 342.5deg,#64d500 343.5deg,#58d100 346deg,#18bc00 351deg,#01b400 352.5deg,#00cb3d 357.5deg,#00d75e 360deg)"></i><i style="--r:107px;background:conic-gradient(#00dc69 0deg,#00efb9 6deg,#00f7dc 15deg,#02fdff 30.5deg,#0cf2ff 38deg,#02fdff 40.5deg,#00fdf5 41deg,#00f8e2 41.5deg,#00f2c6 42deg,#00e58a 42.5deg,#00b707 43.5deg,#a3e900 44.5deg,#d7f600 45deg,#fffc00 45.5deg,#ffc500 47deg,#ff9700 49.5deg,#ff7200 54deg,#fa5f00 60deg,#f95d00 67.5deg,#fd6900 79.5deg,#ff8e00 91deg,#ffc300 99deg,#ffff00 105.5deg,#8ee300 112.5deg,#04b500 119.5deg,#00d65a 129deg,#00e58b 135deg,#00f0bd 140deg,#02fdff 150.5deg,#3bc1ff 165.5deg,#36c5ff 166.5deg,#20ddff 167.5deg,#09f5ff 168deg,#00f7db 168.5deg,#00cd43 169.5deg,#00b90e 170deg,#20bf00 170.5deg,#40c900 171deg,#50cf00 171.5deg,#55d000 172deg,#42ca00 173.5deg,#02b500 176deg,#00e487 183.5deg,#00f0bc 186deg,#00ffff 193.5deg,#1de0ff 203deg,#20ddff 207deg,#18e6ff 211.5deg,#02fdff 214deg,#00f1c1 216.5deg,#00de71 218.5deg,#00cf47 220.5deg,#00c52d 223.5deg,#00c328 226deg,#00c939 232.5deg,#00e484 246deg,#00eca9 252deg,#00ecab 253.5deg,#00e99e 256deg,#00d861 259deg,#00c021 261deg,#00b90d 261.5deg,#0cb800 262deg,#8ae200 264deg,#cdf300 265.5deg,#ffff00 267deg,#ffce00 270.5deg,#ff9600 278.5deg,#ff7f00 285deg,#ff7e00 286.5deg,#ff8a00 291.5deg,#ffb100 296deg,#ffff00 301.5deg,#75db00 306.5deg,#07b600 310.5deg,#00b90e 311.5deg,#00e588 318.5deg,#00f0bb 321deg,#00ffff 328.5deg,#0cf2ff 332.5deg,#00ffff 334.5deg,#00f8de 335.5deg,#00f2c6 336deg,#00e99c 336.5deg,#00dc69 337deg,#00c121 338deg,#00b605 338.5deg,#34c500 339.5deg,#54d000 340.5deg,#65d600 342deg,#66d600 342.5deg,#54d000 345.5deg,#11ba00 350.5deg,#01b400 351.5deg,#00d049 357.5deg,#00dc69 360deg)"></i><i style="--r:105.5px;background:conic-gradient(#00e074 0deg,#00efb9 5deg,#00f8de 14.5deg,#02fdff 29deg,#0df1ff 37deg,#06f9ff 39deg,#00fffe 39.5deg,#00f6d8 40.5deg,#00eeb4 41deg,#00c630 42deg,#18bc00 42.5deg,#71da00 43deg,#b4ed00 43.5deg,#e5f900 44deg,#fff600 44.5deg,#ffc400 46deg,#ff9e00 48deg,#ff7800 52deg,#fa6000 58.5deg,#f95d00 67deg,#fd6800 78.5deg,#ff8c00 90deg,#ffc100 98deg,#fbfe00 105deg,#88e100 112deg,#07b600 118.5deg,#00b707 119.5deg,#00d251 127deg,#00e58b 134deg,#00f0bd 139deg,#03fcff 149.5deg,#3dbfff 164.5deg,#31cbff 166deg,#22dbff 166.5deg,#0af4ff 167deg,#00f7dc 167.5deg,#00e68d 168deg,#00cc40 168.5deg,#00b709 169deg,#28c100 169.5deg,#47cc00 170deg,#57d100 170.5deg,#5bd200 171deg,#52cf00 172deg,#06b600 175deg,#00bd18 176.5deg,#00e486 182.5deg,#00f0bc 185deg,#01feff 192.5deg,#1de0ff 201.5deg,#21dcff 206deg,#17e6ff 210.5deg,#00fffe 213deg,#00f0bd 215.5deg,#00e179 217deg,#00d14c 219deg,#00c52e 222deg,#00c328 225deg,#00c939 231.5deg,#00e486 245deg,#00ecab 251deg,#00edac 252deg,#00eaa2 254.5deg,#00e589 256deg,#00cf48 258.5deg,#04b500 260.5deg,#9ce700 263deg,#f7fd00 265.5deg,#fff300 266.5deg,#ffc800 270deg,#ff9100 278.5deg,#ff7e00 285deg,#ff7e00 286deg,#ff8b00 291deg,#ffb300 295.5deg,#fffa00 300.5deg,#edfb00 301.5deg,#8de300 305deg,#4dce00 307deg,#08b700 309.5deg,#00b90d 310.5deg,#00e58a 317.5deg,#00f0bd 320deg,#01feff 327.5deg,#0df1ff 331.5deg,#00ffff 333.5deg,#00f7da 334.5deg,#00f1c0 335deg,#00d861 336deg,#00be1a 337deg,#02b500 337.5deg,#3ac700 338.5deg,#57d100 339.5deg,#67d600 341deg,#68d700 341.5deg,#55d000 344.5deg,#09b700 350deg,#00b605 351deg,#00e074 360deg)"></i><i style="--r:104px;background:conic-gradient(#00e382 0deg,#00efb9 4deg,#00f7dd 13deg,#02fcff 27.5deg,#0ef0ff 35.5deg,#04fbff 38deg,#00fef9 38.5deg,#00fae7 39deg,#00f4cc 39.5deg,#00e99b 40deg,#00bd18 41deg,#38c700 41.5deg,#8de300 42deg,#c4f100 42.5deg,#f1fc00 43deg,#fff100 43.5deg,#ffc200 45deg,#ff9800 47.5deg,#ff7300 52deg,#fa5f00 59deg,#f95d00 66.5deg,#fd6700 77.5deg,#ff8a00 89deg,#ffbe00 97deg,#fffe00 104deg,#8ce300 111deg,#09b700 117.5deg,#00b400 118deg,#00d455 126.5deg,#00e58a 133deg,#00f0bd 138deg,#01feff 148deg,#3ebdff 163deg,#3fbdff 163.5deg,#33c9ff 165deg,#24d9ff 165.5deg,#0bf3ff 166deg,#00f7dc 166.5deg,#00e58a 167deg,#00ca3c 167.5deg,#00b604 168deg,#2fc400 168.5deg,#4fce00 169deg,#5ed300 169.5deg,#62d500 170deg,#4dce00 171.5deg,#00b502 174.5deg,#00e486 181.5deg,#00f0bc 184deg,#00fffe 191deg,#1edfff 200.5deg,#21dbff 204.5deg,#19e4ff 209deg,#00fefb 212deg,#00efb8 214.5deg,#00df73 216deg,#00cf49 218deg,#00c52d 221deg,#00c327 223.5deg,#00c938 230deg,#00e381 243deg,#00ecab 249.5deg,#00edae 251deg,#00eaa0 253.5deg,#00e484 255deg,#00ca3c 257.5deg,#00b503 259deg,#94e500 261.5deg,#eefb00 264deg,#fdff00 264.5deg,#ffcb00 268.5deg,#ffa300 274.5deg,#ff8300 281.5deg,#ff7e00 285.5deg,#ff8c00 290.5deg,#ffb500 295deg,#fffd00 300deg,#97e600 304deg,#4fce00 306deg,#08b700 308.5deg,#00b90d 309.5deg,#00e381 316deg,#00efb9 318.5deg,#01feff 326deg,#0ff0ff 330deg,#06f8ff 332deg,#00fffe 332.5deg,#00f6d6 333.5deg,#00f0bb 334deg,#00e484 334.5deg,#00c734 335.5deg,#00bb13 336deg,#0ab700 336.5deg,#3fc900 337.5deg,#5bd200 338.5deg,#69d700 340deg,#69d700 340.5deg,#56d100 343.5deg,#09b700 349deg,#00b605 350deg,#00e382 360deg)"></i><i style="--r:102.5px;background:conic-gradient(#00e791 0deg,#00f0b9 3deg,#00f8df 12.5deg,#03fcff 26deg,#0fefff 34.5deg,#08f7ff 36.5deg,#02fdff 37deg,#00fcf3 37.5deg,#00f1bf 38.5deg,#00cc3f 39.5deg,#00b400 40deg,#57d100 40.5deg,#a2e900 41deg,#fcfe00 42deg,#ffcd00 43.5deg,#ffa500 45.5deg,#ff7d00 49.5deg,#fa6100 56.5deg,#f95d00 66deg,#fd6800 77deg,#ff8b00 88.5deg,#ffbf00 96.5deg,#fcfe00 103.5deg,#86e100 110.5deg,#03b500 117deg,#00d454 125.5deg,#00e68f 132.5deg,#00f0bd 137deg,#02fdff 147deg,#41baff 162.5deg,#3dbeff 163.5deg,#26d7ff 164.5deg,#0df2ff 165deg,#00f7dc 165.5deg,#00c938 166.5deg,#01b400 167deg,#37c600 167.5deg,#56d100 168deg,#65d600 168.5deg,#69d700 169deg,#5ed300 170deg,#01b400 173.5deg,#00e485 180.5deg,#00f0bc 183deg,#00ffff 190deg,#1de0ff 198.5deg,#22dbff 203.5deg,#19e5ff 208deg,#02fdff 210.5deg,#00f4d0 212.5deg,#00eeb1 213.5deg,#00e380 214.5deg,#00d558 216deg,#00c835 218.5deg,#00c327 222deg,#00c327 222.5deg,#00c938 229deg,#00e383 242deg,#00edad 248.5deg,#00edaf 250deg,#00eba5 252deg,#00e37f 254deg,#00cd44 256deg,#00b80a 257.5deg,#10b900 258deg,#a1e900 260.5deg,#f6fd00 263deg,#fffc00 263.5deg,#ffca00 267.5deg,#ffa200 273.5deg,#ff8000 282deg,#ff7e00 284.5deg,#ff8a00 289.5deg,#ffb100 294deg,#feff00 299.5deg,#8fe400 303.5deg,#34c500 306deg,#00b503 308deg,#00e483 315deg,#00f0ba 317.5deg,#00ffff 324.5deg,#10eeff 329deg,#06f8ff 331deg,#00fefd 331.5deg,#00f5d3 332.5deg,#00eeb4 333deg,#00e179 333.5deg,#00c42c 334.5deg,#00b90d 335deg,#12ba00 335.5deg,#44cb00 336.5deg,#65d600 338deg,#6bd800 339.5deg,#57d100 342.5deg,#11ba00 347.5deg,#01b400 348.5deg,#00e17a 358.5deg,#00e791 360deg)"></i><i style="--r:101px;background:conic-gradient(#00eaa0 0deg,#00f0bc 2.5deg,#00f8de 11deg,#03fcff 24.5deg,#0fefff 33deg,#06f9ff 35.5deg,#00fffd 36deg,#00f5d2 37deg,#00eca9 37.5deg,#00d963 38deg,#00c327 38.5deg,#21bf00 39deg,#74db00 39.5deg,#b3ed00 40deg,#dff700 40.5deg,#fffb00 41deg,#ffcb00 42.5deg,#ff9e00 45deg,#ff7700 49.5deg,#fa6000 56.5deg,#f95d00 65.5deg,#fd6800 76.5deg,#ff8900 87.5deg,#ffbc00 95.5deg,#fffe00 102.5deg,#8be200 109.5deg,#0eb900 115.5deg,#00b503 116.5deg,#00d558 125deg,#00e58a 131deg,#00f0bd 136deg,#03fcff 146deg,#42b9ff 161deg,#43b8ff 161.5deg,#37c4ff 163deg,#28d5ff 163.5deg,#0ef0ff 164deg,#00f7dd 164.5deg,#00e484 165deg,#00c834 165.5deg,#08b700 166deg,#3fc900 166.5deg,#5ed300 167deg,#6dd800 167.5deg,#70d900 168deg,#64d500 169deg,#14bb00 172deg,#05b600 172.5deg,#00c52e 175deg,#00e484 179.5deg,#00f0bc 182deg,#00fffd 188.5deg,#1fdeff 198deg,#23daff 202deg,#18e5ff 207deg,#00ffff 209.5deg,#00f1be 212deg,#00e27a 213.5deg,#00d04c 215.5deg,#00c630 218deg,#00c226 221.5deg,#00ca3a 228.5deg,#00e589 241.5deg,#00edad 247deg,#00edb0 248.5deg,#00eba3 251deg,#00e588 252.5deg,#00cb3d 255deg,#05b600 256.5deg,#99e700 259deg,#effb00 261.5deg,#fdff00 262deg,#ffc900 266.5deg,#ff9f00 273deg,#ff7f00 281.5deg,#ff7e00 284deg,#ff8b00 289deg,#ffb300 293.5deg,#fffb00 298.5deg,#ebfa00 299.5deg,#87e100 303deg,#27c100 305.5deg,#00b503 307deg,#00e486 314deg,#00f0bc 316.5deg,#01feff 323.5deg,#11edff 328deg,#06f8ff 330deg,#00fefb 330.5deg,#00f4ce 331.5deg,#00eca9 332deg,#00de71 332.5deg,#00c225 333.5deg,#00b707 334deg,#34c500 335deg,#57d100 336deg,#6bd800 337.5deg,#6cd800 338deg,#5dd300 341deg,#1abd00 346deg,#01b400 347.5deg,#00e381 358deg,#00eaa0 360deg)"></i><i style="--r:99.5px;background:conic-gradient(#00edae 0deg,#00f2c2 2.5deg,#00f9e5 12.5deg,#03fcff 23deg,#10eeff 32deg,#09f5ff 34deg,#00fdf7 35deg,#00f2c5 36deg,#00d04c 37deg,#00ba0f 37.5deg,#40c900 38deg,#8fe400 38.5deg,#c1f000 39deg,#eafa00 39.5deg,#fff600 40deg,#ffbe00 42deg,#ff9300 45deg,#ff7000 50deg,#f95e00 57.5deg,#f95d00 65deg,#fd6800 76deg,#ff8c00 87.5deg,#ffbd00 95deg,#fdff00 102deg,#8fe400 108.5deg,#08b700 115deg,#00b707 116deg,#00d557 124deg,#00e68f 130.5deg,#00f1c0 135.5deg,#02fdff 144.5deg,#44b7ff 160deg,#45b6ff 160.5deg,#3ac2ff 162deg,#2ad3ff 162.5deg,#0fefff 163deg,#00f7dd 163.5deg,#00e381 164deg,#00c630 164.5deg,#0fb900 165deg,#47cc00 165.5deg,#66d600 166deg,#75db00 166.5deg,#78dc00 167deg,#60d400 168.5deg,#00b504 172deg,#00e484 178.5deg,#00eeb5 180.5deg,#00fffe 187.5deg,#1fdeff 196.5deg,#23d9ff 200.5deg,#1ae3ff 205.5deg,#00fefc 208.5deg,#00efb9 211deg,#00e076 212.5deg,#00d049 214.5deg,#00c62f 217deg,#00c226 220.5deg,#00ca3b 227.5deg,#00e484 239.5deg,#00edad 245.5deg,#00eeb1 247.5deg,#00eaa2 250deg,#00e483 251.5deg,#00cf49 253.5deg,#00b80b 255deg,#11ba00 255.5deg,#71da00 257deg,#a4e900 258deg,#f6fd00 260.5deg,#fffd00 261deg,#ffcc00 265deg,#ffa300 271deg,#ff7f00 281deg,#ff7d00 283deg,#ff8900 288deg,#ffaf00 292.5deg,#fffe00 298deg,#91e400 302deg,#0bb800 305.5deg,#00b502 306deg,#00e588 313deg,#00f0be 315.5deg,#00ffff 322deg,#13ebff 327deg,#06f9ff 329deg,#00fef9 329.5deg,#00f3ca 330.5deg,#00eaa0 331deg,#00dc6a 331.5deg,#00bf1f 332.5deg,#00b401 333deg,#3ac700 334deg,#5ad200 335deg,#6cd800 336.5deg,#6ed900 337deg,#5ed300 340deg,#22bf00 344.5deg,#01b400 346.5deg,#00e381 357deg,#00edae 360deg)"></i><i style="--r:98px;background:conic-gradient(#00f0ba 0deg,#00f7dc 8deg,#03fcff 22deg,#11edff 30.5deg,#08f6ff 33deg,#01feff 33.5deg,#00fcf1 34deg,#00f7d9 34.5deg,#00efb6 35deg,#00df73 35.5deg,#03b500 36.5deg,#56d100 37deg,#9de800 37.5deg,#f1fc00 38.5deg,#fff400 39deg,#ffbe00 41deg,#ff9300 44deg,#ff7100 49deg,#fa5f00 56deg,#f95c00 64deg,#fd6800 75.5deg,#ff8a00 86.5deg,#ffb600 93.5deg,#fffd00 101deg,#89e200 108deg,#0ab700 114deg,#00b605 115deg,#00d353 122.5deg,#00e589 129deg,#00f1c0 134.5deg,#02fcff 143.5deg,#46b4ff 159deg,#47b3ff 159.5deg,#44b7ff 160.5deg,#3cbfff 161deg,#2cd0ff 161.5deg,#11edff 162deg,#00f8de 162.5deg,#00e27e 163deg,#00c52c 163.5deg,#16bb00 164deg,#4fce00 164.5deg,#6ed900 165deg,#7dde00 165.5deg,#7fde00 166deg,#72da00 167deg,#00b401 171deg,#00e383 177.5deg,#00f0bd 180deg,#01feff 186.5deg,#1fdeff 195deg,#24d9ff 199.5deg,#1ae4ff 204.5deg,#03fcff 207deg,#00fbec 208deg,#00eeb4 210deg,#00df72 211.5deg,#00cc40 214deg,#00c329 217deg,#00c226 219deg,#00c834 225deg,#00e381 238deg,#00edac 244deg,#00eeb2 246deg,#00eba7 248.5deg,#00e37f 250.5deg,#00cd43 252.5deg,#00b504 254deg,#9be700 256.5deg,#eefb00 259deg,#fcfe00 259.5deg,#ffc700 264.5deg,#ff9e00 271deg,#ff7e00 280.5deg,#ff7d00 282.5deg,#ff8a00 287.5deg,#ffb100 292deg,#fbfe00 297.5deg,#88e100 301.5deg,#00b400 305deg,#00e58a 312deg,#00efb9 314deg,#00fffe 320.5deg,#14eaff 326deg,#0df2ff 327.5deg,#00fdf8 328.5deg,#00f2c5 329.5deg,#00d962 330.5deg,#00bd18 331.5deg,#06b600 332deg,#3fc900 333deg,#66d600 334.5deg,#6fd900 336deg,#5fd400 339deg,#23c000 343.5deg,#01b400 345.5deg,#00e381 356deg,#00f0ba 360deg)"></i><i style="--r:96.5px;background:conic-gradient(#00f1c0 0deg,#00f8e1 8.5deg,#03fcff 20.5deg,#12ecff 29.5deg,#0cf2ff 31.5deg,#00fffe 32.5deg,#00f5d2 33.5deg,#00eca8 34deg,#00da65 34.5deg,#00c42c 35deg,#15bb00 35.5deg,#64d500 36deg,#a5ea00 36.5deg,#f4fc00 37.5deg,#fff300 38deg,#ffbf00 40deg,#ff9400 43deg,#ff7200 48deg,#fa5f00 55deg,#f95c00 63.5deg,#fd6800 75deg,#ff8d00 86.5deg,#ffc000 94deg,#ffff00 100.5deg,#8ee300 107deg,#0db800 113deg,#00b504 114deg,#00d352 121.5deg,#00e68e 128.5deg,#00f1c0 133.5deg,#03fcff 142.5deg,#49b2ff 158deg,#49b1ff 158.5deg,#46b4ff 159.5deg,#2eceff 160.5deg,#12ebff 161deg,#00f8de 161.5deg,#00e27b 162deg,#00c328 162.5deg,#1ebe00 163deg,#57d100 163.5deg,#77dc00 164deg,#85e000 164.5deg,#87e100 165deg,#6dd800 166.5deg,#03b500 170deg,#00e382 176.5deg,#00f0bd 179deg,#00fffd 185deg,#1fdeff 193.5deg,#25d8ff 198.5deg,#19e4ff 203.5deg,#01feff 206deg,#00f1c0 208.5deg,#00e37f 210deg,#00d14e 212deg,#00c630 214.5deg,#00c225 218deg,#00c937 224.5deg,#00e27f 236.5deg,#00edae 243deg,#00eeb3 245deg,#00ecab 247deg,#00e589 249deg,#00cb3d 251.5deg,#05b600 253deg,#89e200 255deg,#b6ee00 256deg,#f4fc00 258deg,#fffe00 258.5deg,#ffce00 262.5deg,#ffa200 269deg,#ff7f00 279.5deg,#ff7d00 281.5deg,#ff8b00 287deg,#ffb300 291.5deg,#fffd00 296.5deg,#a1e900 300deg,#42ca00 302.5deg,#08b700 304deg,#00bc14 305deg,#00e68c 311deg,#00f0bb 313deg,#01feff 319.5deg,#15e8ff 324.5deg,#0df2ff 326.5deg,#05faff 327deg,#00fdf5 327.5deg,#00f1bf 328.5deg,#00d65b 329.5deg,#00bb12 330.5deg,#0db800 331deg,#43ca00 332deg,#60d400 333deg,#70d900 334.5deg,#71da00 335deg,#60d400 338deg,#2bc200 342deg,#01b400 344.5deg,#00e380 355deg,#00f0ba 359deg,#00f1c0 360deg)"></i><i style="--r:95px;background:conic-gradient(#00f2c6 0deg,#00fae7 9.5deg,#03fcff 19deg,#13eaff 28deg,#0cf2ff 30.5deg,#00fefb 31.5deg,#00f3ca 32.5deg,#00e897 33deg,#00c01f 34deg,#25c000 34.5deg,#71da00 35deg,#aceb00 35.5deg,#f7fd00 36.5deg,#ffe200 37.5deg,#ffaf00 40deg,#ff8800 43.5deg,#fe6b00 49deg,#f95e00 56.5deg,#f95c00 63deg,#fd6900 74.5deg,#ff8b00 85.5deg,#ffc100 93.5deg,#fbfe00 100deg,#87e100 106.5deg,#06b600 112.5deg,#00b90f 114deg,#00d65a 121.5deg,#00e588 127deg,#00f0bd 132deg,#02fdff 141deg,#4bafff 156.5deg,#4dadff 157.5deg,#4ab0ff 158.5deg,#32caff 159.5deg,#15e9ff 160deg,#00f8e0 160.5deg,#00e179 161deg,#00c225 161.5deg,#25c000 162deg,#5fd400 162.5deg,#7fde00 163deg,#8de300 163.5deg,#8fe400 164deg,#74db00 165.5deg,#08b700 169deg,#00ba10 170deg,#00e382 175.5deg,#00f0bd 178deg,#00ffff 184deg,#1fdeff 191.5deg,#26d6ff 197deg,#1ce1ff 202deg,#00ffff 205deg,#00f0bd 207.5deg,#00e27b 209deg,#00d14c 211deg,#00c52c 214deg,#00c225 217deg,#00c937 223.5deg,#00e380 235.5deg,#00edae 241.5deg,#00eeb4 244deg,#00ecaa 246deg,#00e792 247.5deg,#00d04a 250deg,#00b90d 251.5deg,#0eb900 252deg,#91e400 254deg,#def700 256deg,#f9fe00 257deg,#ffed00 258.5deg,#ffbd00 263.5deg,#ff9300 271.5deg,#ff7d00 280.5deg,#ff7d00 281deg,#ff8a00 286deg,#ffaa00 290deg,#fdff00 296deg,#88e100 300deg,#00b502 303.5deg,#00cb3d 306deg,#00e382 309.5deg,#00f0bd 312deg,#00ffff 318deg,#18e6ff 323.5deg,#0df1ff 325.5deg,#05faff 326deg,#00fcf3 326.5deg,#00f0ba 327.5deg,#00e37f 328deg,#00c52d 329deg,#00b90d 329.5deg,#13ba00 330deg,#47cc00 331deg,#62d500 332deg,#71da00 333.5deg,#72da00 334deg,#61d400 337deg,#2cc300 341deg,#02b500 343.5deg,#00e589 354.5deg,#00f0ba 358deg,#00f2c6 360deg)"></i><i style="--r:93.5px;background:conic-gradient(#00f4cc 0deg,#01feff 16deg,#16e8ff 27deg,#0cf2ff 29.5deg,#00fdf8 30.5deg,#00f1c1 31.5deg,#00d04a 32.5deg,#00bb12 33deg,#35c600 33.5deg,#7ede00 34deg,#b2ed00 34.5deg,#f9fe00 35.5deg,#ffd600 37deg,#ffa200 40deg,#ff7b00 44.5deg,#fa6100 52deg,#f95c00 62.5deg,#fd6900 74deg,#ff8c00 85deg,#ffbe00 92.5deg,#ffff00 99deg,#8ce300 105.5deg,#09b700 111.5deg,#00b400 112deg,#00cf48 118.5deg,#00e68d 126.5deg,#00f1c1 131.5deg,#02fdff 139.5deg,#50aaff 155.5deg,#4fa7ff 156.5deg,#50aaff 157.5deg,#48b3ff 158deg,#37c5ff 158.5deg,#18e5ff 159deg,#00f9e2 159.5deg,#00e177 160deg,#00c021 160.5deg,#2dc300 161deg,#67d600 161.5deg,#87e100 162deg,#95e600 162.5deg,#97e600 163deg,#88e100 164deg,#00b502 168.5deg,#00e68e 175deg,#00f0be 177deg,#00fffe 182.5deg,#22dbff 190.5deg,#29d3ff 196deg,#1edfff 201deg,#00fffe 204deg,#00f0b9 206.5deg,#00e177 208deg,#00d04b 210deg,#00c52e 212.5deg,#00c224 216deg,#00ca39 223deg,#00e382 234.5deg,#00edaf 240.5deg,#00efb5 242.5deg,#00ecaa 245deg,#00e68f 246.5deg,#00ce45 249deg,#00b607 250.5deg,#17bc00 251deg,#97e600 253deg,#e1f800 255deg,#feff00 256deg,#ffc700 261deg,#ff9b00 268.5deg,#ff7d00 279deg,#ff7d00 280deg,#ff8800 285deg,#ffac00 289.5deg,#fffc00 295deg,#dbf600 296.5deg,#91e400 299deg,#05b600 302.5deg,#00cb3e 305deg,#00e484 308.5deg,#00efb7 310.5deg,#00ffff 316.5deg,#1ae3ff 322deg,#1be2ff 322.5deg,#0fefff 324.5deg,#05faff 325deg,#00fcf2 325.5deg,#00eeb2 326.5deg,#00e076 327deg,#00c327 328deg,#00b707 328.5deg,#36c600 329.5deg,#5ad200 330.5deg,#70d900 332deg,#73da00 333deg,#67d600 335.5deg,#35c600 339.5deg,#02b500 342.5deg,#00e792 354deg,#00f0bb 357deg,#00f4cc 360deg)"></i><i style="--r:92px;background:conic-gradient(#00f5d2 0deg,#02fdff 15deg,#18e5ff 26deg,#0df2ff 28.5deg,#05faff 29deg,#00fdf4 29.5deg,#00f7da 30deg,#00eeb5 30.5deg,#00df73 31deg,#00b606 32deg,#89e200 33deg,#b8ee00 33.5deg,#fcfe00 34.5deg,#ffc100 37deg,#ff9200 40.5deg,#ff6e00 46.5deg,#f95e00 54.5deg,#f95c00 62deg,#fd6900 73.5deg,#ff8c00 84.5deg,#ffbb00 91.5deg,#fcfe00 98.5deg,#85e000 105deg,#02b500 111deg,#00d250 118.5deg,#00e792 126deg,#00f1c1 130.5deg,#01feff 138deg,#50aaff 153deg,#4ea2ff 155.5deg,#4fa5ff 156.5deg,#4eadff 157deg,#3cc0ff 157.5deg,#1ce1ff 158deg,#00f9e4 158.5deg,#00e075 159deg,#00bf1d 159.5deg,#34c500 160deg,#70d900 160.5deg,#90e400 161deg,#9be700 161.5deg,#9de800 162deg,#8fe400 163deg,#33c500 166deg,#01b400 167.5deg,#00e380 173.5deg,#00efb6 175.5deg,#00fefc 181deg,#25d8ff 189.5deg,#2cd0ff 195deg,#22dbff 199.5deg,#00fefd 203deg,#00eeb5 205.5deg,#00df74 207deg,#00cd42 209.5deg,#00c328 212.5deg,#00c224 215deg,#00c937 221.5deg,#00e37f 233deg,#00edaf 239deg,#00efb6 241.5deg,#00edae 243.5deg,#00e58c 245.5deg,#00cc40 248deg,#00b401 249.5deg,#9be700 252deg,#e3f800 254deg,#fffe00 255deg,#ffcf00 259deg,#ffa100 266deg,#ff7d00 278deg,#ff7d00 279.5deg,#ff8900 284.5deg,#ffa900 288.5deg,#ffef00 293.5deg,#feff00 294.5deg,#9ae700 298deg,#0cb800 301.5deg,#00b605 302deg,#00d65c 305.5deg,#00e486 307.5deg,#00f0ba 309.5deg,#00ffff 315deg,#1edfff 321deg,#1edfff 321.5deg,#17e7ff 323deg,#05faff 324deg,#00fcef 324.5deg,#00f5d1 325deg,#00eca7 325.5deg,#00dd6e 326deg,#00c021 327deg,#00b502 327.5deg,#3ac700 328.5deg,#5dd300 329.5deg,#72da00 331deg,#75db00 332deg,#64d500 335deg,#25c000 339.5deg,#02b500 341.5deg,#00e68d 352.5deg,#00f0bb 356deg,#00f5d2 360deg)"></i><i style="--r:90.5px;background:conic-gradient(#00f6d8 0deg,#03fcff 13.5deg,#1be3ff 24.5deg,#12ebff 27deg,#03fcff 28deg,#00fbef 28.5deg,#00f5d2 29deg,#00eba6 29.5deg,#00da65 30deg,#00c630 30.5deg,#09b700 31deg,#94e500 32deg,#dff700 33deg,#fdff00 33.5deg,#ffc200 36deg,#ff9400 39.5deg,#ff7300 44.5deg,#fa5f00 52deg,#f95c00 61.5deg,#fd6900 73deg,#ff8d00 84deg,#ffbd00 91deg,#fffe00 97.5deg,#8ae200 104deg,#0fb900 109.5deg,#00b503 110.5deg,#00d04b 117deg,#00e68c 124.5deg,#00f1c1 129.5deg,#00ffff 136.5deg,#50a9ff 151deg,#4d9cff 154.5deg,#4e9fff 155.5deg,#4fa7ff 156deg,#41baff 156.5deg,#20ddff 157deg,#00fae7 157.5deg,#00df74 158deg,#00bd19 158.5deg,#3bc800 159deg,#78dc00 159.5deg,#98e600 160deg,#a2e900 161deg,#97e600 162deg,#17bc00 166deg,#06b600 166.5deg,#00bf1e 168deg,#00e68d 173deg,#00f1bf 175deg,#00ffff 180deg,#24d9ff 187deg,#2fcdff 193.5deg,#27d6ff 198deg,#0cf2ff 201deg,#00fefb 202deg,#00edb0 204.5deg,#00df71 206deg,#00cc40 208.5deg,#00c328 211.5deg,#00c124 214deg,#00c937 220.5deg,#00e380 232deg,#00eeb3 238.5deg,#00efb7 240.5deg,#00eca8 243deg,#00e589 244.5deg,#00ca3b 247deg,#06b600 248.5deg,#85e000 250.5deg,#b2ed00 251.5deg,#f4fc00 253.5deg,#fffd00 254deg,#ffce00 258deg,#ffa100 265deg,#ff8000 275.5deg,#ff7d00 278.5deg,#ff8800 283.5deg,#ffab00 288deg,#fffb00 293.5deg,#dbf600 295deg,#90e400 297.5deg,#00b400 301deg,#00db67 305deg,#00eba3 307.5deg,#00f2c3 309deg,#00fffe 313.5deg,#20ddff 319.5deg,#21dbff 320.5deg,#19e5ff 322deg,#05faff 323deg,#00fbed 323.5deg,#00f4cd 324deg,#00da67 325deg,#00be1b 326deg,#03b500 326.5deg,#25c000 327deg,#51cf00 328deg,#6fd900 329.5deg,#76db00 331deg,#65d600 334deg,#26c100 338.5deg,#03b500 340.5deg,#00e896 352deg,#00f1bf 355.5deg,#00f6d8 360deg)"></i><i style="--r:89px;background:conic-gradient(#00f8dd 0deg,#02fdff 11.5deg,#1de0ff 23.5deg,#13ebff 26deg,#01feff 27deg,#00f3c9 28deg,#00d558 29deg,#00c123 29.5deg,#19bc00 30deg,#5fd400 30.5deg,#9be700 31deg,#e2f800 32deg,#ffff00 32.5deg,#ffc300 35deg,#ff9500 38.5deg,#ff7400 43.5deg,#fa6000 51deg,#f95c00 61deg,#fd6900 72.5deg,#ff8d00 83.5deg,#ffbe00 90.5deg,#fdff00 97deg,#8fe400 103deg,#07b600 109deg,#00b708 110deg,#00d24f 116.5deg,#00e58c 123.5deg,#00f1c1 128.5deg,#02fdff 135.5deg,#50a9ff 149deg,#4c97ff 154deg,#4ea1ff 155deg,#47b4ff 155.5deg,#24d9ff 156deg,#00fae9 156.5deg,#00df73 157deg,#00bc16 157.5deg,#43ca00 158deg,#80df00 158.5deg,#9ee800 159deg,#a8ea00 159.5deg,#a9ea00 160deg,#92e500 161.5deg,#0bb800 165.5deg,#00b604 166deg,#00e27e 171.5deg,#00f1bf 174deg,#00fffd 178.5deg,#27d6ff 186deg,#32caff 192.5deg,#26d7ff 197.5deg,#05faff 200.5deg,#00fefa 201deg,#00f1bf 203deg,#00de6f 205deg,#00cc3f 207.5deg,#00c327 210.5deg,#00c123 213deg,#00c937 219.5deg,#00e27d 230.5deg,#00eeb2 237deg,#00efb8 239deg,#00edad 241.5deg,#00e793 243deg,#00d049 245.5deg,#00b90d 247deg,#0db800 247.5deg,#8be200 249.5deg,#d8f600 251.5deg,#fffd00 253deg,#ffcd00 257deg,#ff9e00 264.5deg,#ff7e00 275.5deg,#ff7c00 278deg,#ff8c00 283.5deg,#ffae00 287.5deg,#fff700 292.5deg,#feff00 293deg,#98e600 296.5deg,#07b600 300deg,#00bd17 301deg,#00eba6 306.5deg,#00f2c5 308deg,#02fdff 312.5deg,#24d9ff 318.5deg,#25d8ff 319deg,#20ddff 320.5deg,#04fbff 322deg,#00fae9 322.5deg,#00f3c7 323deg,#00d85f 324deg,#00bc15 325deg,#0ab700 325.5deg,#42ca00 326.5deg,#61d400 327.5deg,#75db00 329deg,#77dc00 330deg,#66d600 333deg,#27c100 337.5deg,#03b500 339.5deg,#00e589 350deg,#00efb9 353.5deg,#00f8dd 360deg)"></i><i style="--r:87.5px;background:conic-gradient(#00f9e3 0deg,#03fcff 10deg,#20ddff 22.5deg,#18e5ff 24.5deg,#00fefc 26deg,#00f8e1 26.5deg,#00f0bd 27deg,#00e37f 27.5deg,#00bc16 28.5deg,#29c200 29deg,#6bd800 29.5deg,#a1e900 30deg,#e5f900 31deg,#ffff00 31.5deg,#ffcd00 33.5deg,#ff9b00 37deg,#ff7700 42deg,#fa6000 49.5deg,#f95c00 60.5deg,#fd6800 71.5deg,#ff8b00 82.5deg,#ffbf00 90deg,#fffd00 96deg,#88e100 102.5deg,#0ab700 108deg,#00b400 108.5deg,#00d04a 115deg,#00e58c 122.5deg,#00f2c6 128deg,#00ffff 134deg,#50a9ff 147deg,#4b91ff 153deg,#4d9bff 154deg,#4caeff 154.5deg,#28d4ff 155deg,#00fbec 155.5deg,#00df72 156deg,#00bb12 156.5deg,#4acd00 157deg,#89e200 157.5deg,#a4e900 158deg,#aeec00 158.5deg,#afec00 159deg,#99e700 160.5deg,#00b401 165deg,#00e68c 171deg,#00f1c0 173deg,#01feff 177.5deg,#28d4ff 184.5deg,#34c7ff 191deg,#2ad2ff 196deg,#14eaff 198.5deg,#05faff 199.5deg,#00fae9 200.5deg,#00f0bc 202deg,#00e27b 203.5deg,#00d14d 205.5deg,#00c62f 208deg,#00c123 211.5deg,#00c733 217.5deg,#00e076 228.5deg,#00eeb4 236deg,#00efb9 238deg,#00eeb2 240deg,#00e99c 241.5deg,#00ce45 244.5deg,#00b709 246deg,#13ba00 246.5deg,#8fe400 248.5deg,#d9f600 250.5deg,#fffc00 252deg,#ffcd00 256deg,#ffa000 263deg,#ff7e00 274.5deg,#ff7c00 277deg,#ff8a00 282.5deg,#ffb100 287deg,#fffb00 292deg,#e8fa00 293deg,#8ce300 296deg,#0eb900 299deg,#00b604 299.5deg,#00e27b 304deg,#00efb6 306deg,#00fefb 310.5deg,#28d5ff 317.5deg,#28d4ff 318deg,#22dbff 319.5deg,#11edff 320.5deg,#03fcff 321deg,#00f9e5 321.5deg,#00f1c0 322deg,#00d558 323deg,#00ba10 324deg,#10b900 324.5deg,#46cb00 325.5deg,#64d500 326.5deg,#78dc00 328.5deg,#79dc00 329deg,#68d700 332deg,#28c100 336.5deg,#03b500 338.5deg,#00e793 349.5deg,#00f1be 353deg,#00f9e3 360deg)"></i><i style="--r:86px;background:conic-gradient(#00fae8 0deg,#02fdff 8deg,#22dbff 21deg,#19e5ff 23.5deg,#08f6ff 24.5deg,#00fdf6 25deg,#00f6d8 25.5deg,#00edaf 26deg,#00de6f 26.5deg,#00b80a 27.5deg,#37c600 28deg,#76db00 28.5deg,#a7ea00 29deg,#e7f900 30deg,#fffe00 30.5deg,#ffce00 32.5deg,#ff9c00 36deg,#ff7800 41deg,#fa6000 49deg,#f95c00 60deg,#fd6700 70.5deg,#ff8c00 82deg,#ffbc00 89deg,#feff00 95.5deg,#8de300 101.5deg,#0db800 107deg,#00b605 108deg,#00d14e 114.5deg,#00e58b 121.5deg,#00f1c2 126.5deg,#02fdff 133deg,#50a9ff 145deg,#4a8bff 152deg,#4c95ff 153deg,#50a8ff 153.5deg,#2dcfff 154deg,#00fcf0 154.5deg,#00de71 155deg,#00ba0f 155.5deg,#51cf00 156deg,#91e400 156.5deg,#abeb00 157deg,#b5ed00 158deg,#9ee800 159.5deg,#5ed300 161.5deg,#04b500 164deg,#00e58c 170deg,#00f1c0 172deg,#00fffd 176deg,#2ad3ff 183deg,#37c4ff 190deg,#2cd0ff 195deg,#14e9ff 197.5deg,#05faff 198.5deg,#00fef8 199deg,#00efb9 201deg,#00e178 202.5deg,#00ce44 205deg,#00c328 208deg,#00c123 210.5deg,#00c630 216deg,#00e177 227.5deg,#00eeb2 234.5deg,#00f0ba 237deg,#00eeb2 239deg,#00e68e 241deg,#00cd42 243.5deg,#00b605 245deg,#57d100 246.5deg,#93e500 247.5deg,#e9fa00 250deg,#fffc00 251deg,#ffcc00 255deg,#ff9c00 263deg,#ff7e00 274deg,#ff7c00 276deg,#ff8700 281deg,#ffa800 285.5deg,#ffe600 290deg,#feff00 291.5deg,#95e600 295deg,#00b400 298.5deg,#00e589 303.5deg,#00efb9 305deg,#00ffff 309.5deg,#28d4ff 315.5deg,#2cd0ff 317deg,#24d8ff 318.5deg,#11edff 319.5deg,#02fdff 320deg,#00f8e1 320.5deg,#00f0b9 321deg,#00e27d 321.5deg,#00c42b 322.5deg,#00b80b 323deg,#15bb00 323.5deg,#49cc00 324.5deg,#6ed900 326deg,#7add00 328deg,#69d700 331deg,#32c500 335deg,#04b500 337.5deg,#00e895 348.5deg,#00f0bc 351.5deg,#00f9e4 359deg,#00fae8 360deg)"></i><i style="--r:84.5px;background:conic-gradient(#00fbed 0deg,#03fcff 6.5deg,#26d7ff 20deg,#1fdeff 22deg,#06f9ff 23.5deg,#00fcef 24deg,#00f4ce 24.5deg,#00e99c 25deg,#00d961 25.5deg,#02b500 26.5deg,#80df00 27.5deg,#aceb00 28deg,#e8fa00 29deg,#fffe00 29.5deg,#ffc600 32deg,#ff9800 35.5deg,#ff7400 41deg,#fa5f00 49deg,#f95c00 59.5deg,#fd6800 70deg,#ff8c00 81.5deg,#ffbe00 88.5deg,#fffc00 94.5deg,#9de800 100deg,#10b900 106deg,#00b503 107deg,#00cf48 113deg,#00e690 121deg,#00f3c7 126deg,#01feff 131.5deg,#50a9ff 143deg,#4983ff 150.5deg,#4983ff 151deg,#4b8dff 152deg,#4ea1ff 152.5deg,#33c9ff 153deg,#00fdf4 153.5deg,#00de71 154deg,#00b80c 154.5deg,#58d100 155deg,#99e700 155.5deg,#b1ec00 156deg,#bbef00 156.5deg,#bcef00 157deg,#a4e900 158.5deg,#77dc00 160deg,#09b700 163deg,#00b606 163.5deg,#00e58b 169deg,#00f1c1 171deg,#02fdff 175deg,#2cd0ff 181.5deg,#3bc0ff 188.5deg,#3bc0ff 189deg,#2fcdff 194deg,#16e8ff 196.5deg,#00fef9 198deg,#00efb6 200deg,#00e076 201.5deg,#00cd43 204deg,#00c328 207deg,#00c122 209.5deg,#00c630 215deg,#00e178 226.5deg,#00eeb4 233.5deg,#00f0bb 236deg,#00eeb1 238deg,#00e899 239.5deg,#00d250 242deg,#00b401 244deg,#96e600 246.5deg,#eafa00 249deg,#fffc00 250deg,#ffcc00 254deg,#ff9c00 262deg,#ff7f00 272.5deg,#ff7c00 275.5deg,#ff8a00 281deg,#ffb600 286deg,#fffc00 290.5deg,#d8f600 292deg,#88e100 294.5deg,#07b600 297.5deg,#00bd18 298.5deg,#00e487 302.5deg,#00f0ba 304deg,#00fffe 308deg,#2dcfff 314.5deg,#30ccff 316deg,#27d5ff 317.5deg,#12ecff 318.5deg,#01feff 319deg,#00eeb2 320deg,#00e074 320.5deg,#00c226 321.5deg,#00b707 322deg,#36c600 323deg,#5cd300 324deg,#75db00 325.5deg,#7bdd00 327deg,#6ad700 330deg,#33c500 334deg,#00b504 337deg,#00e897 347.5deg,#00f0bd 350.5deg,#00fae7 358deg,#00fbed 360deg)"></i><i style="--r:83px;background:conic-gradient(#00fcf3 0deg,#04fbff 5deg,#29d3ff 19deg,#22dbff 21deg,#12ecff 22deg,#03fcff 22.5deg,#00fae7 23deg,#00f2c3 23.5deg,#00d354 24.5deg,#00c123 25deg,#11ba00 25.5deg,#89e200 26.5deg,#cff300 27.5deg,#fffd00 28.5deg,#ffc700 31deg,#ff9400 35deg,#ff7100 41deg,#fa5f00 49deg,#f95c00 59deg,#fd6800 69.5deg,#ff8b00 80.5deg,#ffb600 87deg,#ffff00 94deg,#8be200 100deg,#08b700 105.5deg,#00b708 106.5deg,#00d14c 112.5deg,#00e690 120deg,#00f4cc 125.5deg,#00fffe 130deg,#50a9ff 141deg,#477bff 149.5deg,#477bff 150deg,#4985ff 151deg,#4d99ff 151.5deg,#39c2ff 152deg,#00fef9 152.5deg,#00de71 153deg,#00b709 153.5deg,#5fd400 154deg,#9ee800 154.5deg,#b7ee00 155deg,#c1f000 155.5deg,#c2f100 156deg,#abeb00 157.5deg,#92e500 158.5deg,#00b503 162.5deg,#00e58a 168deg,#00f1c2 170deg,#00fffe 173.5deg,#2eceff 180deg,#3fbcff 186.5deg,#3fbcff 187.5deg,#35c7ff 192.5deg,#1fdfff 195deg,#00fefa 197deg,#00eeb5 199deg,#00e074 200.5deg,#00cd43 203deg,#00c328 206deg,#00c122 208.5deg,#00c732 214.5deg,#00e178 225.5deg,#00efb6 232.5deg,#00f0bb 235deg,#00eeb1 237deg,#00e897 238.5deg,#00d14d 241deg,#03b500 243deg,#98e600 245.5deg,#f8fd00 248.5deg,#fff500 249.5deg,#ffc400 254deg,#ff9a00 261.5deg,#ff7e00 272deg,#ff7c00 274.5deg,#ff8600 279.5deg,#ffae00 284.5deg,#ffef00 289deg,#fcfe00 290deg,#90e400 293.5deg,#0db800 296.5deg,#00b606 297deg,#00e484 301.5deg,#00f2c4 303.5deg,#00fefc 306.5deg,#33c9ff 313.5deg,#35c6ff 314.5deg,#30ccff 316deg,#20ddff 317deg,#00fffd 318deg,#00f6d7 318.5deg,#00eba7 319deg,#00dd6d 319.5deg,#00c021 320.5deg,#00b503 321deg,#3ac700 322deg,#5ed300 323deg,#76db00 324.5deg,#7cdd00 326deg,#6cd800 329deg,#34c500 333deg,#00b503 336deg,#00e792 346deg,#00f1bf 349.5deg,#00fae7 356.5deg,#00fcf3 360deg)"></i><i style="--r:81.5px;background:conic-gradient(#00fefa 0deg,#0bf3ff 6deg,#2dcfff 18deg,#25d7ff 20deg,#15e9ff 21deg,#06f9ff 21.5deg,#00fae6 22deg,#00f0bb 22.5deg,#00e37f 23deg,#00bf1f 24deg,#16bb00 24.5deg,#89e200 25.5deg,#afec00 26deg,#feff00 27.5deg,#ffc100 30.5deg,#ff9200 34.5deg,#ff7000 40.5deg,#fa5e00 49deg,#f95c00 58.5deg,#fd6900 69.5deg,#ff8b00 80deg,#ffbc00 87deg,#fcfe00 93.5deg,#83e000 99.5deg,#0bb800 104.5deg,#01b400 105deg,#00cf47 111deg,#00e58a 118.5deg,#02fdff 129deg,#50a9ff 139deg,#4674ff 148deg,#4672ff 149deg,#487dff 150deg,#4b91ff 150.5deg,#3fbcff 151deg,#00fffe 151.5deg,#00de71 152deg,#00b607 152.5deg,#66d600 153deg,#a4e900 153.5deg,#beef00 154deg,#c8f200 154.5deg,#c9f200 155deg,#b1ec00 156.5deg,#88e100 158deg,#01b400 161.5deg,#00e58a 167deg,#00f2c2 169deg,#00fefa 172deg,#14e9ff 174.5deg,#39c2ff 180.5deg,#43b7ff 186.5deg,#38c3ff 191.5deg,#19e5ff 194.5deg,#00fefb 196deg,#00eeb4 198deg,#00df74 199.5deg,#00cd42 202deg,#00c327 205deg,#00c121 207.5deg,#00c732 213.5deg,#00e17a 224.5deg,#00eeb4 231deg,#00f0bc 233.5deg,#00efb7 235.5deg,#00e895 237.5deg,#00c938 240.5deg,#00ba10 241.5deg,#07b600 242deg,#99e700 244.5deg,#eafa00 247deg,#fffc00 248deg,#ffc400 253deg,#ff9a00 260.5deg,#ff7e00 271deg,#ff7c00 274deg,#ff8a00 279.5deg,#ffb100 284deg,#fff400 288.5deg,#fffd00 289deg,#97e600 292.5deg,#00b502 296deg,#00e382 300.5deg,#00f2c4 302.5deg,#00fef9 305deg,#0bf3ff 306.5deg,#36c6ff 312deg,#3ac1ff 313.5deg,#34c8ff 315deg,#21dcff 316deg,#00fefa 317deg,#00f5d1 317.5deg,#00da66 318.5deg,#00be1b 319.5deg,#02b500 320deg,#3dc800 321deg,#5fd400 322deg,#77dc00 323.5deg,#7dde00 325deg,#6dd800 328deg,#35c600 332deg,#00b503 335deg,#00eba3 346deg,#00f2c5 349deg,#00fbed 356.5deg,#00fefa 360deg)"></i><i style="--r:80px;background:conic-gradient(#01feff 0deg,#31cbff 17deg,#28d4ff 19deg,#17e6ff 20deg,#08f6ff 20.5deg,#00faeb 21deg,#00f1bf 21.5deg,#00e27b 22deg,#00be1b 23deg,#18bc00 23.5deg,#88e100 24.5deg,#adeb00 25deg,#fafe00 26.5deg,#ffcc00 29deg,#ff9800 33deg,#ff7700 38deg,#fa5f00 47deg,#f95c00 58deg,#fd6800 68.5deg,#ff8c00 79.5deg,#ffb400 85.5deg,#fffe00 92.5deg,#89e200 98.5deg,#0eb900 103.5deg,#00b605 104.5deg,#00d250 111deg,#00e68f 118deg,#00ffff 127.5deg,#50aaff 137deg,#456dff 146.5deg,#446aff 148deg,#4674ff 149deg,#4a89ff 149.5deg,#46b4ff 150deg,#03fcff 150.5deg,#00df71 151deg,#00b604 151.5deg,#6cd800 152deg,#aaeb00 152.5deg,#c4f100 153deg,#cff300 153.5deg,#d0f400 154deg,#aceb00 156deg,#7dde00 157.5deg,#07b600 160.5deg,#00bc16 161.5deg,#00e589 166deg,#00f2c3 168deg,#00fffe 171deg,#32caff 177deg,#46b4ff 183deg,#48b3ff 185deg,#3ebdff 190deg,#22dbff 193deg,#00fefc 195deg,#00e99c 197.5deg,#00df74 198.5deg,#00cf49 200.5deg,#00c429 203.5deg,#00c021 206.5deg,#00c62f 212deg,#00e076 223deg,#00efb6 230deg,#00f0bd 232.5deg,#00eeb2 235deg,#00e486 237deg,#00c835 239.5deg,#00b90d 240.5deg,#0bb800 241deg,#9ae700 243.5deg,#eafa00 246deg,#fffc00 247deg,#ffc500 252deg,#ff9c00 259deg,#ff8000 269deg,#ff7c00 273deg,#ff8600 278deg,#ffae00 283deg,#fff000 287.5deg,#fafe00 288.5deg,#89e200 292deg,#03b500 295deg,#00e37f 299.5deg,#00f2c4 301.5deg,#00fffe 304deg,#36c6ff 310deg,#3fbcff 312.5deg,#37c5ff 314deg,#22dbff 315deg,#10eeff 315.5deg,#00fdf5 316deg,#00f3ca 316.5deg,#00d85f 317.5deg,#00bd17 318.5deg,#07b600 319deg,#40c900 320deg,#61d400 321deg,#79dc00 322.5deg,#7ede00 324deg,#6fd900 327deg,#37c600 331deg,#00b502 334deg,#00e896 344deg,#00f1bf 347deg,#00fbec 354.5deg,#01feff 360deg)"></i><i style="--r:78.5px;background:conic-gradient(#05f9ff 0deg,#34c7ff 16deg,#2cd1ff 18deg,#1ae4ff 19deg,#0bf4ff 19.5deg,#00fbee 20deg,#00f2c2 20.5deg,#00e381 21deg,#00be19 22deg,#1abd00 22.5deg,#86e100 23.5deg,#c6f200 24.5deg,#f6fd00 25.5deg,#fff800 26deg,#ffbe00 29deg,#ff9100 33deg,#ff7100 39deg,#fa5f00 46.5deg,#f95c00 57.5deg,#fd6700 67.5deg,#ff8c00 79deg,#ffba00 85.5deg,#fdff00 92deg,#8ee300 97.5deg,#12ba00 102.5deg,#00b503 103.5deg,#00d04b 109.5deg,#00e68f 117deg,#02fdff 126.5deg,#50a8ff 135.5deg,#456cff 144deg,#4261ff 147deg,#446bff 148deg,#4881ff 148.5deg,#4dadff 149deg,#07f7ff 149.5deg,#00df72 150deg,#00b503 150.5deg,#71da00 151deg,#afec00 151.5deg,#caf200 152deg,#d5f500 152.5deg,#d7f500 153deg,#b3ed00 155deg,#85e000 156.5deg,#0db800 159.5deg,#00b605 160deg,#00e589 165deg,#00f2c4 167deg,#02fdff 170deg,#33c9ff 175.5deg,#4ab0ff 181.5deg,#4cafff 184deg,#41baff 189deg,#23d9ff 192deg,#00fefd 194deg,#00e99c 196.5deg,#00df74 197.5deg,#00cc41 200deg,#00c226 203deg,#00c021 205.5deg,#00c731 211.5deg,#00e27c 222.5deg,#00efb7 229deg,#00f1be 231.5deg,#00efb7 233.5deg,#00eaa0 235deg,#00ce45 238deg,#00b80b 239.5deg,#0eb900 240deg,#9be700 242.5deg,#f7fd00 245.5deg,#fff600 246.5deg,#ffc100 251.5deg,#ff9a00 258.5deg,#ff7e00 269deg,#ff7c00 272.5deg,#ff8800 277.5deg,#ffab00 282deg,#ffec00 286.5deg,#fffe00 287.5deg,#91e400 291deg,#08b700 294deg,#00bd19 295deg,#00e27e 298.5deg,#00f2c4 300.5deg,#01feff 303deg,#34c7ff 308deg,#44b6ff 311.5deg,#3ac2ff 313deg,#22dbff 314deg,#0fefff 314.5deg,#00fcf0 315deg,#00f2c3 315.5deg,#00e488 316deg,#00d559 316.5deg,#00bb13 317.5deg,#0cb800 318deg,#42ca00 319deg,#63d500 320deg,#7dde00 322deg,#7fde00 323deg,#75db00 325.5deg,#49cc00 329deg,#00b502 333deg,#00e690 342.5deg,#00f1c1 346deg,#00fae8 352deg,#03fcff 359deg,#05f9ff 360deg)"></i><i style="--r:77px;background:conic-gradient(#0af4ff 0deg,#38c4ff 14.5deg,#38c3ff 15deg,#2fceff 17deg,#1ce1ff 18deg,#0df2ff 18.5deg,#00fcf1 19deg,#00f2c4 19.5deg,#00e486 20deg,#00c01f 21deg,#16bb00 21.5deg,#53d000 22deg,#84e000 22.5deg,#a8ea00 23deg,#f2fc00 24.5deg,#fffa00 25deg,#ffc100 28deg,#ff9300 32deg,#ff7100 38deg,#f95e00 47.5deg,#f95c00 57deg,#fd6800 67deg,#ff8a00 78deg,#ffbb00 85deg,#fffd00 91deg,#94e500 96.5deg,#15bb00 101.5deg,#00b401 102.5deg,#00d04a 108.5deg,#00e68e 116deg,#00fffe 125deg,#4fabff 133.5deg,#4366ff 142.5deg,#4158ff 146deg,#4363ff 147deg,#4779ff 147.5deg,#4fa5ff 148deg,#0cf3ff 148.5deg,#00df74 149deg,#00b501 149.5deg,#77dc00 150deg,#b4ed00 150.5deg,#d0f400 151deg,#dcf700 151.5deg,#ddf700 152deg,#c6f100 153.5deg,#8ee300 155.5deg,#00b401 159deg,#00e588 164deg,#00f2c5 166deg,#00fffd 168.5deg,#38c4ff 174.5deg,#4eadff 180deg,#50aaff 182.5deg,#47b4ff 187.5deg,#2cd0ff 190.5deg,#00fffd 193deg,#00e99b 195.5deg,#00e074 196.5deg,#00cc41 199deg,#00c226 202deg,#00c020 204.5deg,#00c62f 210deg,#00df74 220.5deg,#00efb8 228deg,#00f1bf 230.5deg,#00efb8 232.5deg,#00e792 234.5deg,#00c631 237.5deg,#00b709 238.5deg,#11ba00 239deg,#83e000 241deg,#aceb00 242deg,#f6fd00 244.5deg,#fffd00 245deg,#ffc600 250deg,#ff9c00 257deg,#ff8000 267deg,#ff7b00 271.5deg,#ff8900 277deg,#ffae00 281.5deg,#fff100 286deg,#f7fd00 287deg,#97e600 290deg,#0db800 293deg,#00b606 293.5deg,#00e68f 298deg,#00f2c4 299.5deg,#00fef9 301.5deg,#11edff 303deg,#3ac1ff 307deg,#4ab1ff 310deg,#43b7ff 311.5deg,#22dbff 313deg,#0df1ff 313.5deg,#00faeb 314deg,#00f0ba 314.5deg,#00e27e 315deg,#00c52e 316deg,#00b90f 316.5deg,#10b900 317deg,#45cb00 318deg,#64d500 319deg,#7ede00 321deg,#80df00 322deg,#72da00 325deg,#3ac700 329deg,#00b501 332deg,#00e589 341deg,#00f1be 344.5deg,#00f9e6 350deg,#02fdff 357deg,#0af4ff 360deg)"></i><i style="--r:75.5px;background:conic-gradient(#0fefff 0deg,#3cc0ff 13.5deg,#36c6ff 15.5deg,#1edfff 17deg,#0ef0ff 17.5deg,#00fcf3 18deg,#00f2c6 18.5deg,#00d354 19.5deg,#00c124 20deg,#0eb900 20.5deg,#7fde00 21.5deg,#a6ea00 22deg,#eefb00 23.5deg,#fffd00 24deg,#ffc300 27deg,#ff9500 31deg,#ff7200 37deg,#f95e00 47deg,#f95c00 56.5deg,#fe6a00 67.5deg,#ff8d00 78deg,#ffbd00 84.5deg,#feff00 90.5deg,#8ce300 96deg,#0db800 101deg,#02b500 101.5deg,#00d14e 108deg,#00e68e 115deg,#01fdff 124deg,#50aaff 132deg,#4364ff 140.5deg,#4053fe 144.5deg,#4053fe 145deg,#415bff 146deg,#4571ff 146.5deg,#4e9eff 147deg,#10eeff 147.5deg,#00e076 148deg,#00b401 148.5deg,#7bdd00 149deg,#b9ee00 149.5deg,#d6f500 150deg,#e3f800 150.5deg,#e5f900 151deg,#cdf300 152.5deg,#97e600 154.5deg,#04b500 158deg,#00e487 163deg,#00f2c6 165deg,#01feff 167.5deg,#35c7ff 172.5deg,#4fabff 177.5deg,#4fa6ff 181.5deg,#4caeff 186deg,#34c7ff 189deg,#00fffe 192deg,#00e074 195.5deg,#00cd42 198deg,#00c226 201deg,#00c020 203.5deg,#00c52e 209deg,#00e178 220deg,#00efb7 226.5deg,#00f1c1 229.5deg,#00eeb2 232deg,#00e792 233.5deg,#00c62f 236.5deg,#00b707 237.5deg,#13ba00 238deg,#83e000 240deg,#aceb00 241deg,#f5fd00 243.5deg,#fffe00 244deg,#ffcb00 248.5deg,#ff9e00 255.5deg,#ff8000 265.5deg,#ff7b00 271deg,#ff8a00 276.5deg,#ffb200 281deg,#fdff00 286deg,#88e100 289.5deg,#12ba00 292deg,#00b503 292.5deg,#00e27b 296.5deg,#00f2c4 298.5deg,#00fefc 300.5deg,#3cbfff 305.5deg,#4fabff 309deg,#47b4ff 310.5deg,#32caff 311.5deg,#0bf4ff 312.5deg,#00f9e4 313deg,#00eeb1 313.5deg,#00e075 314deg,#00c429 315deg,#00b80b 315.5deg,#14bb00 316deg,#47cc00 317deg,#6fd900 318.5deg,#81df00 320.5deg,#81df00 321deg,#74db00 324deg,#3cc800 328deg,#00b401 331deg,#00e794 340.5deg,#00f2c5 344deg,#00fbeb 349.5deg,#03fcff 355.5deg,#0fefff 360deg)"></i><i style="--r:74px;background:conic-gradient(#14eaff 0deg,#3dbeff 12deg,#3ebeff 12.5deg,#37c4ff 14.5deg,#1fdfff 16deg,#0ef0ff 16.5deg,#00fcf3 17deg,#00f2c6 17.5deg,#00d456 18.5deg,#07b600 19.5deg,#76db00 20.5deg,#a0e800 21deg,#d5f500 22deg,#feff00 23deg,#ffb700 27deg,#ff8700 32deg,#fc6500 40.5deg,#f95c00 55.5deg,#f95c00 56deg,#fd6900 66.5deg,#ff8b00 77deg,#ffb900 83.5deg,#fffc00 89.5deg,#dbf600 91.5deg,#84e000 95.5deg,#10b900 100deg,#00b604 101deg,#00cd43 106deg,#00e793 114.5deg,#00fdf4 122deg,#03fcff 123deg,#50aaff 130.5deg,#425eff 139.5deg,#4052fc 143.5deg,#4051fc 144deg,#4055ff 145deg,#446bff 145.5deg,#4d99ff 146deg,#14e9ff 146.5deg,#00e179 147deg,#00b400 147.5deg,#7fde00 148deg,#bef000 148.5deg,#dcf700 149deg,#e9fa00 149.5deg,#ecfa00 150deg,#d4f500 151.5deg,#8ce300 154deg,#0ab700 157deg,#00b707 157.5deg,#00e486 162deg,#00f3c7 164deg,#00fef9 166deg,#10eeff 167.5deg,#3fbcff 172.5deg,#50a8ff 177deg,#4fa4ff 180.5deg,#4bb0ff 185.5deg,#2eceff 188.5deg,#00fffd 191deg,#00e074 194.5deg,#00cd42 197deg,#00c226 200deg,#00c020 203deg,#00c630 208.5deg,#00e179 219deg,#00efb8 225.5deg,#00f1c2 228.5deg,#00efb8 230.5deg,#00e99e 232deg,#00cd41 235deg,#00b707 236.5deg,#14bb00 237deg,#9be700 239.5deg,#f4fc00 242.5deg,#ffff00 243deg,#ffc700 248deg,#ff9a00 255.5deg,#ff7d00 266.5deg,#ff7b00 270deg,#ff8900 275.5deg,#ffa900 279.5deg,#ffea00 284deg,#fffd00 285deg,#a1e900 288deg,#00b400 291.5deg,#00e17a 295.5deg,#00f2c5 297.5deg,#00fffe 299.5deg,#3cc0ff 304deg,#50a8ff 307.5deg,#50a8ff 308deg,#48b3ff 309.5deg,#31cbff 310.5deg,#07f8ff 311.5deg,#00f7dd 312deg,#00de6f 313deg,#00c225 314deg,#00b708 314.5deg,#33c500 315.5deg,#59d200 316.5deg,#77dc00 318deg,#82df00 320deg,#75db00 323deg,#4fce00 326deg,#00b400 330deg,#00e896 339.5deg,#00f2c7 343deg,#00fbed 348.5deg,#02fcff 354deg,#14eaff 360deg)"></i><i style="--r:72.5px;background:conic-gradient(#19e5ff 0deg,#3fbcff 11deg,#40bbff 11.5deg,#39c3ff 13.5deg,#1fdeff 15deg,#0ef0ff 15.5deg,#00fcf2 16deg,#00f2c5 16.5deg,#00d557 17.5deg,#01b400 18.5deg,#6dd800 19.5deg,#99e700 20deg,#e6f900 21.5deg,#fafe00 22deg,#ffd000 24.5deg,#ff9d00 28.5deg,#ff7900 34deg,#fa6100 42.5deg,#f95c00 55.5deg,#fd6900 66deg,#ff8e00 77deg,#ffbb00 83deg,#fffe00 89deg,#8ae200 94.5deg,#13ba00 99deg,#00b502 100deg,#00cf48 105.5deg,#00e68d 113deg,#00fdf5 121deg,#04fbff 122deg,#4facff 129deg,#4363ff 137deg,#4053fe 140deg,#4050fa 143deg,#4053fe 144deg,#4365ff 144.5deg,#4c93ff 145deg,#19e4ff 145.5deg,#00e27e 146deg,#00b401 146.5deg,#83e000 147deg,#c2f100 147.5deg,#e2f800 148deg,#f0fb00 148.5deg,#f3fc00 149deg,#dcf700 150.5deg,#96e600 153deg,#11ba00 156deg,#00b503 156.5deg,#00e486 161deg,#00f3c8 163deg,#00fefc 165deg,#3bc0ff 170.5deg,#50a9ff 174.5deg,#4fa2ff 179deg,#4caeff 184.5deg,#2eceff 187.5deg,#00fefc 190deg,#00e075 193.5deg,#00cd42 196deg,#00c226 199deg,#00c01f 202deg,#00c630 207.5deg,#00e075 217.5deg,#00efb9 224.5deg,#00f2c3 227.5deg,#00efb9 229.5deg,#00e99e 231deg,#00cc41 234deg,#00b607 235.5deg,#14bb00 236deg,#83e000 238deg,#abeb00 239deg,#feff00 242deg,#ffc800 247deg,#ff9800 255deg,#ff7d00 265.5deg,#ff7b00 269deg,#ff8500 274deg,#ffac00 279deg,#fff000 283.5deg,#f9fe00 284.5deg,#95e600 287.5deg,#04b500 290.5deg,#00e179 294.5deg,#00f2c6 296.5deg,#01feff 298.5deg,#3fbcff 303deg,#50a8ff 305.5deg,#4fa5ff 306.5deg,#4fabff 308deg,#3ebdff 309deg,#1ce2ff 310deg,#03fcff 310.5deg,#00f6d5 311deg,#00db69 312deg,#00c021 313deg,#00b605 313.5deg,#4acd00 315deg,#70d900 316.5deg,#82df00 318.5deg,#83e000 319.5deg,#72da00 322.5deg,#48cc00 325.5deg,#01b400 329deg,#00e690 338deg,#00f2c4 341.5deg,#00fbed 347deg,#02fdff 352.5deg,#19e5ff 360deg)"></i><i style="--r:71px;background:conic-gradient(#1edfff 0deg,#42b9ff 10deg,#42b9ff 10.5deg,#3ac1ff 12.5deg,#1edfff 14deg,#0df1ff 14.5deg,#00fcf1 15deg,#00f2c3 15.5deg,#00e589 16deg,#00c42c 17deg,#00b502 17.5deg,#92e500 19deg,#dff700 20.5deg,#f5fd00 21deg,#fff900 21.5deg,#ffb500 25.5deg,#ff8700 30.5deg,#fc6400 39.5deg,#f95c00 55deg,#fd6800 65deg,#ff8c00 76deg,#ffbc00 82.5deg,#fbfe00 88.5deg,#90e400 93.5deg,#17bc00 98deg,#00b400 99deg,#00cd42 104deg,#00e68d 112deg,#00fbef 119.5deg,#00ffff 120.5deg,#4fa7ff 128deg,#425dff 136deg,#4051fb 139.5deg,#404ff8 142deg,#4051fc 143deg,#4260ff 143.5deg,#4b8eff 144deg,#1edfff 144.5deg,#00e484 145deg,#00b502 145.5deg,#85e000 146deg,#c6f200 146.5deg,#e7f900 147deg,#f6fd00 147.5deg,#fafe00 148deg,#e4f800 149.5deg,#8ae200 152.5deg,#01b400 155.5deg,#00e485 160deg,#00f3ca 162deg,#00ffff 164deg,#36c6ff 168.5deg,#50aaff 172.5deg,#4ea0ff 178deg,#4dadff 183.5deg,#2eceff 186.5deg,#00fefc 189deg,#00e075 192.5deg,#00cd43 195deg,#00c328 197.5deg,#00c01f 201deg,#00c630 206.5deg,#00e076 216.5deg,#00f0ba 223.5deg,#00f2c4 226deg,#00efb9 228.5deg,#00e99d 230deg,#00cc40 233deg,#00b607 234.5deg,#13ba00 235deg,#82df00 237deg,#aaeb00 238deg,#fdfe00 241deg,#ffbd00 247.5deg,#ff9300 255.5deg,#ff7c00 265.5deg,#ff7b00 268deg,#ff8700 273.5deg,#ffaa00 278deg,#ffe400 282deg,#feff00 283.5deg,#9ae700 286.5deg,#08b700 289.5deg,#00be1c 290.5deg,#00e179 293.5deg,#00f3c7 295.5deg,#00fdf6 297deg,#03fcff 297.5deg,#43b8ff 302deg,#4fa6ff 304deg,#4ea2ff 305.5deg,#50a9ff 307deg,#3ebdff 308deg,#19e5ff 309deg,#00fffd 309.5deg,#00f4cd 310deg,#00d963 311deg,#00bf1e 312deg,#00b502 312.5deg,#37c600 313.5deg,#68d700 315deg,#81df00 317deg,#84e000 318.5deg,#74db00 321.5deg,#4acd00 324.5deg,#02b500 328deg,#00e588 336.5deg,#00f1c0 340deg,#00fbec 345.5deg,#02fdff 351deg,#1edfff 360deg)"></i><i style="--r:69.5px;background:conic-gradient(#24d8ff 0deg,#44b7ff 9deg,#44b7ff 9.5deg,#3bc0ff 11.5deg,#1edfff 13deg,#0cf2ff 13.5deg,#00fbee 14deg,#00f1c0 14.5deg,#00e487 15deg,#00c52d 16deg,#00b605 16.5deg,#8ae200 18deg,#c2f000 19deg,#fffe00 20.5deg,#ffc600 23.5deg,#ff9800 27.5deg,#ff7500 33.5deg,#fa5f00 42.5deg,#f95c00 54.5deg,#fd6700 64deg,#ff8a00 75deg,#ffb400 81deg,#fffe00 87.5deg,#96e600 92.5deg,#0eb900 97.5deg,#02b500 98deg,#00ce46 103.5deg,#00e792 111.5deg,#00fcf0 118.5deg,#01feff 119.5deg,#50a9ff 126.5deg,#415aff 134.5deg,#404df7 141deg,#4050fa 142deg,#415bff 142.5deg,#4a88ff 143deg,#24d9ff 143.5deg,#00e58b 144deg,#00b604 144.5deg,#86e100 145deg,#caf200 145.5deg,#ecfb00 146deg,#fcfe00 146.5deg,#fffe00 147deg,#f6fd00 148deg,#b4ed00 150.5deg,#94e500 151.5deg,#08b700 154.5deg,#00be1a 155.5deg,#00e484 159deg,#00f3cb 161deg,#02fdff 163deg,#39c2ff 167.5deg,#50a9ff 171deg,#4e9eff 176.5deg,#50a9ff 182deg,#35c6ff 185deg,#00fefb 188deg,#00e075 191.5deg,#00cd43 194deg,#00c226 197deg,#00bf1e 200deg,#00c732 206deg,#00e076 215.5deg,#00f0bc 222.5deg,#00f2c5 225deg,#00f0ba 227.5deg,#00e99d 229deg,#00cc40 232deg,#00b707 233.5deg,#13ba00 234deg,#98e600 236.5deg,#effb00 239.5deg,#fffb00 240.5deg,#ffc600 245.5deg,#ff9900 253deg,#ff7d00 263.5deg,#ff7b00 267.5deg,#ff8500 272.5deg,#ffad00 277.5deg,#ffea00 281.5deg,#fffd00 282.5deg,#b0ec00 285deg,#70d900 286.5deg,#0bb800 288.5deg,#00b709 289deg,#00e179 292.5deg,#00f3c9 294.5deg,#00fef9 296deg,#16e8ff 297.5deg,#4cafff 301.5deg,#4e9fff 304deg,#4e9fff 304.5deg,#50a8ff 306deg,#3cbfff 307deg,#15e9ff 308deg,#00fdf6 308.5deg,#00e58b 309.5deg,#00d75e 310deg,#00be1a 311deg,#00b400 311.5deg,#38c700 312.5deg,#68d700 314deg,#7ede00 315.5deg,#85e000 317.5deg,#76db00 320.5deg,#4ccd00 323.5deg,#04b500 327deg,#00e58a 335.5deg,#00f1c2 339deg,#00fbee 344.5deg,#02fcff 349.5deg,#24d8ff 360deg)"></i><i style="--r:68px;background:conic-gradient(#2bd2ff 0deg,#46b5ff 7.5deg,#46b5ff 8deg,#3cc0ff 10.5deg,#1de0ff 12deg,#0bf4ff 12.5deg,#00faeb 13deg,#00f0bd 13.5deg,#00e484 14deg,#00c52d 15deg,#00b606 15.5deg,#84e000 17deg,#bcef00 18deg,#fbfe00 19.5deg,#ffba00 23.5deg,#ff8a00 28.5deg,#fd6700 37deg,#f95d00 48deg,#f95c00 54deg,#fe6a00 64.5deg,#ff8d00 75deg,#ffba00 81deg,#fdfe00 87deg,#8ee300 92deg,#11ba00 96.5deg,#00b604 97.5deg,#00ce46 102.5deg,#00e58c 110deg,#00f8e2 116.5deg,#03fcff 118.5deg,#50aaff 125deg,#415cff 132.5deg,#4050fa 135.5deg,#404cf5 139.5deg,#404ff8 141deg,#4055ff 141.5deg,#4982ff 142deg,#29d3ff 142.5deg,#00e793 143deg,#00b707 143.5deg,#86e100 144deg,#ccf300 144.5deg,#f1fc00 145deg,#fffd00 145.5deg,#fffa00 146deg,#feff00 147deg,#bcef00 149.5deg,#87e100 151deg,#0fb900 153.5deg,#00b606 154deg,#00e383 158deg,#00f4cc 160deg,#00fdf8 161.5deg,#0cf3ff 162.5deg,#3dbfff 166.5deg,#50a8ff 169.5deg,#4d9cff 175.5deg,#50a8ff 181deg,#36c6ff 184deg,#08f7ff 186.5deg,#00fefa 187deg,#00e076 190.5deg,#00cb3c 193.5deg,#00c123 196.5deg,#00bf1e 199deg,#00c52f 204.5deg,#00dd6e 213.5deg,#00f0bd 221.5deg,#00f2c6 224deg,#00f0ba 226.5deg,#00e99d 228deg,#00cc40 231deg,#00b707 232.5deg,#12ba00 233deg,#96e600 235.5deg,#edfb00 238.5deg,#fffc00 239.5deg,#ffc700 244.5deg,#ff9700 252.5deg,#ff7c00 263.5deg,#ff7b00 266.5deg,#ff8700 272deg,#ffab00 276.5deg,#ffe700 280.5deg,#fffa00 281.5deg,#f8fd00 282deg,#8fe400 285deg,#0fb900 287.5deg,#00b707 288deg,#00e17a 291.5deg,#00f3cb 293.5deg,#00fefd 295deg,#45b6ff 299.5deg,#50abff 300.5deg,#4d9cff 303deg,#4ea1ff 304.5deg,#50a7ff 305deg,#3bc0ff 306deg,#11edff 307deg,#00fbee 307.5deg,#00e383 308.5deg,#00c836 309.5deg,#03b500 310.5deg,#3ac700 311.5deg,#69d700 313deg,#82df00 315deg,#86e100 316.5deg,#77dc00 319.5deg,#4ece00 322.5deg,#05b600 326deg,#00c226 328.5deg,#00e58c 334.5deg,#00f2c4 338deg,#00faea 342.5deg,#02fdff 348deg,#2bd2ff 360deg)"></i><i style="--r:66.5px;background:conic-gradient(#32caff 0deg,#48b2ff 7deg,#41baff 9deg,#2ad2ff 10.5deg,#09f6ff 11.5deg,#00fae7 12deg,#00efb8 12.5deg,#00e37f 13deg,#00b707 14.5deg,#55d000 15.5deg,#9fe800 16.5deg,#f4fc00 18.5deg,#fffa00 19deg,#ffc300 22deg,#ff9300 26.5deg,#ff7000 33.5deg,#fa5f00 42deg,#f95c00 53.5deg,#fe6a00 64deg,#ff8e00 74.5deg,#ffbc00 80.5deg,#fffc00 86deg,#94e500 91deg,#15bb00 95.5deg,#00b502 96.5deg,#00ce45 101.5deg,#00e791 109.5deg,#00fcf3 116.5deg,#04fbff 117.5deg,#4eacff 123.5deg,#415aff 131deg,#404ef7 135deg,#404bf3 138.5deg,#404ef7 140deg,#4053fe 140.5deg,#477cff 141deg,#30ccff 141.5deg,#00e99c 142deg,#00b80b 142.5deg,#86e100 143deg,#cff300 143.5deg,#f5fd00 144deg,#fff900 144.5deg,#fff600 145deg,#fcfe00 146.5deg,#a4e900 149.5deg,#60d400 151deg,#00b502 153deg,#00e382 157deg,#00f4ce 159deg,#00fefb 160.5deg,#40bbff 165.5deg,#50a8ff 168deg,#4d9bff 173deg,#4d9aff 174deg,#4fa7ff 180deg,#43b8ff 182deg,#12ecff 185deg,#00fef9 186deg,#00e076 189.5deg,#00ce44 192deg,#00c226 195deg,#00bf1e 198deg,#00c52e 203.5deg,#00dd6e 212.5deg,#00f1be 220.5deg,#00f3c7 223deg,#00f1c0 225deg,#00eca9 226.5deg,#00d251 229.5deg,#00b708 231.5deg,#10b900 232deg,#93e500 234.5deg,#ebfa00 237.5deg,#fffd00 238.5deg,#ffc800 243.5deg,#ff9800 251.5deg,#ff7e00 261.5deg,#ff7a00 265.5deg,#ff8600 271deg,#ffa800 275.5deg,#ffe400 279.5deg,#fdfe00 281deg,#95e600 284deg,#12ba00 286.5deg,#00b605 287deg,#00e27b 290.5deg,#00f4ce 292.5deg,#01feff 294deg,#42b9ff 298deg,#4fa6ff 299.5deg,#4d98ff 302deg,#4ea0ff 303.5deg,#48b2ff 304.5deg,#26d7ff 305.5deg,#0df1ff 306deg,#00fae7 306.5deg,#00e27b 307.5deg,#00c732 308.5deg,#05b600 309.5deg,#3bc800 310.5deg,#69d700 312deg,#83e000 314deg,#87e100 315.5deg,#79dc00 318.5deg,#51cf00 321.5deg,#06b600 325deg,#00bc15 326.5deg,#00eaa1 334.5deg,#00f4cc 337.5deg,#00fcf2 342.5deg,#02fdff 346.5deg,#29d4ff 358deg,#32caff 360deg)"></i><i style="--r:65px;background:conic-gradient(#39c3ff 0deg,#4ab0ff 6deg,#3dbfff 8.5deg,#29d3ff 9.5deg,#06f8ff 10.5deg,#00f8e1 11deg,#00eeb2 11.5deg,#00e27a 12deg,#00b707 13.5deg,#51cf00 14.5deg,#9ae700 15.5deg,#eefb00 17.5deg,#fffe00 18deg,#ffbf00 21.5deg,#ff9100 26deg,#ff6f00 33deg,#f95e00 42deg,#f95c00 53deg,#fd6900 63deg,#ff8c00 73.5deg,#ffb800 79.5deg,#feff00 85.5deg,#8be200 90.5deg,#0cb800 95deg,#00b400 95.5deg,#00ce44 100.5deg,#00e791 108.5deg,#00fbec 115deg,#00fffe 116deg,#50a8ff 122.5deg,#4158ff 129.5deg,#404af2 136.5deg,#404af2 137.5deg,#404cf5 139deg,#4052fc 139.5deg,#4676ff 140deg,#36c5ff 140.5deg,#00eba7 141deg,#00ba10 141.5deg,#83e000 142deg,#d0f400 142.5deg,#f9fe00 143deg,#fff200 144deg,#fffc00 145.5deg,#ebfa00 146.5deg,#9be700 149deg,#05b600 152deg,#00d250 154.5deg,#00e896 156.5deg,#00f8e0 158.5deg,#00ffff 159.5deg,#39c2ff 163.5deg,#50aaff 166deg,#4d99ff 171deg,#4d98ff 173deg,#4fa3ff 178.5deg,#4dadff 180deg,#2eceff 182.5deg,#07f8ff 184.5deg,#00fef9 185deg,#00e077 188.5deg,#00cb3d 191.5deg,#00c021 195deg,#00bf1d 197deg,#00c52e 202.5deg,#00dd6e 211.5deg,#00f0bc 219deg,#00f3c8 222deg,#00f1c0 224deg,#00eca9 225.5deg,#00d251 228.5deg,#00b709 230.5deg,#0fb900 231deg,#90e400 233.5deg,#dcf700 236deg,#ffff00 237.5deg,#ffc900 242.5deg,#ff9600 251deg,#ff7c00 261.5deg,#ff7a00 264.5deg,#ff8700 270.5deg,#ffac00 275deg,#ffea00 279deg,#fffd00 280deg,#99e700 283deg,#15bb00 285.5deg,#00b503 286deg,#00e27c 289.5deg,#00f5d1 291.5deg,#00fdf5 292.5deg,#04fbff 293deg,#47b4ff 297deg,#4fa2ff 298.5deg,#4c95ff 301deg,#4e9eff 302.5deg,#4fa6ff 303deg,#37c5ff 304deg,#09f5ff 305deg,#00f8df 305.5deg,#00e075 306.5deg,#00c62f 307.5deg,#00bb13 308deg,#08b700 308.5deg,#3cc800 309.5deg,#69d700 311deg,#83e000 313deg,#88e100 314.5deg,#7bdd00 317.5deg,#53d000 320.5deg,#00b503 324.5deg,#00e690 332.5deg,#00f2c2 335.5deg,#00fae8 339.5deg,#01feff 344.5deg,#29d4ff 356.5deg,#39c3ff 360deg)"></i><i style="--r:63.5px;background:conic-gradient(#40bbff 0deg,#4caeff 4.5deg,#43b8ff 7deg,#28d5ff 8.5deg,#03fbff 9.5deg,#00f7dc 10deg,#00e076 11deg,#00b707 12.5deg,#4ece00 13.5deg,#97e600 14.5deg,#fbfe00 17deg,#ffb400 21.5deg,#ff8900 26.5deg,#fd6700 35deg,#f95d00 46deg,#f95c00 52.5deg,#fd6800 62deg,#ff8c00 73deg,#ffb900 79deg,#fffb00 84.5deg,#eefb00 85.5deg,#82df00 90deg,#0fb900 94deg,#03b500 94.5deg,#00cf49 100deg,#00e690 107.5deg,#00f9e4 113.5deg,#00ffff 115deg,#50aaff 121deg,#4056ff 128deg,#4048f0 136.5deg,#4050fa 138.5deg,#4570ff 139deg,#3dbeff 139.5deg,#00eeb2 140deg,#00bc15 140.5deg,#80df00 141deg,#d1f400 141.5deg,#fcfe00 142deg,#ffee00 143deg,#fff700 144.5deg,#fffe00 145deg,#b4ed00 147.5deg,#8fe400 148.5deg,#0cb800 151deg,#00b809 151.5deg,#00e380 155deg,#00f5d1 157deg,#02fdff 158.5deg,#3dbeff 162.5deg,#50aaff 164.5deg,#4d98ff 169deg,#4c96ff 171.5deg,#4fa2ff 177.5deg,#49b2ff 179.5deg,#1be2ff 182.5deg,#06f8ff 183.5deg,#00fdf8 184deg,#00e177 187.5deg,#00ce45 190deg,#00c226 193deg,#00bf1d 196.5deg,#00c630 202deg,#00dd6e 210.5deg,#00f0bd 218deg,#00f3ca 221deg,#00f0bc 223.5deg,#00e99d 225deg,#00cc40 228deg,#00b80a 229.5deg,#0db800 230deg,#8de300 232.5deg,#d9f600 235deg,#fdff00 236.5deg,#ffbe00 243deg,#ff9300 251deg,#ff7b00 261.5deg,#ff7a00 263.5deg,#ff8600 269.5deg,#ffa900 274deg,#ffe700 278deg,#fffa00 279deg,#e5f900 280deg,#9ce800 282deg,#00b502 285deg,#00e27e 288.5deg,#00fae7 291deg,#00fefa 291.5deg,#2dcfff 294deg,#50a8ff 296.5deg,#4c92ff 299.5deg,#4b92ff 300deg,#4d9cff 301.5deg,#4fa5ff 302deg,#48b3ff 302.5deg,#1fdfff 303.5deg,#05faff 304deg,#00f6d8 304.5deg,#00de70 305.5deg,#00ba11 307deg,#09b700 307.5deg,#3cc800 308.5deg,#6ad700 310deg,#83e000 312deg,#89e200 313.5deg,#7dde00 316.5deg,#4ccd00 320deg,#00b502 323.5deg,#00e99c 332deg,#00f3cb 335deg,#00fcf3 340deg,#03fbff 344deg,#29d4ff 355deg,#40bbff 360deg)"></i><i style="--r:62px;background:conic-gradient(#47b4ff 0deg,#4eacff 3.5deg,#48b3ff 5.5deg,#33c9ff 7deg,#15e9ff 8deg,#00ffff 8.5deg,#00eba4 9.5deg,#00de71 10deg,#00b606 11.5deg,#70d900 13deg,#92e500 13.5deg,#f6fd00 16deg,#fffa00 16.5deg,#ffbd00 20deg,#ff8d00 25deg,#ff6e00 32deg,#f95e00 40.5deg,#f95c00 52deg,#fd6700 61deg,#ff8a00 72deg,#ffb600 78deg,#fffe00 84deg,#98e600 88.5deg,#20bf00 92.5deg,#06b600 93.5deg,#00bc14 95deg,#00d352 100deg,#00e690 106.5deg,#00f7dc 112deg,#01fdff 114deg,#4dadff 119.5deg,#4159ff 126deg,#404af3 131deg,#4047ef 135.5deg,#404ff9 137.5deg,#446aff 138deg,#45b6ff 138.5deg,#00f0bd 139deg,#00bf1c 139.5deg,#7bdd00 140deg,#d0f400 140.5deg,#ffff00 141deg,#fff000 141.5deg,#ffea00 142.5deg,#fdfe00 144.5deg,#99e700 147.5deg,#14bb00 150deg,#00b605 150.5deg,#00e37f 154deg,#00f5d3 156deg,#00fdf6 157deg,#04fbff 157.5deg,#3bc0ff 161deg,#50aaff 163deg,#4c96ff 168deg,#4c94ff 170.5deg,#4ea1ff 176.5deg,#4eacff 178deg,#24d8ff 181deg,#06f9ff 182.5deg,#00fdf7 183deg,#00e178 186.5deg,#00cb3e 189.5deg,#00c123 192.5deg,#00bf1d 195.5deg,#00c52c 200.5deg,#00dd6e 209.5deg,#00f1be 217deg,#00f3cb 220deg,#00f0bc 222.5deg,#00e99d 224deg,#00c62f 227.5deg,#00b80b 228.5deg,#0bb800 229deg,#89e200 231.5deg,#c9f200 233.5deg,#fafe00 235.5deg,#ffe300 238deg,#ffaf00 244.5deg,#ff8800 253.5deg,#ff7a00 263deg,#ff8700 269deg,#ffa700 273deg,#ffda00 276.5deg,#fafe00 278.5deg,#a0e800 281deg,#00b400 284deg,#00e380 287.5deg,#00f7d9 289.5deg,#00ffff 290.5deg,#49b1ff 294.5deg,#4fa4ff 295.5deg,#4b90ff 298deg,#4b8fff 298.5deg,#4c94ff 300deg,#4fa4ff 301deg,#49b2ff 301.5deg,#1edfff 302.5deg,#02fdff 303deg,#00dc6c 304.5deg,#00c42a 305.5deg,#00ba0f 306deg,#0bb800 306.5deg,#3dc800 307.5deg,#6ad700 309deg,#84e000 311deg,#89e200 313deg,#7add00 316deg,#4ece00 319deg,#00b401 322.5deg,#00e794 330.5deg,#00f3c7 333.5deg,#00fbec 337.5deg,#02fdff 342deg,#2bd2ff 354deg,#47b4ff 360deg)"></i><i style="--r:60.5px;background:conic-gradient(#4dadff 0deg,#50a9ff 2deg,#48b2ff 4.5deg,#31cbff 6deg,#12ecff 7deg,#00fef8 7.5deg,#00e99c 8.5deg,#00dd6c 9deg,#00b605 10.5deg,#8ee300 12.5deg,#f0fc00 15deg,#fffd00 15.5deg,#ffc000 19deg,#ff9300 23.5deg,#ff7200 30deg,#f95e00 40deg,#f95c00 51.5deg,#fd6800 60.5deg,#ff8800 71deg,#ffb200 77deg,#fbfe00 83.5deg,#8fe400 88deg,#09b700 92.5deg,#00b502 93deg,#00cd42 97.5deg,#00e895 106deg,#00f7dd 111deg,#03fcff 113deg,#50a8ff 118.5deg,#4157ff 124.5deg,#4046ee 133deg,#4046ee 134deg,#4049f1 136deg,#404ef7 136.5deg,#4364ff 137deg,#4daeff 137.5deg,#00f3ca 138deg,#00c124 138.5deg,#75db00 139deg,#cff400 139.5deg,#fffe00 140deg,#ffee00 140.5deg,#ffe600 141.5deg,#fffb00 143.5deg,#f8fd00 144deg,#a2e900 146.5deg,#54d000 148deg,#01b400 149.5deg,#00e27e 153deg,#00fae7 155.5deg,#00fef9 156deg,#19e4ff 157.5deg,#4ab0ff 161deg,#4ea0ff 163deg,#4c92ff 168.5deg,#4c92ff 169deg,#4ea0ff 175.5deg,#4ab1ff 177.5deg,#1ae3ff 180.5deg,#05f9ff 181.5deg,#00fdf6 182deg,#00e178 185.5deg,#00cb3f 188.5deg,#00c123 191.5deg,#00bf1c 194.5deg,#00c42c 199.5deg,#00da66 207.5deg,#00e690 211.5deg,#00f2c3 216.5deg,#00f4cc 219deg,#00f0bd 221.5deg,#00e68f 223.5deg,#00b90c 227.5deg,#09b700 228deg,#85e000 230.5deg,#b8ee00 232deg,#f7fd00 234.5deg,#fff600 235.5deg,#ffc100 241deg,#ff9400 249deg,#ff7b00 259.5deg,#ff7a00 262deg,#ff8600 268deg,#ffaa00 272.5deg,#ffea00 276.5deg,#ffff00 277.5deg,#8de300 280.5deg,#01b400 283deg,#00e483 286.5deg,#00fcf2 289deg,#04fbff 289.5deg,#4fabff 293.5deg,#4b8eff 296.5deg,#4a8bff 297.5deg,#4d99ff 299.5deg,#49b2ff 300.5deg,#1edfff 301.5deg,#02fdff 302deg,#00f4cf 302.5deg,#00e896 303deg,#00db68 303.5deg,#00c328 304.5deg,#00b90e 305deg,#0cb800 305.5deg,#3dc800 306.5deg,#6ad700 308deg,#84e000 310deg,#8ae200 312deg,#7cdd00 315deg,#51cf00 318deg,#01b400 321.5deg,#00e896 329.5deg,#00f3c9 332.5deg,#00fbee 336.5deg,#02fdff 340.5deg,#2bd2ff 352.5deg,#4dadff 360deg)"></i><i style="--r:59px;background:conic-gradient(#50a8ff 0deg,#50a7ff 1deg,#48b2ff 3.5deg,#2fcdff 5deg,#0ef0ff 6deg,#00fcf1 6.5deg,#00db67 8deg,#00b504 9.5deg,#8ae200 11.5deg,#daf600 13.5deg,#fcfe00 14.5deg,#ffb600 19deg,#ff8a00 24deg,#fd6700 33deg,#f95d00 44deg,#f95c00 51deg,#fd6800 60deg,#ff8b00 71deg,#ffb400 76.5deg,#fffd00 82.5deg,#96e600 87deg,#1abd00 91deg,#00b400 92deg,#00ce47 97deg,#00e68f 104.5deg,#00f6d4 109.5deg,#00fefb 111.5deg,#2fcdff 115deg,#4fabff 117deg,#4056ff 123deg,#4046ed 131deg,#4045ed 133deg,#404cf5 135.5deg,#425eff 136deg,#4fa6ff 136.5deg,#00f6d8 137deg,#00c52c 137.5deg,#6dd800 138deg,#cdf300 138.5deg,#fffe00 139deg,#ffec00 139.5deg,#ffe200 140.5deg,#fff500 142.5deg,#fffe00 143deg,#bef000 145deg,#98e600 146deg,#09b700 148.5deg,#00b90d 149deg,#00e27d 152deg,#00f6d7 154deg,#00fffd 155deg,#3cbfff 158.5deg,#4fa7ff 160.5deg,#4c93ff 164.5deg,#4b90ff 168deg,#4d9cff 174deg,#50abff 176deg,#23d9ff 179deg,#05faff 180.5deg,#00f9e3 181.5deg,#00e179 184.5deg,#00cc3f 187.5deg,#00c123 190.5deg,#00be1c 193.5deg,#00c42b 198.5deg,#00da65 206.5deg,#00e99c 211.5deg,#00f3c7 216deg,#00f4ce 218deg,#00f2c4 220deg,#00e99e 222deg,#00c631 225.5deg,#06b600 227deg,#97e600 230deg,#e9fa00 233deg,#ffff00 234deg,#ffca00 239deg,#ff9700 247.5deg,#ff7d00 257.5deg,#ff7a00 261.5deg,#ff8800 267.5deg,#ffa800 271.5deg,#ffde00 275deg,#fffc00 276.5deg,#cdf300 278deg,#92e500 279.5deg,#02b500 282deg,#00e487 285.5deg,#00fef8 288deg,#13ebff 289deg,#4dadff 292deg,#4a8cff 295deg,#4a88ff 296.5deg,#4d98ff 298.5deg,#49b2ff 299.5deg,#1ee0ff 300.5deg,#02fdff 301deg,#00db67 302.5deg,#00c226 303.5deg,#00b90d 304deg,#0db800 304.5deg,#4fce00 306deg,#73da00 307.5deg,#87e100 309.5deg,#8be200 311deg,#7ede00 314deg,#54d000 317deg,#02b500 320.5deg,#00e382 327.5deg,#00f0bd 330.5deg,#00f9e6 334deg,#02fdff 339deg,#2bd2ff 351deg,#50a9ff 359.5deg,#50a8ff 360deg)"></i><i style="--r:57.5px;background:conic-gradient(#4fa6ff 0deg,#4dadff 2deg,#39c3ff 3.5deg,#1de0ff 4.5deg,#09f5ff 5deg,#00fae8 5.5deg,#00d962 7deg,#00b502 8.5deg,#68d700 10deg,#9fe800 11deg,#f8fd00 13.5deg,#fff000 14.5deg,#ffb900 18deg,#ff8f00 22.5deg,#ff6e00 30deg,#f95e00 38.5deg,#f95c00 50.5deg,#fd6900 60deg,#ff8c00 70.5deg,#ffb500 76deg,#fdff00 82deg,#8ce300 86.5deg,#11ba00 90.5deg,#03b500 91deg,#00ce46 96deg,#00e794 104deg,#00f8de 109deg,#00fefc 110.5deg,#3ac1ff 114.5deg,#4fa7ff 116deg,#4054ff 121.5deg,#4045ec 128.5deg,#4044eb 131.5deg,#404bf4 134.5deg,#4158ff 135deg,#4e9eff 135.5deg,#00f9e6 136deg,#00c835 136.5deg,#64d500 137deg,#caf200 137.5deg,#fffe00 138deg,#ffeb00 138.5deg,#ffdf00 139.5deg,#ffe900 141deg,#fcfe00 142.5deg,#a1e900 145deg,#4dce00 146.5deg,#12ba00 147.5deg,#00b708 148deg,#00e27c 151deg,#00fbee 153.5deg,#01feff 154deg,#39c2ff 157deg,#50a8ff 159deg,#4c92ff 163deg,#4b8eff 166.5deg,#4d9bff 173deg,#50aaff 175deg,#23daff 178deg,#04fbff 179.5deg,#00f9e3 180.5deg,#00e17a 183.5deg,#00cc3f 186.5deg,#00c123 189.5deg,#00be1c 192.5deg,#00c42a 197.5deg,#00da65 205.5deg,#00e691 209.5deg,#00f3c8 215deg,#00f4cf 217deg,#00f2c5 219deg,#00ea9f 221deg,#00c021 225deg,#03b500 226deg,#93e500 229deg,#e5f900 232deg,#fcfe00 233deg,#ffc300 239deg,#ff9600 247deg,#ff7c00 257deg,#ff7900 260.5deg,#ff8700 266.5deg,#ffab00 271deg,#ffee00 275deg,#f7fd00 276deg,#96e600 278.5deg,#03b500 281deg,#00df73 284deg,#00ffff 287deg,#42b9ff 290deg,#50a7ff 291deg,#4a88ff 294deg,#4985ff 295deg,#4b90ff 297deg,#4fa3ff 298deg,#48b3ff 298.5deg,#1de1ff 299.5deg,#01feff 300deg,#00db69 301.5deg,#00c327 302.5deg,#00b90c 303deg,#0db800 303.5deg,#4fce00 305deg,#73da00 306.5deg,#88e100 308.5deg,#8ce300 310deg,#80df00 313deg,#56d100 316deg,#11ba00 319deg,#04b500 319.5deg,#00e484 326.5deg,#00f1c0 329.5deg,#00fbec 333.5deg,#01feff 337.5deg,#2dcfff 350deg,#50a9ff 357.5deg,#4fa5ff 359.5deg,#4fa6ff 360deg)"></i><i style="--r:56px;background:conic-gradient(#4fa6ff 0deg,#48b2ff 1.5deg,#29d3ff 3deg,#04fbff 4deg,#00f8de 4.5deg,#00e381 5.5deg,#00bf1d 7deg,#00b400 7.5deg,#66d600 9deg,#9ce800 10deg,#f3fc00 12.5deg,#fffc00 13deg,#ffbb00 17deg,#ff8d00 22deg,#fd6900 31deg,#f95e00 39.5deg,#f95c00 50deg,#fd6800 59deg,#ff8c00 70deg,#ffbc00 76deg,#fffc00 81deg,#d3f400 83deg,#94e500 85.5deg,#14bb00 89.5deg,#00b604 90.5deg,#00cc3f 94.5deg,#00e99a 103.5deg,#00f8de 108deg,#00fffe 109.5deg,#50aaff 114.5deg,#4054ff 120deg,#4044eb 127deg,#4043ea 130deg,#4046ed 133deg,#4054fe 134deg,#4c96ff 134.5deg,#00fdf5 135deg,#00cc3f 135.5deg,#59d200 136deg,#c6f200 136.5deg,#fffe00 137deg,#ffea00 137.5deg,#ffdb00 138.5deg,#ffea00 140.5deg,#fffb00 141.5deg,#e5f900 142.5deg,#96e600 144.5deg,#00b503 147deg,#00e27b 150deg,#00f7dc 152deg,#04fbff 153deg,#3ebdff 156deg,#50a9ff 157.5deg,#4c92ff 161deg,#4a8cff 165.5deg,#4d9aff 172deg,#50a9ff 174deg,#22dbff 177deg,#04fbff 178.5deg,#00edaf 181deg,#00de6f 183deg,#00c939 186deg,#00c021 189deg,#00be1b 192deg,#00c52c 197deg,#00dc69 205deg,#00f1c2 213deg,#00f5d1 216deg,#00f2c6 218deg,#00edac 219.5deg,#00cd44 223deg,#00b400 225deg,#8fe400 228deg,#e2f800 231deg,#fffc00 232.5deg,#ffc500 238deg,#ff9600 246deg,#ff7c00 256deg,#ff7900 259.5deg,#ff8700 265.5deg,#ffa300 269.5deg,#ffd700 273deg,#fcfe00 275deg,#99e700 277.5deg,#03b500 280deg,#00e075 283deg,#00fcf1 285.5deg,#05faff 286deg,#48b3ff 289deg,#50a9ff 289.5deg,#4986ff 292.5deg,#4882ff 294deg,#4b90ff 296deg,#4fa4ff 297deg,#47b4ff 297.5deg,#00fffe 299deg,#00dc69 300.5deg,#00c329 301.5deg,#00b90f 302deg,#0cb800 302.5deg,#3dc800 303.5deg,#69d700 305deg,#85e000 307deg,#8ce300 309deg,#7ede00 312.5deg,#59d200 315deg,#06b600 318.5deg,#00bd19 320deg,#00e792 326deg,#00f3c9 329deg,#00fcf1 333deg,#02fcff 336.5deg,#29d4ff 347.5deg,#50a8ff 356deg,#4fa3ff 358.5deg,#4fa6ff 360deg)"></i><i style="--r:54.5px;background:conic-gradient(#4dadff 0deg,#36c6ff 1.5deg,#17e6ff 2.5deg,#03fcff 3deg,#00f7dc 3.5deg,#00e381 4.5deg,#00c020 6deg,#00b604 6.5deg,#96e600 9deg,#fbfe00 12deg,#ffb300 17deg,#ff8900 22deg,#fd6700 31deg,#f95d00 42deg,#f95c00 49.5deg,#fd6700 58deg,#ff8a00 69deg,#ffb300 74.5deg,#fff000 79.5deg,#ffff00 80.5deg,#89e200 85deg,#0ab700 89deg,#00b502 89.5deg,#00cb3e 93.5deg,#00e793 102deg,#00f6d5 106.5deg,#00ffff 108.5deg,#4fa7ff 113.5deg,#4054ff 118.5deg,#4044eb 125deg,#4043ea 128.5deg,#4046ed 132deg,#4052fd 133deg,#4b90ff 133.5deg,#03fcff 134deg,#00d04a 134.5deg,#4dce00 135deg,#c2f000 135.5deg,#feff00 136deg,#ffe900 136.5deg,#ffd900 137.5deg,#ffd800 138deg,#ffec00 140deg,#fffe00 141deg,#a0e800 143.5deg,#05b600 146deg,#00da66 148.5deg,#00e795 149.5deg,#00fdf5 151.5deg,#06f8ff 152deg,#41baff 155deg,#4fabff 156deg,#4c94ff 159deg,#4a8cff 164.5deg,#4d98ff 170.5deg,#50aaff 173deg,#21dcff 176deg,#02fcff 177.5deg,#00de6f 182deg,#00ca39 185deg,#00c01f 188.5deg,#00be1b 191deg,#00c42b 196deg,#00e177 205.5deg,#00f1bf 211.5deg,#00f5d2 214.5deg,#00f5d2 215deg,#00f3c7 217deg,#00eaa0 219deg,#00c124 223deg,#00b502 224deg,#8ae200 227deg,#c6f100 229deg,#fffe00 231.5deg,#ffc200 237.5deg,#ff9500 245.5deg,#ff7b00 256deg,#ff7900 259deg,#ff8800 265deg,#ffa700 269deg,#ffde00 272.5deg,#fffe00 274deg,#9ce800 276.5deg,#04b500 279deg,#00e179 282deg,#00fef9 284.5deg,#23daff 286deg,#4eadff 288deg,#4a8aff 290.5deg,#4880ff 292.5deg,#4a8aff 294.5deg,#4fa6ff 296deg,#44b7ff 296.5deg,#00fefb 298deg,#00e896 299deg,#00dc6a 299.5deg,#00ba11 301deg,#08b700 301.5deg,#3bc800 302.5deg,#69d700 304deg,#85e000 306deg,#8de300 308.5deg,#80df00 311.5deg,#52cf00 314.5deg,#00b504 318deg,#00ea9f 325.5deg,#00f5d2 328.5deg,#00fdf6 332.5deg,#03fcff 335.5deg,#2cd0ff 347deg,#50a8ff 354.5deg,#4fa2ff 357deg,#4dadff 360deg)"></i><i style="--r:53px;background:conic-gradient(#40bcff 0deg,#17e7ff 1.5deg,#03fcff 2deg,#00eeb1 3deg,#00e382 3.5deg,#00c123 5deg,#00b709 5.5deg,#17bc00 6deg,#8ce300 8deg,#f3fc00 11deg,#fffd00 11.5deg,#ffbd00 15.5deg,#ff8e00 20.5deg,#fd6800 30deg,#f95d00 39.5deg,#f95c00 49deg,#fd6800 57.5deg,#ff8800 68deg,#ffb400 74deg,#fffb00 79.5deg,#edfb00 80.5deg,#91e400 84deg,#1cbd00 87.5deg,#00b400 88.5deg,#00cd44 93deg,#00e899 101.5deg,#00f6d5 105.5deg,#00ffff 107.5deg,#4eacff 112deg,#4054ff 117deg,#4044eb 123deg,#4043e9 126.5deg,#4045ed 131deg,#4052fc 132deg,#4a8aff 132.5deg,#0cf2ff 133deg,#00d455 133.5deg,#40c900 134deg,#bcef00 134.5deg,#fcfe00 135deg,#ffe900 135.5deg,#ffd700 136.5deg,#ffd500 137deg,#ffe600 139deg,#fbfe00 140.5deg,#93e500 143deg,#0fb900 145deg,#00b90d 145.5deg,#00e178 148deg,#00f8e1 150deg,#00fdf8 150.5deg,#15e9ff 151.5deg,#4caeff 154.5deg,#4c92ff 158deg,#4a8bff 163deg,#4d98ff 169.5deg,#4fabff 172deg,#1fdeff 175deg,#01feff 176.5deg,#00de70 181deg,#00ca3a 184deg,#00c121 187deg,#00be1a 190deg,#00c42b 195deg,#00da64 202.5deg,#00e791 206.5deg,#00f3c8 211.5deg,#00f5d3 214deg,#00f3c8 216deg,#00eaa0 218deg,#00c226 222deg,#00b604 223deg,#42ca00 224.5deg,#99e700 226.5deg,#fdfe00 230.5deg,#ffc000 237deg,#ff9400 245deg,#ff7b00 255deg,#ff7900 258deg,#ff8700 264deg,#ffa400 268deg,#ffdb00 271.5deg,#fffb00 273deg,#dff700 274deg,#a0e800 275.5deg,#04b500 278deg,#00e27e 281deg,#00fae9 283deg,#01fdff 283.5deg,#4ab0ff 286.5deg,#4e9eff 287.5deg,#4880ff 290.5deg,#487eff 291.5deg,#4a8bff 293.5deg,#50a9ff 295deg,#2dcfff 296deg,#00fdf7 297deg,#00e794 298deg,#00dc69 298.5deg,#00bb13 300deg,#05b600 300.5deg,#38c700 301.5deg,#68d700 303deg,#85e000 305deg,#8ee300 307.5deg,#82df00 310.5deg,#5fd400 313deg,#00b502 317deg,#00e896 324deg,#00f4cd 327deg,#00fcf1 330.5deg,#02fdff 334deg,#29d4ff 345deg,#50a8ff 353deg,#4ea2ff 356deg,#4dadff 359deg,#40bcff 360deg)"></i><i style="--r:51.5px;background:conic-gradient(#27d6ff 0deg,#02fdff 1deg,#00eeb1 2deg,#00e483 2.5deg,#00c226 4deg,#00b90c 4.5deg,#11ba00 5deg,#82df00 7deg,#aaeb00 8deg,#fafe00 10.5deg,#ffd600 13deg,#ffa100 17.5deg,#ff7d00 23deg,#fa5f00 34deg,#f95c00 48.5deg,#fd6800 57deg,#ff8b00 68deg,#ffbb00 74deg,#fffe00 79deg,#98e600 83deg,#21bf00 86.5deg,#03b500 87.5deg,#00cf49 92.5deg,#00e899 100.5deg,#00f6d5 104.5deg,#01feff 106.5deg,#50a8ff 111deg,#4056ff 115.5deg,#4044eb 121.5deg,#4042e9 125deg,#4045ed 130deg,#4051fb 131deg,#4984ff 131.5deg,#15e9ff 132deg,#00d861 132.5deg,#32c500 133deg,#b5ed00 133.5deg,#f8fd00 134deg,#ffdc00 135deg,#ffd200 136deg,#ffe100 138deg,#fffb00 139.5deg,#e1f800 140.5deg,#9fe800 142deg,#19bc00 144deg,#00b707 144.5deg,#00e177 147deg,#00f9e4 149deg,#00fefc 149.5deg,#41baff 152.5deg,#50aaff 153.5deg,#4c92ff 156.5deg,#4a8bff 162deg,#4c96ff 168deg,#4eacff 171deg,#1edfff 174deg,#00ffff 175.5deg,#00de71 180deg,#00ca3a 183deg,#00c01f 186.5deg,#00be1a 189.5deg,#00c630 195deg,#00dd6d 202.5deg,#00f2c5 210deg,#00f6d5 213deg,#00f3c9 215deg,#00eaa1 217deg,#00bd17 221.5deg,#00b607 222deg,#0eb900 222.5deg,#95e600 225.5deg,#f9fe00 229.5deg,#fff000 231deg,#ffba00 237deg,#ff8f00 245.5deg,#ff7900 256.5deg,#ff7900 257.5deg,#ff8900 263.5deg,#ffa800 267.5deg,#ffe100 271deg,#fff700 272deg,#f8fd00 272.5deg,#89e200 275deg,#04b500 277deg,#00e485 280deg,#00fcf2 282deg,#07f8ff 282.5deg,#50aaff 285.5deg,#4986ff 288deg,#487dff 290deg,#4987ff 292deg,#4e9fff 293.5deg,#4eacff 294deg,#12ecff 295.5deg,#00fcf2 296deg,#00e792 297deg,#00db69 297.5deg,#00bc14 299deg,#03b500 299.5deg,#49cc00 301deg,#72da00 302.5deg,#8be200 305deg,#8ee300 306.5deg,#84e000 309.5deg,#63d500 312deg,#1bbd00 315deg,#00b401 316deg,#00e898 323deg,#00f4d0 326deg,#00fcf2 329.5deg,#03fcff 333deg,#28d5ff 343.5deg,#50a9ff 351.5deg,#4ea1ff 355deg,#4dadff 358deg,#34c7ff 359.5deg,#27d6ff 360deg)"></i><i style="--r:50px;background:conic-gradient(#01feff 0deg,#00e484 1.5deg,#00c329 3deg,#00ba0f 3.5deg,#0bb800 4deg,#7add00 6deg,#a4e900 7deg,#fffd00 10deg,#ffb800 14.5deg,#ff8900 20deg,#fd6700 29deg,#f95d00 40deg,#f95c00 48deg,#fd6800 56.5deg,#ff8c00 67.5deg,#ffbc00 73.5deg,#fcfe00 78.5deg,#8ee300 82.5deg,#16bb00 86deg,#00b605 87deg,#00cd42 91deg,#00e898 99.5deg,#00f6d4 103.5deg,#01feff 105.5deg,#4bafff 109.5deg,#4b90ff 111deg,#4157ff 114deg,#4045ec 119deg,#4042e9 123deg,#4045ec 129deg,#4050fa 130deg,#487fff 130.5deg,#1de0ff 131deg,#00dd6d 131.5deg,#22bf00 132deg,#adeb00 132.5deg,#f3fc00 133deg,#ffeb00 133.5deg,#ffd400 134.5deg,#ffd000 135.5deg,#ffe200 137.5deg,#fffe00 139deg,#abeb00 141deg,#91e400 141.5deg,#00b400 143.5deg,#00e076 146deg,#00fae8 148deg,#01feff 148.5deg,#3cbfff 151deg,#4daeff 152deg,#4c92ff 155deg,#4a8aff 161deg,#4c97ff 167deg,#4eadff 170deg,#1ce1ff 173deg,#00fffe 174.5deg,#00df72 179deg,#00ca3b 182deg,#00c01f 185.5deg,#00be1a 188.5deg,#00c329 193deg,#00d75e 200deg,#00e898 205deg,#00f4ce 210deg,#00f6d6 212deg,#00f3cb 214deg,#00eaa2 216deg,#00be19 220.5deg,#00b709 221deg,#0ab700 221.5deg,#90e400 224.5deg,#eafa00 228deg,#ffff00 229deg,#ffc700 234.5deg,#ff9800 242.5deg,#ff7c00 252.5deg,#ff7900 256.5deg,#ff8400 261.5deg,#ffa000 266deg,#ffcb00 269deg,#fdff00 271.5deg,#a7ea00 273.5deg,#6bd800 274.5deg,#03b500 276deg,#00de70 278.5deg,#00fefc 281deg,#4dadff 284deg,#4986ff 286.5deg,#477bff 288.5deg,#4a88ff 291deg,#4fa2ff 292.5deg,#4ab0ff 293deg,#0fefff 294.5deg,#00fbed 295deg,#00e68f 296deg,#00db68 296.5deg,#00bc15 298deg,#00b400 298.5deg,#33c500 299.5deg,#65d600 301deg,#85e000 303deg,#8fe400 305.5deg,#82df00 309deg,#5cd300 311.5deg,#01b400 315deg,#00e68e 321.5deg,#00f3cb 324.5deg,#00fcf4 328.5deg,#03fcff 332deg,#2eceff 343.5deg,#50a9ff 350deg,#4ea0ff 353.5deg,#50a9ff 356.5deg,#3ebdff 358deg,#15e9ff 359.5deg,#01feff 360deg)"></i><i style="--r:48.5px;background:conic-gradient(#00edaf 0deg,#00e484 0.5deg,#00ce46 1.5deg,#00bb12 2.5deg,#06b600 3deg,#72da00 5deg,#adeb00 6.5deg,#fafe00 9deg,#ffd700 11.5deg,#ffa200 16deg,#ff7800 23deg,#fa5f00 33deg,#f95c00 47.5deg,#fd6800 56deg,#ff8c00 67deg,#ffb800 72.5deg,#fffc00 77.5deg,#a4e900 81deg,#1abd00 85deg,#00b502 86deg,#00cc41 90deg,#00e898 98.5deg,#00f5d4 102.5deg,#02fdff 104.5deg,#4fabff 108.5deg,#4159ff 112.5deg,#4047ef 116deg,#4042e9 121.5deg,#4045ec 128deg,#4050f9 129deg,#477aff 129.5deg,#25d7ff 130deg,#00e179 130.5deg,#12ba00 131deg,#a4e900 131.5deg,#eefb00 132deg,#ffed00 132.5deg,#ffd300 133.5deg,#ffce00 134.5deg,#ffdc00 136.5deg,#fafe00 138.5deg,#9ee800 140.5deg,#0bb800 142.5deg,#00bb13 143deg,#00e075 145deg,#00fbec 147deg,#04fbff 147.5deg,#40bbff 150deg,#50a9ff 151deg,#4b90ff 154deg,#4a8aff 159.5deg,#4c97ff 166deg,#4dadff 169deg,#11edff 172.5deg,#00fefc 173.5deg,#00df73 178deg,#00ca3b 181deg,#00c122 184deg,#00bd19 187.5deg,#00c328 192deg,#00d75e 199deg,#00e484 202.5deg,#00f2c6 208deg,#00f6d8 211deg,#00f4cc 213deg,#00eba3 215deg,#00be1c 219.5deg,#06b600 220.5deg,#8ae200 223.5deg,#c3f100 225.5deg,#fcfe00 228deg,#ffbd00 235deg,#ff9300 243deg,#ff7b00 252.5deg,#ff7800 256deg,#ff8a00 262deg,#ffa900 266deg,#ffdb00 269deg,#fffd00 270.5deg,#abeb00 272.5deg,#91e400 273deg,#03b500 275deg,#00e075 277.5deg,#00fbec 279.5deg,#05faff 280deg,#49b1ff 282.5deg,#4d9dff 283.5deg,#4881ff 285.5deg,#4779ff 287.5deg,#4a8aff 290deg,#4fa5ff 291.5deg,#47b4ff 292deg,#0bf3ff 293.5deg,#00fae7 294deg,#00e58c 295deg,#00d049 296deg,#00b401 297.5deg,#45cb00 299deg,#6fd900 300.5deg,#89e200 302.5deg,#8fe400 305deg,#84e000 308deg,#60d400 310.5deg,#13ba00 313.5deg,#04b500 314deg,#00e690 320.5deg,#00f2c5 323deg,#00fbee 326.5deg,#01feff 330deg,#27d5ff 341deg,#4fa7ff 349deg,#4ea0ff 352.5deg,#50a9ff 355.5deg,#3dbeff 357deg,#13eaff 358.5deg,#00fffe 359deg,#00edaf 360deg)"></i><i style="--r:47px;background:conic-gradient(#00d963 0deg,#00bc14 1.5deg,#02b500 2deg,#6bd800 4deg,#a7ea00 5.5deg,#fffe00 8.5deg,#ffc000 12.5deg,#ff9100 17.5deg,#ff7100 24.5deg,#f95e00 34deg,#f95c00 47deg,#fd6700 55deg,#ff8a00 66deg,#ffb400 71.5deg,#fff800 76.5deg,#feff00 77deg,#8ae200 81deg,#1ebe00 84deg,#00b400 85deg,#00cc40 89deg,#00e99d 98deg,#00f5d4 101.5deg,#02fdff 103.5deg,#4fa6ff 107.5deg,#4053fe 111.5deg,#4043e9 117deg,#4042e8 119.5deg,#4045ec 127deg,#404ff9 128deg,#4676ff 128.5deg,#2dcfff 129deg,#00e58b 129.5deg,#00b400 130deg,#9ae700 130.5deg,#e7f900 131deg,#ffef00 131.5deg,#ffd200 132.5deg,#ffcb00 133.5deg,#ffd700 135.5deg,#fffa00 137.5deg,#f2fc00 138deg,#8ee300 140deg,#16bb00 141.5deg,#00b90c 142deg,#00e074 144deg,#00fcf0 146deg,#07f8ff 146.5deg,#45b6ff 149deg,#4fa5ff 150deg,#4b8fff 153deg,#4a89ff 158.5deg,#4d97ff 165deg,#4caeff 168deg,#10eeff 171.5deg,#00fefa 172.5deg,#00db69 177.5deg,#00c835 180.5deg,#00c020 183.5deg,#00bd19 186.5deg,#00c327 191deg,#00d75d 198deg,#00e58b 202deg,#00f4cc 207.5deg,#00f7d9 210deg,#00f4cd 212deg,#00eba4 214deg,#02b500 219.5deg,#98e600 223deg,#f8fd00 227deg,#fff700 228deg,#ffbf00 234deg,#ff9600 241.5deg,#ff7c00 251deg,#ff7800 255deg,#ff8600 260.5deg,#ffa700 265deg,#ffd700 268deg,#fff900 269.5deg,#f3fc00 270deg,#96e600 272deg,#02b500 274deg,#00e27b 276.5deg,#00fdf7 278.5deg,#1ce2ff 279.5deg,#50a9ff 281.5deg,#4881ff 284deg,#4778ff 286deg,#4986ff 288.5deg,#50a9ff 290.5deg,#1ee0ff 292deg,#07f8ff 292.5deg,#00f8e1 293deg,#00e589 294deg,#00cf49 295deg,#00b502 296.5deg,#54d000 298.5deg,#78dc00 300deg,#8ce300 302deg,#8fe400 304deg,#86e100 307deg,#63d500 309.5deg,#16bb00 312.5deg,#00b606 313.5deg,#00e485 319deg,#00f1bf 321.5deg,#00fbec 325deg,#01feff 328.5deg,#22dbff 338.5deg,#50a8ff 347.5deg,#4e9fff 351deg,#50a9ff 354.5deg,#3cbfff 356deg,#12ecff 357.5deg,#00fefc 358deg,#00e483 359.5deg,#00d963 360deg)"></i><i style="--r:45.5px;background:conic-gradient(#00c52e 0deg,#00b401 1deg,#7bdd00 3.5deg,#bff000 5.5deg,#f9fe00 7.5deg,#ffe800 9deg,#ffb200 13deg,#ff8400 19deg,#fb6100 29.5deg,#f85c00 47deg,#fe6a00 55.5deg,#ff8d00 66deg,#ffbb00 71.5deg,#fffb00 76deg,#eafa00 77deg,#93e500 80deg,#23c000 83deg,#03b500 84deg,#00ce46 88.5deg,#00e897 96.5deg,#00f5d3 100.5deg,#03fcff 102.5deg,#4caeff 106deg,#4054fe 110deg,#4043ea 115deg,#4042e8 118deg,#4045ec 126deg,#404ff9 127deg,#4672ff 127.5deg,#35c7ff 128deg,#00e99d 128.5deg,#00b90d 129deg,#8de300 129.5deg,#dff700 130deg,#fff200 130.5deg,#ffde00 131deg,#ffcc00 132deg,#ffca00 133deg,#ffd800 135deg,#fffe00 137deg,#b9ee00 138.5deg,#9de800 139deg,#23c000 140.5deg,#00b605 141deg,#00df73 143deg,#00fdf5 145deg,#0bf4ff 145.5deg,#3fbcff 147.5deg,#50a8ff 148.5deg,#4b91ff 151deg,#4a89ff 157.5deg,#4c96ff 163.5deg,#50a9ff 166.5deg,#2bd1ff 169deg,#05faff 171deg,#00fae9 172deg,#00dc6a 176.5deg,#00c835 179.5deg,#00bf1d 183.5deg,#00bd18 186deg,#00c52d 191deg,#00d861 197.5deg,#00e792 201.5deg,#00f5d1 207deg,#00f7db 209deg,#00f4cf 211deg,#00eba5 213deg,#00c630 217deg,#00b502 218.5deg,#93e500 222deg,#f4fc00 226deg,#feff00 226.5deg,#ffc400 232.5deg,#ff9900 240deg,#ff7d00 249.5deg,#ff7800 254.5deg,#ff8800 260deg,#ffa400 264deg,#ffd400 267deg,#fff600 268.5deg,#f9fe00 269deg,#9ae700 271deg,#02b500 273deg,#00e383 275.5deg,#00f9e6 277deg,#03fcff 277.5deg,#4eacff 280deg,#4987ff 282deg,#4777ff 284deg,#4676ff 284.5deg,#4a88ff 287.5deg,#4dadff 289.5deg,#19e4ff 291deg,#03fcff 291.5deg,#00eeb1 292.5deg,#00e485 293deg,#00cf48 294deg,#00b503 295.5deg,#52cf00 297.5deg,#77dc00 299deg,#8ce300 301deg,#90e400 303deg,#85e000 306.5deg,#67d600 308.5deg,#19bc00 311.5deg,#00b604 312.5deg,#00e487 318deg,#00f1c1 320.5deg,#00fae9 323.5deg,#01feff 327.5deg,#25d8ff 338deg,#50a8ff 346deg,#4e9eff 350deg,#50aaff 353.5deg,#3bc0ff 355deg,#10eeff 356.5deg,#00fef9 357deg,#00e383 358.5deg,#00c52e 360deg)"></i><i style="--r:44px;background:conic-gradient(#00b504 0deg,#89e200 3deg,#f2fc00 6.5deg,#fffe00 7deg,#ffc100 11deg,#ff9300 16deg,#ff7300 22.5deg,#f95e00 32deg,#f85c00 46.5deg,#fe6a00 55deg,#ff8e00 65.5deg,#ffb700 70.5deg,#fffe00 75.5deg,#87e100 79.5deg,#17bc00 82.5deg,#07b600 83deg,#00ba0f 84deg,#00d04b 88deg,#00e99c 96deg,#00f5d3 99.5deg,#03fcff 101.5deg,#50a9ff 105deg,#4054ff 108.5deg,#4043ea 113deg,#4041e8 116deg,#4045ec 125deg,#404ff8 126deg,#4570ff 126.5deg,#3bc0ff 127deg,#00edae 127.5deg,#00be1a 128deg,#7cdd00 128.5deg,#d7f500 129deg,#fff500 129.5deg,#ffd300 130.5deg,#ffc800 132deg,#ffd300 134deg,#fff600 136deg,#f9fe00 136.5deg,#aceb00 138deg,#8be200 138.5deg,#05b600 140deg,#00df72 142deg,#00fefb 144deg,#45b6ff 146.5deg,#4fa4ff 147.5deg,#4b8fff 150deg,#4a88ff 156.5deg,#4d98ff 163deg,#50aaff 165.5deg,#20ddff 168.5deg,#03fbff 170deg,#00f1c0 172.5deg,#00dc6b 175.5deg,#00c835 178.5deg,#00bf1d 182.5deg,#00bd18 185deg,#00c42c 190deg,#00d860 196.5deg,#00e792 200.5deg,#00f4cd 205.5deg,#00f7dc 208deg,#00f5d0 210deg,#00eba6 212deg,#00c123 216.5deg,#00b605 217.5deg,#3bc800 219deg,#8de300 221deg,#daf600 224deg,#fafe00 225.5deg,#ffe500 228deg,#ffae00 235deg,#ff8700 244deg,#ff7800 254deg,#ff8900 259.5deg,#ffa800 263.5deg,#ffdb00 266.5deg,#ffff00 268deg,#9ee800 270deg,#01b400 272deg,#00e58c 274.5deg,#00fcf3 276deg,#0bf3ff 276.5deg,#4ab0ff 278.5deg,#4d98ff 279.5deg,#477bff 281.5deg,#4675ff 283deg,#4880ff 285.5deg,#4d9bff 287.5deg,#49b1ff 288.5deg,#15e9ff 290deg,#00fffd 290.5deg,#00e381 292deg,#00c52f 293.5deg,#00b604 294.5deg,#50cf00 296.5deg,#76db00 298deg,#8ce300 300deg,#90e400 302.5deg,#87e100 305.5deg,#6bd800 307.5deg,#2bc200 310deg,#00b502 311.5deg,#00e58a 317deg,#00f2c4 319.5deg,#00fbef 323deg,#01fdff 326.5deg,#21dcff 336deg,#50a9ff 344.5deg,#4e9eff 348.5deg,#4fa6ff 352deg,#4ab0ff 353deg,#2eceff 354.5deg,#0ff0ff 355.5deg,#00fdf7 356deg,#00e382 357.5deg,#00c62f 359deg,#00b504 360deg)"></i><i style="--r:42.5px;background:conic-gradient(#2bc200 0deg,#96e600 2.5deg,#fafe00 6deg,#ffd900 8.5deg,#ffa500 13deg,#ff7b00 19.5deg,#fa5f00 30.5deg,#f85b00 46deg,#ff7300 58deg,#ff9500 66deg,#ffc500 71deg,#fff900 74.5deg,#fafe00 75deg,#8fe400 78.5deg,#1bbd00 81.5deg,#00b503 82.5deg,#00cb3e 86deg,#00e075 91.5deg,#00edb0 96.5deg,#00fae9 99.5deg,#03fbff 100.5deg,#48b2ff 103.5deg,#4fa4ff 104deg,#4056ff 107deg,#4043e9 111.5deg,#4041e7 114.5deg,#4045ed 124deg,#404ff9 125deg,#456eff 125.5deg,#42b9ff 126deg,#00f1c0 126.5deg,#00c328 127deg,#69d700 127.5deg,#cdf300 128deg,#fff900 128.5deg,#ffe200 129deg,#ffcc00 130deg,#ffc600 131deg,#ffd400 133.5deg,#fff900 135.5deg,#f2fc00 136deg,#9de800 137.5deg,#13ba00 139deg,#00bb14 139.5deg,#00de70 141deg,#00f8e0 142.5deg,#01feff 143deg,#3fbcff 145deg,#4fa7ff 146deg,#4b91ff 148deg,#4a88ff 155deg,#4c96ff 161.5deg,#50aaff 164.5deg,#14e9ff 168deg,#02fdff 169deg,#00e487 173.5deg,#00d557 175.5deg,#00c630 178deg,#00be1a 182.5deg,#00bd18 184.5deg,#00c52e 189.5deg,#00d85f 195.5deg,#00e792 199.5deg,#00f5d3 205deg,#00f8de 207deg,#00f6d8 208.5deg,#00eeb4 210.5deg,#00cd43 214.5deg,#00b708 216.5deg,#0bb800 217deg,#99e700 220.5deg,#f6fd00 224.5deg,#fffe00 225deg,#ffc400 231deg,#ff9600 239deg,#ff7c00 249deg,#ff7700 253deg,#ff8800 258.5deg,#ffa500 262.5deg,#ffd700 265.5deg,#fffb00 267deg,#d7f500 268deg,#a2e900 269deg,#55d000 270deg,#00b400 271deg,#00df72 273deg,#01feff 275deg,#46b4ff 277deg,#4fa6ff 277.5deg,#4880ff 279.5deg,#4673ff 281.5deg,#487eff 284deg,#4e9eff 286.5deg,#50a8ff 287deg,#24d8ff 288.5deg,#11edff 289deg,#00fdf6 289.5deg,#00e27d 291deg,#00c52e 292.5deg,#00b605 293.5deg,#4ece00 295.5deg,#75db00 297deg,#89e200 298.5deg,#90e400 301.5deg,#89e200 304.5deg,#6fd900 306.5deg,#2fc400 309deg,#00b400 310.5deg,#00e58c 316deg,#00f0bd 318deg,#00fae8 321deg,#01feff 325deg,#22dbff 335deg,#4fa7ff 343.5deg,#4e9dff 347deg,#4fa6ff 351deg,#4ab1ff 352deg,#2cd0ff 353.5deg,#0df2ff 354.5deg,#00fcf4 355deg,#00e380 356.5deg,#00c630 358deg,#00b606 359deg,#2bc200 360deg)"></i><i style="--r:41px;background:conic-gradient(#52cf00 0deg,#a0e800 2deg,#fffe00 5.5deg,#ffc200 9.5deg,#ff9400 14.5deg,#ff7200 21.5deg,#f95e00 30.5deg,#f85b00 45.5deg,#ff7200 57deg,#ff9500 65.5deg,#ffcd00 71deg,#fffd00 74deg,#98e600 77.5deg,#20bf00 80.5deg,#00b401 81.5deg,#00cb3d 85deg,#00eaa1 94.5deg,#00f5d2 97.5deg,#04fbff 99.5deg,#3ebdff 102deg,#4daeff 102.5deg,#4158ff 105.5deg,#4045ed 108.5deg,#4041e7 112.5deg,#4046ed 123deg,#404ff9 124deg,#456dff 124.5deg,#47b3ff 125deg,#00f5d2 125.5deg,#00c938 126deg,#55d000 126.5deg,#c2f000 127deg,#fffe00 127.5deg,#ffe500 128deg,#ffcc00 129deg,#ffc500 130.5deg,#ffd500 133deg,#fffd00 135deg,#ccf300 136deg,#87e100 137deg,#22bf00 138deg,#00b80c 138.5deg,#00de6f 140deg,#00f9e5 141.5deg,#05f9ff 142deg,#38c4ff 143.5deg,#50aaff 144.5deg,#4b92ff 146.5deg,#4a88ff 152.5deg,#4a87ff 154deg,#4c95ff 160deg,#4fabff 163.5deg,#01feff 168deg,#00e589 172.5deg,#00d558 174.5deg,#00c630 177deg,#00be1a 181.5deg,#00bd17 183.5deg,#00c52d 188.5deg,#00d85f 194.5deg,#00e58a 198deg,#00f4cf 203.5deg,#00f8e0 206deg,#00f7d9 207.5deg,#00efb5 209.5deg,#00c937 214deg,#00b80b 215.5deg,#06b600 216deg,#94e500 219.5deg,#fcfe00 224deg,#ffbf00 231deg,#ff9700 238deg,#ff7d00 247.5deg,#ff7700 252.5deg,#ff8c00 258.5deg,#ffa900 262deg,#ffdf00 265deg,#fff700 266deg,#f5fd00 266.5deg,#a8ea00 268deg,#85e000 268.5deg,#00b401 270deg,#00e179 272deg,#00fbed 273.5deg,#0af4ff 274deg,#50a9ff 276deg,#487fff 278deg,#4571ff 280deg,#4571ff 280.5deg,#4985ff 283.5deg,#4eacff 286deg,#20ddff 287.5deg,#0cf2ff 288deg,#00fbef 288.5deg,#00e179 290deg,#00bd19 292deg,#00b606 292.5deg,#3ac700 294deg,#75db00 296deg,#89e200 297.5deg,#90e400 300.5deg,#88e100 304deg,#69d700 306deg,#13ba00 309deg,#03b500 309.5deg,#00d964 313.5deg,#00efb5 316.5deg,#00f9e4 319.5deg,#00fffd 323deg,#1be3ff 332deg,#49b1ff 340.5deg,#4fa3ff 343deg,#4d9cff 346deg,#4fa7ff 350deg,#49b2ff 351deg,#2ad3ff 352.5deg,#0bf4ff 353.5deg,#00fcf1 354deg,#00e37f 355.5deg,#00c630 357deg,#00b707 358deg,#0fb900 358.5deg,#52cf00 360deg)"></i><i style="--r:39.5px;background:conic-gradient(#75db00 0deg,#a8ea00 1.5deg,#fafe00 4.5deg,#ffd900 7deg,#ffa200 12deg,#ff7800 19deg,#f95e00 29.5deg,#f85b00 45deg,#ff7100 56deg,#ff9600 65deg,#ffc800 70deg,#fdff00 73.5deg,#8be200 77deg,#13ba00 80deg,#02b500 80.5deg,#00cd43 84.5deg,#00e99a 93deg,#00f5d1 96.5deg,#04fbff 98.5deg,#42b9ff 101deg,#50a8ff 101.5deg,#415bff 104deg,#404bf4 105.5deg,#4041e7 109.5deg,#4041e7 110.5deg,#4044eb 121.5deg,#4050fa 123deg,#456eff 123.5deg,#4caeff 124deg,#00f9e4 124.5deg,#00cf48 125deg,#3ec900 125.5deg,#b6ee00 126deg,#f8fd00 126.5deg,#ffd700 127.5deg,#ffc400 129deg,#ffc400 129.5deg,#ffcf00 132deg,#fff300 134deg,#fbfe00 134.5deg,#9de800 136deg,#00b502 137.5deg,#00dd6e 139deg,#00fbec 140.5deg,#0af4ff 141deg,#3fbdff 142.5deg,#4fa4ff 143.5deg,#4b8fff 145.5deg,#4987ff 153deg,#4c95ff 159deg,#4fa6ff 162deg,#48b3ff 163deg,#00fffe 167deg,#00e58a 171.5deg,#00d14f 174deg,#00c630 176deg,#00be1a 180.5deg,#00bc17 182.5deg,#00c429 187deg,#00d75e 193.5deg,#00e58a 197deg,#00f3ca 202deg,#00f9e2 205deg,#00f7db 206.5deg,#00efb6 208.5deg,#00ca3a 213deg,#01b400 215deg,#8ee300 218.5deg,#eefb00 222.5deg,#fffd00 223.5deg,#ffc400 229.5deg,#ff9900 237deg,#ff7e00 246deg,#ff7700 252deg,#ff9300 259deg,#ffb400 262deg,#fcfe00 265.5deg,#aeec00 267deg,#8ce300 267.5deg,#00b501 269deg,#00e484 271deg,#00fffd 272.5deg,#4eadff 274.5deg,#4987ff 276deg,#4571ff 278deg,#4570ff 279deg,#4982ff 282deg,#4fa5ff 284.5deg,#3dbfff 285.5deg,#08f7ff 287deg,#00fae8 287.5deg,#00e076 289deg,#00bd18 291deg,#00b606 291.5deg,#37c600 293deg,#68d700 294.5deg,#85e000 296deg,#90e400 298.5deg,#90e400 300deg,#8be200 303deg,#79dc00 304.5deg,#37c600 307deg,#07b600 308.5deg,#00bb13 309.5deg,#00eaa0 314.5deg,#00f5d2 317deg,#00fdf4 320deg,#03fcff 323.5deg,#24d9ff 333deg,#50a9ff 340.5deg,#4d9cff 344.5deg,#4fa4ff 348.5deg,#4eacff 349.5deg,#34c8ff 351deg,#08f6ff 352.5deg,#00fbee 353deg,#00e27e 354.5deg,#00c631 356deg,#00b709 357deg,#0cb800 357.5deg,#75db00 360deg)"></i><i style="--r:38px;background:conic-gradient(#96e600 0deg,#fffe00 4deg,#ffc200 8deg,#ff9200 13.5deg,#ff7300 20deg,#f95e00 29.5deg,#f85b00 45deg,#ff7e00 59.5deg,#ff9b00 65deg,#ffca00 69.5deg,#fffb00 72.5deg,#e7f900 73.5deg,#95e600 76deg,#17bc00 79deg,#06b600 79.5deg,#00be1a 81deg,#00d354 85deg,#00e99a 92deg,#00f5d0 95.5deg,#04fbff 97.5deg,#37c5ff 99.5deg,#4fa3ff 100.5deg,#425eff 102.5deg,#404ef8 103.5deg,#4041e7 107deg,#4040e7 109deg,#4045ec 120.5deg,#4051fc 122deg,#456fff 122.5deg,#50a9ff 123deg,#00fdf8 123.5deg,#00d65a 124deg,#26c100 124.5deg,#a9ea00 125deg,#effb00 125.5deg,#ffeb00 126deg,#ffcd00 127deg,#ffc300 128.5deg,#ffd000 131.5deg,#ffe900 133deg,#fff600 133.5deg,#f3fc00 134deg,#b1ec00 135deg,#84e000 135.5deg,#0db800 136.5deg,#00c020 137deg,#00dd6d 138deg,#00fcf3 139.5deg,#10eeff 140deg,#46b5ff 141.5deg,#50a8ff 142deg,#4c92ff 143.5deg,#4a88ff 148.5deg,#4986ff 152deg,#4d99ff 159deg,#4eacff 161.5deg,#00fefc 166deg,#00e68c 170.5deg,#00d24f 173deg,#00c630 175deg,#00be1b 179.5deg,#00bc16 182deg,#00c62f 187deg,#00d558 192deg,#00e382 195.5deg,#00f2c5 200.5deg,#00f9e4 204deg,#00f9e5 204.5deg,#00f4cd 206.5deg,#00e27f 209.5deg,#00b503 214deg,#99e700 218deg,#fdff00 222.5deg,#ffc200 229deg,#ff9800 236.5deg,#ff7f00 245deg,#ff7700 251deg,#ff8700 256deg,#ffa200 260deg,#ffd800 263deg,#fffc00 264.5deg,#d2f400 265.5deg,#94e500 266.5deg,#00b502 268deg,#00e690 270deg,#00fae6 271deg,#09f5ff 271.5deg,#49b1ff 273deg,#4b91ff 274deg,#4677ff 275.5deg,#456eff 277.5deg,#4880ff 280.5deg,#50a8ff 283.5deg,#28d4ff 285deg,#03fcff 286deg,#00f0bd 287deg,#00df74 288deg,#00bd18 290deg,#00b607 290.5deg,#22bf00 291.5deg,#66d600 293.5deg,#85e000 295deg,#90e400 297.5deg,#90e400 299deg,#8ae200 302.5deg,#68d700 304.5deg,#0ab700 307.5deg,#00b605 308deg,#00df73 312deg,#00edb0 314deg,#00fae8 317.5deg,#00ffff 321deg,#18e5ff 329deg,#3fbcff 336.5deg,#4fa7ff 339.5deg,#4d9bff 343deg,#4fa4ff 347.5deg,#46b5ff 349deg,#17e7ff 351deg,#07f8ff 351.5deg,#00fbeb 352deg,#00e27c 353.5deg,#00c631 355deg,#00b80a 356deg,#08b700 356.5deg,#96e600 360deg)"></i><i style="--r:36.5px;background:conic-gradient(#abeb00 0deg,#fafe00 3deg,#ffd900 5.5deg,#ff9e00 11deg,#ff7500 18.5deg,#f95e00 28deg,#f85b00 44.5deg,#ff7f00 59deg,#ff9800 64deg,#ffcc00 69deg,#fffe00 72deg,#87e100 75.5deg,#1cbd00 78deg,#00b605 79deg,#00cf48 83deg,#00ea9f 91.5deg,#00f7da 95deg,#04fbff 96.5deg,#3ac1ff 98.5deg,#4bafff 99deg,#4362ff 101deg,#4053fe 101.5deg,#4043ea 104deg,#4040e6 107deg,#4046ed 119.5deg,#4053fe 121deg,#4571ff 121.5deg,#4fa3ff 122deg,#09f5ff 122.5deg,#00dd6d 123deg,#0cb800 123.5deg,#9be700 124deg,#e6f900 124.5deg,#fff000 125deg,#ffdb00 125.5deg,#ffc700 126.5deg,#ffc200 127.5deg,#ffd000 131deg,#ffeb00 132.5deg,#fffa00 133deg,#eafa00 133.5deg,#9fe800 134.5deg,#20bf00 135.5deg,#00bd18 136deg,#00dc6c 137deg,#00fefc 138.5deg,#3fbcff 140deg,#4eacff 140.5deg,#4c92ff 142deg,#4a87ff 147.5deg,#4986ff 151deg,#4d98ff 157.5deg,#4dadff 160.5deg,#05faff 164.5deg,#00fbed 165.5deg,#00e99d 169deg,#00d65b 171.5deg,#00c62f 174deg,#00bc17 180deg,#00bc15 181deg,#00c42b 185.5deg,#00d457 191deg,#00e589 195deg,#00f1c0 199deg,#00fae7 203deg,#00fae7 203.5deg,#00f6d8 205deg,#00e690 208deg,#00b607 213deg,#0bb800 213.5deg,#94e500 217deg,#f9fe00 221.5deg,#fff200 223deg,#ffc100 228.5deg,#ff9700 236deg,#ff7d00 245deg,#ff7600 250.5deg,#ff9000 257deg,#ffa400 259.5deg,#ffeb00 263deg,#fff800 263.5deg,#f4fc00 264deg,#bdef00 265deg,#9ce700 265.5deg,#00b503 267deg,#00de70 268.5deg,#00fdf8 270deg,#2dcfff 271deg,#44b7ff 271.5deg,#4fa2ff 272deg,#477cff 273.5deg,#456dff 275.5deg,#456dff 276deg,#4779ff 278.5deg,#4ea2ff 282deg,#4eacff 282.5deg,#11ecff 284.5deg,#00fefd 285deg,#00df72 287deg,#00bd18 289deg,#00b607 289.5deg,#20bf00 290.5deg,#73da00 293deg,#8be200 294.5deg,#90e400 298deg,#8de300 301.5deg,#79dc00 303deg,#2fc400 305.5deg,#00b502 307deg,#00d455 310deg,#00eba7 312.5deg,#00f7dd 315.5deg,#00fefa 318.5deg,#0df2ff 325deg,#37c5ff 334deg,#50a8ff 338deg,#4d9aff 341.5deg,#4fa4ff 346.5deg,#4caeff 347.5deg,#22dbff 349.5deg,#05faff 350.5deg,#00fae9 351deg,#00e27b 352.5deg,#00c630 354deg,#05b600 355.5deg,#90e400 359deg,#abeb00 360deg)"></i><i style="--r:35px;background:conic-gradient(#c0f000 0deg,#fffe00 2.5deg,#ffc800 6deg,#ff9600 11.5deg,#ff7500 18deg,#f95e00 27.5deg,#f85b00 44deg,#ff8100 59deg,#ff9d00 64deg,#ffc700 68deg,#fff900 71deg,#fafe00 71.5deg,#90e400 74.5deg,#0db800 77.5deg,#00b503 78deg,#00cf47 82deg,#00ea9f 90.5deg,#00f6d9 94deg,#04fbff 95.5deg,#3dbeff 97.5deg,#50aaff 98deg,#4053fe 100deg,#4043e9 102.5deg,#4040e6 105deg,#4044eb 118deg,#4158ff 120deg,#4673ff 120.5deg,#4e9dff 121deg,#18e5ff 121.5deg,#00e589 122deg,#00b80b 122.5deg,#8ae200 123deg,#ddf700 123.5deg,#fff400 124deg,#ffd100 125deg,#ffc000 126.5deg,#ffd000 130.5deg,#ffee00 132deg,#fffd00 132.5deg,#e1f800 133deg,#b8ee00 133.5deg,#82df00 134deg,#38c700 134.5deg,#00b90e 135deg,#00eaa0 136.5deg,#00f6d5 137deg,#04fbff 137.5deg,#49b1ff 139deg,#4d99ff 140deg,#4a8aff 142deg,#4985ff 150deg,#4e9eff 158deg,#4dadff 159.5deg,#03fcff 163.5deg,#00ea9e 168deg,#00d75d 170.5deg,#00c52e 173deg,#00bc14 180.5deg,#00ce46 188.5deg,#00e380 193.5deg,#00f0ba 197.5deg,#00fae9 202deg,#00fbeb 202.5deg,#00f7d9 204deg,#00d65c 209deg,#00b80a 212deg,#05b600 212.5deg,#8ee300 216deg,#ffff00 221deg,#ffc600 227deg,#ff9a00 234.5deg,#ff7f00 243.5deg,#ff7600 250deg,#ff9700 257.5deg,#ffb000 259.5deg,#fdff00 263deg,#c8f200 264deg,#a5ea00 264.5deg,#73da00 265deg,#00b504 266deg,#00e179 267.5deg,#00f7dc 268.5deg,#07f8ff 269deg,#3cbfff 270deg,#4fa6ff 270.5deg,#4983ff 271.5deg,#4570ff 273deg,#446bff 275deg,#4a8bff 279deg,#4fa4ff 281deg,#4bafff 281.5deg,#0df1ff 283.5deg,#00fdf6 284deg,#00de70 286deg,#00bd17 288deg,#00b606 288.5deg,#1dbe00 289.5deg,#71da00 292deg,#8de300 293.5deg,#90e400 297.5deg,#8de300 301deg,#74db00 302.5deg,#00b400 306deg,#00cd44 308.5deg,#00ecab 311.5deg,#00f9e6 315deg,#00fefb 317.5deg,#0fefff 324.5deg,#35c7ff 332.5deg,#4fa6ff 337deg,#4d99ff 340deg,#4fa3ff 345.5deg,#4cafff 346.5deg,#12ecff 349deg,#03fcff 349.5deg,#00fae8 350deg,#00e17a 351.5deg,#00c630 353deg,#02b500 354.5deg,#9ae700 358.5deg,#c0f000 360deg)"></i><i style="--r:33.5px;background:conic-gradient(#d4f500 0deg,#fbfe00 1.5deg,#ffc000 6deg,#ff9200 11.5deg,#ff7300 18deg,#f95e00 27deg,#f85b00 44deg,#ff8000 58deg,#ff9900 63deg,#ffc900 67.5deg,#fffc00 70.5deg,#e3f800 71.5deg,#82df00 74deg,#11ba00 76.5deg,#00b401 77deg,#00cf47 81deg,#00e99e 89.5deg,#00f9e3 93.5deg,#05faff 94.5deg,#41baff 96.5deg,#4fa4ff 97deg,#4056ff 98.5deg,#4044eb 100.5deg,#4040e6 103deg,#4043ea 116.5deg,#4053fd 118.5deg,#4779ff 119.5deg,#4e9eff 120deg,#1fdeff 120.5deg,#00eba3 121deg,#00c123 121.5deg,#6bd800 122deg,#cef300 122.5deg,#fffb00 123deg,#ffd700 124deg,#ffbf00 125.5deg,#ffbf00 126deg,#ffcb00 129.5deg,#ffe500 131deg,#fafe00 132deg,#d5f500 132.5deg,#a3e900 133deg,#56d100 133.5deg,#00b400 134deg,#00eba3 135.5deg,#00f7da 136deg,#09f5ff 136.5deg,#40bbff 137.5deg,#4fa7ff 138deg,#4b8fff 139.5deg,#4986ff 146deg,#4984ff 149deg,#4ea2ff 157.5deg,#4bafff 158.5deg,#02fdff 162.5deg,#00eaa0 167deg,#00db69 169deg,#00c52e 172deg,#00bb14 179.5deg,#00cd41 187deg,#00e380 192.5deg,#00f0ba 196.5deg,#00fbee 201.5deg,#00f7da 203deg,#00d75e 208deg,#00b400 211.5deg,#98e600 215.5deg,#fafe00 220deg,#ffe800 222.5deg,#ffc100 227deg,#ff9700 234.5deg,#ff7e00 243deg,#ff7500 249.5deg,#ff9c00 257.5deg,#ffc000 259.5deg,#fffb00 262deg,#effb00 262.5deg,#b0ec00 263.5deg,#7fde00 264deg,#00b503 265deg,#00e485 266.5deg,#00fbec 267.5deg,#13ebff 268deg,#4dadff 269deg,#4882ff 270deg,#4672ff 271deg,#446aff 273.5deg,#477bff 276deg,#4e9fff 279.5deg,#50a8ff 280deg,#19e5ff 282deg,#08f6ff 282.5deg,#00fbef 283deg,#00dd6e 285deg,#00bc17 287deg,#00b707 287.5deg,#09b700 288deg,#7dde00 291.5deg,#8ee300 292.5deg,#8de300 300.5deg,#7add00 301.5deg,#04b500 305deg,#00c631 307deg,#00e177 309deg,#00eaa1 310deg,#00f3c9 312deg,#00fcf4 315deg,#02fdff 318.5deg,#18e5ff 325.5deg,#36c5ff 331.5deg,#50a7ff 335.5deg,#4d99ff 338.5deg,#4fa3ff 344.5deg,#49b1ff 345.5deg,#02fdff 348.5deg,#00f2c5 349.5deg,#00e179 350.5deg,#00c62f 352deg,#00b401 353.5deg,#95e600 357.5deg,#d4f500 360deg)"></i><i style="--r:32px;background:conic-gradient(#e8f900 0deg,#fffe00 1deg,#ffbf00 5.5deg,#ff9100 11deg,#ff7300 17.5deg,#f95e00 26.5deg,#f85b00 43deg,#ff8200 58deg,#ff9b00 62.5deg,#ffc500 66.5deg,#fcfe00 70deg,#8ee300 73deg,#1abd00 75.5deg,#07b600 76deg,#00bb11 77deg,#00d251 81deg,#00ea9e 88.5deg,#00f7db 92deg,#00fef8 93deg,#16e8ff 94deg,#4bafff 95.5deg,#487dff 96.5deg,#4362ff 97deg,#4051fb 97.5deg,#4043e9 99.5deg,#4040e6 102deg,#4044eb 115deg,#4052fc 117deg,#4260ff 117.5deg,#4777ff 118deg,#4c97ff 118.5deg,#39c2ff 119deg,#02fcff 119.5deg,#00e795 120deg,#00c939 120.5deg,#28c100 121deg,#97e600 121.5deg,#d7f500 122deg,#fffa00 122.5deg,#ffd500 123.5deg,#ffc100 125deg,#ffc100 125.5deg,#ffcf00 129deg,#ffed00 130.5deg,#fffd00 131deg,#e0f800 131.5deg,#b3ed00 132deg,#73da00 132.5deg,#1ebe00 133deg,#00c226 133.5deg,#00f6d7 135deg,#0af4ff 135.5deg,#40bbff 136.5deg,#50a8ff 137deg,#4b8fff 138.5deg,#4986ff 145deg,#4985ff 147.5deg,#4e9eff 155.5deg,#4fabff 157deg,#02fdff 161.5deg,#00ea9f 166deg,#00dc6b 168deg,#00c732 171deg,#00c021 174deg,#00bc15 178.5deg,#00c329 182.5deg,#00d659 188.5deg,#00e488 192deg,#00f2c6 196.5deg,#00fae9 200deg,#00faea 200.5deg,#00f6d8 202deg,#00e484 205.5deg,#00b504 210.5deg,#48cc00 212.5deg,#91e400 214.5deg,#feff00 219.5deg,#ffc700 225.5deg,#ff9800 233.5deg,#ff7d00 243deg,#ff7600 248.5deg,#ff8c00 254deg,#ffa100 257deg,#ffd300 259.5deg,#fff800 261deg,#f2fc00 261.5deg,#b3ed00 262.5deg,#85e000 263deg,#01b400 264deg,#00e58a 265.5deg,#00fefb 266.5deg,#3cbfff 267.5deg,#4fa3ff 268deg,#4880ff 269deg,#456eff 270.5deg,#446bff 272deg,#487eff 275deg,#4fa6ff 278.5deg,#3ebdff 279.5deg,#02fdff 281.5deg,#00eca9 283deg,#00dd6d 284deg,#00be1b 286deg,#05b600 287deg,#69d700 290deg,#89e200 291.5deg,#90e400 295deg,#90e400 295.5deg,#8be200 299.5deg,#6ed900 301deg,#08b700 304deg,#00bb14 305deg,#00d964 307.5deg,#00ecac 309.5deg,#00fae8 313deg,#00fefc 315.5deg,#10eeff 322.5deg,#38c4ff 330.5deg,#4fa6ff 334.5deg,#4d99ff 337.5deg,#4fa3ff 343deg,#4caeff 344deg,#0af4ff 347deg,#00fdf8 347.5deg,#00e99b 349deg,#00e178 349.5deg,#00c835 351deg,#00b604 352.5deg,#9de800 357deg,#e8f900 360deg)"></i><i style="--r:30.5px;background:conic-gradient(#fbfe00 0deg,#ffb800 5.5deg,#ff8a00 11.5deg,#ff6f00 18.5deg,#f95e00 26deg,#f85b00 42deg,#ff7b00 55.5deg,#ff9800 61.5deg,#ffc800 66deg,#fffc00 69deg,#d0f400 70.5deg,#99e700 72deg,#23c000 74.5deg,#00b502 75.5deg,#00ca3b 78.5deg,#00dd6e 83deg,#00eba6 88deg,#00f5d2 90.5deg,#00fffe 92deg,#2bd1ff 93.5deg,#4fa3ff 94.5deg,#4055ff 96deg,#4043ea 98deg,#4040e6 101deg,#4045ec 113.5deg,#4052fc 115.5deg,#425dff 116deg,#4b8dff 117deg,#4caeff 117.5deg,#23d9ff 118deg,#00faea 118.5deg,#00e68f 119deg,#01b400 120deg,#61d400 120.5deg,#afec00 121deg,#e3f800 121.5deg,#fff700 122deg,#ffd500 123deg,#ffc300 124.5deg,#ffc200 125deg,#ffce00 128deg,#ffe800 129.5deg,#fff700 130deg,#ebfa00 130.5deg,#c2f000 131deg,#8ce300 131.5deg,#3ac700 132deg,#00bc14 132.5deg,#00e58b 133.5deg,#00f5d1 134deg,#09f6ff 134.5deg,#3fbcff 135.5deg,#50a9ff 136deg,#4c94ff 137deg,#4a88ff 140deg,#4985ff 146deg,#4e9dff 154deg,#50a9ff 155.5deg,#09f5ff 160deg,#01feff 160.5deg,#00e791 165.5deg,#00d557 168deg,#00c62f 170.5deg,#00bd17 176.5deg,#00bc15 177.5deg,#00c42b 182deg,#00d559 187.5deg,#00e487 191deg,#00f2c6 195.5deg,#00fae7 199deg,#00f8de 200.5deg,#00e792 204deg,#00b707 209.5deg,#09b700 210deg,#99e700 214deg,#f9fe00 218.5deg,#fff200 220deg,#ffbb00 226.5deg,#ff9400 234deg,#ff7c00 243deg,#ff7600 248deg,#ff9300 254.5deg,#ffad00 257deg,#fff300 260deg,#f9fe00 260.5deg,#baef00 261.5deg,#91e400 262deg,#0cb800 263deg,#00c328 263.5deg,#00e58b 264.5deg,#00f3ca 265deg,#04faff 265.5deg,#44b7ff 266.5deg,#4e9eff 267deg,#487eff 268deg,#456eff 269.5deg,#446cff 270.5deg,#4881ff 274deg,#4fa3ff 277deg,#4eacff 277.5deg,#00fefb 280.5deg,#00dd6e 283deg,#00c020 285deg,#00b401 286deg,#70d900 289.5deg,#8ae200 291deg,#90e400 294.5deg,#8ae200 298.5deg,#71da00 300deg,#0cb800 303deg,#00b604 303.5deg,#00d962 306.5deg,#00eca9 308.5deg,#00f7d9 311deg,#00fdf6 313.5deg,#02fdff 316.5deg,#1ee0ff 324.5deg,#47b3ff 331.5deg,#4fa5ff 333.5deg,#4d9aff 336.5deg,#4fa3ff 341.5deg,#4eacff 342.5deg,#20deff 345deg,#06f8ff 346deg,#00fcf1 346.5deg,#00e179 348.5deg,#00c327 350.5deg,#00b708 351.5deg,#08b700 352deg,#98e700 356deg,#fbfe00 360deg)"></i><i style="--r:29px;background:conic-gradient(#fff700 0deg,#ffc100 4deg,#ff8f00 10deg,#ff7100 17deg,#f95e00 25.5deg,#f85b00 41deg,#ff7600 53.5deg,#ff9600 60.5deg,#ffc400 65deg,#fcfe00 68.5deg,#8ce300 71.5deg,#2bc200 73.5deg,#03b500 74.5deg,#00cf48 78.5deg,#00ea9f 86.5deg,#00f5d4 89.5deg,#03fcff 91deg,#33c8ff 92.5deg,#4ab0ff 93deg,#487cff 94deg,#4362ff 94.5deg,#4051fb 95deg,#4043e9 97deg,#4040e6 99.5deg,#4044eb 111.5deg,#4051fc 114deg,#415bff 114.5deg,#4ea0ff 116deg,#3ac1ff 116.5deg,#15e9ff 117deg,#00f7db 117.5deg,#00e68d 118deg,#00bb12 119deg,#3bc800 119.5deg,#8ce300 120deg,#c2f100 120.5deg,#eefb00 121deg,#fff300 121.5deg,#ffd500 122.5deg,#ffc400 124deg,#ffc300 124.5deg,#ffcc00 127deg,#ffe400 128.5deg,#fff200 129deg,#f6fd00 129.5deg,#a0e800 130.5deg,#00b502 131.5deg,#00e27b 132.5deg,#00f3c7 133deg,#06f9ff 133.5deg,#3fbdff 134.5deg,#50a9ff 135deg,#4b90ff 136.5deg,#4987ff 141deg,#4985ff 144.5deg,#4d97ff 151.5deg,#4eacff 154.5deg,#01feff 159.5deg,#00e791 164.5deg,#00d963 166.5deg,#00c631 169.5deg,#00be1c 174deg,#00bc16 176.5deg,#00c327 180.5deg,#00d558 186.5deg,#00e486 190deg,#00f2c6 194.5deg,#00f9e3 197.5deg,#00f9e4 198deg,#00f5d4 200deg,#00e791 203deg,#03b500 209deg,#93e500 213deg,#fdfe00 218deg,#ffc100 225deg,#ff9500 233deg,#ff7d00 242deg,#ff7700 247deg,#ff8600 251.5deg,#ffa200 255.5deg,#ffc600 257.5deg,#fffc00 259.5deg,#e8fa00 260deg,#a0e800 261deg,#66d600 261.5deg,#21bf00 262deg,#00be1b 262.5deg,#00e382 263.5deg,#00f3c7 264deg,#05faff 264.5deg,#46b4ff 265.5deg,#4d9cff 266deg,#487eff 267deg,#456eff 268.5deg,#456dff 269deg,#477bff 272deg,#50a7ff 276deg,#27d6ff 278deg,#0bf4ff 279deg,#00fdf8 279.5deg,#00de70 282deg,#00bc15 284.5deg,#00b606 285deg,#0ab700 285.5deg,#5cd300 288deg,#7ede00 289.5deg,#8fe400 291.5deg,#90e400 294deg,#8ae200 297.5deg,#73da00 299deg,#36c600 301deg,#00b401 302.5deg,#00d75f 305.5deg,#00eeb3 308deg,#00f8e1 310.5deg,#00fefb 313.5deg,#11edff 320.5deg,#3ac1ff 328.5deg,#4fa7ff 332deg,#4d9aff 335.5deg,#4fa6ff 340.5deg,#4ab0ff 341.5deg,#1ce1ff 344deg,#03fcff 345deg,#00f5d3 346deg,#00e27c 347.5deg,#00bf1c 350deg,#01b400 351deg,#92e500 355deg,#fffe00 359.5deg,#fff700 360deg)"></i><i style="--r:27.5px;background:conic-gradient(#ffec00 0deg,#ffb500 4.5deg,#ff8600 11deg,#fc6500 20.5deg,#f95d00 31deg,#f85b00 40deg,#ff7200 51.5deg,#ff9300 59.5deg,#ffc000 64deg,#fffc00 67.5deg,#e2f800 68.5deg,#97e600 70.5deg,#1fbe00 73deg,#0bb800 73.5deg,#00b605 74deg,#00cb3f 77deg,#00e075 82deg,#00edae 86.5deg,#00f9e5 89deg,#00fdf6 89.5deg,#07f8ff 90deg,#3dbeff 91.5deg,#4fa5ff 92deg,#4055ff 93.5deg,#4043ea 95.5deg,#4040e6 98.5deg,#4045ec 110deg,#4051fb 112.5deg,#4159ff 113deg,#4c95ff 114.5deg,#4bafff 115deg,#0af4ff 116deg,#00f5d1 116.5deg,#00e58c 117deg,#00c020 118deg,#1ebe00 118.5deg,#68d700 119deg,#a6ea00 119.5deg,#f8fd00 120.5deg,#ffe000 121.5deg,#ffc800 123deg,#ffc400 124deg,#ffd000 126.5deg,#ffed00 128deg,#fffe00 128.5deg,#ddf700 129deg,#afec00 129.5deg,#6dd800 130deg,#16bb00 130.5deg,#00c630 131deg,#00dd6e 131.5deg,#00f0bb 132deg,#02fdff 132.5deg,#24d9ff 133deg,#50aaff 134deg,#4c95ff 135deg,#4a88ff 138deg,#4985ff 143deg,#4c96ff 150deg,#4cafff 153.5deg,#01feff 158.5deg,#00e791 163.5deg,#00da64 165.5deg,#00c734 168.5deg,#00c01f 172deg,#00bd17 175.5deg,#00c227 179.5deg,#00d558 185.5deg,#00e485 189deg,#00f4cb 194deg,#00f8e1 196.5deg,#00f9e2 197deg,#00f5d2 199deg,#00e791 202deg,#00b502 208deg,#9ae700 212.5deg,#fffe00 217.5deg,#ffc300 224deg,#ff9700 232deg,#ff7e00 240.5deg,#ff7700 246.5deg,#ff8f00 252.5deg,#ffac00 255.5deg,#ffe500 258deg,#fff400 258.5deg,#f4fc00 259deg,#aeec00 260deg,#7bdd00 260.5deg,#36c600 261deg,#00b90e 261.5deg,#00e178 262.5deg,#00f2c2 263deg,#05faff 263.5deg,#48b2ff 264.5deg,#4a89ff 265.5deg,#4571ff 267deg,#456eff 268deg,#4986ff 272deg,#4eacff 275deg,#16e8ff 277.5deg,#08f7ff 278deg,#00fdf4 278.5deg,#00df72 281deg,#00b80b 284deg,#03b500 284.5deg,#55d000 287deg,#80df00 289deg,#8fe400 291deg,#90e400 293deg,#8ae200 296.5deg,#6ad700 298.5deg,#04b500 301.5deg,#00d04b 304deg,#00eeb1 307deg,#00f8e0 309.5deg,#00fefb 312.5deg,#11ecff 319.5deg,#3bc0ff 327.5deg,#4fa6ff 331deg,#4d9bff 334.5deg,#4fa4ff 339deg,#47b4ff 340.5deg,#19e4ff 343deg,#01feff 344deg,#00e99a 346deg,#00db69 347deg,#00bb12 349.5deg,#00b504 350deg,#9ae700 354.5deg,#f9fe00 358.5deg,#ffec00 360deg)"></i><i style="--r:26px;background:conic-gradient(#ffe200 0deg,#ffab00 5deg,#ff7e00 12deg,#fa5e00 24deg,#f85b00 39.5deg,#ff7700 52.5deg,#ff9800 59.5deg,#ffca00 64deg,#fcfe00 67deg,#8ae200 70deg,#28c100 72deg,#00b400 73deg,#00cb3d 76deg,#00e075 81deg,#00edaf 85.5deg,#00f7da 87.5deg,#00fefc 88.5deg,#1ce1ff 89.5deg,#48b3ff 90.5deg,#4d98ff 91deg,#4361ff 92deg,#4051fb 92.5deg,#4043e9 94.5deg,#4040e6 97.5deg,#4045ec 108.5deg,#4056ff 111.5deg,#4a8bff 113deg,#4ea2ff 113.5deg,#3fbdff 114deg,#02fdff 115deg,#00e58c 116deg,#00c42a 117deg,#07b600 117.5deg,#8be200 118.5deg,#dff700 119.5deg,#fffe00 120deg,#ffd400 121.5deg,#ffc600 123deg,#ffc500 123.5deg,#ffd400 126deg,#fff800 127.5deg,#e9fa00 128deg,#bef000 128.5deg,#85e000 129deg,#2fc400 129.5deg,#00c020 130deg,#00d860 130.5deg,#00fef9 131.5deg,#3cbfff 132.5deg,#4fabff 133deg,#4b90ff 134.5deg,#4986ff 139.5deg,#4986ff 141.5deg,#4b92ff 147.5deg,#4fa7ff 151.5deg,#3cbfff 153.5deg,#00ffff 157.5deg,#00e485 163deg,#00cd43 166.5deg,#00c226 169.5deg,#00bd17 174.5deg,#00c329 179deg,#00d557 184.5deg,#00e68d 188.5deg,#00f5d1 193.5deg,#00f8e0 196deg,#00f5d0 198deg,#00e791 201deg,#00b605 207deg,#1cbd00 208deg,#94e500 211.5deg,#fbfe00 216.5deg,#ffbc00 224.5deg,#ff9400 232deg,#ff7b00 242deg,#ff7700 245.5deg,#ff8a00 251deg,#ffa200 254deg,#ffc400 256deg,#fffe00 258deg,#bcef00 259deg,#8fe400 259.5deg,#00b401 260.5deg,#00de70 261.5deg,#00f0bc 262deg,#04fbff 262.5deg,#49b1ff 263.5deg,#4a88ff 264.5deg,#4672ff 266deg,#4570ff 267deg,#4984ff 270.5deg,#4fa7ff 273.5deg,#2bd1ff 275.5deg,#05f9ff 277deg,#00fcf1 277.5deg,#00df74 280deg,#00ba10 283deg,#00b502 283.5deg,#5cd300 286.5deg,#82df00 288.5deg,#90e400 291deg,#90e400 292.5deg,#8ae200 295.5deg,#6cd800 297.5deg,#2fc400 299.5deg,#09b700 300.5deg,#00b708 301deg,#00e68d 305deg,#00f0bb 306.5deg,#00f9e6 309deg,#00fffd 312deg,#18e5ff 320deg,#40bbff 327deg,#4fa5ff 330deg,#4d9bff 333.5deg,#4fa7ff 338deg,#44b7ff 339.5deg,#16e7ff 342deg,#00fefc 343deg,#00dc6b 346deg,#00b708 349deg,#08b700 349.5deg,#94e500 353.5deg,#ffff00 358deg,#ffe200 360deg)"></i><i style="--r:24.5px;background:conic-gradient(#ffd900 0deg,#ffa200 5.5deg,#ff7900 12.5deg,#fa5e00 23.5deg,#f85b00 38.5deg,#ff7300 50.5deg,#ff9200 58deg,#ffbf00 62.5deg,#fffb00 66deg,#e2f800 67deg,#96e600 69deg,#31c400 71deg,#07b600 72deg,#00bb14 73deg,#00cf49 76deg,#00e899 83deg,#00f4cf 86deg,#02fdff 87.5deg,#23d9ff 88.5deg,#4fa7ff 89.5deg,#4055ff 91deg,#4043ea 93deg,#4040e6 96deg,#4045ed 107deg,#4054ff 110deg,#4d97ff 112deg,#4dadff 112.5deg,#19e4ff 113.5deg,#00fef8 114deg,#00e58c 115deg,#00b708 116.5deg,#32c500 117deg,#a3e900 118deg,#ebfa00 119deg,#fff900 119.5deg,#ffd400 121deg,#ffc600 123deg,#ffd200 125deg,#fff300 126.5deg,#f4fc00 127deg,#ccf300 127.5deg,#9ae700 128deg,#48cc00 128.5deg,#00ba0f 129deg,#00e99d 130deg,#00fbee 130.5deg,#1de1ff 131deg,#3ac2ff 131.5deg,#4eacff 132deg,#4b90ff 133.5deg,#4986ff 138.5deg,#4986ff 140.5deg,#4c95ff 147deg,#4caeff 151deg,#00fffe 156.5deg,#00e485 162deg,#00ce45 165.5deg,#00c327 168.5deg,#00bd18 174deg,#00c329 178deg,#00d456 183.5deg,#00e68c 187.5deg,#00f3cb 192deg,#00f8de 194.5deg,#00f8de 195deg,#00f4ce 197deg,#00e99d 199.5deg,#00d559 202.5deg,#00b708 206deg,#05b600 206.5deg,#9be700 211deg,#ffff00 216deg,#ffc100 223deg,#ff9600 231deg,#ff7c00 240.5deg,#ff7800 245deg,#ff8800 250deg,#ffa500 253.5deg,#ffd700 256deg,#fff600 257deg,#effb00 257.5deg,#a0e800 258.5deg,#60d400 259deg,#13ba00 259.5deg,#00c52c 260deg,#00db68 260.5deg,#02fdff 261.5deg,#2ad2ff 262deg,#4ab0ff 262.5deg,#4a88ff 263.5deg,#4673ff 265deg,#4571ff 265.5deg,#4982ff 269deg,#4fabff 272.5deg,#10eeff 275.5deg,#03fcff 276deg,#00f6d7 277deg,#00e075 279deg,#00b707 282.5deg,#08b700 283deg,#56d100 285.5deg,#7ede00 287.5deg,#90e400 290.5deg,#90e400 291.5deg,#8ae200 294.5deg,#6fd900 296.5deg,#34c500 298.5deg,#00b605 300deg,#00e589 304deg,#00efb9 305.5deg,#00f9e6 308deg,#00ffff 311.5deg,#20deff 320.5deg,#50a7ff 328.5deg,#4d9bff 332.5deg,#4fa5ff 336.5deg,#47b4ff 338deg,#14eaff 341deg,#00fdf8 342deg,#00dd6d 345deg,#00b90d 348deg,#01b400 348.5deg,#9be700 353deg,#f8fd00 357deg,#fff500 358deg,#ffd900 360deg)"></i><i style="--r:23px;background:conic-gradient(#ffd100 0deg,#ff9900 6deg,#ff7400 13.5deg,#f95e00 23.5deg,#f85c00 38deg,#fd6900 46deg,#ff8d00 56.5deg,#ffb500 61deg,#ffec00 64.5deg,#fdff00 65.5deg,#9fe800 68deg,#24c000 70.5deg,#00b503 71.5deg,#00c938 74deg,#00dc6a 78deg,#00eaa0 82.5deg,#00f5d2 85deg,#00fcf4 86deg,#07f8ff 86.5deg,#2cd0ff 87.5deg,#45b6ff 88deg,#4d9aff 88.5deg,#4362ff 89.5deg,#4051fb 90deg,#4043e9 92deg,#4040e6 95deg,#4046ed 105.5deg,#4053fe 108.5deg,#4b8eff 110.5deg,#4ea2ff 111deg,#43b8ff 111.5deg,#12ecff 112.5deg,#00fcf0 113deg,#00e58c 114deg,#00bb13 115.5deg,#1dbe00 116deg,#8de300 117deg,#d6f500 118deg,#f5fd00 118.5deg,#fff500 119deg,#ffd400 120.5deg,#ffc800 122.5deg,#ffd700 124.5deg,#feff00 126deg,#d9f600 126.5deg,#aaeb00 127deg,#60d400 127.5deg,#03b500 128deg,#00e58b 129deg,#00f8e1 129.5deg,#18e6ff 130deg,#37c5ff 130.5deg,#4daeff 131deg,#4c96ff 132deg,#4a88ff 134.5deg,#4986ff 139deg,#4c94ff 145.5deg,#4fabff 149.5deg,#00fffe 155.5deg,#00de70 162deg,#00c834 166deg,#00bf1e 170deg,#00bd18 173deg,#00c42b 177.5deg,#00d861 183.5deg,#00e58b 186.5deg,#00f3cb 191deg,#00f7dd 193.5deg,#00f5d3 195.5deg,#00e99d 198.5deg,#00b400 205.5deg,#95e600 210deg,#f9fe00 215deg,#fff300 216.5deg,#ffbd00 223deg,#ff9300 231deg,#ff7b00 241deg,#ff7800 244deg,#ff8400 248.5deg,#ffa100 252.5deg,#ffc400 254.5deg,#fcfe00 256.5deg,#afec00 257.5deg,#75db00 258deg,#27c100 258.5deg,#00c020 259deg,#00d75e 259.5deg,#00fffd 260.5deg,#29d3ff 261deg,#4ab0ff 261.5deg,#4a88ff 262.5deg,#4777ff 263.5deg,#4673ff 264.5deg,#4881ff 267.5deg,#4fa7ff 271deg,#2fcdff 273deg,#01feff 275deg,#00e177 278deg,#00b80c 281.5deg,#02b500 282deg,#50cf00 284.5deg,#79dc00 286.5deg,#8ee300 289deg,#90e400 291deg,#86e100 294deg,#66d600 296deg,#27c100 298deg,#00b401 299deg,#00eca9 304deg,#00f6d7 306deg,#00fdf8 309deg,#04fbff 312deg,#2ad2ff 321.5deg,#50aaff 327deg,#4d9cff 331deg,#4d9cff 331.5deg,#50a7ff 335.5deg,#3ebeff 337.5deg,#06f9ff 340.5deg,#00fdf5 341deg,#00de6f 344deg,#00b504 347.5deg,#96e600 352deg,#fdff00 356.5deg,#ffd100 360deg)"></i><i style="--r:21.5px;background:conic-gradient(#ffc900 0deg,#ff9500 6deg,#ff7200 13.5deg,#f95e00 23.5deg,#f85c00 37deg,#fe6b00 46deg,#ff8b00 55.5deg,#ffb100 60deg,#ffe600 63.5deg,#fffb00 64.5deg,#f5fd00 65deg,#94e500 67.5deg,#17bc00 70deg,#02b500 70.5deg,#00cb3e 73.5deg,#00eaa0 81.5deg,#00f3c7 83.5deg,#00fefa 85deg,#1fdeff 86deg,#50a9ff 87deg,#4055ff 88.5deg,#4043ea 90.5deg,#4040e6 93.5deg,#4046ed 104deg,#4053fe 107deg,#4a87ff 109deg,#4fabff 110deg,#0cf2ff 111.5deg,#00fae9 112deg,#00e68c 113deg,#00bf1c 114.5deg,#0cb800 115deg,#75db00 116deg,#a2e900 116.5deg,#fdff00 118deg,#ffd300 120deg,#ffc900 121.5deg,#ffd500 123.5deg,#ffe900 124.5deg,#fff900 125deg,#e5f900 125.5deg,#b8ee00 126deg,#78dc00 126.5deg,#1cbd00 127deg,#00c732 127.5deg,#00e177 128deg,#00f5d2 128.5deg,#12ecff 129deg,#33c9ff 129.5deg,#4bb0ff 130deg,#4c97ff 131deg,#4a88ff 133.5deg,#4986ff 137.5deg,#4c95ff 144.5deg,#4caeff 148.5deg,#00fefd 154.5deg,#00de71 161deg,#00c836 165deg,#00bf1e 169deg,#00bd19 172deg,#00c42b 176.5deg,#00d65b 182deg,#00e382 185deg,#00f2c5 189.5deg,#00f7db 192.5deg,#00f5d1 194.5deg,#00eca8 197deg,#00d65b 200.5deg,#00b503 204.5deg,#9be700 209.5deg,#fdff00 214.5deg,#ffbf00 222deg,#ff9300 230.5deg,#ff7b00 240deg,#ff7800 243.5deg,#ff8700 248.5deg,#ffa400 252deg,#ffc900 254deg,#fff800 255.5deg,#e7f900 256deg,#bef000 256.5deg,#8be200 257deg,#3cc800 257.5deg,#00bb13 258deg,#00d353 258.5deg,#00eaa0 259deg,#00fdf7 259.5deg,#4ab1ff 260.5deg,#4d98ff 261deg,#487eff 262deg,#4674ff 263.5deg,#4a8cff 267.5deg,#50aaff 270deg,#17e7ff 273deg,#00fffe 274deg,#00e178 277deg,#00b503 281deg,#62d500 284.5deg,#82df00 286.5deg,#90e400 290deg,#87e100 293deg,#69d700 295deg,#2cc300 297deg,#04b500 298deg,#00e382 302deg,#00f1c2 304deg,#00faea 306.5deg,#00ffff 309.5deg,#23daff 319deg,#50a9ff 326deg,#4d9cff 330deg,#4fa6ff 334deg,#47b3ff 335.5deg,#19e5ff 338.5deg,#04fbff 339.5deg,#00f8de 340.5deg,#00de71 343deg,#00b708 346.5deg,#07b600 347deg,#8fe400 351deg,#fffd00 356deg,#ffc900 360deg)"></i><i style="--r:20px;background:conic-gradient(#ffc200 0deg,#ff8e00 6.5deg,#ff6e00 14.5deg,#f95e00 23deg,#f95c00 36.5deg,#fe6b00 45.5deg,#ff8c00 55deg,#ffb300 59.5deg,#ffeb00 63deg,#feff00 64deg,#9ee800 66.5deg,#20bf00 69deg,#0ab700 69.5deg,#00b707 70deg,#00cd43 73deg,#00e899 80deg,#00f3ca 82.5deg,#02fdff 84deg,#28d5ff 85deg,#41baff 85.5deg,#4e9dff 86deg,#4363ff 87deg,#4051fb 87.5deg,#4043e9 89.5deg,#4040e6 92.5deg,#4046ee 102.5deg,#4052fd 105.5deg,#4672ff 107deg,#4ea1ff 108.5deg,#47b3ff 109deg,#08f7ff 110.5deg,#00f9e4 111deg,#00da67 112.5deg,#00b502 114deg,#90e400 115.5deg,#ecfa00 117deg,#fffc00 117.5deg,#ffda00 119deg,#ffcb00 121deg,#ffd300 122.5deg,#fff400 124deg,#f0fc00 124.5deg,#c6f100 125deg,#8fe400 125.5deg,#34c500 126deg,#00c122 126.5deg,#00db69 127deg,#00f1c2 127.5deg,#0bf3ff 128deg,#2fcdff 128.5deg,#48b2ff 129deg,#4d97ff 130deg,#4a88ff 132.5deg,#4986ff 136deg,#4c94ff 143deg,#4fabff 147deg,#00fefc 153.5deg,#00dc6a 160.5deg,#00c733 164.5deg,#00be1c 169deg,#00bd19 171deg,#00c52d 176deg,#00d860 181.5deg,#00e58a 184.5deg,#00f3ca 189deg,#00f7da 191.5deg,#00f4d0 193.5deg,#00e99d 196.5deg,#00d352 200deg,#00b607 203.5deg,#07b600 204deg,#96e600 208.5deg,#f8fd00 213.5deg,#fff900 214.5deg,#ffbe00 221.5deg,#ff9400 229.5deg,#ff7b00 239.5deg,#ff7800 242.5deg,#ff8600 247.5deg,#ffa000 251deg,#ffc300 253deg,#fff000 254.5deg,#f5fd00 255deg,#9ee800 256deg,#00b605 257deg,#00cf47 257.5deg,#00e793 258deg,#00fbef 258.5deg,#25d8ff 259deg,#48b2ff 259.5deg,#4a88ff 260.5deg,#4676ff 262deg,#4676ff 262.5deg,#4a8aff 266deg,#4daeff 269deg,#00fefb 273deg,#00e27a 276deg,#00b707 280deg,#07b600 280.5deg,#51cf00 283deg,#7ede00 285.5deg,#8ee300 288deg,#8fe400 289.5deg,#83e000 292.5deg,#5fd400 294.5deg,#1ebe00 296.5deg,#09b700 297deg,#00b709 297.5deg,#00eba3 302deg,#00f6d5 304deg,#00fdf7 307deg,#04faff 310deg,#26d6ff 318.5deg,#50a8ff 325deg,#4d9cff 329deg,#50a8ff 333deg,#38c3ff 335.5deg,#02fdff 338.5deg,#00eeb2 340.5deg,#00df72 342deg,#01b400 346deg,#97e600 350.5deg,#fcfe00 355deg,#ffc200 360deg)"></i><i style="--r:18.5px;background:conic-gradient(#ffbc00 0deg,#ff8e00 6deg,#fe6c00 14.5deg,#f95e00 23deg,#f95c00 35.5deg,#fd6700 43.5deg,#ff8b00 54deg,#ffb000 58.5deg,#ffe500 62deg,#fffa00 63deg,#f5fd00 63.5deg,#92e500 66deg,#29c200 68deg,#00b502 69deg,#00c939 71.5deg,#00dd6d 75.5deg,#00eaa1 79.5deg,#00f4cd 81.5deg,#00fcf2 82.5deg,#08f7ff 83deg,#32caff 84deg,#4dadff 84.5deg,#4056ff 86deg,#4043ea 88deg,#4040e6 91deg,#4046ee 101deg,#4157ff 104.5deg,#4d98ff 107deg,#50a8ff 107.5deg,#03fbff 109.5deg,#00efb7 110.5deg,#00db69 111.5deg,#00b80b 113deg,#1ebe00 113.5deg,#a2e900 115deg,#f4fc00 116.5deg,#fff800 117deg,#ffd900 118.5deg,#ffcd00 120.5deg,#ffd800 122deg,#fbfe00 123.5deg,#d3f500 124deg,#a1e900 124.5deg,#4dce00 125deg,#00ba10 125.5deg,#00d559 126deg,#00edb0 126.5deg,#04fbff 127deg,#2ad2ff 127.5deg,#45b5ff 128deg,#4fa3ff 128.5deg,#4b8dff 130deg,#4986ff 135deg,#4c95ff 142deg,#4dadff 146deg,#00fefb 152.5deg,#00dc6b 159.5deg,#00c835 163.5deg,#00bf1e 167.5deg,#00be19 170deg,#00c52d 175deg,#00d85f 180.5deg,#00e589 183.5deg,#00f2c4 187.5deg,#00f6d8 190.5deg,#00f4ce 192.5deg,#00eba7 195deg,#00d75d 198.5deg,#02b500 203deg,#9ce700 208deg,#fcfe00 213deg,#ffb700 222deg,#ff9000 230deg,#ff7800 242deg,#ff8600 247deg,#ffa300 250.5deg,#ffc900 252.5deg,#fffc00 254deg,#ddf700 254.5deg,#aeec00 255deg,#69d700 255.5deg,#0fb900 256deg,#00ca3a 256.5deg,#00e485 257deg,#00f9e5 257.5deg,#21dcff 258deg,#46b4ff 258.5deg,#4d9aff 259deg,#487fff 260deg,#4777ff 261.5deg,#4b91ff 265.5deg,#50a9ff 267.5deg,#12ecff 271deg,#00fdf8 272deg,#00dd6c 275.5deg,#01b400 279.5deg,#4bcd00 282deg,#7bdd00 284.5deg,#8ee300 287.5deg,#8fe400 288.5deg,#83e000 291.5deg,#62d500 293.5deg,#23c000 295.5deg,#00b605 296.5deg,#00eaa0 301deg,#00f5d4 303deg,#00fdf7 306deg,#05faff 309deg,#27d5ff 317.5deg,#50a7ff 324deg,#4e9dff 328deg,#50aaff 332deg,#2eceff 335deg,#00ffff 337.5deg,#00df74 341deg,#00b503 345deg,#9de800 350deg,#fffe00 354.5deg,#ffbc00 360deg)"></i><i style="--r:17px;background:conic-gradient(#ffb600 0deg,#ff8700 6.5deg,#fb6300 17.5deg,#f95c00 34.5deg,#fc6600 42.5deg,#ff8900 53deg,#ffac00 57.5deg,#ffe000 61deg,#ffff00 62.5deg,#9ce700 65deg,#1bbd00 67.5deg,#05b600 68deg,#00c836 70.5deg,#00dd6c 74.5deg,#00e899 78deg,#00f1c2 80deg,#00f9e3 81deg,#00fefa 81.5deg,#0ef0ff 82deg,#3dbeff 83deg,#4ea0ff 83.5deg,#4365ff 84.5deg,#4051fc 85deg,#4043e9 87deg,#4040e6 90deg,#4046ee 99.5deg,#4055ff 103deg,#4b91ff 105.5deg,#4bb0ff 106.5deg,#00fffe 108.5deg,#00dc6b 110.5deg,#00bb13 112deg,#10b900 112.5deg,#92e500 114deg,#fcfe00 116deg,#ffd900 118deg,#ffce00 119.5deg,#ffd700 121deg,#ffeb00 122deg,#fffc00 122.5deg,#dff700 123deg,#afec00 123.5deg,#65d600 124deg,#01b400 124.5deg,#00cf49 125deg,#00fdf6 126deg,#25d8ff 126.5deg,#42b9ff 127deg,#4fa5ff 127.5deg,#4c92ff 128.5deg,#4987ff 131.5deg,#4986ff 133.5deg,#4c94ff 140.5deg,#4bafff 145deg,#03fcff 151deg,#00f7db 153deg,#00dc6c 158.5deg,#00c836 162.5deg,#00bf1e 166.5deg,#00be1a 169deg,#00c226 173deg,#00d353 178.5deg,#00e588 182.5deg,#00f2c4 186.5deg,#00f6d7 189.5deg,#00f3c7 192deg,#00e791 195deg,#00b502 202deg,#97e600 207deg,#ffff00 212.5deg,#ffbf00 220deg,#ff9200 229deg,#ff7a00 239.5deg,#ff7900 241.5deg,#ff8700 246.5deg,#ffa000 249.5deg,#ffc300 251.5deg,#fff400 253deg,#ecfa00 253.5deg,#beef00 254deg,#81df00 254.5deg,#25c000 255deg,#00c52c 255.5deg,#00e075 256deg,#00f7d9 256.5deg,#1ce1ff 257deg,#44b7ff 257.5deg,#4d9bff 258deg,#4881ff 259deg,#4779ff 260.5deg,#4b8fff 264deg,#4eacff 266.5deg,#05f9ff 270.5deg,#00fdf6 271deg,#00dd6e 274.5deg,#00b503 278.5deg,#5dd300 282deg,#82df00 284.5deg,#8ee300 287.5deg,#84e000 290.5deg,#65d600 292.5deg,#27c100 294.5deg,#00b502 295.5deg,#00e99d 300deg,#00f3c8 301.5deg,#00fae9 303.5deg,#01feff 306.5deg,#22daff 315.5deg,#4fa7ff 323deg,#4e9dff 326.5deg,#50a8ff 330.5deg,#33c9ff 333.5deg,#00fefc 336.5deg,#00e075 340deg,#00b707 344deg,#07b600 344.5deg,#98e700 349deg,#fafe00 353.5deg,#ffe100 356deg,#ffb600 360deg)"></i><i style="--r:15.5px;background:conic-gradient(#ffb000 0deg,#ff8200 7deg,#fa6000 18.5deg,#f95c00 34deg,#fd6800 42.5deg,#ff8c00 53deg,#ffb400 57.5deg,#ffef00 61deg,#fff900 61.5deg,#f6fd00 62deg,#8fe400 64.5deg,#25c000 66.5deg,#0eb900 67deg,#00b605 67.5deg,#00ce45 70.5deg,#00e792 76.5deg,#00efb8 78.5deg,#00f6d5 79.5deg,#03fcff 80.5deg,#2dcfff 81.5deg,#49b1ff 82deg,#4c93ff 82.5deg,#4158ff 83.5deg,#4046ed 85deg,#4040e6 88.5deg,#4047ee 98deg,#4054ff 101.5deg,#4d98ff 104.5deg,#4fa6ff 105deg,#22dbff 106.5deg,#00fef9 107.5deg,#00dd6d 109.5deg,#03b500 111.5deg,#7fde00 113deg,#bdef00 114deg,#eefb00 115deg,#fffd00 115.5deg,#ffd800 117.5deg,#ffd000 119deg,#ffdd00 120.5deg,#fff700 121.5deg,#ebfa00 122deg,#bdef00 122.5deg,#7cdd00 123deg,#1abd00 123.5deg,#00c938 124deg,#00e487 124.5deg,#00f9e6 125deg,#1edfff 125.5deg,#3ebdff 126deg,#4fa7ff 126.5deg,#4c93ff 127.5deg,#4987ff 130.5deg,#4986ff 132deg,#4c95ff 139.5deg,#4eadff 143.5deg,#03fcff 150deg,#00e074 157deg,#00c938 161.5deg,#00c01f 165.5deg,#00be1a 168deg,#00c328 172.5deg,#00d75e 178.5deg,#00e487 181.5deg,#00f2c3 185.5deg,#00f6d5 188deg,#00f6d6 188.5deg,#00f2c6 191deg,#00e791 194deg,#00b605 201deg,#18bc00 202deg,#9de800 206.5deg,#fafe00 211.5deg,#ffe900 214deg,#ffac00 222.5deg,#ff8500 232.5deg,#ff7900 240.5deg,#ff8600 245.5deg,#ffa300 249deg,#ffca00 251deg,#fbfe00 252.5deg,#cef300 253deg,#98e600 253.5deg,#3dc800 254deg,#00bf1d 254.5deg,#00db69 255deg,#00f3cb 255.5deg,#17e7ff 256deg,#40bbff 256.5deg,#4e9eff 257deg,#4982ff 258deg,#477bff 259.5deg,#4b92ff 263deg,#50a8ff 265deg,#22dbff 268deg,#04fbff 269.5deg,#00f8e1 270.5deg,#00de6f 273.5deg,#00b707 277.5deg,#06b600 278deg,#58d100 281deg,#7fde00 283.5deg,#8ee300 286.5deg,#8ee300 287deg,#80df00 290deg,#5cd300 292deg,#18bc00 294deg,#03b500 294.5deg,#00ecab 299.5deg,#00f7da 301.5deg,#00fefa 304.5deg,#0df1ff 309.5deg,#36c6ff 317.5deg,#50a9ff 321.5deg,#4e9dff 325.5deg,#50aaff 329.5deg,#29d3ff 333deg,#00fefa 335.5deg,#00e076 339deg,#02b500 343.5deg,#93e500 348deg,#ffff00 353deg,#ffb400 359.5deg,#ffb000 360deg)"></i><i style="--r:14px;background:conic-gradient(#ffaa00 0deg,#ff7d00 7.5deg,#fa5f00 19deg,#f95c00 33.5deg,#fd6800 42deg,#ff8b00 52deg,#ffab00 56deg,#ffdf00 59.5deg,#ffff00 61deg,#9be700 63.5deg,#17bc00 66deg,#01b400 66.5deg,#00ca3a 69deg,#00de70 73deg,#00eba3 76.5deg,#00f3c8 78deg,#00fcf1 79deg,#09f5ff 79.5deg,#38c3ff 80.5deg,#4fa4ff 81deg,#4467ff 82deg,#4052fc 82.5deg,#4043ea 84.5deg,#4040e6 87.5deg,#4048f0 97deg,#4053fe 100deg,#4b91ff 103deg,#4eadff 104deg,#0cf2ff 106deg,#00fdf4 106.5deg,#00de6f 108.5deg,#00b606 110.5deg,#1fbe00 111deg,#95e600 112.5deg,#f5fd00 114.5deg,#fff900 115deg,#ffd800 117deg,#ffd200 118deg,#ffdb00 119.5deg,#fff200 120.5deg,#f5fd00 121deg,#caf200 121.5deg,#93e500 122deg,#33c500 122.5deg,#00c327 123deg,#00df72 123.5deg,#00f6d4 124deg,#17e7ff 124.5deg,#39c2ff 125deg,#50aaff 125.5deg,#4c93ff 126.5deg,#4987ff 129.5deg,#4986ff 131deg,#4c96ff 138.5deg,#4cafff 142.5deg,#02fdff 149deg,#00dd6d 156.5deg,#00c834 161deg,#00bf1d 165.5deg,#00be1b 167.5deg,#00c328 171.5deg,#00d558 177deg,#00e487 180.5deg,#00f2c2 184.5deg,#00f5d4 187deg,#00f6d4 187.5deg,#00f2c5 190deg,#00e486 193.5deg,#04b500 200.5deg,#98e700 205.5deg,#feff00 211deg,#ffba00 219.5deg,#ff8f00 228.5deg,#ff7900 239.5deg,#ff7900 240deg,#ff8600 245deg,#ffa600 248.5deg,#ffd200 250.5deg,#fff900 251.5deg,#def700 252deg,#a9ea00 252.5deg,#56d100 253deg,#00b90d 253.5deg,#00d65b 254deg,#00f0bb 254.5deg,#10eeff 255deg,#3cbfff 255.5deg,#4ea0ff 256deg,#4984ff 257deg,#487dff 258deg,#4a8bff 261deg,#4fabff 264deg,#0cf2ff 268deg,#02fdff 268.5deg,#00e794 271.5deg,#00d456 273.5deg,#01b400 277deg,#52cf00 280deg,#7cdd00 282.5deg,#8de300 285.5deg,#8de300 286deg,#81df00 289deg,#5fd400 291deg,#1dbe00 293deg,#08b700 293.5deg,#00be1b 294.5deg,#00eca8 298.5deg,#00f4d0 300deg,#00fcf2 302.5deg,#02fdff 305deg,#27d6ff 314deg,#50a8ff 320.5deg,#4e9eff 324deg,#50a8ff 328deg,#35c7ff 331deg,#05faff 334deg,#00fdf7 334.5deg,#00e177 338deg,#00b503 342.5deg,#99e700 347.5deg,#f9fe00 352deg,#ffef00 353.5deg,#ffaa00 360deg)"></i><i style="--r:12.5px;background:conic-gradient(#ffa500 0deg,#ff7b00 7.5deg,#fa5f00 18.5deg,#f95c00 32.5deg,#fd6700 41deg,#ff8900 51deg,#ffad00 55.5deg,#ffe300 59deg,#fff900 60deg,#f6fd00 60.5deg,#8de300 63deg,#20bf00 65deg,#09b700 65.5deg,#00b708 66deg,#00cc40 68.5deg,#00e074 72.5deg,#00edaf 76deg,#00f8e1 77.5deg,#00fefa 78deg,#10eeff 78.5deg,#44b6ff 79.5deg,#4c97ff 80deg,#415aff 81deg,#404af2 82deg,#4041e7 85deg,#4040e7 86deg,#4047ee 95deg,#4158ff 99deg,#4fa4ff 102.5deg,#39c2ff 103.5deg,#09f6ff 105deg,#00fcf0 105.5deg,#00de71 107.5deg,#00b90d 109.5deg,#13ba00 110deg,#84e000 111.5deg,#bbef00 112.5deg,#fcfe00 114deg,#ffd800 116.5deg,#ffd400 117.5deg,#ffe200 119deg,#feff00 120deg,#d7f500 120.5deg,#a3e900 121deg,#4ccd00 121.5deg,#00bc15 122deg,#00d962 122.5deg,#00f1c1 123deg,#0ef0ff 123.5deg,#34c8ff 124deg,#4dadff 124.5deg,#4c94ff 125.5deg,#4a87ff 128deg,#4987ff 129.5deg,#4c93ff 136.5deg,#4eacff 141deg,#07f7ff 147.5deg,#00fdf7 148.5deg,#00dd6e 155.5deg,#00c732 160.5deg,#00bf1c 165deg,#00be1b 166.5deg,#00c328 170.5deg,#00d557 176deg,#00e486 179.5deg,#00f1c2 183.5deg,#00f5d3 186deg,#00f5d3 186.5deg,#00f2c3 189deg,#00e791 192deg,#00b400 199.5deg,#9ee800 205deg,#fffe00 210.5deg,#ffc300 217.5deg,#ff9400 226.5deg,#ff7b00 236.5deg,#ff7900 239deg,#ff8500 244deg,#ffa200 247.5deg,#ffcb00 249.5deg,#fff000 250.5deg,#eefb00 251deg,#baef00 251.5deg,#6fd900 252deg,#06b600 252.5deg,#00d04b 253deg,#00eca9 253.5deg,#09f6ff 254deg,#37c5ff 254.5deg,#4fa3ff 255deg,#4b90ff 255.5deg,#487eff 257deg,#4c92ff 260.5deg,#4caeff 263deg,#01feff 267.5deg,#00df72 271.5deg,#00b503 276deg,#58d100 279.5deg,#7ede00 282deg,#8de300 285deg,#8de300 285.5deg,#81df00 288deg,#61d400 290deg,#35c600 291.5deg,#0db800 292.5deg,#00b607 293deg,#00eba6 297.5deg,#00f6d8 299.5deg,#00fefa 302.5deg,#0ef1ff 307.5deg,#38c4ff 315.5deg,#50a7ff 319.5deg,#4e9eff 323deg,#50aaff 327deg,#2cd0ff 330.5deg,#03fbff 333deg,#00f9e5 334deg,#00dc6b 337.5deg,#00b606 341.5deg,#18bc00 342.5deg,#94e500 346.5deg,#feff00 351.5deg,#ffb200 358.5deg,#ffa500 360deg)"></i><i style="--r:11px;background:conic-gradient(#ffa100 0deg,#ff7800 7.5deg,#fa5f00 18deg,#f95c00 32deg,#fe6a00 41.5deg,#ff8a00 50.5deg,#ffaf00 55deg,#ffe800 58.5deg,#fffe00 59.5deg,#99e700 62deg,#12ba00 64.5deg,#00b503 65deg,#00cb3e 67.5deg,#00e792 73.5deg,#00f1c0 75.5deg,#04fbff 77deg,#33c9ff 78deg,#50a9ff 78.5deg,#446aff 79.5deg,#4052fd 80deg,#4043ea 82deg,#4040e7 85deg,#4048f0 94deg,#4056ff 97.5deg,#4e9dff 101deg,#50aaff 101.5deg,#06f9ff 104deg,#00fbec 104.5deg,#00df72 106.5deg,#00bb13 108.5deg,#08b700 109deg,#97e600 111deg,#f0fb00 113deg,#fffd00 113.5deg,#ffdd00 115.5deg,#ffd700 116.5deg,#ffe100 118deg,#fffb00 119deg,#e2f800 119.5deg,#b1ec00 120deg,#64d500 120.5deg,#00b503 121deg,#00d251 121.5deg,#00edac 122deg,#05f9ff 122.5deg,#2eceff 123deg,#4ab0ff 123.5deg,#4c95ff 124.5deg,#4a87ff 127deg,#4987ff 128.5deg,#4c96ff 136deg,#4caeff 140deg,#01feff 147deg,#00de6f 154.5deg,#00c733 159.5deg,#00bf1d 164deg,#00be1b 165.5deg,#00c42a 170deg,#00d75c 175.5deg,#00e68e 179deg,#00f2c6 183deg,#00f5d2 185.5deg,#00f2c2 188deg,#00e791 191deg,#00b503 198.5deg,#7ede00 203deg,#aceb00 205deg,#fcfe00 209.5deg,#ffb500 219deg,#ff8900 229deg,#ff7900 238.5deg,#ff8600 243.5deg,#ff9e00 246.5deg,#ffc400 248.5deg,#ffe700 249.5deg,#fdff00 250deg,#cbf300 250.5deg,#89e200 251deg,#20bf00 251.5deg,#00ca3a 252deg,#00e794 252.5deg,#00fffe 253deg,#31cbff 253.5deg,#50a7ff 254deg,#4c93ff 254.5deg,#4982ff 255.5deg,#4880ff 256deg,#4c94ff 259.5deg,#50aaff 261.5deg,#12ecff 265.5deg,#00fffe 266.5deg,#00df73 270.5deg,#00b607 275deg,#06b600 275.5deg,#53d000 278.5deg,#7bdd00 281deg,#8ce300 284deg,#8ce300 284.5deg,#82df00 287deg,#64d500 289deg,#39c700 290.5deg,#00b503 292deg,#00eaa3 296.5deg,#00f6d7 298.5deg,#00fefa 301.5deg,#0ef0ff 306.5deg,#35c7ff 314deg,#50a9ff 318deg,#4e9fff 322deg,#4eacff 326deg,#2ad3ff 329.5deg,#02fdff 332deg,#00edb0 334.5deg,#00dd6d 336.5deg,#02b500 341deg,#9be700 346deg,#fffd00 351deg,#ffb500 357.5deg,#ffa100 360deg)"></i><i style="--r:9.5px;background:conic-gradient(#ff9c00 0deg,#ff7600 7.5deg,#fa5f00 18deg,#f95c00 31deg,#fd6800 40deg,#ff8800 49.5deg,#ffac00 54deg,#ffd900 57deg,#fff800 58.5deg,#f7fd00 59deg,#8ae200 61.5deg,#1cbd00 63.5deg,#04b500 64deg,#00ce44 67deg,#00e792 72.5deg,#00f2c4 74.5deg,#00fcf1 75.5deg,#0bf4ff 76deg,#3fbcff 77deg,#4d9bff 77.5deg,#425dff 78.5deg,#404ff9 79deg,#4042e9 81deg,#4041e7 83.5deg,#4048f0 92.5deg,#4054ff 96deg,#4c97ff 99.5deg,#4bafff 100.5deg,#03fcff 103deg,#00f4cd 104deg,#00df74 105.5deg,#00b501 108deg,#88e100 110deg,#e4f800 112deg,#f7fd00 112.5deg,#fff000 113.5deg,#ffda00 115.5deg,#ffd900 116deg,#ffe900 117.5deg,#fff700 118deg,#ebfa00 118.5deg,#bef000 119deg,#7bdd00 119.5deg,#15bb00 120deg,#00cc40 120.5deg,#00e896 121deg,#00fdf7 121.5deg,#46b5ff 122.5deg,#4ea1ff 123deg,#4a8cff 124.5deg,#4987ff 127.5deg,#4c97ff 135deg,#4fabff 138.5deg,#00ffff 146deg,#00de70 153.5deg,#00c834 158.5deg,#00bf1d 163deg,#00be1c 164.5deg,#00c327 168.5deg,#00d250 173.5deg,#00e484 177.5deg,#00f1c0 181.5deg,#00f5d1 184deg,#00f5d1 184.5deg,#00f1c1 187deg,#00e791 190deg,#00b606 197.5deg,#14bb00 198.5deg,#9ee800 203.5deg,#ffff00 209deg,#ffc100 216.5deg,#ff9100 226deg,#ff7a00 237.5deg,#ff7a00 238deg,#ff8700 243deg,#ffa200 246deg,#ffbe00 247.5deg,#ffdf00 248.5deg,#fff700 249deg,#dcf700 249.5deg,#a0e800 250deg,#3cc800 250.5deg,#00c328 251deg,#00e27e 251.5deg,#00fbed 252deg,#29d3ff 252.5deg,#4eacff 253deg,#4c96ff 253.5deg,#4984ff 254.5deg,#4982ff 255deg,#4c97ff 258.5deg,#4dadff 260.5deg,#10eeff 264.5deg,#00fefc 265.5deg,#00e074 269.5deg,#01b400 274.5deg,#4ece00 277.5deg,#77dc00 280deg,#8be200 283deg,#8be200 283.5deg,#83e000 286deg,#66d600 288deg,#3dc800 289.5deg,#01b400 291deg,#00e68d 295deg,#00f3cb 297deg,#00fbec 299deg,#01feff 301.5deg,#26d7ff 310.5deg,#50a9ff 317deg,#4e9fff 320.5deg,#50aaff 324.5deg,#2eceff 328deg,#01feff 331deg,#00dd6e 335.5deg,#00b502 340deg,#96e600 345deg,#fcfe00 350deg,#ffab00 358deg,#ff9c00 360deg)"></i><i style="--r:8px;background:conic-gradient(#ff9800 0deg,#ff7300 8deg,#f95e00 18.5deg,#f95c00 30.5deg,#fd6800 39.5deg,#ff8900 49deg,#ffae00 53.5deg,#ffe700 57deg,#fffe00 58deg,#98e600 60.5deg,#26c100 62.5deg,#0db800 63deg,#00b606 63.5deg,#00c938 65.5deg,#00dd6d 69deg,#00e589 71deg,#00efb7 73deg,#00f8df 74deg,#00fefb 74.5deg,#13ebff 75deg,#4caeff 76deg,#456dff 77deg,#4053fe 77.5deg,#4043ea 79.5deg,#4041e7 82.5deg,#4048f0 91deg,#415aff 95deg,#50a8ff 99deg,#01feff 102deg,#00e075 104.5deg,#00b708 107deg,#16bb00 107.5deg,#98e700 109.5deg,#fdfe00 112deg,#ffdd00 114.5deg,#ffdb00 115deg,#ffe700 116.5deg,#fff300 117deg,#f4fc00 117.5deg,#caf200 118deg,#91e400 118.5deg,#2ec300 119deg,#00c52e 119.5deg,#00e27e 120deg,#00f9e4 120.5deg,#20ddff 121deg,#41baff 121.5deg,#4fa4ff 122deg,#4a8cff 123.5deg,#4987ff 126deg,#4c96ff 133.5deg,#4dadff 137.5deg,#00fffe 145deg,#00de71 152.5deg,#00c836 157.5deg,#00c01f 161.5deg,#00bf1c 163.5deg,#00c429 168deg,#00d65b 173.5deg,#00e58c 177deg,#00f1c0 180.5deg,#00f4d0 183.5deg,#00f1c0 186deg,#00e791 189deg,#01b400 197deg,#9ae700 202.5deg,#fbfe00 208deg,#ffb300 218deg,#ff8900 228deg,#ff7a00 237deg,#ff8500 242deg,#ff9e00 245deg,#ffc600 247deg,#ffee00 248deg,#edfb00 248.5deg,#b2ed00 249deg,#58d100 249.5deg,#00bc15 250deg,#00dc6b 250.5deg,#00f6d9 251deg,#21dcff 251.5deg,#48b2ff 252deg,#4d9aff 252.5deg,#4987ff 253.5deg,#4984ff 254deg,#4d99ff 257.5deg,#50a9ff 259deg,#0fefff 263.5deg,#00fefa 264.5deg,#00e075 268.5deg,#00b503 273.5deg,#54d000 277deg,#7fde00 280deg,#8be200 283deg,#7fde00 285.5deg,#5dd300 287.5deg,#30c400 289deg,#06b600 290deg,#00c62f 291.5deg,#00edae 295deg,#00f8dd 297deg,#00fffd 300deg,#27d6ff 309.5deg,#50a8ff 316deg,#4e9fff 319.5deg,#4eacff 323.5deg,#2cd0ff 327deg,#00fffe 330deg,#00de6f 334.5deg,#00b605 339deg,#18bc00 340deg,#9ce700 344.5deg,#fffe00 349.5deg,#ffb200 356.5deg,#ff9800 360deg)"></i><i style="--r:6.5px;background:conic-gradient(#ff9400 0deg,#ff7100 8deg,#f95e00 18deg,#f95c00 29.5deg,#fd6700 38.5deg,#ff8a00 48.5deg,#ffaa00 52.5deg,#ffe200 56deg,#fff800 57deg,#f7fd00 57.5deg,#88e100 60deg,#17bc00 62deg,#00b401 62.5deg,#00cc3f 65deg,#00e589 70deg,#00f0bb 72deg,#05faff 73.5deg,#39c2ff 74.5deg,#4ea0ff 75deg,#4260ff 76deg,#4050fa 76.5deg,#4043e9 78.5deg,#4041e7 81deg,#4048f0 89.5deg,#4158ff 93.5deg,#4ea1ff 97.5deg,#4eacff 98deg,#00fefc 101deg,#00e077 103.5deg,#00b90e 106deg,#0cb800 106.5deg,#8be200 108.5deg,#e0f800 110.5deg,#fffd00 111.5deg,#ffe100 113.5deg,#ffde00 114.5deg,#ffe600 115.5deg,#fbfe00 116.5deg,#d5f500 117deg,#a0e800 117.5deg,#46cb00 118deg,#00be1c 118.5deg,#00dc6b 119deg,#00f5d0 119.5deg,#17e6ff 120deg,#3cc0ff 120.5deg,#4fa7ff 121deg,#4b91ff 122deg,#4a87ff 125deg,#4c97ff 132.5deg,#4cafff 136.5deg,#00fffd 144deg,#00df71 151.5deg,#00c937 156.5deg,#00bf1f 161deg,#00bf1c 163deg,#00c630 168deg,#00dd6c 174deg,#00f1bf 179.5deg,#00f4cf 182.5deg,#00f0b9 185.5deg,#00cd43 192.5deg,#00b502 196deg,#96e600 201.5deg,#feff00 207.5deg,#ffbc00 216deg,#ff9000 225deg,#ff7a00 236deg,#ff7a00 236.5deg,#ff8600 241.5deg,#ffa100 244.5deg,#ffc000 246deg,#ffe500 247deg,#fdff00 247.5deg,#c5f100 248deg,#75db00 248.5deg,#00b401 249deg,#00d558 249.5deg,#00f2c2 250deg,#17e6ff 250.5deg,#42b9ff 251deg,#4e9eff 251.5deg,#4a89ff 252.5deg,#4987ff 253deg,#4c92ff 255.5deg,#4fabff 258deg,#05faff 263deg,#00fdf8 263.5deg,#00e076 267.5deg,#00b606 272.5deg,#13ba00 273.5deg,#59d200 276.5deg,#7cdd00 279deg,#8ae200 282deg,#80df00 284.5deg,#60d400 286.5deg,#34c500 288deg,#0bb800 289deg,#00b708 289.5deg,#00e899 293.5deg,#00f5d3 295.5deg,#00fdf5 298deg,#04faff 300.5deg,#2bd2ff 309deg,#50a8ff 315deg,#4ea0ff 318.5deg,#4daeff 322.5deg,#2ad2ff 326deg,#00fefc 329deg,#00de70 333.5deg,#03b500 338.5deg,#97e600 343.5deg,#fbfe00 348.5deg,#ffa500 357.5deg,#ff9400 360deg)"></i></div></div><div class="w" style="left:358px;top:59px"><div class="d b" style="left:0;top:125px"><i style="--r:126.5px;background:conic-gradient(from 28deg,#4040df 0deg,#4040df 38deg,#4040df 124deg)"></i><i style="--r:125px;background:conic-gradient(from 28deg,#4040df 0deg,#4040df 38deg,#4040df 124deg)"></i><i style="--r:123.5px;background:conic-gradient(from 28deg,#4040df 0deg,#4040df 37.5deg,#4040df 124deg)"></i><i style="--r:122px;background:conic-gradient(from 28deg,#4040df 0deg,#4040df 37.5deg,#4040df 124deg)"></i><i style="--r:120.5px;background:conic-gradient(from 28deg,#4040df 0deg,#4040df 37.5deg,#4040df 124deg)"></i><i style="--r:119px;background:conic-gradient(from 28deg,#4040df 0deg,#4040df 37.5deg,#4040df 124deg)"></i><i style="--r:117.5px;background:conic-gradient(from 28deg,#4040df 0deg,#4040df 37.5deg,#4040df 124deg)"></i><i style="--r:116px;background:conic-gradient(from 28deg,#4040df 0deg,#4040df 37.5deg,#4040df 124deg)"></i><i style="--r:114.5px;background:conic-gradient(from 28deg,#4040df 0deg,#4040df 37.5deg,#4040df 124deg)"></i><i style="--r:113px;background:conic-gradient(from 28deg,#4040df 0deg,#4040df 37deg,#4040df 124deg)"></i><i style="--r:111.5px;background:conic-gradient(from 28deg,#4040df 0deg,#4040e0 37deg,#4040df 124deg)"></i><i style="--r:110px;background:conic-gradient(from 28deg,#4040df 0deg,#4040e0 37deg,#4040df 124deg)"></i><i style="--r:108.5px;background:conic-gradient(from 28deg,#4040df 0deg,#4040e0 36.5deg,#4040df 124deg)"></i><i style="--r:107px;background:conic-gradient(from 28deg,#4040df 0deg,#4040e0 36.5deg,#4040df 124deg)"></i><i style="--r:105.5px;background:conic-gradient(from 28deg,#4040df 0deg,#4040e0 36.5deg,#4040df 124deg)"></i><i style="--r:104px;background:conic-gradient(from 28deg,#4040df 0deg,#4040e0 36deg,#4040df 124deg)"></i><i style="--r:102.5px;background:conic-gradient(from 28deg,#4040df 0deg,#4040e0 36deg,#4040df 124deg)"></i><i style="--r:101px;background:conic-gradient(from 28deg,#4040df 0deg,#4040e0 36deg,#4040df 124deg)"></i><i style="--r:99.5px;background:conic-gradient(from 28deg,#4040df 0deg,#4040e0 35.5deg,#4040df 124deg)"></i><i style="--r:98px;background:conic-gradient(from 28deg,#4040df 0deg,#4040e1 35.5deg,#4040df 124deg)"></i><i style="--r:96.5px;background:conic-gradient(from 28deg,#4040df 0deg,#4040e1 35deg,#4040df 124deg)"></i><i style="--r:95px;background:conic-gradient(from 28deg,#4040df 0deg,#4040e1 35deg,#4040df 124deg)"></i><i style="--r:93.5px;background:conic-gradient(from 28deg,#4040df 0deg,#4040e1 35deg,#4040df 124deg)"></i><i style="--r:92px;background:conic-gradient(from 28deg,#4040df 0deg,#4040e2 34.5deg,#4040df 124deg)"></i><i style="--r:90.5px;background:conic-gradient(from 28deg,#4040df 0deg,#4040e2 34.5deg,#4040df 124deg)"></i><i style="--r:89px;background:conic-gradient(from 28deg,#4040df 0deg,#4040e2 34.5deg,#4040df 124deg)"></i><i style="--r:87.5px;background:conic-gradient(from 28deg,#4040df 0deg,#4040e3 34.5deg,#4040df 124deg)"></i><i style="--r:86px;background:conic-gradient(from 28deg,#4040df 0deg,#4040e3 34deg,#4040df 124deg)"></i><i style="--r:84.5px;background:conic-gradient(from 28deg,#4040df 0deg,#4040e3 34deg,#4040df 124deg)"></i><i style="--r:83px;background:conic-gradient(from 28deg,#4040df 0deg,#4040e4 34deg,#4040df 124deg)"></i><i style="--r:81.5px;background:conic-gradient(from 28deg,#4040df 0deg,#4040e4 34deg,#4040df 124deg)"></i><i style="--r:80px;background:conic-gradient(from 28deg,#4040df 0deg,#4040e5 34deg,#4040df 124deg)"></i><i style="--r:78.5px;background:conic-gradient(from 28deg,#4040df 0deg,#4040e6 34deg,#4040df 121.5deg,#4040df 124deg)"></i><i style="--r:77px;background:conic-gradient(from 28deg,#4040df 0deg,#4040e6 34.5deg,#4040df 122deg,#4040df 124deg)"></i><i style="--r:75.5px;background:conic-gradient(from 28deg,#4040df 0deg,#4041e7 34.5deg,#4040df 110.5deg,#4040df 124deg)"></i><i style="--r:74px;background:conic-gradient(from 28deg,#4040df 0deg,#4041e8 34.5deg,#4040df 102deg,#4040df 124deg)"></i><i style="--r:72.5px;background:conic-gradient(from 28deg,#4040e0 0deg,#4042e8 34.5deg,#4040df 104deg,#4040df 124deg)"></i><i style="--r:71px;background:conic-gradient(from 28deg,#4040e0 0deg,#4043e9 34.5deg,#4040df 97.5deg,#4040df 124deg)"></i><i style="--r:69.5px;background:conic-gradient(from 28deg,#4040e0 0deg,#4043ea 35deg,#4040df 92.5deg,#4040df 124deg)"></i><i style="--r:68px;background:conic-gradient(from 28deg,#4040e0 0deg,#4044eb 35deg,#4040df 90.5deg,#4040df 124deg)"></i><i style="--r:66.5px;background:conic-gradient(from 28deg,#4040e0 0deg,#4045ec 35deg,#4040df 87.5deg,#4040df 124deg)"></i><i style="--r:65px;background:conic-gradient(from 28deg,#4040e0 0deg,#4046ee 35.5deg,#4040df 83deg,#4040df 124deg)"></i><i style="--r:63.5px;background:conic-gradient(from 28deg,#4040e0 0deg,#4046ee 31deg,#4047ef 35.5deg,#4040e0 76deg,#4040df 124deg)"></i><i style="--r:62px;background:conic-gradient(from 28deg,#4040e0 0deg,#4046ee 28.5deg,#4048f0 35.5deg,#4040e0 72.5deg,#4040df 124deg)"></i><i style="--r:60.5px;background:conic-gradient(from 28deg,#4040e0 0deg,#4047ef 28.5deg,#404af2 36deg,#4040e1 67.5deg,#4040df 124deg)"></i><i style="--r:59px;background:conic-gradient(from 28deg,#4040e0 0deg,#4047ef 27deg,#404bf4 36deg,#4040e1 67deg,#4040df 124deg)"></i><i style="--r:57.5px;background:conic-gradient(from 28deg,#4040e0 0deg,#4048f1 27.5deg,#404cf5 36.5deg,#4040e1 67deg,#4040df 124deg)"></i><i style="--r:56px;background:conic-gradient(from 28deg,#4040e0 0deg,#4049f2 27.5deg,#404ef7 36.5deg,#4040e2 66.5deg,#4040df 124deg)"></i><i style="--r:54.5px;background:conic-gradient(from 28deg,#4040e1 0deg,#4049f1 26deg,#404ff9 36.5deg,#4040e2 67deg,#4040df 124deg)"></i><i style="--r:53px;background:conic-gradient(from 28deg,#4040e1 0deg,#404af3 26.5deg,#4051fb 37deg,#4040e3 66deg,#4040df 124deg)"></i><i style="--r:51.5px;background:conic-gradient(from 28deg,#4040e1 0deg,#404bf4 26.5deg,#4053fd 37deg,#4040e3 66.5deg,#4040df 124deg)"></i><i style="--r:50px;background:conic-gradient(from 28deg,#4040e1 0deg,#404cf5 26deg,#4056ff 37.5deg,#4040e3 65.5deg,#4040df 124deg)"></i><i style="--r:48.5px;background:conic-gradient(from 28deg,#4040e1 0deg,#404df6 26deg,#425cff 36.5deg,#425dff 37.5deg,#404df7 49deg,#4040e3 67.5deg,#4040df 124deg)"></i><i style="--r:47px;background:conic-gradient(from 28deg,#4040e2 0deg,#404df7 25.5deg,#4362ff 35.5deg,#4364ff 38deg,#404ff9 49deg,#4040e3 67deg,#4040df 124deg)"></i><i style="--r:45.5px;background:conic-gradient(from 28deg,#4040e2 0deg,#4047ee 17deg,#4056ff 30deg,#446bff 37deg,#446cff 38deg,#415cff 45deg,#4049f1 54.5deg,#4040e2 70.5deg,#4040df 124deg)"></i><i style="--r:44px;background:conic-gradient(from 28deg,#4040e2 0deg,#4047ef 16deg,#4057ff 29deg,#4672ff 36.5deg,#4673ff 38.5deg,#4364ff 45deg,#4051fb 50deg,#4040e4 67.5deg,#4040df 124deg)"></i><i style="--r:42.5px;background:conic-gradient(from 28deg,#4040e3 0deg,#4048f0 15.5deg,#4056ff 28deg,#4778ff 35.5deg,#477cff 38.5deg,#446cff 45deg,#4051fc 51deg,#4040e3 68.5deg,#4040df 124deg)"></i><i style="--r:41px;background:conic-gradient(from 28deg,#4040e3 0deg,#4049f1 14.5deg,#4055ff 27deg,#4880ff 35.5deg,#4984ff 39deg,#4675ff 45deg,#4053fd 51.5deg,#4040e5 67.5deg,#4040df 112.5deg,#4040df 124deg)"></i><i style="--r:39.5px;background:conic-gradient(from 28deg,#4040e4 0deg,#404af3 14deg,#404af3 15deg,#4056ff 26.5deg,#4986ff 35deg,#4b8eff 39deg,#477cff 45.5deg,#4053fd 52.5deg,#4040e4 68.5deg,#4040df 124deg)"></i><i style="--r:38px;background:conic-gradient(from 28deg,#4040e4 0deg,#404bf4 13.5deg,#404bf4 15.5deg,#4055ff 25.5deg,#4b91ff 35.5deg,#4d98ff 39deg,#4a88ff 45deg,#4052fc 54deg,#4040e5 69deg,#4040df 112.5deg,#4040df 124deg)"></i><i style="--r:36.5px;background:conic-gradient(from 28deg,#4040e5 0deg,#404df6 13.5deg,#404df6 16deg,#4056ff 25deg,#4d9aff 35.5deg,#4fa3ff 39.5deg,#4c96ff 44.5deg,#4053fe 54.5deg,#4040e5 69deg,#4040df 114deg,#4040df 124deg)"></i><i style="--r:35px;background:conic-gradient(from 28deg,#4040e6 0deg,#404ef8 13deg,#404ef8 16.5deg,#4158ff 24.5deg,#50aaff 36.5deg,#48b2ff 40deg,#4ea1ff 45deg,#4053fe 55.5deg,#4040e5 69.5deg,#4040df 114.5deg,#4040df 124deg)"></i><i style="--r:33.5px;background:conic-gradient(from 28deg,#4040e6 0deg,#4050fa 12.5deg,#4050fa 13deg,#4050fa 17deg,#4056ff 23.5deg,#50aaff 34.5deg,#37c4ff 39deg,#36c6ff 40.5deg,#44b6ff 44.5deg,#4fa7ff 46.5deg,#4053fe 56.5deg,#4040e5 70.5deg,#4040df 114deg,#4040df 124deg)"></i><i style="--r:32px;background:conic-gradient(from 28deg,#4041e7 0deg,#4052fc 12deg,#4052fc 13deg,#4051fc 17deg,#4159ff 23deg,#4b91ff 30.5deg,#4dadff 33.5deg,#25d8ff 38.5deg,#1edfff 41deg,#2cd1ff 44.5deg,#50a8ff 48.5deg,#4054ff 57deg,#4040e5 71.5deg,#4040df 115deg,#4040df 124deg)"></i><i style="--r:30.5px;background:conic-gradient(from 28deg,#4042e9 0deg,#4054ff 12deg,#4054ff 13deg,#4053fe 17.5deg,#425cff 22.5deg,#4b8fff 29.5deg,#4dadff 32.5deg,#0af4ff 39deg,#00fffe 42deg,#0ef0ff 45deg,#4fa7ff 50.5deg,#425dff 57deg,#4052fc 59deg,#4040e5 72.5deg,#4040df 116deg,#4040df 124deg)"></i><i style="--r:29px;background:conic-gradient(from 28deg,#4043ea 0deg,#415bff 11deg,#425cff 13deg,#4159ff 18deg,#4365ff 23deg,#4c96ff 29.5deg,#4fabff 31.5deg,#01feff 37.5deg,#00f3ca 40.5deg,#00f0bc 42.5deg,#00f2c6 44.5deg,#00fdf4 47deg,#01feff 47.5deg,#4eacff 52deg,#4469ff 57deg,#4053fe 59.5deg,#4040e6 72deg,#4040df 107deg,#4040df 124deg)"></i><i style="--r:27.5px;background:conic-gradient(from 28deg,#4044eb 0deg,#415bff 8.5deg,#4365ff 13deg,#4261ff 18.5deg,#456eff 23.5deg,#4e9eff 29.5deg,#4cafff 31deg,#04fbff 36deg,#00f7db 37.5deg,#00e68d 40.5deg,#00e075 42deg,#00dd6e 43.5deg,#00e178 45.5deg,#00eba5 47.5deg,#00fef9 50deg,#1ee0ff 51.5deg,#50a9ff 54deg,#4366ff 58.5deg,#4052fd 61deg,#4040e6 73deg,#4040df 108deg,#4040df 124deg)"></i><i style="--r:26px;background:conic-gradient(from 28deg,#4046ed 0deg,#415bff 7deg,#456fff 12deg,#456fff 13deg,#446aff 18.5deg,#4676ff 23.5deg,#4ea0ff 29deg,#4fabff 30deg,#0fefff 34.5deg,#00fefa 35.5deg,#00df73 39.5deg,#00c939 42.5deg,#00c42b 44.5deg,#00c938 46.5deg,#00d85f 48.5deg,#00e27b 49.5deg,#01feff 52.5deg,#4cafff 55.5deg,#4571ff 59deg,#4052fd 62deg,#4040e6 74deg,#4040df 110.5deg,#4040df 124deg)"></i><i style="--r:24.5px;background:conic-gradient(from 28deg,#4047ef 0deg,#4159ff 5.5deg,#4778ff 10.5deg,#477bff 13deg,#4674ff 19deg,#4881ff 24deg,#50a8ff 29deg,#25d8ff 32.5deg,#03fcff 34.5deg,#00f4d0 36deg,#00de6f 38.5deg,#00be1b 41.5deg,#00be1b 49deg,#00c021 49.5deg,#00e177 52deg,#00fffe 54.5deg,#50a9ff 57.5deg,#446aff 61deg,#4053fe 63deg,#4041e7 74deg,#4040df 106deg,#4040df 124deg)"></i><i style="--r:23px;background:conic-gradient(from 28deg,#404af2 0deg,#415aff 4.5deg,#4880ff 9.5deg,#4a88ff 13deg,#4880ff 19.5deg,#4b8dff 24.5deg,#4eacff 28.5deg,#13ebff 33deg,#01feff 34deg,#00efb9 36deg,#00db69 38deg,#00c226 40deg,#00be1b 40.5deg,#00be1b 52deg,#00de6f 54deg,#02fcff 56.5deg,#4caeff 59deg,#4571ff 62deg,#4053fe 64.5deg,#4041e7 75.5deg,#4040df 107.5deg,#4040df 124deg)"></i><i style="--r:21.5px;background:conic-gradient(from 28deg,#404cf5 0deg,#415bff 3.5deg,#4a88ff 8.5deg,#4c96ff 13deg,#4b8dff 20deg,#4d9aff 25deg,#4eacff 27.5deg,#19e5ff 32deg,#00ffff 33.5deg,#00eba5 36deg,#00dc69 37.5deg,#00c124 39.5deg,#00be1b 40deg,#00be1b 54deg,#00c42a 54.5deg,#00df72 56deg,#00fcf2 58deg,#0af5ff 58.5deg,#47b3ff 60.5deg,#4fa6ff 61deg,#446aff 64deg,#4053fd 66deg,#4040e6 78deg,#4040df 118deg,#4040df 124deg)"></i><i style="--r:20px;background:conic-gradient(from 28deg,#404ff9 0deg,#4158ff 2deg,#4d98ff 8.5deg,#4fa6ff 13deg,#4d9cff 20.5deg,#50a9ff 25.5deg,#29d3ff 30deg,#00fefc 33deg,#00eca8 35.5deg,#00d75e 37.5deg,#00be1b 39.5deg,#00be1b 56deg,#00e381 58deg,#00f9e5 59.5deg,#03fcff 60deg,#50aaff 62.5deg,#446cff 65.5deg,#4053fe 67.5deg,#4041e7 78.5deg,#4040df 114.5deg,#4040df 124deg)"></i><i style="--r:18.5px;background:conic-gradient(from 28deg,#4053fd 0deg,#50a9ff 8.5deg,#41baff 13deg,#41baff 13.5deg,#4caeff 21deg,#42b9ff 25.5deg,#1de0ff 30deg,#03fbff 32deg,#00faea 33deg,#00e899 35.5deg,#00c124 39deg,#00be1b 39.5deg,#00be1b 57.5deg,#00e27b 59.5deg,#00fffd 61.5deg,#4caeff 64deg,#456fff 67deg,#4054fe 69deg,#4041e8 80deg,#4040df 111.5deg,#4040df 124deg)"></i><i style="--r:17px;background:conic-gradient(from 28deg,#425fff 0deg,#4fabff 6.5deg,#32caff 10.5deg,#2bd1ff 13.5deg,#37c4ff 21.5deg,#2bd2ff 26.5deg,#09f5ff 30.5deg,#00fefa 31.5deg,#00ecab 34.5deg,#00dc6b 36.5deg,#00c021 39deg,#00be1b 40deg,#00bf1d 59deg,#00e27d 61deg,#00fefa 63deg,#48b2ff 65.5deg,#4fa5ff 66deg,#446bff 69deg,#4053fe 71deg,#4041e8 82deg,#4040df 116.5deg,#4040df 124deg)"></i><i style="--r:15.5px;background:conic-gradient(from 28deg,#4672ff 0deg,#4fabff 4.5deg,#22dbff 9deg,#13ebff 13deg,#13ebff 14deg,#1fdeff 22.5deg,#10eeff 27.5deg,#01feff 29.5deg,#00f5d4 32deg,#00e485 35deg,#00be1b 39deg,#00be1b 60deg,#00c020 60.5deg,#00e27a 62.5deg,#00fcf1 64.5deg,#08f7ff 65deg,#4dadff 67.5deg,#4672ff 70.5deg,#4053fe 73deg,#4042e8 84deg,#4040df 124deg)"></i><i style="--r:14px;background:conic-gradient(from 28deg,#4a8aff 0deg,#4fabff 2.5deg,#14eaff 7.5deg,#00fefc 10.5deg,#00fbed 14.5deg,#01feff 23deg,#00fdf6 26.5deg,#00f5d2 30deg,#00e99a 33deg,#00be1b 38.5deg,#00bf1e 62deg,#00e58c 64.5deg,#00fef9 66.5deg,#27d5ff 68deg,#4caeff 69.5deg,#456fff 73deg,#4053fe 75.5deg,#4042e9 86.5deg,#4040e0 123.5deg,#4040e0 124deg)"></i><i style="--r:12.5px;background:conic-gradient(from 28deg,#4fa7ff 0deg,#04fbff 6deg,#00fdf4 7deg,#00f3c7 10.5deg,#00eeb4 14.5deg,#00eeb4 15deg,#00f2c4 23.5deg,#00eeb2 28deg,#00e68e 31deg,#00ca3b 36deg,#00be1b 37.5deg,#00be1b 63.5deg,#00d963 65.5deg,#00e68f 66.5deg,#00fdf4 68.5deg,#07f7ff 69deg,#4fabff 72deg,#446aff 76deg,#4053fd 78.5deg,#4042e8 91.5deg,#4040e0 124deg)"></i><i style="--r:11px;background:conic-gradient(from 28deg,#2dcfff 0deg,#04fbff 3deg,#00f7db 5deg,#00e899 9deg,#00e179 12.5deg,#00df72 16.5deg,#00e177 23deg,#00dd6d 28deg,#00ce47 32.5deg,#00be1b 35.5deg,#00be1b 65.5deg,#00dd6e 68deg,#00fdf4 71deg,#06f9ff 71.5deg,#50a9ff 75deg,#4469ff 79.5deg,#4053fe 82deg,#4043ea 95deg,#4040e2 124deg)"></i><i style="--r:9.5px;background:conic-gradient(from 28deg,#00fefc 0deg,#00e486 5.5deg,#00da65 8deg,#00cd41 13deg,#00c835 21deg,#00c327 28deg,#00be1b 31deg,#00be1b 68deg,#00e177 71deg,#00fcf0 74deg,#02fdff 74.5deg,#4dadff 78.5deg,#456eff 83.5deg,#4053fe 87deg,#4043ea 103deg,#4040e4 124deg)"></i><i style="--r:8px;background:conic-gradient(from 28deg,#00ecab 0deg,#00de71 3deg,#00c52d 9deg,#00be1b 11.5deg,#00be1b 71deg,#00e485 75deg,#00fef9 78.5deg,#17e7ff 80deg,#50a8ff 84deg,#456cff 90deg,#4053fd 94.5deg,#4044eb 116deg,#4043ea 124deg)"></i><i style="--r:6.5px;background:conic-gradient(from 28deg,#00d860 0deg,#00be1b 6deg,#00be1b 75.5deg,#00e484 80.5deg,#00fefa 85deg,#1edfff 87.5deg,#4fabff 92deg,#4571ff 100deg,#4053fe 108deg,#404cf5 124deg)"></i></div></div><div class="w" style="left:358px;top:323px"><div class="d b" style="left:0;top:125px"><i style="--r:126.5px;background:conic-gradient(from 28deg,#ffc800 0deg,#ffd400 6deg,#fdfe00 17deg,#cff400 26.5deg,#c8f200 30deg,#d6f500 34.5deg,#fffd00 39.5deg,#ff9000 53.5deg,#ff8100 58.5deg,#ff9a00 67.5deg,#ff9a00 68.5deg,#ff8e00 79deg,#fa6000 92.5deg,#ee3e00 104deg,#ee3d00 106.5deg,#f24900 114deg,#fe6c00 123deg,#fe6c00 124deg)"></i><i style="--r:125px;background:conic-gradient(from 28deg,#ffc900 0deg,#ffd400 5.5deg,#fdff00 16.5deg,#c8f200 27deg,#c2f000 30.5deg,#cff400 34.5deg,#fffe00 40deg,#ff9100 53.5deg,#ff8000 58.5deg,#ff8e00 62.5deg,#ff9c00 66.5deg,#ff9c00 67.5deg,#ff8f00 79deg,#fa5f00 92.5deg,#ed3b00 104.5deg,#ed3a00 106.5deg,#f24a00 114.5deg,#ff6d00 122.5deg,#ff6d00 124deg)"></i><i style="--r:123.5px;background:conic-gradient(from 28deg,#ffcb00 0deg,#ffd700 6deg,#fbfe00 16.5deg,#c2f000 27.5deg,#bcef00 30.5deg,#c8f200 34.5deg,#f9fe00 40deg,#fff800 41.5deg,#ff9300 53.5deg,#ff8000 59deg,#ff8b00 62deg,#ff9d00 65deg,#ff9e00 66.5deg,#ff8f00 79.5deg,#fa6000 92deg,#ed3a00 103.5deg,#ec3800 106.5deg,#f14700 114deg,#ff6d00 122.5deg,#ff6d00 124deg)"></i><i style="--r:122px;background:conic-gradient(from 28deg,#ffcd00 0deg,#ffda00 6.5deg,#fdff00 16deg,#bbef00 28deg,#b7ee00 31deg,#c5f100 35deg,#f2fc00 40deg,#fffc00 41.5deg,#ff9300 54deg,#ff8100 59deg,#ff8100 59.5deg,#ff8c00 62deg,#ff9f00 64.5deg,#ff9f00 65.5deg,#ff9000 79.5deg,#fa6000 92deg,#ec3800 103deg,#eb3500 106.5deg,#f14500 114deg,#ff6e00 122.5deg,#ff6e00 124deg)"></i><i style="--r:120.5px;background:conic-gradient(from 28deg,#ffcf00 0deg,#ffdc00 6.5deg,#fdfe00 16deg,#b7ee00 28deg,#b1ed00 31deg,#c5f100 36deg,#fffc00 42deg,#ff9700 54deg,#ff8400 59deg,#ff8300 59.5deg,#ff8c00 62deg,#ff9d00 63.5deg,#ffa000 65deg,#ff8f00 80deg,#fa5f00 92deg,#ec3800 102deg,#ea3300 106.5deg,#ef4100 113.5deg,#ff6f00 122.5deg,#ff6f00 124deg)"></i><i style="--r:119px;background:conic-gradient(from 28deg,#ffd100 0deg,#ffdf00 7deg,#fcfe00 16deg,#b1ec00 28.5deg,#aceb00 31deg,#bbef00 35.5deg,#e9fa00 40.5deg,#fffd00 42.5deg,#ff9c00 54deg,#ff8700 59.5deg,#ff9400 62.5deg,#ff9e00 65deg,#ff9b00 69.5deg,#ff9b00 71deg,#ff8d00 81deg,#fa6000 91.5deg,#eb3400 102.5deg,#e93000 106.5deg,#ee3e00 113deg,#ff6f00 122.5deg,#ff6f00 124deg)"></i><i style="--r:117.5px;background:conic-gradient(from 28deg,#ffd300 0deg,#ffe200 7.5deg,#fbfe00 16deg,#adeb00 28.5deg,#a7ea00 31.5deg,#b4ed00 35.5deg,#e1f800 40.5deg,#fffe00 43deg,#ffa500 53.5deg,#ff8d00 59.5deg,#ff9c00 64.5deg,#ff9900 68deg,#ff9b00 72deg,#ff8900 82.5deg,#fa5f00 91.5deg,#eb3500 101deg,#e82e00 106.5deg,#ed3c00 113deg,#ff6f00 122.5deg,#ff6f00 124deg)"></i><i style="--r:116px;background:conic-gradient(from 28deg,#ffd400 0deg,#ffe200 7deg,#fbfe00 16deg,#a8ea00 28.5deg,#a1e900 31.5deg,#b0ec00 36deg,#dff700 41deg,#ffff00 43.5deg,#ffa800 54deg,#ff9400 59.5deg,#ff9400 60deg,#ff9c00 64.5deg,#ff9800 67.5deg,#ff9b00 72deg,#ff8800 83deg,#fa6100 91deg,#eb3400 100.5deg,#e82c00 106.5deg,#ed3a00 113deg,#ff6f00 122.5deg,#ff6f00 124deg)"></i><i style="--r:114.5px;background:conic-gradient(from 28deg,#ffd600 0deg,#ffe500 7.5deg,#fdfe00 15.5deg,#a3e900 28.5deg,#9be700 32deg,#a8ea00 36deg,#d6f500 41deg,#fffc00 44.5deg,#ffb000 54deg,#ff9c00 59.5deg,#ff9c00 60.5deg,#ff9d00 63.5deg,#ff9900 67.5deg,#ff9b00 72deg,#ff8700 83.5deg,#fa6000 91deg,#ea3200 100.5deg,#e72a00 106.5deg,#eb3600 112.5deg,#ff6f00 122.5deg,#ff6f00 124deg)"></i><i style="--r:113px;background:conic-gradient(from 28deg,#ffd800 0deg,#ffe500 7deg,#fcfe00 15.5deg,#c2f000 23.5deg,#9ae700 29.5deg,#94e500 32deg,#a0e800 36deg,#c7f200 40.5deg,#fffd00 45deg,#ffb800 54deg,#ffa400 60deg,#ff9b00 68.5deg,#ff9c00 71.5deg,#ff8600 84deg,#f95d00 91.5deg,#ea3200 100deg,#e62800 106.5deg,#eb3600 113deg,#ff6f00 122.5deg,#ff6f00 124deg)"></i><i style="--r:111.5px;background:conic-gradient(from 28deg,#ffda00 0deg,#ffec00 9deg,#fdff00 15deg,#ccf300 22deg,#98e700 28.5deg,#89e200 32.5deg,#9ae700 36.5deg,#c9f200 41.5deg,#feff00 45.5deg,#ffc000 54deg,#ffab00 61deg,#ff9c00 72deg,#ff8500 84.5deg,#f95c00 91.5deg,#e92f00 100.5deg,#e62600 106.5deg,#ea3200 112.5deg,#ff7000 122.5deg,#ff7000 124deg)"></i><i style="--r:110px;background:conic-gradient(from 28deg,#ffdc00 0deg,#ffef00 9.5deg,#fbfe00 15deg,#c9f200 22deg,#86e100 30deg,#7dde00 32.5deg,#8ae200 36deg,#bef000 41.5deg,#fffe00 46.5deg,#ffc900 54deg,#ffa500 66.5deg,#ff8500 84.5deg,#f85b00 91.5deg,#e92e00 100.5deg,#e52500 106.5deg,#ea3100 112.5deg,#ff7000 122.5deg,#ff7000 124deg)"></i><i style="--r:108.5px;background:conic-gradient(from 28deg,#ffde00 0deg,#fff100 9.5deg,#fbfe00 14.5deg,#caf200 21.5deg,#78dc00 30.5deg,#71da00 33deg,#7fde00 36.5deg,#d3f500 44deg,#fffd00 47.5deg,#ffd000 54.5deg,#ffa300 70deg,#ff8500 84.5deg,#f85a00 91.5deg,#e92f00 100deg,#e52400 106.5deg,#e93100 112.5deg,#ff7100 122.5deg,#ff7100 124deg)"></i><i style="--r:107px;background:conic-gradient(from 28deg,#ffe000 0deg,#fff100 9deg,#fcfe00 14deg,#c5f100 21.5deg,#6cd800 30.5deg,#63d500 33.5deg,#74db00 37deg,#e9fa00 46.5deg,#fffd00 48.5deg,#ffd500 55.5deg,#ffa700 70.5deg,#ff8400 84.5deg,#f85a00 91.5deg,#e82d00 100.5deg,#e52300 106.5deg,#e93000 112.5deg,#ff7200 122.5deg,#ff7200 124deg)"></i><i style="--r:105.5px;background:conic-gradient(from 28deg,#ffe200 0deg,#fff700 10.5deg,#f9fd00 14deg,#c1f000 21.5deg,#7fde00 27.5deg,#5dd300 31deg,#55d000 33.5deg,#60d400 36.5deg,#8ee300 40.5deg,#fffe00 49.5deg,#ffd800 57.5deg,#ffba00 65.5deg,#ff8100 85deg,#f85900 91.5deg,#e82c00 100.5deg,#e42200 106.5deg,#e93000 112.5deg,#ff7300 122.5deg,#ff7300 124deg)"></i><i style="--r:104px;background:conic-gradient(from 28deg,#ffe400 0deg,#fff800 10deg,#f8fd00 13.5deg,#c6f100 20.5deg,#8ae200 26deg,#53d000 30.5deg,#45cb00 33.5deg,#53d000 37deg,#85e000 41deg,#f7fd00 50deg,#fff800 52deg,#ffc100 65.5deg,#ff8000 85deg,#fa5f00 90.5deg,#e92f00 99.5deg,#e42200 106.5deg,#e93100 112.5deg,#fe6a00 120.5deg,#ff7400 123deg,#ff7400 124deg)"></i><i style="--r:102.5px;background:conic-gradient(from 28deg,#ffe600 0deg,#fffb00 10.5deg,#effb00 14.5deg,#b3ed00 22deg,#89e200 25.5deg,#4acd00 30deg,#35c600 33.5deg,#35c600 34deg,#42ca00 37deg,#73da00 41deg,#adeb00 45deg,#f6fd00 51.5deg,#fffb00 53.5deg,#ffcd00 64.5deg,#ffb700 70.5deg,#ff8500 84deg,#f85b00 91deg,#e82d00 100deg,#e42200 106deg,#e92f00 112deg,#fb6300 119.5deg,#ff7600 122.5deg,#ff7600 124deg)"></i><i style="--r:101px;background:conic-gradient(from 28deg,#ffe800 0deg,#fffd00 10.5deg,#dbf600 17deg,#98e700 24deg,#3dc800 30deg,#26c100 33deg,#25c000 34deg,#31c400 37deg,#61d400 41deg,#a5ea00 45.5deg,#ebfa00 52deg,#fffd00 55deg,#ffd700 64deg,#ffbf00 70deg,#ffa200 78deg,#fb6400 89.5deg,#ea3300 98.5deg,#e42200 105.5deg,#e42200 106deg,#e82d00 111.5deg,#fb6100 119deg,#ff7800 122.5deg,#ff7800 124deg)"></i><i style="--r:99.5px;background:conic-gradient(from 28deg,#ffeb00 0deg,#fff700 8deg,#fafe00 11.5deg,#c3f100 19.5deg,#92e500 24deg,#30c400 30deg,#16bb00 33deg,#14bb00 34deg,#20bf00 37deg,#4fce00 41deg,#9de800 46deg,#e8f900 53.5deg,#fffd00 57.5deg,#ffc900 69deg,#ffb200 76deg,#fb6200 89.5deg,#e93100 99deg,#e42200 106deg,#e93000 112deg,#ff7700 121.5deg,#ff7b00 124deg)"></i><i style="--r:98px;background:conic-gradient(from 28deg,#ffed00 0deg,#fffc00 9deg,#e8f900 14deg,#abeb00 21.5deg,#8ce300 24deg,#1bbd00 30.5deg,#03b500 33.5deg,#03b500 34deg,#0fb900 37deg,#3ec900 41deg,#9be700 47deg,#e1f800 54.5deg,#fffe00 59.5deg,#ffd100 69deg,#ffbb00 75.5deg,#fc6400 89deg,#ea3300 98.5deg,#e42200 105.5deg,#e42200 106deg,#ea3100 112deg,#ff7a00 121.5deg,#ff7d00 124deg)"></i><i style="--r:96.5px;background:conic-gradient(from 28deg,#fff000 0deg,#fffe00 9deg,#cbf300 17.5deg,#97e600 23deg,#0eb900 30.5deg,#00b503 32deg,#00b80a 34deg,#03b500 37.5deg,#44cb00 42.5deg,#9de800 48.5deg,#daf600 55.5deg,#fffd00 61.5deg,#ffd800 69.5deg,#ffbe00 76deg,#fb6300 89deg,#ea3200 98.5deg,#e42300 106deg,#e93000 111.5deg,#fc6600 118.5deg,#ff8100 122.5deg,#ff8100 124deg)"></i><i style="--r:95px;background:conic-gradient(from 28deg,#fff200 0deg,#fcfe00 9deg,#c4f100 18deg,#92e500 23deg,#00b400 30.5deg,#00bc15 34deg,#00b605 38deg,#0bb800 39.5deg,#9fe800 50deg,#e4f900 59deg,#fffd00 63deg,#ffc600 75.5deg,#fb6100 89deg,#ea3200 98.5deg,#e52400 105.5deg,#e92f00 111deg,#f95c00 117deg,#ff8400 122deg,#ff8400 124deg)"></i><i style="--r:93.5px;background:conic-gradient(from 28deg,#fff500 0deg,#fbfe00 8.5deg,#c0f000 18deg,#8de300 23deg,#33c500 27.5deg,#00b502 30deg,#00bf1d 33deg,#00c01f 34deg,#00b90e 38deg,#04b500 40deg,#9be700 51deg,#fffd00 64.5deg,#ffce00 75deg,#ff6e00 87deg,#ef3f00 95deg,#e52500 104deg,#e52500 105.5deg,#e93100 111deg,#fc6500 117.5deg,#ff8800 122.5deg,#ff8800 124deg)"></i><i style="--r:92px;background:conic-gradient(from 28deg,#fff900 0deg,#fbfe00 7.5deg,#bff000 17.5deg,#90e400 22.5deg,#44cb00 26.5deg,#00b401 29.5deg,#00c124 32.5deg,#00c328 34deg,#00bc16 38deg,#00b401 40.5deg,#9be700 52.5deg,#fffd00 66deg,#ffd000 75deg,#ff7000 86.5deg,#ee3e00 95deg,#e62700 103.5deg,#e62600 105deg,#ea3300 111deg,#fc6500 117deg,#ff8d00 122.5deg,#ff8d00 124deg)"></i><i style="--r:90.5px;background:conic-gradient(from 28deg,#fffc00 0deg,#fbfe00 6deg,#ccf300 15deg,#98e700 21.5deg,#60d400 25deg,#03b500 29deg,#00c42a 32.5deg,#00c52e 34deg,#00bd19 38.5deg,#00b400 41.5deg,#9be700 54deg,#fffd00 67.5deg,#ffd600 74.5deg,#ff7200 86deg,#ef4200 94deg,#e72900 102.5deg,#e62800 104.5deg,#eb3600 111deg,#fc6500 116.5deg,#ff9100 122deg,#ff9100 124deg)"></i><i style="--r:89px;background:conic-gradient(from 28deg,#feff00 0deg,#eefb00 8deg,#b2ed00 18deg,#8ce300 22deg,#44cb00 26deg,#00b401 29deg,#00c52c 32.5deg,#00c631 34deg,#00bf1e 38.5deg,#02b500 42.5deg,#9be700 55.5deg,#ffff00 68.5deg,#ffce00 75.5deg,#ff7400 85.5deg,#f14500 93deg,#e72b00 102deg,#e72a00 104deg,#ec3800 110.5deg,#f95c00 115deg,#ff8f00 121deg,#ff9600 123deg,#ff9600 124deg)"></i><i style="--r:87.5px;background:conic-gradient(from 28deg,#f8fd00 0deg,#e9fa00 7.5deg,#b5ed00 17deg,#8de300 21.5deg,#49cc00 25.5deg,#00b503 29deg,#00c328 32deg,#00c631 34.5deg,#00be1b 39.5deg,#03b500 43.5deg,#a0e800 57.5deg,#fffe00 69.5deg,#ffc400 76.5deg,#ff7600 85deg,#f14600 92.5deg,#e82d00 101.5deg,#e82d00 103.5deg,#ed3b00 110deg,#f75800 114deg,#ff7e00 118deg,#ff9c00 122.5deg,#ff9c00 124deg)"></i><i style="--r:86px;background:conic-gradient(from 28deg,#f1fc00 0deg,#e1f800 8deg,#a8ea00 18deg,#86e100 21.5deg,#3ac700 26deg,#00b503 29deg,#00c429 32.5deg,#00c630 34.5deg,#00c021 39deg,#03b500 44.5deg,#88e100 56.5deg,#bcef00 62.5deg,#ffff00 70deg,#ff9f00 80deg,#fb6200 87.5deg,#ee3d00 94.5deg,#e92f00 102.5deg,#ed3c00 109deg,#f85b00 113.5deg,#ff8400 118deg,#ffa200 122.5deg,#ffa200 124deg)"></i><i style="--r:84.5px;background:conic-gradient(from 28deg,#ebfa00 0deg,#dcf700 7.5deg,#a6ea00 17.5deg,#86e100 21deg,#36c600 26deg,#00b503 29deg,#00c42a 33deg,#00c62f 35deg,#00bf1e 40deg,#01b400 45.5deg,#5fd400 54.5deg,#9ee800 60deg,#f2fc00 69.5deg,#ffff00 70.5deg,#ff7d00 83.5deg,#f24800 91.5deg,#ea3200 99.5deg,#ea3100 101.5deg,#ef3f00 108.5deg,#fb6200 113.5deg,#ffa700 122deg,#ffa700 124deg)"></i><i style="--r:83px;background:conic-gradient(from 28deg,#e4f900 0deg,#d5f500 7.5deg,#a1e900 17.5deg,#79dc00 21.5deg,#20bf00 27deg,#00b503 29deg,#00c327 33deg,#00c52e 35.5deg,#00bc16 42.5deg,#01b400 47deg,#4dce00 54.5deg,#9fe800 61.5deg,#e6f900 69deg,#fffd00 71deg,#ff8700 82deg,#f55100 89.5deg,#ec3800 96.5deg,#ea3300 101deg,#f04300 108deg,#fc6600 113deg,#ffad00 122deg,#ffad00 124deg)"></i><i style="--r:81.5px;background:conic-gradient(from 28deg,#ddf700 0deg,#cff400 7deg,#98e600 18deg,#50cf00 24deg,#00b502 29deg,#00c225 33deg,#00c52d 36deg,#00bb11 45deg,#03b500 49deg,#4ccd00 56deg,#a4e900 63.5deg,#e8f900 69.5deg,#fffe00 71deg,#ff8d00 81deg,#f95e00 87deg,#ee3f00 93.5deg,#eb3600 100deg,#f04200 106.5deg,#fd6900 112.5deg,#ffb300 122deg,#ffb300 124deg)"></i><i style="--r:80px;background:conic-gradient(from 28deg,#d6f500 0deg,#c8f200 7deg,#95e600 17.5deg,#52cf00 23.5deg,#00b502 29deg,#00c327 33.5deg,#00c52e 36.5deg,#00b90e 48deg,#03b500 51deg,#50cf00 58deg,#b3ed00 66deg,#ebfa00 70deg,#fdff00 71deg,#ff9300 80deg,#fb6200 86deg,#ef4100 92.5deg,#ec3800 99deg,#f14600 106deg,#ff7000 112.5deg,#ffb800 122deg,#ffb800 124deg)"></i><i style="--r:78.5px;background:conic-gradient(from 28deg,#cff400 0deg,#c1f000 7deg,#91e400 17deg,#4dce00 23.5deg,#00b502 29deg,#00c329 34deg,#00c630 37deg,#00bd19 48deg,#02b500 53deg,#59d200 60.5deg,#dcf700 69.5deg,#fffc00 71.5deg,#ff9a00 79deg,#fa5f00 86deg,#ef4200 92deg,#ed3a00 98deg,#f24900 105.5deg,#ff7a00 113deg,#ffba00 121.5deg,#ffbc00 124deg)"></i><i style="--r:77px;background:conic-gradient(from 28deg,#c8f200 0deg,#bbef00 6.5deg,#90e400 16deg,#4dce00 23deg,#00b502 29deg,#00c52d 34.5deg,#00c734 38deg,#00c123 48.5deg,#00b400 55deg,#4ece00 61.5deg,#d4f500 69.5deg,#fffe00 71.5deg,#ffa200 78deg,#fb6300 85deg,#f04400 91deg,#ed3b00 97deg,#f24a00 104.5deg,#ff7f00 113deg,#ffbe00 121.5deg,#ffc000 124deg)"></i><i style="--r:75.5px;background:conic-gradient(from 28deg,#c1f000 0deg,#b4ed00 6.5deg,#8be200 15.5deg,#47cc00 23deg,#00b503 29deg,#00c733 35deg,#00ca3a 39deg,#00c62f 48.5deg,#00b90d 55.5deg,#02b500 57.5deg,#44cb00 62.5deg,#cbf300 69.5deg,#fcfe00 71.5deg,#ffa000 78deg,#fe6b00 83.5deg,#f14700 89.5deg,#ee3d00 96deg,#f24900 103deg,#ff6d00 109.5deg,#ffc100 121.5deg,#ffc300 124deg)"></i><i style="--r:74px;background:conic-gradient(from 28deg,#bbef00 0deg,#afec00 6deg,#85e000 15deg,#45cb00 22.5deg,#00b401 28.5deg,#00c938 35deg,#00ce44 41deg,#00ce44 41.5deg,#00c837 50.5deg,#00b708 58.5deg,#05b600 60deg,#42ca00 64deg,#83e000 67deg,#fffc00 72deg,#ffaa00 77deg,#ff7400 82deg,#f34d00 87.5deg,#ee3d00 95deg,#f34d00 103deg,#ff8300 112deg,#ffc600 122deg,#ffc600 124deg)"></i><i style="--r:72.5px;background:conic-gradient(from 28deg,#b4ed00 0deg,#adeb00 5deg,#7cdd00 15deg,#3dc800 22.5deg,#00b400 28deg,#00cb3e 35deg,#00d24f 40deg,#00d250 42deg,#00cd42 51.5deg,#00ba0f 60deg,#04b500 62deg,#42ca00 65.5deg,#d0f400 70.5deg,#feff00 72deg,#ffa800 77deg,#ff7500 81.5deg,#f34d00 87deg,#ee3e00 94deg,#f44f00 102.5deg,#ff8100 111deg,#ffc900 122deg,#ffc900 124deg)"></i><i style="--r:71px;background:conic-gradient(from 28deg,#aeec00 0deg,#a7ea00 5deg,#70d900 15.5deg,#2ac200 23.5deg,#00b401 27.5deg,#00d04a 35.5deg,#00d65c 41deg,#00d75c 42.5deg,#00d250 52deg,#00c021 60deg,#00b502 63.5deg,#24c000 65.5deg,#6fd900 68deg,#b5ed00 70deg,#f7fd00 72deg,#ffef00 73deg,#ffa000 77.5deg,#fd6800 82.5deg,#f14700 88deg,#ee3e00 93.5deg,#f34d00 101deg,#ff7f00 110deg,#ffcb00 122deg,#ffcb00 124deg)"></i><i style="--r:69.5px;background:conic-gradient(from 28deg,#a9ea00 0deg,#9ce700 6.5deg,#59d200 17.5deg,#00b401 26.5deg,#00d558 36deg,#00db69 41.5deg,#00dc6a 42.5deg,#00d75c 53deg,#00be1b 63deg,#00b503 65deg,#13ba00 66deg,#55d000 68deg,#a8ea00 70deg,#fffd00 72.5deg,#ffa600 77deg,#ff7300 81deg,#f34d00 86deg,#ee3e00 92deg,#ee3e00 93deg,#f44e00 100.5deg,#ff8100 109.5deg,#ffce00 122deg,#ffce00 124deg)"></i><i style="--r:68px;background:conic-gradient(from 28deg,#a3e900 0deg,#9be700 5.5deg,#54d000 17deg,#00b501 25.5deg,#00d963 36deg,#00e077 41deg,#00e177 42.5deg,#00dc6a 53.5deg,#00c329 63.5deg,#04b500 66.5deg,#3cc800 68deg,#9de800 70deg,#feff00 72.5deg,#ffa500 77deg,#ff7000 81deg,#f34d00 85.5deg,#ee3e00 91.5deg,#ee3d00 92.5deg,#f34c00 99.5deg,#ff7f00 108.5deg,#ffd000 122deg,#ffd000 124deg)"></i><i style="--r:66.5px;background:conic-gradient(from 28deg,#9ee800 0deg,#95e600 6deg,#4ccd00 17deg,#00b503 24.5deg,#00d251 32.5deg,#00e381 38.5deg,#00e58c 42.5deg,#00e179 53.5deg,#00c834 64deg,#00ba0f 66.5deg,#00b503 67deg,#25c000 68deg,#92e500 70deg,#fbfe00 72.5deg,#ff9b00 77.5deg,#fd6800 81.5deg,#f24800 86deg,#ee3d00 92deg,#f34c00 99deg,#ff7f00 108deg,#ffcc00 120.5deg,#ffd300 124deg)"></i><i style="--r:65px;background:conic-gradient(from 28deg,#98e700 0deg,#92e500 5.5deg,#4dce00 16deg,#01b400 23deg,#00e793 38deg,#00eaa1 42deg,#00eaa1 42.5deg,#00e58c 53.5deg,#00da64 58.5deg,#00cc41 64deg,#00bf1e 66.5deg,#00b605 67.5deg,#11ba00 68deg,#a4e900 70.5deg,#fbfe00 72.5deg,#ff9900 77.5deg,#fc6600 81.5deg,#f24800 85.5deg,#ed3c00 91.5deg,#f24900 98deg,#ff7d00 107deg,#ffcd00 120deg,#ffd600 123.5deg,#ffd600 124deg)"></i><i style="--r:63.5px;background:conic-gradient(from 28deg,#92e500 0deg,#92e500 2.5deg,#83e000 7.5deg,#45cb00 16deg,#01b400 22deg,#00e27c 34deg,#00eca8 38deg,#00efb7 42deg,#00ea9e 53deg,#00df72 58deg,#00d04a 64deg,#00c327 66.5deg,#05b600 68deg,#a4e900 70.5deg,#feff00 72.5deg,#ffa900 76.5deg,#fe6a00 81deg,#f24800 85deg,#ed3b00 91.5deg,#f24900 98deg,#ff8000 107deg,#ffc700 118deg,#ffd900 123deg,#ffd900 124deg)"></i><i style="--r:62px;background:conic-gradient(from 28deg,#8ae200 0deg,#8ae200 3deg,#7cdd00 8deg,#47cc00 15deg,#00b503 21.5deg,#00e381 33deg,#00efb6 37deg,#00f4cc 41deg,#00f4cd 42deg,#00edae 53deg,#00dd6c 60.5deg,#00cc41 65deg,#00be1b 67deg,#00b80c 67.5deg,#09b700 68deg,#a9ea00 70.5deg,#eefb00 72deg,#fffd00 72.5deg,#ffa800 76.5deg,#fb6200 81.5deg,#ef4100 86deg,#ec3900 91.5deg,#f24900 98deg,#ff7f00 106.5deg,#ffc700 117deg,#ffdd00 123deg,#ffdd00 124deg)"></i><i style="--r:60.5px;background:conic-gradient(from 28deg,#81df00 0deg,#83e000 3.5deg,#74db00 8.5deg,#3bc800 15.5deg,#00b502 20.5deg,#00e27c 31.5deg,#00f1c1 36deg,#00f8e0 40deg,#00f9e4 42deg,#00f0ba 53.5deg,#00d353 63.5deg,#00c42a 66deg,#00b502 67.5deg,#54d000 69deg,#97e600 70deg,#f3fc00 72deg,#fffa00 72.5deg,#ffa700 76.5deg,#fa6100 81.5deg,#ef4100 85.5deg,#ec3800 91deg,#f04400 97deg,#ff7000 104deg,#ffcc00 117deg,#ffe100 123deg,#ffe100 124deg)"></i><i style="--r:59px;background:conic-gradient(from 28deg,#77dc00 0deg,#7bdd00 4.5deg,#6cd800 9deg,#33c500 15.5deg,#01b400 19.5deg,#00e486 31deg,#00f7db 36.5deg,#00fdf7 40deg,#00fefb 42deg,#00f8df 48.5deg,#00f1bf 55deg,#00e589 59.5deg,#00c835 65deg,#00b605 67deg,#10b900 67.5deg,#9ee800 70deg,#f6fd00 72deg,#fff800 72.5deg,#ff9d00 77deg,#fa6000 81.5deg,#ee3f00 85.5deg,#eb3500 91deg,#f04200 97deg,#ff7d00 105.5deg,#ffcc00 116deg,#ffe700 123deg,#ffe700 124deg)"></i><i style="--r:57.5px;background:conic-gradient(from 28deg,#6dd800 0deg,#73da00 5deg,#66d600 9deg,#30c400 15deg,#00b502 19deg,#00e37f 29.5deg,#00fdf5 37deg,#03fcff 38.5deg,#0bf3ff 42deg,#00fffd 46.5deg,#00f3cb 55.5deg,#00eba5 58.5deg,#00c42c 65deg,#00b707 66.5deg,#0bb800 67deg,#71da00 69deg,#a5ea00 70deg,#f8fd00 72deg,#ffeb00 73deg,#ff9400 77.5deg,#f95e00 81.5deg,#ed3a00 86deg,#ea3200 90.5deg,#ee3f00 96.5deg,#fc6600 102.5deg,#ffd100 116deg,#ffed00 123deg,#ffed00 124deg)"></i><i style="--r:56px;background:conic-gradient(from 28deg,#61d400 0deg,#6ad700 5.5deg,#58d100 10deg,#1bbd00 16deg,#01b400 18deg,#00cd44 24deg,#00e896 30deg,#01feff 36.5deg,#18e6ff 40.5deg,#19e4ff 42deg,#08f7ff 47deg,#00fefc 49deg,#00f6d7 56deg,#00eca7 59deg,#00c123 65deg,#06b600 66.5deg,#62d500 68.5deg,#98e600 69.5deg,#fbfe00 72deg,#ff9300 77.5deg,#f95c00 81.5deg,#ec3800 86deg,#e92f00 90.5deg,#ee3d00 96.5deg,#fc6700 102.5deg,#ffd700 116deg,#fff300 123deg,#fff300 124deg)"></i><i style="--r:54.5px;background:conic-gradient(from 28deg,#53d000 0deg,#59d200 3deg,#60d400 6deg,#50cf00 10deg,#10b900 16deg,#00b707 18deg,#00d14d 24deg,#00e794 29deg,#02fdff 35.5deg,#24d9ff 40deg,#27d5ff 42deg,#13ebff 47deg,#00fffd 50.5deg,#00f9e5 56deg,#00f0bd 58.5deg,#00cc41 63.5deg,#00b401 66deg,#54d000 68deg,#9ee800 69.5deg,#fdfe00 72deg,#ff9200 77.5deg,#fa6100 81deg,#ed3a00 85deg,#e82c00 90deg,#e82c00 90.5deg,#ec3800 96deg,#fb6200 102deg,#ffd900 115.5deg,#fffa00 122.5deg,#fffa00 124deg)"></i><i style="--r:53px;background:conic-gradient(from 28deg,#42ca00 0deg,#46cb00 2.5deg,#55d000 6deg,#55d000 6.5deg,#46cb00 10deg,#0bb800 15.5deg,#00b605 17deg,#00cf47 23deg,#00e68f 28deg,#00fffe 34.5deg,#2fcdff 39.5deg,#35c6ff 42deg,#24d8ff 46deg,#00ffff 51.5deg,#00fdf6 55.5deg,#00f5d2 58deg,#00e794 60.5deg,#00b80a 65.5deg,#05b600 66deg,#74db00 68.5deg,#b4ed00 70deg,#ffff00 72deg,#ff9100 77.5deg,#fa5f00 81deg,#ec3800 85deg,#e62800 90deg,#e62800 90.5deg,#ec3800 96.5deg,#ff7400 104deg,#ffde00 115.5deg,#feff00 122deg,#feff00 124deg)"></i><i style="--r:51.5px;background:conic-gradient(from 28deg,#2fc400 0deg,#34c500 2.5deg,#48cc00 6deg,#49cc00 6.5deg,#3bc800 10deg,#00b401 15.5deg,#00cd42 22deg,#00e37f 26.5deg,#01feff 34deg,#39c3ff 39deg,#44b7ff 42deg,#30ccff 46deg,#03fcff 52deg,#00fefc 55.5deg,#00f7db 58deg,#00ea9f 60.5deg,#00b80b 65.5deg,#05b600 66deg,#a4e900 69.5deg,#fffe00 72deg,#ff9000 77.5deg,#f75600 81.5deg,#ea3200 85.5deg,#e52500 90.5deg,#eb3600 96.5deg,#fc6600 102.5deg,#ffe200 115.5deg,#feff00 120.5deg,#f4fc00 123deg,#f4fc00 124deg)"></i><i style="--r:50px;background:conic-gradient(from 28deg,#1abd00 0deg,#1fbe00 2.5deg,#39c700 6deg,#3ac700 7deg,#2dc300 10deg,#00b502 14.5deg,#00d04b 22deg,#00e37f 26deg,#00fefb 33deg,#23daff 36deg,#4caeff 40deg,#50a9ff 42deg,#43b8ff 45deg,#08f7ff 52deg,#00fefc 56deg,#00f5d0 59deg,#00e99d 61deg,#00b401 66deg,#a5ea00 69.5deg,#fffe00 72deg,#ff9700 77deg,#fb6200 80.5deg,#eb3600 84.5deg,#e52300 89deg,#e42200 90deg,#ea3100 96deg,#fc6500 102.5deg,#ffea00 116deg,#fdfe00 119.5deg,#ecfa00 122.5deg,#ecfa00 124deg)"></i><i style="--r:48.5px;background:conic-gradient(from 28deg,#02b500 0deg,#02b500 2deg,#27c100 6deg,#29c200 7deg,#1abd00 10.5deg,#00b503 13.5deg,#00d75e 23deg,#00e589 26deg,#00fffe 32.5deg,#50aaff 39deg,#4d9cff 41.5deg,#4eacff 45deg,#0ff0ff 52deg,#00fefb 56.5deg,#00f5d0 59.5deg,#00e99c 61.5deg,#00d65a 63.5deg,#00b606 66deg,#10b900 66.5deg,#91e400 69deg,#fffd00 72deg,#ff9500 77deg,#fa5f00 80.5deg,#ea3300 84.5deg,#e42000 89.5deg,#e32000 90deg,#e72a00 95deg,#f45000 100.5deg,#ff7e00 105deg,#fff100 116.5deg,#fafe00 119deg,#e5f900 122.5deg,#e5f900 124deg)"></i><i style="--r:47px;background:conic-gradient(from 28deg,#00ba11 0deg,#00b90d 2.5deg,#04b500 4.5deg,#15bb00 7deg,#15bb00 7.5deg,#00b504 12deg,#00d860 22.5deg,#00e589 25.5deg,#00ffff 32deg,#4eadff 38deg,#4c92ff 41deg,#4b91ff 41.5deg,#4fa2ff 45deg,#4ab0ff 46.5deg,#12ecff 52.5deg,#00fefa 57deg,#00f5d0 60deg,#00edac 61.5deg,#00c630 65deg,#00b90c 66deg,#08b700 66.5deg,#8fe400 69deg,#f1fc00 71.5deg,#fffc00 72deg,#ff9300 77deg,#fc6400 80deg,#eb3500 84deg,#e31f00 88.5deg,#e31e00 90deg,#e62800 95deg,#f44f00 100.5deg,#ff7e00 105deg,#fff300 116.5deg,#fafe00 118.5deg,#dff700 122deg,#dff700 124deg)"></i><i style="--r:45.5px;background:conic-gradient(from 28deg,#00c226 0deg,#00c122 2.5deg,#00b503 7deg,#00b503 8deg,#00bd17 13deg,#00dd6d 23deg,#00edad 27deg,#00ffff 31.5deg,#4eadff 37.5deg,#4a8aff 41deg,#4a89ff 41.5deg,#4c96ff 44.5deg,#4eacff 47deg,#15e8ff 53deg,#00fffe 57deg,#00f7d9 60deg,#00efb8 61.5deg,#00c937 65deg,#02b500 66.5deg,#8de300 69deg,#f2fc00 71.5deg,#fffb00 72deg,#ff9100 77deg,#f85a00 80.5deg,#e92f00 84.5deg,#e21c00 89.5deg,#e21c00 90deg,#e82b00 96deg,#f75800 101.5deg,#ff8400 105.5deg,#fff500 116.5deg,#f8fd00 118.5deg,#daf600 122deg,#daf600 124deg)"></i><i style="--r:44px;background:conic-gradient(from 28deg,#00cb3d 0deg,#00c938 2.5deg,#00bd18 7deg,#00bc15 8.5deg,#00c225 13deg,#00e075 23deg,#00f6d8 29deg,#00fffe 31deg,#50a8ff 37.5deg,#4987ff 41deg,#4985ff 42deg,#4c96ff 45.5deg,#4cafff 48deg,#14eaff 54deg,#00fefd 57.5deg,#00f6d6 60.5deg,#00edad 62deg,#00b502 66.5deg,#8ce300 69deg,#f3fc00 71.5deg,#fffa00 72deg,#ff9700 76.5deg,#fc6600 79.5deg,#eb3500 83.5deg,#e31e00 88deg,#e21b00 90deg,#e72a00 96deg,#f55200 101deg,#ff7f00 105deg,#fff200 116deg,#fbfe00 118deg,#d5f500 122deg,#d5f500 124deg)"></i><i style="--r:42.5px;background:conic-gradient(from 28deg,#00d455 0deg,#00d251 2.5deg,#00c52c 7.5deg,#00c329 9.5deg,#00cb3d 14.5deg,#00e177 22.5deg,#00f8df 29deg,#03fcff 31deg,#4fa6ff 37.5deg,#4985ff 41deg,#4982ff 42.5deg,#4d97ff 46.5deg,#4fabff 48.5deg,#07f8ff 56.5deg,#00fdf8 58.5deg,#00f7db 60.5deg,#00eeb0 62deg,#00bd17 66deg,#00b504 66.5deg,#51cf00 68deg,#8ce300 69deg,#f5fd00 71.5deg,#fff900 72deg,#ff8b00 77deg,#f85b00 80deg,#e92f00 84deg,#e21b00 89deg,#e21b00 90deg,#e62700 95.5deg,#f34d00 100.5deg,#ff7a00 104.5deg,#ffea00 115deg,#ffff00 117.5deg,#d2f400 122deg,#d2f400 124deg)"></i><i style="--r:41px;background:conic-gradient(from 28deg,#00de6f 0deg,#00dc6b 2.5deg,#00cc41 8deg,#00ca3c 10deg,#00d04b 14.5deg,#00e27c 22deg,#00f2c2 27deg,#00ffff 30.5deg,#4eacff 37deg,#4985ff 41deg,#4880ff 43deg,#4c94ff 47deg,#4fabff 49.5deg,#08f7ff 57deg,#00fefb 59deg,#00f6d5 61deg,#00e58b 63deg,#00b605 66.5deg,#34c500 67.5deg,#a4e900 69.5deg,#f7fd00 71.5deg,#ffeb00 72.5deg,#ff8800 77deg,#f75700 80deg,#e82e00 84deg,#e21c00 89deg,#e21b00 90deg,#e72900 96deg,#f55200 101deg,#ff8100 105deg,#fff000 115.5deg,#fdff00 117.5deg,#cef300 122deg,#cef300 124deg)"></i><i style="--r:39.5px;background:conic-gradient(from 28deg,#00e793 0deg,#00e793 2deg,#00db67 6deg,#00d250 10deg,#00d24f 11deg,#00dc6b 18deg,#00e588 22deg,#00f3c8 27deg,#02fdff 30.5deg,#4fa7ff 37.5deg,#4983ff 41.5deg,#487eff 43.5deg,#4a8bff 47deg,#50aaff 50.5deg,#0ef0ff 57deg,#01feff 59.5deg,#00f8de 61deg,#00eba6 62.5deg,#00e177 63.5deg,#00b605 66.5deg,#34c500 67.5deg,#8de300 69deg,#f9fe00 71.5deg,#ffdc00 73deg,#ff8400 77deg,#f65400 80deg,#e82d00 84deg,#e21c00 89deg,#e21c00 90deg,#e62800 95.5deg,#f24800 100deg,#ff7800 104deg,#ffed00 115deg,#fbfe00 117.5deg,#cbf300 122deg,#cbf300 124deg)"></i><i style="--r:38px;background:conic-gradient(from 28deg,#00f0bb 0deg,#00f0bb 2deg,#00de71 8deg,#00d963 11.5deg,#00e17a 18.5deg,#00eba7 24deg,#00faea 29deg,#02fdff 30.5deg,#50a8ff 37.5deg,#487fff 42deg,#477aff 44deg,#4a88ff 48deg,#4fabff 52deg,#19e4ff 57.5deg,#0df1ff 59.5deg,#00fefb 60.5deg,#00f2c3 62deg,#00db67 64deg,#00b605 66.5deg,#34c500 67.5deg,#8de300 69deg,#fafe00 71.5deg,#ffc100 74deg,#ff7800 77.5deg,#ef3f00 81.5deg,#e52400 86deg,#e21d00 90deg,#e82c00 96deg,#f44f00 100.5deg,#ff7a00 104deg,#ffe600 114deg,#feff00 117deg,#c7f200 122deg,#c7f200 124deg)"></i><i style="--r:36.5px;background:conic-gradient(from 28deg,#00f9e3 0deg,#00f8de 2.5deg,#00e27e 10deg,#00e178 12.5deg,#00e68f 19.5deg,#00efb9 25deg,#02fdff 30.5deg,#50aaff 37.5deg,#487eff 42deg,#4674ff 45deg,#4983ff 49deg,#50aaff 53.5deg,#2cd0ff 57.5deg,#1be2ff 59.5deg,#00fefa 61deg,#00e99a 63deg,#00d455 64.5deg,#00b604 66.5deg,#34c500 67.5deg,#8de300 69deg,#fbfe00 71.5deg,#ff8600 76.5deg,#f95c00 79deg,#eb3500 82.5deg,#e42100 87.5deg,#e31f00 90deg,#e82e00 96deg,#f55200 100.5deg,#ff7800 103.5deg,#ffe000 113deg,#fffe00 116.5deg,#c2f000 122deg,#c2f000 124deg)"></i><i style="--r:35px;background:conic-gradient(from 28deg,#06f8ff 0deg,#03fbff 2.5deg,#00fef9 3.5deg,#00ea9f 10.5deg,#00e795 14deg,#00eaa2 20.5deg,#00f3c8 26deg,#01fdff 30.5deg,#4facff 37.5deg,#4778ff 42.5deg,#456dff 46deg,#477cff 50deg,#4eacff 55.5deg,#30ccff 59deg,#05f9ff 61deg,#00fcf0 61.5deg,#00dc6c 64deg,#00b605 66.5deg,#34c500 67.5deg,#a3e900 69.5deg,#fafe00 71.5deg,#ffbd00 74deg,#ff7900 77deg,#ef4100 81deg,#e72900 85deg,#e42200 90deg,#e92f00 95.5deg,#f75700 100.5deg,#ff8900 104.5deg,#ffe800 113.5deg,#fbfe00 116.5deg,#bdef00 122deg,#bdef00 124deg)"></i><i style="--r:33.5px;background:conic-gradient(from 28deg,#1ce1ff 0deg,#16e7ff 3deg,#00ffff 6deg,#00f1c0 11deg,#00edae 15deg,#00edac 17deg,#00efb9 23deg,#00f7da 27.5deg,#00ffff 30.5deg,#4eacff 37.5deg,#4571ff 43deg,#4364ff 46.5deg,#4571ff 50.5deg,#4eadff 57.5deg,#31cbff 59.5deg,#00fefc 61.5deg,#00de70 64deg,#00b606 66.5deg,#14bb00 67deg,#a1e900 69.5deg,#f9fe00 71.5deg,#ffd800 73deg,#ff8a00 76deg,#f75600 79deg,#ec3800 82deg,#e62700 87deg,#e52500 90deg,#ea3300 95.5deg,#f75800 100deg,#ff8900 104deg,#ffe400 112.5deg,#fbfe00 116deg,#b6ee00 122deg,#b6ee00 124deg)"></i><i style="--r:32px;background:conic-gradient(from 28deg,#30ccff 0deg,#2bd1ff 3deg,#00fffe 9deg,#00f5d1 13deg,#00f0be 18deg,#00f0bc 20deg,#00f4cc 25.5deg,#00fdf6 30deg,#08f7ff 31.5deg,#4eacff 37.5deg,#456dff 43deg,#4159ff 47deg,#4159ff 47.5deg,#4469ff 51.5deg,#4fa6ff 58deg,#44b6ff 59deg,#15e9ff 61deg,#05f9ff 61.5deg,#00fbed 62deg,#00e075 64deg,#00b80a 66.5deg,#0fb900 67deg,#9ee800 69.5deg,#f7fd00 71.5deg,#ffe700 72.5deg,#ff8900 76deg,#f95c00 78.5deg,#ed3b00 81.5deg,#e72b00 86.5deg,#e72900 89.5deg,#eb3500 95deg,#f85a00 99.5deg,#ff7e00 102.5deg,#ffdd00 111deg,#ffff00 115deg,#aeec00 122deg,#aeec00 124deg)"></i><i style="--r:30.5px;background:conic-gradient(from 28deg,#44b7ff 0deg,#3dbeff 3.5deg,#00ffff 11.5deg,#00f7da 15.5deg,#00f3c8 21deg,#00f3c8 21.5deg,#00f6d5 26.5deg,#01feff 31deg,#40bbff 36.5deg,#4fa5ff 38deg,#4364ff 43.5deg,#4053fe 46.5deg,#4052fd 48deg,#415aff 51.5deg,#4b8dff 57deg,#4eacff 59deg,#0df1ff 61.5deg,#00fef9 62deg,#00e37f 64deg,#00ba10 66.5deg,#08b700 67deg,#9ce800 69.5deg,#f6fd00 71.5deg,#fff500 72deg,#ff9400 75.5deg,#f85a00 78.5deg,#ed3a00 81.5deg,#e82d00 88deg,#e82c00 89.5deg,#ed3a00 95deg,#fb6200 99.5deg,#ffdb00 110deg,#fbfe00 114.5deg,#a5ea00 122deg,#a5ea00 124deg)"></i><i style="--r:29px;background:conic-gradient(from 28deg,#4fa4ff 0deg,#4eacff 4deg,#1fdeff 10deg,#00fefd 14deg,#00f7d9 19deg,#00f5d0 23deg,#00f7dc 27.5deg,#00fffe 31deg,#32caff 35.5deg,#4eacff 37.5deg,#425fff 43.5deg,#4052fd 45.5deg,#404ff9 48.5deg,#4158ff 53deg,#4a89ff 57.5deg,#4caeff 59.5deg,#04faff 62deg,#00f3cb 63deg,#00de70 64.5deg,#00b400 67deg,#9ce700 69.5deg,#f9fe00 71.5deg,#ffd600 73deg,#ff8800 76deg,#f55200 79deg,#ec3800 82deg,#e93000 90deg,#ef3f00 95deg,#ff7100 100deg,#ffe500 110deg,#fffe00 113deg,#99e700 122deg,#99e700 124deg)"></i><i style="--r:27.5px;background:conic-gradient(from 28deg,#4c93ff 0deg,#4d9aff 4deg,#4daeff 7deg,#05faff 15deg,#00fae8 18.5deg,#00f6d5 24deg,#00f6d5 24.5deg,#00f9e3 28.5deg,#02fdff 31.5deg,#38c3ff 36deg,#4fabff 37.5deg,#415aff 43.5deg,#404df6 47.5deg,#404df6 49deg,#4055ff 54deg,#4a88ff 58deg,#4fa5ff 59.5deg,#3bc0ff 60.5deg,#0df2ff 62deg,#00fdf7 62.5deg,#00e179 64.5deg,#00b606 67deg,#18bc00 67.5deg,#9ce700 69.5deg,#fdfe00 71.5deg,#ff9100 75.5deg,#f75700 78.5deg,#ec3900 81.5deg,#ea3400 84deg,#eb3500 86.5deg,#ea3300 90deg,#ef4100 94.5deg,#ff6e00 99deg,#fff100 110deg,#fcfe00 112deg,#88e100 122deg,#88e100 124deg)"></i><i style="--r:26px;background:conic-gradient(from 28deg,#4984ff 0deg,#4b8dff 4.5deg,#4fabff 8.5deg,#0bf3ff 15.5deg,#00fffd 17.5deg,#00f7dc 23deg,#00f6d9 25deg,#00f9e6 29deg,#01feff 31.5deg,#31cbff 35.5deg,#4fabff 37.5deg,#4056ff 43.5deg,#404af3 49deg,#4055ff 55deg,#4a88ff 58.5deg,#50a9ff 60deg,#04fbff 62.5deg,#00f3c8 63.5deg,#00dc6b 65deg,#00b90c 67deg,#11ba00 67.5deg,#9ce700 69.5deg,#fffe00 71.5deg,#ff8e00 75.5deg,#f95d00 78deg,#ee3e00 80.5deg,#eb3400 83.5deg,#ec3700 86.5deg,#eb3500 89.5deg,#ef3f00 93.5deg,#fb6400 97.5deg,#fff900 109.5deg,#f3fc00 111deg,#81df00 121deg,#73da00 122deg,#73da00 124deg)"></i><i style="--r:24.5px;background:conic-gradient(from 28deg,#4677ff 0deg,#4881ff 5deg,#50a9ff 9.5deg,#10eeff 16deg,#00ffff 18.5deg,#00f8df 23.5deg,#00f7db 25.5deg,#00f9e6 29deg,#00ffff 31.5deg,#31cbff 35.5deg,#50aaff 37.5deg,#4053fe 43.5deg,#4049f1 49deg,#4053fe 55.5deg,#4880ff 58.5deg,#4caeff 60.5deg,#0df1ff 62.5deg,#00fdf7 63deg,#00e075 65deg,#00bb12 67deg,#0ab700 67.5deg,#9ce700 69.5deg,#ebfa00 71deg,#fffc00 71.5deg,#ff9700 75deg,#fb6200 77.5deg,#ef3f00 80deg,#ea3300 83deg,#ec3800 86.5deg,#eb3600 89deg,#ef4000 93deg,#fc6500 97deg,#ffd700 105.5deg,#fffd00 108.5deg,#bff000 113.5deg,#8ae200 118.5deg,#5cd300 122deg,#5cd300 124deg)"></i><i style="--r:23px;background:conic-gradient(from 28deg,#446bff 0deg,#4674ff 5deg,#4e9eff 9.5deg,#4bb0ff 11deg,#0fefff 17deg,#00fefa 20deg,#00f8e0 24.5deg,#00f8de 26deg,#00faeb 29.5deg,#01feff 31.5deg,#31cbff 35.5deg,#50a9ff 37.5deg,#4055ff 43deg,#4047ef 49deg,#4056ff 56.5deg,#4a8cff 59.5deg,#4fa5ff 60.5deg,#38c4ff 61.5deg,#05faff 63deg,#00fae7 63.5deg,#00e381 65deg,#02b500 67.5deg,#9be700 69.5deg,#edfb00 71deg,#fffa00 71.5deg,#ff9f00 74.5deg,#f95e00 77.5deg,#ee3c00 80deg,#e93100 83deg,#eb3500 87.5deg,#eb3500 88deg,#ef4000 92.5deg,#fa5f00 96deg,#ffbe00 103deg,#feff00 107.5deg,#c0f000 111deg,#80df00 117deg,#43ca00 122deg,#43ca00 124deg)"></i><i style="--r:21.5px;background:conic-gradient(from 28deg,#4362ff 0deg,#446bff 5deg,#4b90ff 9deg,#4dadff 11.5deg,#11edff 17.5deg,#00fefb 20.5deg,#00f8e1 25deg,#00f8e0 26deg,#00fae8 29deg,#02fdff 31.5deg,#32caff 35.5deg,#50a8ff 37.5deg,#4054ff 43deg,#4046ee 49deg,#4046ee 49.5deg,#4053fd 56.5deg,#4365ff 58deg,#50a9ff 61deg,#0fefff 63deg,#00fef8 63.5deg,#00de70 65.5deg,#00b605 67.5deg,#49cc00 68.5deg,#99e700 69.5deg,#eefb00 71deg,#fff800 71.5deg,#ff8f00 75deg,#fb6400 77deg,#ee3e00 79.5deg,#e92f00 82.5deg,#e82e00 83.5deg,#ed3c00 91.5deg,#f85900 95deg,#ff9400 99.5deg,#fcfe00 106.5deg,#aaeb00 110.5deg,#78dc00 114.5deg,#29c200 122deg,#29c200 124deg)"></i><i style="--r:20px;background:conic-gradient(from 28deg,#415aff 0deg,#4362ff 4.5deg,#4984ff 8.5deg,#4eadff 12deg,#11edff 18deg,#00fefc 21deg,#00f9e4 25deg,#00f9e2 26.5deg,#00fbee 29.5deg,#03fcff 31.5deg,#33c9ff 35.5deg,#4fa7ff 37.5deg,#4053fe 43deg,#4046ed 49deg,#4045ed 49.5deg,#4050fa 56.5deg,#425cff 58deg,#4e9eff 61deg,#4dadff 61.5deg,#07f7ff 63.5deg,#00fae9 64deg,#00e27c 65.5deg,#00b90d 67.5deg,#17bc00 68deg,#95e600 69.5deg,#edfb00 71deg,#fff800 71.5deg,#ff9800 74.5deg,#fa6000 77deg,#ed3c00 79.5deg,#e82d00 82.5deg,#e82c00 83.5deg,#ed3c00 91.5deg,#fc6400 95.5deg,#ffc400 102deg,#ffff00 105.5deg,#7bdd00 111deg,#59d200 113deg,#0fb900 122.5deg,#0fb900 124deg)"></i><i style="--r:18.5px;background:conic-gradient(from 28deg,#4054ff 0deg,#425dff 4.5deg,#4984ff 9deg,#4daeff 12.5deg,#10eeff 18.5deg,#00fefb 21.5deg,#00f9e6 25.5deg,#00f9e5 26.5deg,#00fcf0 29.5deg,#04fbff 31.5deg,#34c8ff 35.5deg,#4fa6ff 37.5deg,#4157ff 42.5deg,#4045ec 48.5deg,#4045ec 49.5deg,#4050fa 57deg,#415cff 58.5deg,#4c93ff 61deg,#4ab1ff 62deg,#00fffd 64deg,#00dc6b 66deg,#00bc15 67.5deg,#0bb800 68deg,#8de300 69.5deg,#eafa00 71deg,#fff900 71.5deg,#ff9600 74.5deg,#f95e00 77deg,#ed3b00 79.5deg,#e72b00 83.5deg,#e72b00 84deg,#ec3700 90.5deg,#f65500 94deg,#ff7e00 97deg,#fffb00 104.5deg,#dbf600 106deg,#89e200 109deg,#41ca00 111.5deg,#23c000 113.5deg,#00b504 121deg,#00b709 124deg)"></i><i style="--r:17px;background:conic-gradient(from 28deg,#4053fd 0deg,#415aff 4.5deg,#4986ff 9.5deg,#50a9ff 12.5deg,#13ebff 18.5deg,#00fefb 22deg,#00fae8 26deg,#00fae8 26.5deg,#00fdf6 30deg,#05faff 31.5deg,#35c6ff 35.5deg,#4dadff 37deg,#4055ff 42.5deg,#4044eb 49deg,#4044eb 50deg,#404ff9 57.5deg,#415aff 59deg,#4c94ff 61.5deg,#4fa4ff 62deg,#46b5ff 62.5deg,#0bf3ff 64deg,#00fbed 64.5deg,#00e177 66deg,#00b501 68deg,#82df00 69.5deg,#e5f900 71deg,#fffc00 71.5deg,#ff9600 74.5deg,#f95e00 77deg,#ee3d00 79.5deg,#e82c00 83deg,#e72b00 84.5deg,#ec3800 90.5deg,#f55300 93.5deg,#ff7d00 96.5deg,#fffe00 104deg,#88e100 108deg,#21bf00 111deg,#00b401 112.5deg,#00b90d 115.5deg,#00be1c 124deg)"></i><i style="--r:15.5px;background:conic-gradient(from 28deg,#4052fc 0deg,#4157ff 4.5deg,#4983ff 9.5deg,#4eacff 13deg,#19e4ff 18deg,#00ffff 22deg,#00fbec 26deg,#00fbec 26.5deg,#00fdf5 29.5deg,#03fcff 31deg,#2fcdff 35deg,#4eacff 37deg,#4054ff 42.5deg,#4044ea 49deg,#4043ea 50deg,#404df7 57.5deg,#4159ff 59.5deg,#4a88ff 61.5deg,#4fa7ff 62.5deg,#2dcfff 63.5deg,#02fdff 64.5deg,#00db67 66.5deg,#00b90c 68deg,#1bbd00 68.5deg,#9ee800 70deg,#fbfe00 71.5deg,#ff8b00 75deg,#fb6300 77deg,#ee3d00 80deg,#e82d00 84deg,#e82d00 85deg,#ec3700 90deg,#f55000 93deg,#ff7c00 96deg,#fdff00 103.5deg,#90e400 107deg,#0ab700 110.5deg,#00b604 111deg,#00c124 113deg,#00c329 115deg,#00c328 118deg,#00c52e 124deg)"></i><i style="--r:14px;background:conic-gradient(from 28deg,#4051fb 0deg,#4158ff 5deg,#4a8cff 10.5deg,#50a9ff 13deg,#18e6ff 18.5deg,#00fefd 23deg,#00fcf0 26.5deg,#01fdff 30.5deg,#1de0ff 33.5deg,#50aaff 37deg,#4054ff 42.5deg,#4043ea 48.5deg,#4043e9 50deg,#404df6 58deg,#4158ff 60deg,#4a8aff 62deg,#4eacff 63deg,#0ef0ff 64.5deg,#00fbef 65deg,#00df73 66.5deg,#00bd18 68deg,#0ab700 68.5deg,#91e400 70deg,#f0fb00 71.5deg,#fff600 72deg,#ff9400 75deg,#f85b00 78deg,#ed3c00 81deg,#e93100 85.5deg,#ee3d00 90.5deg,#f95d00 93.5deg,#ff8b00 96.5deg,#fcfe00 103deg,#8ae200 106.5deg,#0eb900 109.5deg,#00b503 110deg,#00c835 112.5deg,#00cc40 114.5deg,#00cc40 115deg,#00cb3c 119deg,#00cc40 124deg)"></i><i style="--r:12.5px;background:conic-gradient(from 28deg,#4050fa 0deg,#4056ff 5deg,#4b90ff 11deg,#4dadff 13.5deg,#1ae3ff 18.5deg,#00ffff 23.5deg,#00fdf6 27deg,#04fbff 30.5deg,#26d7ff 34deg,#50a8ff 37deg,#4054ff 42.5deg,#4043e9 49deg,#4042e9 50.5deg,#404bf4 58deg,#4159ff 60.5deg,#4b8fff 62.5deg,#4ea1ff 63deg,#45b5ff 63.5deg,#02fdff 65deg,#00e483 66.5deg,#00b606 68.5deg,#52cf00 69.5deg,#a4e900 70.5deg,#ffff00 72deg,#ffa000 75deg,#fd6700 78deg,#f14500 81deg,#eb3700 85.5deg,#ef4100 90deg,#f95d00 93deg,#ff8b00 96deg,#fbfe00 102.5deg,#87e100 106deg,#08b700 109deg,#00bc14 110deg,#00ce45 112.5deg,#00d353 115deg,#00d353 115.5deg,#00d24f 120deg,#00d352 124deg)"></i><i style="--r:11px;background:conic-gradient(from 28deg,#404ff9 0deg,#4158ff 5.5deg,#4e9eff 12.5deg,#50aaff 13.5deg,#1edfff 18.5deg,#02fdff 24.5deg,#00fffd 27deg,#0bf3ff 31deg,#29d4ff 34deg,#4dadff 36.5deg,#4053fe 42.5deg,#4042e9 49.5deg,#4042e9 50.5deg,#404bf4 58.5deg,#4053fe 60.5deg,#4675ff 62deg,#4fabff 63.5deg,#0bf3ff 65deg,#00fae9 65.5deg,#00dd6d 67deg,#00bb12 68.5deg,#11ba00 69deg,#95e600 70.5deg,#edfb00 72deg,#fff900 72.5deg,#ffae00 75deg,#ff7c00 77.5deg,#f55100 81deg,#ef3f00 85.5deg,#ef3f00 86deg,#f34d00 90.5deg,#ff7d00 94.5deg,#ffda00 100deg,#fcfe00 102deg,#87e100 105.5deg,#06b600 108.5deg,#00c122 110deg,#00d251 112.5deg,#00d963 115.5deg,#00d963 116deg,#00d860 120deg,#00d962 124deg)"></i><i style="--r:9.5px;background:conic-gradient(from 28deg,#404ff8 0deg,#4056ff 5.5deg,#4ea1ff 13deg,#48b2ff 14.5deg,#1fdeff 19deg,#07f8ff 24.5deg,#04fbff 26.5deg,#10eeff 31deg,#34c8ff 34.5deg,#50aaff 36.5deg,#4053fe 42.5deg,#4042e9 49.5deg,#4042e8 51deg,#404cf5 59deg,#4159ff 61deg,#4c93ff 63deg,#4fa6ff 63.5deg,#29d4ff 64.5deg,#12ecff 65deg,#00fdf5 65.5deg,#00e178 67deg,#00b502 69deg,#a2e900 71deg,#f5fd00 72.5deg,#fff500 73deg,#ffa500 76deg,#ff7500 79deg,#f55100 83deg,#f24a00 86deg,#f65600 90deg,#ff8600 94.5deg,#ffed00 100.5deg,#fcfe00 101.5deg,#89e200 105deg,#08b700 108deg,#00bc15 109deg,#00d353 112deg,#00dd6c 114.5deg,#00de71 117deg,#00de70 119.5deg,#00df72 124deg)"></i><i style="--r:8px;background:conic-gradient(from 28deg,#404ef7 0deg,#4158ff 6deg,#50a8ff 14deg,#24d9ff 19deg,#0cf2ff 24.5deg,#0af4ff 26.5deg,#14eaff 30.5deg,#33c9ff 34deg,#4fa6ff 36.5deg,#4053fe 42.5deg,#4043e9 49.5deg,#4042e8 51.5deg,#404cf5 59deg,#4159ff 61deg,#4c93ff 63deg,#4fa5ff 63.5deg,#2dd0ff 64.5deg,#00ffff 65.5deg,#00e486 67deg,#00ba0f 69deg,#14bb00 69.5deg,#8ee300 71deg,#f9fe00 73deg,#ffd800 74.5deg,#ff9800 77.5deg,#fe6a00 81.5deg,#f75800 85.5deg,#f75700 86deg,#fb6400 90deg,#ff9100 94.5deg,#fdfe00 101deg,#8ce300 104.5deg,#0cb800 107.5deg,#00b605 108deg,#00d04b 111deg,#00dd6e 113.5deg,#00e381 117deg,#00e487 124deg)"></i><i style="--r:6.5px;background:conic-gradient(from 28deg,#404df6 0deg,#4056ff 6deg,#50a9ff 14.5deg,#24d9ff 20deg,#11edff 25.5deg,#11edff 26.5deg,#1be2ff 30.5deg,#3fbcff 34.5deg,#50a8ff 36deg,#4053fe 42.5deg,#4042e9 50deg,#4042e8 51.5deg,#404bf3 58.5deg,#4053fe 60.5deg,#4984ff 62.5deg,#4fa5ff 63.5deg,#43b8ff 64deg,#04fbff 65.5deg,#00f0ba 66.5deg,#00de6f 67.5deg,#00b401 69.5deg,#99e700 71.5deg,#fafe00 73.5deg,#ffc400 76deg,#ff8b00 79.5deg,#ff6d00 83.5deg,#fc6600 86.5deg,#ff7800 91deg,#ffa400 95deg,#fdfe00 100.5deg,#8fe400 104deg,#00b502 107.5deg,#00cf49 110.5deg,#00e076 113.5deg,#00e68f 116.5deg,#00e99c 124deg)"></i></div></div>
<svg width="960" height="600" viewBox="0 0 960 600" style="position:absolute;left:0;top:0;will-change:transform">
<defs><linearGradient id="cb" x1="0" y1="1" x2="0" y2="0"><stop offset="0.0000" stop-color="#3c3cb9"/><stop offset="0.0167" stop-color="#4040c8"/><stop offset="0.0450" stop-color="#4040e6"/><stop offset="0.0717" stop-color="#4054ff"/><stop offset="0.1033" stop-color="#50aaff"/><stop offset="0.1317" stop-color="#00ffff"/><stop offset="0.1600" stop-color="#00e178"/><stop offset="0.1967" stop-color="#00b400"/><stop offset="0.2283" stop-color="#96e600"/><stop offset="0.2600" stop-color="#ffff00"/><stop offset="0.2917" stop-color="#ffbe00"/><stop offset="0.3300" stop-color="#ff6e00"/><stop offset="0.3617" stop-color="#e11900"/><stop offset="0.3850" stop-color="#be0000"/><stop offset="0.4167" stop-color="#dc286e"/><stop offset="0.4483" stop-color="#ff6ee6"/><stop offset="0.4767" stop-color="#ffd7fa"/><stop offset="0.4967" stop-color="#ffffff"/><stop offset="1.0000" stop-color="#000000"/></linearGradient></defs>
<text transform="translate(479.8 46.9) scale(1 1.057)" text-anchor="middle" style="font-family:'Liberation Mono',monospace;font-size:35.6px" fill="#ffff66" stroke="#000" stroke-width="0.3">2025-12-01 18:00Z</text>
<ellipse cx="330.26" cy="34.7" rx="3.1" ry="5.8" fill="#000"/>
<ellipse cx="479.80" cy="34.7" rx="3.1" ry="5.8" fill="#000"/>
<ellipse cx="607.98" cy="34.7" rx="3.1" ry="5.8" fill="#000"/>
<ellipse cx="629.34" cy="34.7" rx="3.1" ry="5.8" fill="#000"/>
<rect x="30.5" y="102.0" width="10" height="163" fill="url(#cb)" stroke="#fff" stroke-width="1.2"/>
<text x="47.5" y="107.5" class="t">60</text>
<text x="47.5" y="148.2" class="t">45</text>
<text x="47.5" y="188.9" class="t">30</text>
<text x="47.5" y="229.6" class="t">15</text>
<text x="47.5" y="270.3" class="t">0</text>
<text transform="translate(24.4 265.6) rotate(-90)" class="t" style="font-size:14.45px">Plasma Density (r<tspan dy="-7.3" font-size="8.2">2</tspan><tspan dy="7.3">N/cm</tspan><tspan dy="-7.3" font-size="8.2">3</tspan><tspan dy="7.3">)</tspan></text>
<rect x="30.5" y="366.0" width="10" height="163" fill="url(#cb)" stroke="#fff" stroke-width="1.2"/>
<text x="47.5" y="371.5" class="t">1600</text>
<text x="47.5" y="412.2" class="t">1250</text>
<text x="47.5" y="452.9" class="t">900</text>
<text x="47.5" y="493.6" class="t">550</text>
<text x="47.5" y="534.3" class="t">200</text>
<text transform="translate(24.4 529.2) rotate(-90)" class="t" style="font-size:14.45px">Radial Velocity (km/s)</text>
<rect x="42" y="326" width="9.3" height="1" fill="#ccc"/>
<text x="736.5" y="83" text-anchor="middle" class="t">Plasma Density (/cm<tspan dy="-7.3" font-size="8.2">3</tspan><tspan dy="7.3">)</tspan></text>
<text x="736.5" y="346.5" text-anchor="middle" class="t">Radial Velocity (km/s)</text>
<rect x="532.5" y="91.5" width="408.0" height="90.0" fill="none" stroke="#fff" stroke-width="1"/>
<path d="M532.5 109.5h5.5M940.5 109.5h-5.5M532.5 127.5h5.5M940.5 127.5h-5.5M532.5 145.5h5.5M940.5 145.5h-5.5M532.5 163.5h5.5M940.5 163.5h-5.5M591.5 181.5v-5.5M649.5 181.5v-5.5M707.5 181.5v-5.5M765.5 181.5v-5.5M823.5 181.5v-5.5M881.5 181.5v-5.5" stroke="#fff" stroke-width="1" fill="none"/>
<text x="523.5" y="96.3" text-anchor="end" class="t">10</text>
<text x="523.5" y="132.3" text-anchor="end" class="t">6</text>
<text x="523.5" y="168.3" text-anchor="end" class="t">2</text>
<text x="543.5" y="108.2" class="t">EARTH</text>
<path d="M533.0 156.5H534.0H535.0H536.0H537.0H538.0H539.0H540.0H541.0V157.5H542.0H543.0H544.0H545.0H546.0H547.0H548.0H549.0H550.0H551.0H552.0H553.0H554.0H555.0H556.0H557.0H558.0H559.0H560.0H561.0V158.5H562.0H563.0H564.0H565.0H566.0H567.0H568.0H569.0H570.0H571.0H572.0H573.0H574.0H575.0H576.0H577.0V159.5H578.0H579.0H580.0H581.0H582.0H583.0H584.0H585.0H586.0H587.0H588.0H589.0H590.0H591.0H592.0H593.0V160.5H594.0H595.0H596.0H597.0H598.0H599.0H600.0H601.0H602.0H603.0H604.0H605.0H606.0H607.0H608.0V161.5H609.0H610.0H611.0H612.0H613.0H614.0H615.0H616.0H617.0H618.0H619.0H620.0H621.0H622.0H623.0H624.0H625.0H626.0H627.0H628.0V162.5H629.0H630.0H631.0H632.0H633.0H634.0H635.0H636.0H637.0H638.0H639.0H640.0H641.0H642.0H643.0H644.0H645.0H646.0H647.0H648.0H649.0H650.0H651.0H652.0H653.0H654.0V163.5H655.0H656.0H657.0H658.0H659.0H660.0H661.0H662.0H663.0H664.0H665.0H666.0H667.0H668.0H669.0H670.0H671.0H672.0H673.0H674.0H675.0H676.0H677.0H678.0H679.0H680.0H681.0H682.0H683.0H684.0H685.0H686.0H687.0H688.0H689.0H690.0H691.0H692.0H693.0H694.0H695.0H696.0H697.0H698.0H699.0H700.0H701.0H702.0H703.0H704.0H705.0H706.0H707.0H708.0H709.0H710.0H711.0H712.0H713.0H714.0H715.0H716.0H717.0H718.0H719.0V162.5H720.0H721.0H722.0H723.0H724.0H725.0H726.0H727.0H728.0H729.0H730.0H731.0H732.0H733.0H734.0H735.0H736.0H737.0H738.0H739.0V161.5H740.0H741.0H742.0H743.0H744.0H745.0H746.0H747.0H748.0H749.0V160.5H750.0H751.0H752.0H753.0H754.0H755.0H756.0H757.0H758.0V159.5H759.0H760.0H761.0H762.0H763.0H764.0H765.0H766.0H767.0V158.5H768.0H769.0H770.0H771.0H772.0H773.0H774.0H775.0H776.0V157.5H777.0H778.0H779.0H780.0H781.0H782.0H783.0H784.0V156.5H785.0H786.0H787.0H788.0H789.0H790.0H791.0H792.0H793.0V155.5H794.0H795.0H796.0H797.0H798.0H799.0H800.0H801.0H802.0H803.0V154.5H804.0H805.0H806.0H807.0H808.0H809.0H810.0H811.0H812.0H813.0V153.5H814.0H815.0H816.0H817.0H818.0H819.0H820.0H821.0H822.0H823.0H824.0V152.5H825.0H826.0H827.0H828.0H829.0H830.0H831.0H832.0H833.0H834.0H835.0V151.5H836.0H837.0H838.0H839.0H840.0H841.0H842.0H843.0H844.0H845.0H846.0V150.5H847.0H848.0H849.0H850.0H851.0H852.0H853.0H854.0H855.0H856.0H857.0H858.0V149.5H859.0H860.0H861.0H862.0H863.0H864.0H865.0H866.0H867.0H868.0H869.0H870.0H871.0H872.0V148.5H873.0H874.0H875.0H876.0H877.0H878.0H879.0H880.0H881.0H882.0H883.0H884.0H885.0V147.5H886.0H887.0H888.0H889.0H890.0H891.0H892.0H893.0H894.0H895.0H896.0H897.0H898.0H899.0V146.5H900.0H901.0H902.0H903.0H904.0H905.0H906.0H907.0H908.0H909.0V145.5H910.0H911.0H912.0H913.0H914.0H915.0V144.5H916.0H917.0H918.0H919.0V143.5H920.0H921.0H922.0H923.0V142.5H924.0H925.0H926.0H927.0V141.5H928.0H929.0H930.0V140.5H931.0H932.0V139.5H933.0H934.0H935.0V138.5H936.0H937.0V137.5H938.0H939.0V136.5H940.0H941.0" fill="none" stroke="#8fe88f" stroke-width="1" stroke-linejoin="miter"/>
<rect x="749.7" y="90.0" width="2.4" height="91.5" fill="#ffff66"/>
<rect x="748.6" y="158.3" width="4.4" height="4.4" fill="#d8d850"/>
<rect x="532.5" y="193.5" width="408.0" height="90.0" fill="none" stroke="#fff" stroke-width="1"/>
<path d="M532.5 211.5h5.5M940.5 211.5h-5.5M532.5 229.5h5.5M940.5 229.5h-5.5M532.5 247.5h5.5M940.5 247.5h-5.5M532.5 265.5h5.5M940.5 265.5h-5.5M591.5 283.5v-5.5M649.5 283.5v-5.5M707.5 283.5v-5.5M765.5 283.5v-5.5M823.5 283.5v-5.5M881.5 283.5v-5.5" stroke="#fff" stroke-width="1" fill="none"/>
<text x="523.5" y="198.3" text-anchor="end" class="t">10</text>
<text x="523.5" y="234.3" text-anchor="end" class="t">6</text>
<text x="523.5" y="270.3" text-anchor="end" class="t">2</text>
<text x="543.5" y="210.2" class="t">STEREO A</text>
<path d="M533.0 234.5H534.0V233.5H535.0H536.0H537.0H538.0H539.0H540.0H541.0H542.0V232.5H543.0H544.0H545.0H546.0H547.0H548.0H549.0H550.0H551.0H552.0V231.5H553.0H554.0H555.0H556.0H557.0H558.0H559.0H560.0H561.0H562.0H563.0H564.0H565.0H566.0H567.0H568.0H569.0H570.0H571.0H572.0V230.5H573.0H574.0H575.0H576.0H577.0H578.0H579.0H580.0H581.0H582.0H583.0H584.0H585.0H586.0H587.0V229.5H588.0H589.0H590.0H591.0H592.0H593.0V228.5H594.0H595.0H596.0H597.0H598.0V227.5H599.0H600.0H601.0H602.0V226.5H603.0H604.0H605.0V225.5H606.0H607.0V224.5H608.0H609.0H610.0V223.5H611.0H612.0V222.5H613.0H614.0V221.5H615.0H616.0V220.5H617.0H618.0V219.5H619.0V218.5H620.0H621.0V217.5H622.0V216.5H623.0H624.0V215.5H625.0H626.0V214.5H627.0V213.5H628.0V212.5H629.0H630.0V211.5H631.0H632.0V210.5H633.0V209.5H634.0H635.0H636.0V208.5H637.0H638.0H639.0H640.0H641.0V207.5H642.0H643.0H644.0H645.0H646.0H647.0H648.0H649.0H650.0H651.0H652.0H653.0H654.0H655.0V208.5H656.0H657.0H658.0H659.0H660.0V209.5H661.0H662.0V210.5H663.0H664.0V211.5H665.0H666.0V212.5H667.0H668.0V213.5H669.0V214.5H670.0V215.5H671.0V216.5H672.0V217.5H673.0V218.5H674.0V220.5H675.0V221.5H676.0V222.5H677.0V223.5H678.0V224.5H679.0V225.5H680.0V226.5H681.0V227.5H682.0V228.5H683.0V229.5H684.0V230.5H685.0V231.5H686.0V232.5H687.0V233.5H688.0H689.0V234.5H690.0V235.5H691.0V236.5H692.0H693.0V237.5H694.0V238.5H695.0H696.0V239.5H697.0H698.0V240.5H699.0H700.0V241.5H701.0H702.0V242.5H703.0H704.0V243.5H705.0H706.0H707.0V244.5H708.0H709.0V245.5H710.0H711.0V246.5H712.0H713.0V247.5H714.0H715.0H716.0V248.5H717.0H718.0V249.5H719.0H720.0H721.0V250.5H722.0H723.0H724.0V251.5H725.0H726.0H727.0V252.5H728.0H729.0H730.0H731.0V253.5H732.0H733.0H734.0H735.0V254.5H736.0H737.0H738.0H739.0H740.0H741.0V255.5H742.0H743.0H744.0H745.0H746.0H747.0H748.0V256.5H749.0H750.0H751.0H752.0H753.0H754.0H755.0V257.5H756.0H757.0H758.0H759.0H760.0H761.0H762.0V258.5H763.0H764.0H765.0H766.0H767.0H768.0H769.0H770.0H771.0H772.0H773.0H774.0H775.0V259.5H776.0H777.0H778.0H779.0H780.0H781.0H782.0H783.0H784.0H785.0H786.0H787.0H788.0H789.0H790.0H791.0H792.0H793.0V260.5H794.0H795.0H796.0H797.0H798.0H799.0H800.0H801.0H802.0H803.0H804.0H805.0H806.0H807.0H808.0H809.0H810.0H811.0H812.0H813.0V261.5H814.0H815.0H816.0H817.0H818.0H819.0H820.0H821.0H822.0H823.0H824.0H825.0H826.0H827.0H828.0H829.0H830.0H831.0V262.5H832.0H833.0H834.0H835.0H836.0H837.0H838.0H839.0H840.0H841.0H842.0H843.0H844.0H845.0H846.0H847.0H848.0V263.5H849.0H850.0H851.0H852.0H853.0H854.0H855.0H856.0H857.0H858.0H859.0H860.0H861.0H862.0H863.0H864.0H865.0H866.0V264.5H867.0H868.0H869.0H870.0H871.0H872.0H873.0H874.0H875.0H876.0H877.0H878.0H879.0H880.0H881.0H882.0H883.0H884.0H885.0H886.0H887.0H888.0H889.0H890.0H891.0H892.0H893.0H894.0H895.0H896.0H897.0H898.0H899.0H900.0H901.0H902.0H903.0H904.0H905.0H906.0H907.0H908.0H909.0H910.0H911.0H912.0H913.0H914.0H915.0H916.0H917.0H918.0H919.0H920.0H921.0H922.0H923.0H924.0H925.0H926.0V263.5H927.0H928.0H929.0H930.0H931.0H932.0H933.0H934.0H935.0H936.0H937.0V262.5H938.0H939.0H940.0H941.0" fill="none" stroke="#e88080" stroke-width="1" stroke-linejoin="miter"/>
<rect x="749.7" y="192.0" width="2.4" height="91.5" fill="#ffff66"/>
<rect x="748.6" y="254.3" width="4.4" height="4.4" fill="#d8d850"/>
<rect x="532.5" y="354.5" width="408.0" height="90.0" fill="none" stroke="#fff" stroke-width="1"/>
<path d="M532.5 369.5h5.5M940.5 369.5h-5.5M532.5 384.5h5.5M940.5 384.5h-5.5M532.5 399.5h5.5M940.5 399.5h-5.5M532.5 414.5h5.5M940.5 414.5h-5.5M532.5 429.5h5.5M940.5 429.5h-5.5M591.5 444.5v-5.5M649.5 444.5v-5.5M707.5 444.5v-5.5M765.5 444.5v-5.5M823.5 444.5v-5.5M881.5 444.5v-5.5" stroke="#fff" stroke-width="1" fill="none"/>
<text x="523.5" y="374.3" text-anchor="end" class="t">700</text>
<text x="523.5" y="404.3" text-anchor="end" class="t">500</text>
<text x="523.5" y="434.3" text-anchor="end" class="t">300</text>
<text x="543.5" y="371.2" class="t">EARTH</text>
<path d="M533.0 373.5H534.0H535.0H536.0H537.0H538.0H539.0H540.0H541.0H542.0H543.0H544.0H545.0H546.0H547.0H548.0H549.0H550.0H551.0H552.0H553.0H554.0H555.0H556.0H557.0H558.0H559.0H560.0H561.0H562.0H563.0H564.0H565.0H566.0H567.0H568.0H569.0H570.0H571.0H572.0H573.0H574.0H575.0H576.0H577.0H578.0H579.0H580.0H581.0H582.0H583.0H584.0H585.0H586.0H587.0H588.0H589.0H590.0H591.0H592.0H593.0H594.0H595.0H596.0H597.0H598.0H599.0H600.0H601.0H602.0H603.0H604.0H605.0H606.0H607.0H608.0H609.0H610.0H611.0H612.0H613.0H614.0H615.0H616.0H617.0H618.0H619.0H620.0H621.0H622.0H623.0H624.0H625.0H626.0H627.0H628.0H629.0H630.0H631.0H632.0H633.0H634.0H635.0H636.0H637.0H638.0V374.5H639.0H640.0H641.0H642.0H643.0H644.0H645.0H646.0V375.5H647.0H648.0H649.0H650.0H651.0H652.0H653.0V376.5H654.0H655.0H656.0H657.0H658.0H659.0V377.5H660.0H661.0H662.0H663.0H664.0H665.0V378.5H666.0H667.0H668.0H669.0H670.0H671.0V379.5H672.0H673.0H674.0H675.0H676.0V380.5H677.0H678.0H679.0H680.0H681.0V381.5H682.0H683.0H684.0H685.0H686.0V382.5H687.0H688.0H689.0H690.0V383.5H691.0H692.0H693.0H694.0V384.5H695.0H696.0H697.0H698.0V385.5H699.0H700.0H701.0H702.0V386.5H703.0H704.0H705.0H706.0V387.5H707.0H708.0H709.0H710.0V388.5H711.0H712.0H713.0H714.0V389.5H715.0H716.0H717.0H718.0V390.5H719.0H720.0H721.0H722.0V391.5H723.0H724.0H725.0V392.5H726.0H727.0H728.0H729.0V393.5H730.0H731.0H732.0H733.0V394.5H734.0H735.0H736.0V395.5H737.0H738.0H739.0H740.0V396.5H741.0H742.0H743.0V397.5H744.0H745.0H746.0H747.0V398.5H748.0H749.0H750.0V399.5H751.0H752.0H753.0H754.0V400.5H755.0H756.0H757.0V401.5H758.0H759.0H760.0H761.0V402.5H762.0H763.0H764.0H765.0V403.5H766.0H767.0H768.0H769.0V404.5H770.0H771.0H772.0H773.0V405.5H774.0H775.0H776.0H777.0H778.0V406.5H779.0H780.0H781.0H782.0H783.0V407.5H784.0H785.0H786.0H787.0H788.0V408.5H789.0H790.0H791.0H792.0H793.0H794.0H795.0V409.5H796.0H797.0H798.0H799.0H800.0H801.0H802.0V410.5H803.0H804.0H805.0H806.0H807.0H808.0H809.0H810.0H811.0H812.0V411.5H813.0H814.0H815.0H816.0H817.0H818.0H819.0H820.0H821.0H822.0H823.0V412.5H824.0H825.0H826.0H827.0H828.0H829.0H830.0H831.0H832.0H833.0H834.0V413.5H835.0H836.0H837.0H838.0H839.0H840.0H841.0H842.0H843.0V414.5H844.0H845.0H846.0H847.0H848.0H849.0H850.0H851.0H852.0H853.0V415.5H854.0H855.0H856.0H857.0H858.0H859.0H860.0H861.0H862.0H863.0V416.5H864.0H865.0H866.0H867.0H868.0H869.0H870.0H871.0H872.0H873.0V417.5H874.0H875.0H876.0H877.0H878.0H879.0H880.0H881.0H882.0H883.0V418.5H884.0H885.0H886.0H887.0H888.0H889.0H890.0H891.0H892.0H893.0H894.0V419.5H895.0H896.0H897.0H898.0H899.0H900.0H901.0H902.0H903.0H904.0V420.5H905.0H906.0H907.0H908.0H909.0H910.0H911.0H912.0H913.0V421.5H914.0H915.0H916.0H917.0H918.0H919.0H920.0V422.5H921.0H922.0H923.0H924.0H925.0H926.0H927.0V423.5H928.0H929.0H930.0H931.0H932.0H933.0V424.5H934.0H935.0H936.0H937.0H938.0H939.0V425.5H940.0H941.0" fill="none" stroke="#8fe88f" stroke-width="1" stroke-linejoin="miter"/>
<rect x="749.7" y="353.0" width="2.4" height="91.5" fill="#ffff66"/>
<rect x="748.6" y="397.3" width="4.4" height="4.4" fill="#d8d850"/>
<rect x="532.5" y="456.5" width="408.0" height="90.0" fill="none" stroke="#fff" stroke-width="1"/>
<path d="M532.5 471.5h5.5M940.5 471.5h-5.5M532.5 486.5h5.5M940.5 486.5h-5.5M532.5 501.5h5.5M940.5 501.5h-5.5M532.5 516.5h5.5M940.5 516.5h-5.5M532.5 531.5h5.5M940.5 531.5h-5.5M591.5 546.5v-5.5M649.5 546.5v-5.5M707.5 546.5v-5.5M765.5 546.5v-5.5M823.5 546.5v-5.5M881.5 546.5v-5.5" stroke="#fff" stroke-width="1" fill="none"/>
<text x="523.5" y="476.3" text-anchor="end" class="t">700</text>
<text x="523.5" y="506.3" text-anchor="end" class="t">500</text>
<text x="523.5" y="536.3" text-anchor="end" class="t">300</text>
<text x="543.5" y="473.2" class="t">STEREO A</text>
<path d="M533.0 519.5H534.0H535.0H536.0H537.0H538.0H539.0H540.0H541.0H542.0H543.0H544.0H545.0H546.0H547.0H548.0H549.0H550.0H551.0H552.0H553.0H554.0H555.0H556.0H557.0H558.0H559.0H560.0H561.0H562.0H563.0H564.0H565.0H566.0H567.0H568.0H569.0H570.0H571.0V520.5H572.0H573.0H574.0H575.0H576.0H577.0H578.0H579.0H580.0H581.0V521.5H582.0H583.0H584.0H585.0H586.0H587.0H588.0H589.0H590.0H591.0H592.0V522.5H593.0H594.0H595.0H596.0H597.0H598.0H599.0H600.0H601.0H602.0V523.5H603.0H604.0H605.0H606.0H607.0H608.0H609.0H610.0H611.0H612.0V524.5H613.0H614.0H615.0H616.0H617.0H618.0H619.0H620.0H621.0H622.0H623.0H624.0H625.0H626.0H627.0H628.0H629.0H630.0H631.0H632.0V523.5H633.0H634.0H635.0H636.0H637.0H638.0H639.0H640.0V522.5H641.0H642.0H643.0H644.0H645.0H646.0V521.5H647.0H648.0H649.0H650.0H651.0V520.5H652.0H653.0H654.0H655.0V519.5H656.0H657.0H658.0V518.5H659.0H660.0H661.0V517.5H662.0H663.0V516.5H664.0H665.0H666.0V515.5H667.0H668.0V514.5H669.0H670.0V513.5H671.0H672.0V512.5H673.0H674.0V511.5H675.0H676.0V510.5H677.0H678.0V509.5H679.0H680.0V508.5H681.0V507.5H682.0H683.0V506.5H684.0H685.0V505.5H686.0H687.0V504.5H688.0H689.0V503.5H690.0H691.0V502.5H692.0H693.0H694.0V501.5H695.0H696.0V500.5H697.0H698.0V499.5H699.0H700.0V498.5H701.0H702.0H703.0V497.5H704.0H705.0H706.0V496.5H707.0H708.0H709.0V495.5H710.0H711.0H712.0V494.5H713.0H714.0H715.0V493.5H716.0H717.0H718.0V492.5H719.0H720.0H721.0H722.0V491.5H723.0H724.0H725.0H726.0H727.0V490.5H728.0H729.0H730.0H731.0H732.0V489.5H733.0H734.0H735.0H736.0H737.0H738.0V488.5H739.0H740.0H741.0H742.0H743.0H744.0H745.0V487.5H746.0H747.0H748.0H749.0H750.0H751.0H752.0V486.5H753.0H754.0H755.0H756.0H757.0H758.0H759.0H760.0V485.5H761.0H762.0H763.0H764.0H765.0H766.0H767.0H768.0V484.5H769.0H770.0H771.0H772.0H773.0H774.0H775.0H776.0H777.0H778.0V483.5H779.0H780.0H781.0H782.0H783.0H784.0H785.0H786.0H787.0H788.0H789.0H790.0H791.0H792.0V482.5H793.0H794.0H795.0H796.0H797.0H798.0H799.0H800.0H801.0H802.0H803.0H804.0H805.0H806.0H807.0H808.0H809.0H810.0H811.0H812.0H813.0H814.0V481.5H815.0H816.0H817.0H818.0H819.0H820.0H821.0H822.0H823.0H824.0H825.0H826.0H827.0H828.0H829.0H830.0H831.0H832.0H833.0H834.0H835.0H836.0H837.0H838.0H839.0H840.0H841.0H842.0H843.0H844.0H845.0H846.0H847.0H848.0H849.0H850.0H851.0H852.0V482.5H853.0H854.0H855.0H856.0H857.0H858.0H859.0H860.0H861.0H862.0H863.0H864.0V483.5H865.0H866.0H867.0H868.0H869.0H870.0H871.0H872.0H873.0V484.5H874.0H875.0H876.0H877.0H878.0H879.0H880.0H881.0H882.0V485.5H883.0H884.0H885.0H886.0H887.0H888.0V486.5H889.0H890.0H891.0H892.0H893.0H894.0V487.5H895.0H896.0H897.0H898.0H899.0V488.5H900.0H901.0H902.0H903.0H904.0V489.5H905.0H906.0H907.0H908.0H909.0V490.5H910.0H911.0H912.0H913.0V491.5H914.0H915.0H916.0H917.0V492.5H918.0H919.0H920.0H921.0V493.5H922.0H923.0H924.0H925.0V494.5H926.0H927.0H928.0H929.0V495.5H930.0H931.0H932.0V496.5H933.0H934.0H935.0H936.0V497.5H937.0H938.0H939.0V498.5H940.0H941.0" fill="none" stroke="#e88080" stroke-width="1" stroke-linejoin="miter"/>
<rect x="749.7" y="455.0" width="2.4" height="91.5" fill="#ffff66"/>
<rect x="748.6" y="485.3" width="4.4" height="4.4" fill="#d8d850"/>
<text x="533.5" y="299.7" text-anchor="middle" class="t">28</text>
<text x="591.5" y="299.7" text-anchor="middle" class="t">29</text>
<text x="649.5" y="299.7" text-anchor="middle" class="t">30</text>
<text x="707.5" y="299.7" text-anchor="middle" class="t">01</text>
<text x="765.5" y="299.7" text-anchor="middle" class="t">02</text>
<text x="823.5" y="299.7" text-anchor="middle" class="t">03</text>
<text x="881.5" y="299.7" text-anchor="middle" class="t">04</text>
<text x="939.5" y="299.7" text-anchor="middle" class="t">05</text>
<text x="533.5" y="562.9" text-anchor="middle" class="t">28</text>
<text x="591.5" y="562.9" text-anchor="middle" class="t">29</text>
<text x="649.5" y="562.9" text-anchor="middle" class="t">30</text>
<text x="707.5" y="562.9" text-anchor="middle" class="t">01</text>
<text x="765.5" y="562.9" text-anchor="middle" class="t">02</text>
<text x="823.5" y="562.9" text-anchor="middle" class="t">03</text>
<text x="881.5" y="562.9" text-anchor="middle" class="t">04</text>
<text x="939.5" y="562.9" text-anchor="middle" class="t">05</text>
<text x="3" y="595.6" class="f">Space Weather Prediction Center</text>
<text x="376" y="595.6" class="f" xml:space="preserve">Run Time: 2025-11-30 00:00Z  Mode: Ambient</text>
<text x="956.3" y="595.6" text-anchor="end" class="f">Image Created: 2025-11-30 01:26Z</text>
<circle cx="202" cy="184" r="73" fill="none" stroke="#000" stroke-opacity="0.42" stroke-width="0.85"/>
<circle cx="202" cy="184" r="7" fill="#000"/><circle cx="202" cy="184" r="4.3" fill="#ffff10"/>
<circle cx="274" cy="184" r="4" fill="#000"/><circle cx="274" cy="184" r="2.8" fill="#80f880"/>
<circle cx="248" cy="130" r="4" fill="#000"/><circle cx="248" cy="130" r="2.8" fill="#f08070"/>
<path d="M394.5 120.8A73 73 0 0 1 394.5 247.2" fill="none" stroke="#000" stroke-opacity="0.42" stroke-width="0.85"/>
<circle cx="358" cy="184" r="7" fill="#000"/><circle cx="358" cy="184" r="4.3" fill="#ffff10"/>
<circle cx="429.6" cy="180.5" r="4" fill="#000"/><circle cx="429.6" cy="180.5" r="2.8" fill="#80f880"/><circle cx="202" cy="448" r="73" fill="none" stroke="#000" stroke-opacity="0.42" stroke-width="0.85"/>
<circle cx="202" cy="448" r="7" fill="#000"/><circle cx="202" cy="448" r="4.3" fill="#ffff10"/>
<circle cx="274" cy="448" r="4" fill="#000"/><circle cx="274" cy="448" r="2.8" fill="#80f880"/>
<circle cx="248" cy="394" r="4" fill="#000"/><circle cx="248" cy="394" r="2.8" fill="#f08070"/>
<path d="M394.5 384.8A73 73 0 0 1 394.5 511.2" fill="none" stroke="#000" stroke-opacity="0.42" stroke-width="0.85"/>
<circle cx="358" cy="448" r="7" fill="#000"/><circle cx="358" cy="448" r="4.3" fill="#ffff10"/>
<circle cx="429.6" cy="444.5" r="4" fill="#000"/><circle cx="429.6" cy="444.5" r="2.8" fill="#80f880"/>
</svg>
</body></html>
